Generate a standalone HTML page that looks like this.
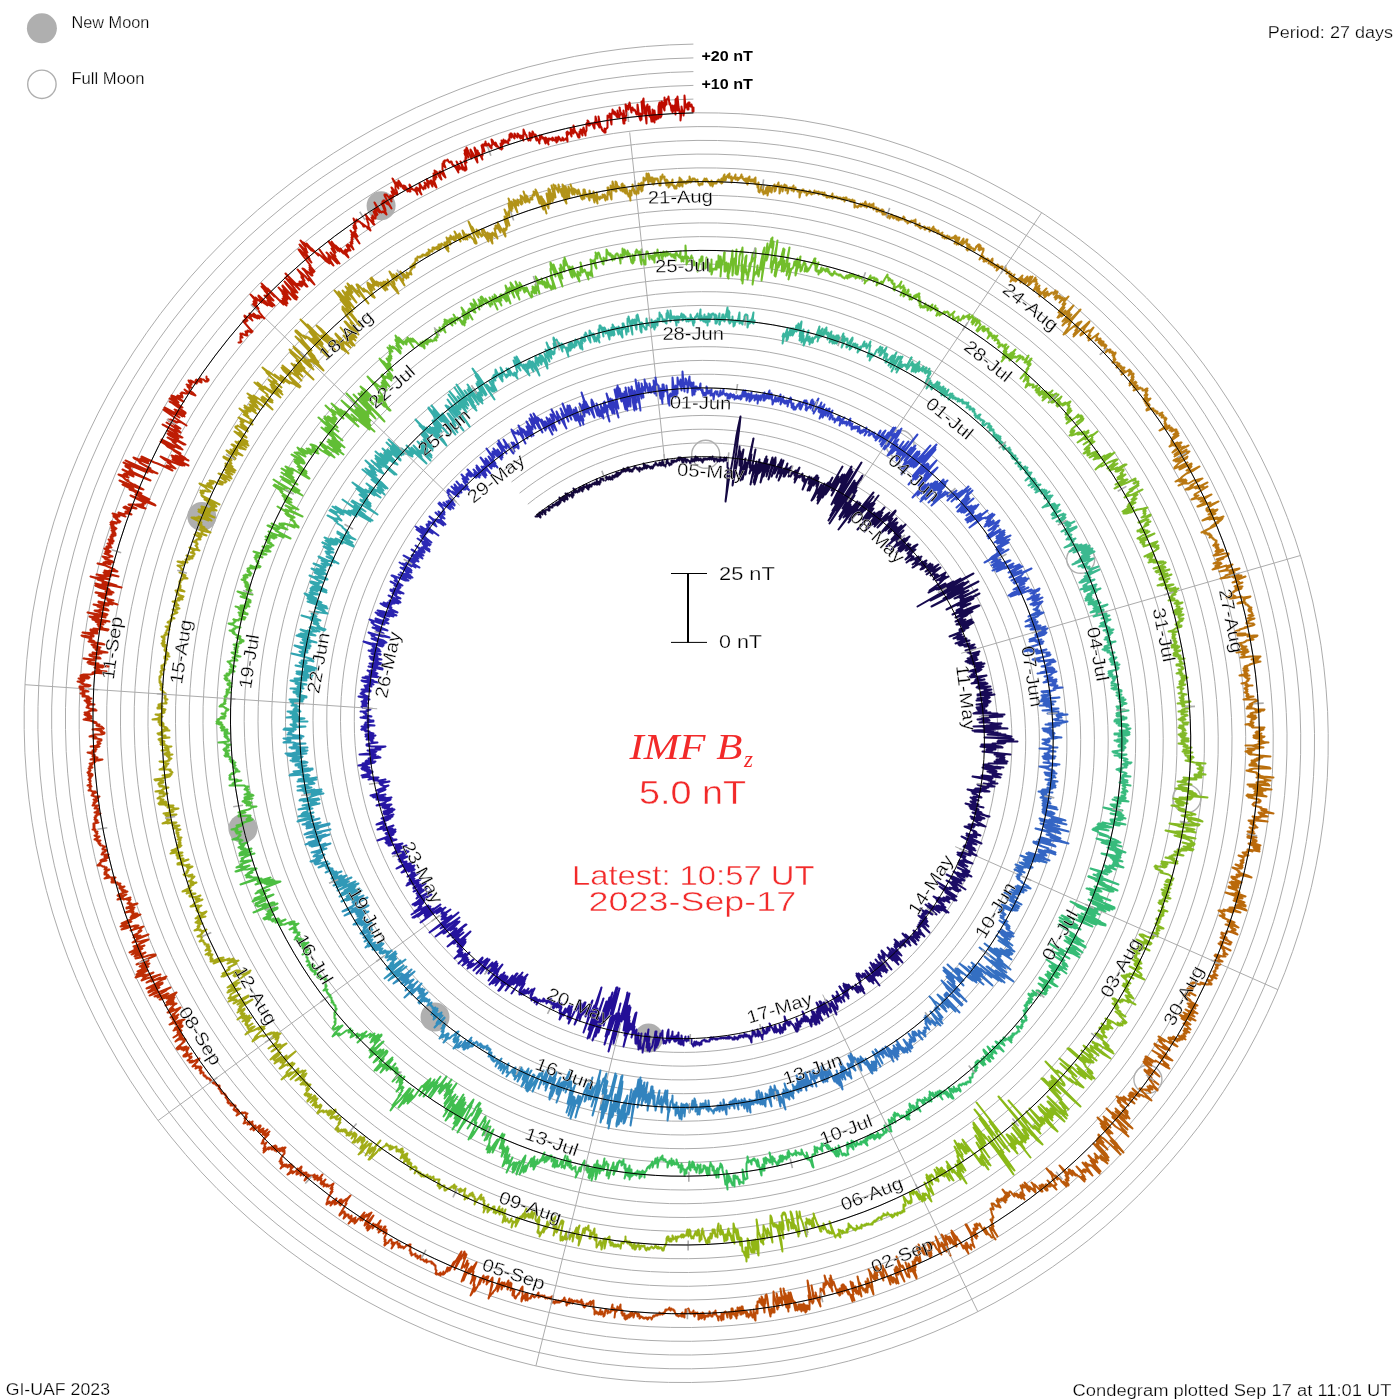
<!DOCTYPE html><html><head><meta charset="utf-8"><title>IMF Bz Condegram</title>
<style>html,body{margin:0;padding:0;background:#fff;width:1400px;height:1400px;overflow:hidden}svg{display:block}text{font-family:"Liberation Sans",Arial,sans-serif}</style></head><body>
<svg width="1400" height="1400" viewBox="0 0 1400 1400">
<rect width="1400" height="1400" fill="#fff"/>
<g fill="none" stroke="#acacac" stroke-width="1">
<path d="M527.8 504.2l7.7 -6l8 -5.6l8.2 -5.5l8.4 -5.1l8.6 -4.8l8.7 -4.6l9 -4.2l9 -3.9l9.3 -3.6l9.3 -3.3l9.5 -3l9.6 -2.7l9.6 -2.3l9.8 -1.9l9.8 -1.7l10 -1.3l9.9 -0.9l10 -0.6l10.1 -0.3l10 0.1l10 0.5l10.1 0.8l10 1.2l10 1.5l9.9 1.8l9.9 2.2l9.8 2.6l9.8 2.9l9.6 3.2l9.5 3.6l9.4 3.9l9.3 4.3l9.1 4.5l9 4.9l8.9 5.3l8.6 5.5l8.4 5.8l8.3 6.1l8.1 6.5l7.8 6.7l7.6 7l7.3 7.2l7.2 7.6l6.8 7.7l6.6 8.1l6.3 8.2l6 8.5l5.8 8.7l5.4 8.9l5.1 9.1l4.8 9.3l4.5 9.4l4.2 9.7l3.8 9.7l3.5 10l3.2 10l2.8 10.2l2.4 10.2l2.1 10.4l1.7 10.4l1.4 10.5l1 10.6l0.6 10.6l0.2 10.6l-0.1 10.7l-0.5 10.6l-0.8 10.6l-1.2 10.7l-1.6 10.5l-2 10.6l-2.4 10.4l-2.7 10.4l-3.1 10.3l-3.4 10.2l-3.8 10.1l-4.1 10l-4.5 9.8l-4.9 9.7l-5.2 9.5l-5.5 9.3l-5.9 9.1l-6.1 9l-6.5 8.7l-6.8 8.5l-7.1 8.3l-7.4 8.1l-7.7 7.7l-8 7.6l-8.2 7.2l-8.5 7l-8.7 6.6l-9 6.4l-9.2 6.1l-9.4 5.7l-9.6 5.4l-9.9 5.1l-10 4.7l-10.1 4.4l-10.4 4.1l-10.5 3.7l-10.6 3.3l-10.7 2.9l-10.9 2.6l-10.9 2.2l-11 1.8l-11.1 1.5l-11.2 1l-11.2 0.7l-11.2 0.2l-11.3 -0.1l-11.2 -0.5l-11.2 -0.9l-11.2 -1.3l-11.2 -1.7l-11.1 -2.1l-11.1 -2.5l-10.9 -2.9l-10.9 -3.2l-10.8 -3.6l-10.6 -4l-10.5 -4.4l-10.4 -4.8l-10.2 -5.1l-10 -5.5l-9.9 -5.8l-9.6 -6.2l-9.5 -6.5l-9.2 -6.9l-9 -7.1l-8.7 -7.5l-8.5 -7.9l-8.2 -8.1l-7.9 -8.4l-7.7 -8.6l-7.3 -9l-7 -9.2l-6.7 -9.5l-6.4 -9.7l-6.1 -9.9l-5.7 -10.1l-5.3 -10.4l-5 -10.5l-4.7 -10.8l-4.2 -10.9l-3.9 -11l-3.5 -11.2l-3.1 -11.3l-2.7 -11.5l-2.3 -11.5l-2 -11.6l-1.5 -11.7l-1.1 -11.7l-0.7 -11.8l-0.2 -11.9l0.1 -11.8l0.6 -11.9l0.9 -11.8l1.4 -11.8l1.8 -11.7l2.2 -11.8l2.6 -11.6l3 -11.5l3.4 -11.5l3.9 -11.3l4.2 -11.2l4.6 -11.1l5 -10.9l5.4 -10.7l5.8 -10.6l6.1 -10.3l6.5 -10.2l6.9 -9.9l7.2 -9.7l7.5 -9.5l7.9 -9.2l8.2 -8.9l8.6 -8.6l8.8 -8.3l9.1 -8.1l9.4 -7.7l9.7 -7.4l10 -7l10.2 -6.8l10.4 -6.3l10.7 -6l10.9 -5.7l11.1 -5.2l11.3 -4.9l11.4 -4.5l11.6 -4l11.8 -3.7l11.9 -3.3l12 -2.8l12.1 -2.5l12.2 -2l12.3 -1.5l12.4 -1.2l12.3 -0.7l12.5 -0.3l12.4 0.1l12.5 0.6l12.4 1l12.4 1.5l12.3 1.8l12.3 2.3l12.2 2.8l12.2 3.2l12 3.6l11.9 4l11.8 4.4l11.6 4.8l11.4 5.3l11.3 5.7l11.1 6l10.9 6.5l10.6 6.8l10.4 7.2l10.2 7.6l9.9 7.9l9.7 8.3l9.3 8.6l9.1 8.9l8.7 9.3l8.5 9.6l8.1 9.9l7.7 10.1l7.4 10.5l7.1 10.7l6.6 10.9l6.3 11.2l5.9 11.4l5.6 11.7l5.1 11.8l4.7 12l4.2 12.2l3.9 12.3l3.4 12.5l3 12.6l2.6 12.7l2.1 12.8l1.6 12.9l1.2 12.9l0.8 13l0.3 13l-0.1 13.1l-0.6 13l-1.1 13l-1.5 13l-2 13l-2.4 12.8l-2.9 12.8l-3.3 12.8l-3.8 12.5l-4.2 12.5l-4.6 12.3l-5.1 12.2l-5.5 12l-5.9 11.8l-6.3 11.6l-6.8 11.4l-7.1 11.2l-7.6 10.9l-7.9 10.7l-8.3 10.3l-8.7 10.1l-9 9.8l-9.4 9.5l-9.7 9.2l-10 8.8l-10.3 8.5l-10.7 8.1l-10.9 7.8l-11.2 7.4l-11.5 6.9l-11.7 6.6l-11.9 6.2l-12.2 5.8l-12.4 5.3l-12.5 4.9l-12.8 4.5l-12.9 4.1l-13 3.5l-13.2 3.2l-13.3 2.7l-13.4 2.2l-13.5 1.7l-13.5 1.3l-13.6 0.8l-13.6 0.3l-13.7 -0.1l-13.6 -0.7l-13.6 -1.1l-13.6 -1.6l-13.5 -2l-13.5 -2.5l-13.4 -3l-13.3 -3.5l-13.2 -3.9l-13 -4.4l-12.9 -4.9l-12.7 -5.3l-12.6 -5.7l-12.3 -6.2l-12.1 -6.6l-11.9 -7.1l-11.7 -7.5l-11.4 -7.8l-11.2 -8.3l-10.8 -8.7l-10.6 -9l-10.2 -9.5l-9.9 -9.8l-9.6 -10.1l-9.2 -10.5l-8.9 -10.8l-8.5 -11.1l-8.1 -11.4l-7.7 -11.7l-7.3 -12l-6.9 -12.2l-6.5 -12.5l-6 -12.7l-5.6 -12.9l-5.1 -13.1l-4.7 -13.3l-4.2 -13.5l-3.8 -13.6l-3.2 -13.8l-2.8 -13.9l-2.4 -13.9l-1.8 -14.1l-1.3 -14.2l-0.9 -14.1l-0.3 -14.3l0.2 -14.2l0.6 -14.2l1.1 -14.3l1.7 -14.1l2.1 -14.2l2.7 -14l3.1 -14l3.6 -13.9l4.1 -13.7l4.6 -13.6l5 -13.5l5.6 -13.3l6 -13l6.4 -12.9l6.9 -12.7l7.4 -12.4l7.8 -12.2l8.2 -11.9l8.6 -11.6l9 -11.4l9.5 -11l9.8 -10.7l10.2 -10.3l10.6 -10l10.9 -9.6l11.3 -9.3l11.5 -8.8l11.9 -8.5l12.2 -8l12.5 -7.7l12.8 -7.1l13 -6.8l13.2 -6.3l13.5 -5.8l13.7 -5.4l13.8 -4.9l14.1 -4.4l14.2 -3.9l14.3 -3.4l14.5 -2.9l14.6 -2.4l14.6 -1.9l14.7 -1.4l14.8 -0.9l14.8 -0.4l14.9 0.2l14.8 0.6l14.8 1.2l14.8 1.7l14.7 2.2l14.7 2.8l14.5 3.2l14.5 3.8l14.3 4.2l14.2 4.8l14 5.3l13.9 5.7l13.6 6.3l13.4 6.7l13.2 7.2l13 7.6l12.6 8.1l12.4 8.6l12.1 8.9l11.8 9.5l11.5 9.8l11.2 10.2l10.7 10.6l10.4 11l10.1 11.4l9.6 11.7l9.2 12.1l8.8 12.3l8.4 12.7l8 13l7.5 13.3l7 13.5l6.5 13.8l6.1 14l5.6 14.3l5.1 14.4l4.6 14.6l4.1 14.8l3.5 14.9l3.1 15l2.5 15.2l2 15.3l1.5 15.3l0.9 15.4l0.4 15.4l-0.2 15.4l-0.7 15.5l-1.2 15.4l-1.7 15.3l-2.3 15.4l-2.9 15.2l-3.4 15.1l-3.9 15.1l-4.4 14.9l-4.9 14.7l-5.5 14.6l-6 14.4l-6.4 14.2l-7 13.9l-7.5 13.8l-7.9 13.4l-8.4 13.2l-8.9 12.9l-9.4 12.6l-9.7 12.3l-10.2 11.9l-10.7 11.6l-11 11.2l-11.4 10.9l-11.8 10.4l-12.2 10l-12.5 9.6l-12.9 9.2l-13.2 8.7l-13.5 8.3l-13.8 7.8l-14 7.3l-14.3 6.8l-14.6 6.3l-14.8 5.8l-15 5.3l-15.2 4.8l-15.3 4.3l-15.5 3.7l-15.7 3.1l-15.7 2.7l-15.9 2.1l-15.9 1.5l-16 1l-16 0.4l-16 -0.2l-16 -0.7l-16 -1.2l-16 -1.9l-15.9 -2.3l-15.9 -3l-15.7 -3.5l-15.6 -4l-15.5 -4.6l-15.3 -5.1l-15.1 -5.7l-15 -6.2l-14.7 -6.7l-14.5 -7.2l-14.3 -7.8l-14 -8.2l-13.7 -8.8l-13.4 -9.2l-13.1 -9.6l-12.7 -10.2l-12.4 -10.6l-12 -11l-11.7 -11.4l-11.2 -11.9l-10.9 -12.2l-10.4 -12.7l-10 -13l-9.5 -13.3l-9 -13.7l-8.6 -14l-8.1 -14.3l-7.6 -14.6l-7.1 -14.8l-6.6 -15.1l-6 -15.4l-5.5 -15.5l-5 -15.8l-4.4 -15.9l-3.9 -16.1l-3.3 -16.2l-2.7 -16.4l-2.2 -16.4l-1.6 -16.5l-1 -16.6l-0.5 -16.6l0.2 -16.6l0.7 -16.7l1.3 -16.6l1.9 -16.5l2.4 -16.5l3.1 -16.5l3.6 -16.3l4.2 -16.2l4.7 -16l5.3 -15.9l5.9 -15.7l6.4 -15.5l6.9 -15.3l7.5 -15.1l8 -14.8l8.6 -14.5l9 -14.2l9.6 -13.9l10 -13.6l10.5 -13.2l11 -12.8l11.4 -12.5l11.8 -12.1l12.3 -11.7l12.7 -11.2l13.1 -10.8l13.5 -10.4l13.8 -9.9l14.2 -9.4l14.5 -8.9l14.8 -8.4l15.1 -7.8l15.4 -7.4l15.6 -6.8l15.9 -6.3l16.1 -5.7l16.4 -5.2l16.5 -4.6l16.6 -4l16.8 -3.4l16.9 -2.9l17.1 -2.3l17.1 -1.6l17.2 -1.1l17.2 -0.5l17.2 0.2l17.2 0.7l17.3 1.3l17.1 2l17.1 2.5l17 3.1l16.9 3.8l16.8 4.3l16.6 4.9l16.5 5.5l16.3 6l16.1 6.7l15.8 7.2l15.6 7.7l15.3 8.3l15 8.8l14.8 9.4l14.4 9.8l14 10.4l13.7 10.9l13.3 11.3l13 11.8l12.5 12.3l12.1 12.7l11.6 13.1l11.2 13.6l10.8 13.9l10.2 14.3l9.7 14.7l9.3 15l8.7 15.3l8.2 15.6l7.6 16l7.1 16.2l6.5 16.4l5.9 16.7l5.4 16.9l4.7 17l4.2 17.3l3.6 17.4l2.9 17.5l2.4 17.6l1.7 17.7l1.1 17.8l0.5 17.8l-0.1 17.8l-0.7 17.9l-1.4 17.8l-2 17.7l-2.6 17.7l-3.2 17.6l-3.8 17.5l-4.5 17.4l-5.1 17.2l-5.6 17l-6.3 16.9l-6.8 16.6l-7.4 16.4l-8 16.1l-8.6 15.9l-9.1 15.5l-9.7 15.3l-10.2 14.9l-10.7 14.5l-11.2 14.2l-11.7 13.8l-12.3 13.4l-12.6 12.9l-13.2 12.6l-13.5 12l-14 11.6l-14.4 11.1l-14.8 10.6l-15.1 10.1l-15.6 9.6l-15.8 9l-16.2 8.4l-16.4 7.9l-16.8 7.4l-17 6.7l-17.2 6.2l-17.4 5.5l-17.7 5l-17.8 4.3l-18 3.7l-18.1 3.1l-18.2 2.4l-18.3 1.8l-18.4 1.2l-18.4 0.5l-18.4 -0.1l-18.4 -0.7l-18.4 -1.4l-18.4 -2.1l-18.3 -2.6l-18.2 -3.4l-18.1 -3.9l-17.9 -4.6l-17.8 -5.2l-17.6 -5.8l-17.4 -6.5l-17.2 -7.1l-17 -7.6l-16.6 -8.3l-16.4 -8.8l-16.1 -9.4l-15.8 -10l-15.4 -10.5l-15 -11.1l-14.7 -11.5l-14.2 -12.1l-13.9 -12.6l-13.4 -13.1l-12.9 -13.6l-12.5 -14l-11.9 -14.4l-11.5 -14.9l-11 -15.2l-10.4 -15.7l-9.9 -16l-9.3 -16.3l-8.8 -16.7l-8.2 -17l-7.6 -17.3l-6.9 -17.5l-6.4 -17.8l-5.8 -18.1l-5.1 -18.2l-4.5 -18.4l-3.8 -18.5l-3.2 -18.7l-2.5 -18.8l-1.9 -18.9l-1.3 -19l-0.5 -19l0.1 -19l0.7 -19.1l1.5 -19l2 -18.9l2.8 -18.9l3.4 -18.8l4.1 -18.7l4.7 -18.5l5.3 -18.4l6.1 -18.1l6.6 -18l7.3 -17.8l7.9 -17.5l8.5 -17.2l9.1 -16.9l9.7 -16.6l10.2 -16.3l10.9 -15.9l11.4 -15.5l11.9 -15.2l12.5 -14.7l13 -14.3l13.5 -13.8l13.9 -13.4l14.5 -12.9l14.9 -12.4l15.3 -11.8l15.7 -11.3l16.2 -10.8l16.5 -10.2l16.8 -9.7l17.2 -9l17.6 -8.5l17.8 -7.8l18.1 -7.2l18.3 -6.6l18.6 -6l18.8 -5.3l19 -4.6l19.1 -4l19.3 -3.3l19.4 -2.7l19.5 -1.9l19.6 -1.3l19.6 -0.6l19.6 0.1l19.6 0.7l19.6 1.5l19.6 2.1l19.5 2.8l19.3 3.5l19.3 4.2l19.1 4.9l19 5.5l18.7 6.1l18.6 6.9l18.3 7.5l18 8.1l17.8 8.7l17.4 9.4l17.2 10l16.8 10.6l16.4 11.1l16 11.8l15.6 12.3l15.2 12.8l14.8 13.4l14.3 13.9l13.8 14.4l13.3 14.8l12.7 15.4l12.3 15.8l11.7 16.2l11.1 16.6l10.5 17l10 17.4l9.3 17.7l8.8 18.1l8.1 18.3l7.4 18.7l6.8 18.9l6.2 19.1l5.5 19.4l4.8 19.6l4.1 19.7l3.4 19.8l2.8 20l2 20.1l1.4 20.2l0.6 20.2l-0.1 20.2l-0.7 20.2l-1.5 20.2l-2.2 20.2l-2.9 20.1l-3.6 19.9l-4.2 19.9l-5 19.7l-5.7 19.5l-6.3 19.4l-7 19.1l-7.7 18.8l-8.4 18.6l-9 18.3l-9.6 18l-10.3 17.7l-10.9 17.3l-11.4 16.9l-12.1 16.6l-12.7 16.1l-13.2 15.6l-13.8 15.2l-14.3 14.8l-14.8 14.2l-15.3 13.7l-15.8 13.2l-16.2 12.6l-16.7 12.1l-17.1 11.4l-17.5 10.9l-17.9 10.3l-18.2 9.6l-18.6 9l-18.9 8.4l-19.2 7.7l-19.5 7l-19.7 6.4l-19.9 5.6l-20.2 5l-20.3 4.3l-20.4 3.5l-20.6 2.9l-20.7 2.1l-20.7 1.4l-20.8 0.7l-20.9 -0.1l-20.8 -0.7l-20.8 -1.5l-20.7 -2.3l-20.7 -2.9l-20.6 -3.7l-20.4 -4.4l-20.3 -5.1l-20.1 -5.8l-19.9 -6.5l-19.7 -7.2l-19.4 -7.9l-19.2 -8.6l-18.9 -9.2l-18.5 -9.9l-18.2 -10.5l-17.8 -11.2l-17.4 -11.8l-17.1 -12.4l-16.6 -13.1l-16.1 -13.5l-15.7 -14.2l-15.1 -14.7l-14.7 -15.2l-14.1 -15.8l-13.6 -16.2l-13 -16.7l-12.4 -17.2l-11.8 -17.5l-11.3 -18.1l-10.5 -18.4l-10 -18.7l-9.3 -19.1l-8.6 -19.5l-7.9 -19.7l-7.3 -20l-6.6 -20.3l-5.8 -20.5l-5.1 -20.7l-4.4 -20.9l-3.7 -21.1l-3 -21.1l-2.2 -21.3l-1.5 -21.3l-0.7 -21.4l0 -21.5l0.8 -21.4l1.5 -21.4l2.3 -21.3l3 -21.3l3.8 -21.2l4.5 -21l5.2 -20.9l5.9 -20.7l6.7 -20.5l7.4 -20.2l8.1 -20l8.8 -19.7l9.5 -19.4l10.2 -19.1l10.8 -18.7l11.5 -18.4l12.1 -17.9l12.7 -17.5l13.4 -17.1l14 -16.6l14.5 -16.1l15.1 -15.6l15.6 -15.1l16.2 -14.6l16.7 -14l17.1 -13.3l17.7 -12.8l18.1 -12.2l18.5 -11.6l18.9 -10.9l19.3 -10.2l19.6 -9.6l20 -8.9l20.3 -8.2l20.5 -7.5l20.9 -6.7l21.1 -6l21.2 -5.3l21.5 -4.6l21.6 -3.8l21.8 -3.1l21.9 -2.3l21.9 -1.5l22 -0.8"/>
<path d="M519.6 493.1l8.2 -6.2l8.4 -6l8.6 -5.6l8.8 -5.4l9 -5.1l9.2 -4.7l9.4 -4.4l9.5 -4.1l9.7 -3.8l9.8 -3.5l9.9 -3.1l10 -2.7l10.2 -2.4l10.2 -2.1l10.4 -1.7l10.3 -1.3l10.5 -1l10.5 -0.6l10.5 -0.2l10.5 0.1l10.5 0.5l10.5 0.9l10.5 1.2l10.5 1.6l10.4 2l10.3 2.3l10.3 2.7l10.2 3l10.1 3.4l10 3.8l9.8 4.1l9.7 4.5l9.6 4.8l9.4 5.1l9.2 5.5l9 5.8l8.9 6.1l8.6 6.5l8.4 6.7l8.2 7l7.9 7.4l7.7 7.6l7.5 7.9l7.1 8.1l6.9 8.4l6.6 8.7l6.3 8.8l6 9.1l5.6 9.4l5.4 9.5l5 9.7l4.7 9.9l4.3 10.1l4 10.2l3.6 10.4l3.3 10.5l2.9 10.6l2.5 10.8l2.2 10.8l1.8 10.9l1.4 11l1 11l0.7 11.1l0.2 11.1l-0.1 11.1l-0.6 11.2l-0.9 11.1l-1.3 11.1l-1.7 11l-2.1 11l-2.4 10.9l-2.9 10.9l-3.2 10.7l-3.6 10.7l-4 10.5l-4.3 10.4l-4.7 10.3l-5.1 10.1l-5.5 9.9l-5.7 9.7l-6.2 9.6l-6.4 9.3l-6.8 9.1l-7.1 8.9l-7.5 8.6l-7.7 8.4l-8 8.1l-8.4 7.8l-8.6 7.6l-8.8 7.2l-9.2 7l-9.3 6.6l-9.6 6.3l-9.9 6l-10 5.6l-10.3 5.3l-10.4 5l-10.6 4.5l-10.8 4.2l-11 3.9l-11.1 3.4l-11.2 3.1l-11.3 2.7l-11.4 2.2l-11.5 1.9l-11.6 1.5l-11.6 1.1l-11.7 0.6l-11.7 0.3l-11.7 -0.2l-11.7 -0.5l-11.8 -1l-11.6 -1.4l-11.7 -1.7l-11.6 -2.2l-11.5 -2.6l-11.4 -3l-11.3 -3.4l-11.2 -3.8l-11.1 -4.2l-11 -4.6l-10.8 -5l-10.6 -5.3l-10.5 -5.8l-10.2 -6l-10 -6.5l-9.9 -6.8l-9.6 -7.2l-9.3 -7.5l-9.1 -7.8l-8.8 -8.1l-8.5 -8.5l-8.3 -8.7l-7.9 -9.1l-7.7 -9.3l-7.3 -9.6l-7 -9.9l-6.6 -10.1l-6.3 -10.3l-5.9 -10.6l-5.6 -10.8l-5.2 -11l-4.8 -11.2l-4.4 -11.3l-4 -11.5l-3.6 -11.7l-3.2 -11.7l-2.9 -11.9l-2.3 -12.1l-2 -12l-1.6 -12.2l-1.1 -12.2l-0.7 -12.3l-0.3 -12.3l0.2 -12.4l0.6 -12.3l1 -12.3l1.4 -12.3l1.9 -12.2l2.3 -12.2l2.7 -12.1l3.2 -12l3.6 -11.9l4 -11.8l4.4 -11.6l4.8 -11.5l5.2 -11.3l5.6 -11.2l6 -11l6.4 -10.7l6.8 -10.6l7.1 -10.3l7.6 -10.1l7.8 -9.8l8.2 -9.5l8.6 -9.3l8.9 -8.9l9.2 -8.7l9.5 -8.3l9.8 -8l10 -7.7l10.4 -7.3l10.6 -7l10.9 -6.6l11.1 -6.2l11.3 -5.9l11.5 -5.4l11.7 -5.1l11.9 -4.6l12.1 -4.2l12.2 -3.8l12.4 -3.4l12.5 -2.9l12.6 -2.6l12.6 -2l12.8 -1.7l12.8 -1.1l12.9 -0.8l12.9 -0.3l12.9 0.2l13 0.6l12.9 1.1l12.8 1.5l12.9 1.9l12.7 2.5l12.7 2.8l12.6 3.3l12.5 3.8l12.3 4.2l12.2 4.6l12.1 5l11.9 5.5l11.7 5.9l11.4 6.3l11.3 6.7l11.1 7.1l10.8 7.5l10.5 7.8l10.3 8.3l10 8.6l9.7 8.9l9.4 9.3l9.1 9.6l8.7 10l8.4 10.2l8 10.6l7.7 10.8l7.3 11.2l6.9 11.3l6.5 11.6l6.2 11.9l5.7 12.1l5.2 12.2l4.9 12.5l4.4 12.6l4 12.8l3.5 13l3.1 13l2.7 13.2l2.1 13.3l1.7 13.3l1.3 13.5l0.8 13.4l0.3 13.5l-0.2 13.6l-0.6 13.5l-1.1 13.5l-1.6 13.4l-2.1 13.5l-2.5 13.3l-3 13.3l-3.4 13.1l-4 13.1l-4.3 12.9l-4.9 12.8l-5.2 12.6l-5.8 12.4l-6.1 12.3l-6.6 12l-7 11.8l-7.4 11.5l-7.8 11.3l-8.3 11.1l-8.6 10.7l-9 10.5l-9.3 10.1l-9.7 9.8l-10.1 9.5l-10.4 9.2l-10.7 8.7l-11 8.4l-11.4 8.1l-11.6 7.6l-11.8 7.2l-12.2 6.8l-12.4 6.4l-12.6 6l-12.8 5.5l-13 5.1l-13.2 4.6l-13.4 4.2l-13.5 3.7l-13.6 3.2l-13.8 2.8l-13.9 2.2l-13.9 1.8l-14 1.3l-14.1 0.8l-14.1 0.4l-14.1 -0.2l-14.1 -0.7l-14.1 -1.1l-14.1 -1.7l-14 -2.1l-14 -2.6l-13.8 -3.2l-13.8 -3.6l-13.6 -4l-13.5 -4.6l-13.3 -5l-13.2 -5.5l-12.9 -6l-12.8 -6.4l-12.6 -6.9l-12.3 -7.3l-12 -7.7l-11.8 -8.2l-11.6 -8.6l-11.2 -8.9l-10.9 -9.4l-10.6 -9.8l-10.2 -10.1l-9.9 -10.5l-9.6 -10.8l-9.1 -11.2l-8.8 -11.5l-8.4 -11.8l-7.9 -12.1l-7.6 -12.4l-7.1 -12.7l-6.7 -12.9l-6.2 -13.1l-5.7 -13.4l-5.3 -13.6l-4.9 -13.7l-4.3 -14l-3.9 -14.1l-3.4 -14.2l-2.8 -14.4l-2.4 -14.4l-1.9 -14.6l-1.4 -14.6l-0.8 -14.6l-0.4 -14.7l0.2 -14.8l0.7 -14.7l1.2 -14.7l1.7 -14.6l2.2 -14.6l2.8 -14.6l3.2 -14.4l3.8 -14.3l4.2 -14.2l4.7 -14.1l5.3 -13.9l5.7 -13.7l6.2 -13.5l6.7 -13.3l7.1 -13.1l7.6 -12.8l8.1 -12.6l8.5 -12.3l8.9 -12l9.4 -11.7l9.7 -11.4l10.2 -11l10.5 -10.7l11 -10.3l11.3 -9.9l11.6 -9.6l12 -9.1l12.3 -8.7l12.6 -8.3l12.9 -7.9l13.1 -7.4l13.5 -7l13.7 -6.5l13.9 -6l14.1 -5.5l14.3 -5l14.5 -4.6l14.7 -4l14.8 -3.5l14.9 -3l15.1 -2.5l15.1 -2l15.2 -1.4l15.3 -0.9l15.3 -0.3l15.3 0.1l15.3 0.7l15.3 1.3l15.3 1.7l15.2 2.3l15.1 2.9l15 3.3l14.9 3.9l14.8 4.4l14.6 5l14.5 5.4l14.3 6l14 6.4l13.9 6.9l13.6 7.5l13.4 7.9l13 8.3l12.8 8.9l12.5 9.3l12.2 9.7l11.8 10.1l11.5 10.6l11.1 10.9l10.7 11.4l10.4 11.7l9.9 12.1l9.5 12.5l9.1 12.7l8.6 13.1l8.2 13.4l7.7 13.7l7.3 14l6.7 14.2l6.3 14.5l5.7 14.7l5.3 14.9l4.7 15l4.2 15.3l3.6 15.4l3.2 15.5l2.6 15.6l2 15.8l1.5 15.8l1 15.8l0.3 15.9l-0.1 15.9l-0.7 15.9l-1.3 15.9l-1.9 15.9l-2.3 15.8l-3 15.7l-3.5 15.6l-4 15.5l-4.6 15.3l-5.1 15.2l-5.6 15.1l-6.2 14.8l-6.7 14.6l-7.2 14.4l-7.7 14.1l-8.2 13.9l-8.7 13.6l-9.1 13.3l-9.7 13l-10 12.6l-10.6 12.3l-10.9 11.9l-11.4 11.6l-11.8 11.1l-12.2 10.8l-12.5 10.3l-12.9 9.9l-13.3 9.4l-13.6 9l-13.9 8.5l-14.2 8l-14.5 7.5l-14.7 7l-15.1 6.5l-15.2 6l-15.4 5.5l-15.7 4.9l-15.8 4.4l-16 3.8l-16.1 3.2l-16.2 2.7l-16.3 2.2l-16.4 1.5l-16.5 1l-16.5 0.4l-16.5 -0.1l-16.5 -0.8l-16.5 -1.3l-16.4 -1.9l-16.4 -2.4l-16.3 -3.1l-16.2 -3.6l-16.1 -4.1l-15.9 -4.8l-15.8 -5.3l-15.6 -5.8l-15.4 -6.4l-15.1 -6.9l-15 -7.5l-14.7 -8l-14.3 -8.5l-14.1 -9l-13.8 -9.5l-13.5 -9.9l-13.1 -10.5l-12.8 -10.9l-12.3 -11.3l-12 -11.8l-11.6 -12.2l-11.1 -12.6l-10.8 -13.1l-10.2 -13.3l-9.8 -13.8l-9.3 -14.1l-8.8 -14.4l-8.4 -14.7l-7.8 -15l-7.3 -15.3l-6.7 -15.6l-6.2 -15.8l-5.7 -16l-5.1 -16.2l-4.5 -16.4l-4 -16.5l-3.4 -16.7l-2.8 -16.8l-2.2 -16.9l-1.6 -17l-1.1 -17.1l-0.4 -17.1l0.1 -17.1l0.8 -17.1l1.3 -17.1l2 -17l2.5 -17l3.1 -16.9l3.8 -16.8l4.3 -16.7l4.9 -16.5l5.4 -16.3l6.1 -16.2l6.6 -15.9l7.2 -15.7l7.7 -15.5l8.2 -15.2l8.8 -14.9l9.3 -14.6l9.8 -14.3l10.4 -14l10.8 -13.6l11.3 -13.2l11.7 -12.8l12.2 -12.4l12.6 -12l13.1 -11.6l13.5 -11.1l13.8 -10.6l14.2 -10.2l14.6 -9.6l14.9 -9.2l15.3 -8.6l15.5 -8.1l15.8 -7.5l16.1 -7l16.4 -6.5l16.5 -5.9l16.8 -5.3l17 -4.7l17.1 -4.1l17.3 -3.5l17.4 -2.9l17.5 -2.4l17.6 -1.7l17.7 -1l17.6 -0.5l17.8 0.1l17.7 0.8l17.7 1.4l17.6 2l17.6 2.6l17.5 3.2l17.3 3.9l17.3 4.4l17.1 5.1l16.9 5.6l16.7 6.2l16.5 6.9l16.3 7.4l16 7.9l15.7 8.6l15.5 9l15.1 9.7l14.8 10.1l14.4 10.7l14.1 11.1l13.7 11.7l13.2 12.1l12.9 12.7l12.4 13l12 13.5l11.5 13.9l11 14.3l10.5 14.7l10 15.1l9.5 15.4l8.9 15.8l8.4 16.1l7.8 16.3l7.3 16.7l6.6 16.9l6.1 17.1l5.5 17.3l4.9 17.6l4.3 17.7l3.6 17.8l3.1 18l2.4 18.1l1.8 18.2l1.1 18.3l0.5 18.3l-0.1 18.3l-0.8 18.3l-1.4 18.3l-2.1 18.2l-2.7 18.2l-3.3 18l-3.9 18l-4.6 17.8l-5.2 17.7l-5.8 17.5l-6.5 17.3l-7 17l-7.6 16.9l-8.3 16.5l-8.8 16.3l-9.3 15.9l-10 15.7l-10.4 15.3l-11 14.9l-11.6 14.6l-12 14.1l-12.5 13.7l-13.1 13.3l-13.4 12.9l-14 12.3l-14.3 11.9l-14.8 11.4l-15.2 10.9l-15.6 10.3l-15.9 9.8l-16.3 9.3l-16.6 8.7l-16.8 8.1l-17.2 7.5l-17.5 6.9l-17.7 6.3l-17.9 5.7l-18.1 5l-18.3 4.5l-18.4 3.8l-18.6 3.1l-18.7 2.5l-18.8 1.9l-18.8 1.2l-18.9 0.5l-18.9 -0.1l-18.9 -0.8l-18.9 -1.4l-18.8 -2.2l-18.8 -2.7l-18.7 -3.4l-18.5 -4.1l-18.4 -4.7l-18.3 -5.4l-18 -6l-17.9 -6.6l-17.6 -7.2l-17.4 -7.9l-17.1 -8.5l-16.8 -9l-16.5 -9.7l-16.1 -10.2l-15.8 -10.8l-15.5 -11.4l-15 -11.9l-14.6 -12.4l-14.2 -12.9l-13.7 -13.4l-13.3 -13.9l-12.8 -14.4l-12.3 -14.8l-11.7 -15.3l-11.3 -15.6l-10.6 -16.1l-10.2 -16.4l-9.5 -16.8l-9 -17.1l-8.4 -17.4l-7.8 -17.8l-7.1 -17.9l-6.5 -18.3l-5.9 -18.5l-5.3 -18.6l-4.5 -18.9l-4 -19l-3.2 -19.2l-2.6 -19.3l-2 -19.4l-1.2 -19.4l-0.6 -19.5l0.1 -19.5l0.8 -19.5l1.5 -19.5l2.1 -19.4l2.9 -19.4l3.5 -19.2l4.1 -19.2l4.9 -19l5.5 -18.8l6.2 -18.6l6.8 -18.5l7.4 -18.2l8.1 -17.9l8.8 -17.6l9.3 -17.4l9.9 -17l10.6 -16.7l11.1 -16.3l11.7 -15.9l12.2 -15.5l12.8 -15.1l13.3 -14.6l13.9 -14.2l14.3 -13.7l14.8 -13.2l15.3 -12.7l15.7 -12.1l16.1 -11.6l16.5 -11l17 -10.5l17.3 -9.9l17.6 -9.2l18 -8.7l18.2 -8l18.6 -7.4l18.8 -6.7l19 -6.1l19.3 -5.4l19.4 -4.8l19.6 -4.1l19.8 -3.4l19.9 -2.7l19.9 -2l20.1 -1.3l20 -0.6l20.2 0.1l20.1 0.8l20 1.5l20.1 2.2l19.9 2.9l19.9 3.6l19.7 4.3l19.6 5l19.4 5.6l19.2 6.3l19 7.1l18.7 7.6l18.5 8.3l18.2 9l17.9 9.6l17.5 10.3l17.2 10.8l16.8 11.4l16.5 12.1l15.9 12.6l15.6 13.1l15.1 13.7l14.6 14.3l14.1 14.7l13.6 15.3l13.1 15.7l12.5 16.1l12 16.6l11.4 17.1l10.8 17.4l10.2 17.8l9.5 18.2l9 18.4l8.2 18.8l7.7 19.1l6.9 19.4l6.3 19.6l5.6 19.8l4.9 20.1l4.3 20.1l3.5 20.4l2.8 20.5l2 20.5l1.4 20.7l0.7 20.6l-0.1 20.7l-0.8 20.8l-1.5 20.6l-2.3 20.7l-2.9 20.5l-3.7 20.5l-4.4 20.3l-5.1 20.1l-5.8 20l-6.5 19.8l-7.2 19.6l-7.9 19.3l-8.5 19l-9.3 18.8l-9.8 18.4l-10.5 18l-11.2 17.8l-11.7 17.3l-12.4 16.9l-13 16.5l-13.5 16l-14.1 15.5l-14.6 15.1l-15.2 14.5l-15.7 14.1l-16.1 13.4l-16.7 13l-17 12.3l-17.5 11.7l-18 11.2l-18.3 10.5l-18.7 9.8l-19 9.2l-19.3 8.6l-19.7 7.8l-19.9 7.2l-20.2 6.5l-20.3 5.8l-20.6 5.1l-20.8 4.3l-21 3.7l-21 2.9l-21.2 2.1l-21.2 1.5l-21.3 0.7l-21.3 -0.1l-21.3 -0.8l-21.3 -1.5l-21.2 -2.3l-21.1 -3.1l-21.1 -3.7l-20.9 -4.5l-20.7 -5.2l-20.6 -6l-20.4 -6.7l-20.1 -7.3l-19.9 -8.1l-19.6 -8.8l-19.3 -9.5l-18.9 -10.1l-18.6 -10.8l-18.2 -11.4l-17.9 -12.1l-17.4 -12.7l-16.9 -13.3l-16.5 -13.9l-16 -14.5l-15.5 -15.1l-15 -15.5l-14.5 -16.1l-13.8 -16.6l-13.3 -17.1l-12.7 -17.6l-12.1 -18l-11.5 -18.4l-10.8 -18.8l-10.2 -19.2l-9.5 -19.6l-8.8 -19.9l-8.1 -20.1l-7.4 -20.5l-6.7 -20.7l-6 -21l-5.2 -21.2l-4.5 -21.3l-3.8 -21.6l-3 -21.6l-2.2 -21.8l-1.5 -21.8l-0.7 -21.9l0 -21.9l0.8 -21.9l1.6 -21.9l2.3 -21.8l3.1 -21.7l3.8 -21.7l4.6 -21.5l5.4 -21.3l6.1 -21.1l6.8 -21l7.6 -20.7l8.3 -20.4l9 -20.2l9.7 -19.8l10.4 -19.5l11 -19.1l11.8 -18.8l12.4 -18.3l13 -17.9l13.7 -17.5l14.2 -16.9l14.9 -16.5l15.4 -16l16 -15.4l16.6 -14.8l17 -14.3l17.6 -13.7l18 -13.1l18.5 -12.4l18.9 -11.8l19.3 -11.1l19.7 -10.5l20.1 -9.8l20.4 -9l20.8 -8.4l21 -7.6l21.3 -6.9l21.5 -6.2l21.8 -5.4l21.9 -4.7l22.1 -3.8l22.3 -3.2l22.3 -2.3l22.4 -1.5l22.5 -0.8"/>
<path d="M511.5 482l8.6 -6.5l8.8 -6.2l9 -5.9l9.2 -5.6l9.4 -5.3l9.7 -5l9.8 -4.6l9.9 -4.3l10.1 -3.9l10.3 -3.6l10.4 -3.2l10.5 -2.9l10.6 -2.5l10.8 -2.1l10.8 -1.7l10.8 -1.4l10.9 -1l11 -0.6l11 -0.3l11 0.2l11 0.5l11 0.9l11 1.3l10.9 1.7l10.9 2.1l10.8 2.4l10.7 2.9l10.7 3.2l10.5 3.6l10.4 3.9l10.3 4.3l10.1 4.7l10 5l9.8 5.4l9.6 5.8l9.5 6l9.2 6.4l9 6.8l8.8 7l8.5 7.4l8.3 7.7l8 7.9l7.8 8.3l7.4 8.5l7.2 8.8l6.8 9l6.6 9.3l6.2 9.5l5.9 9.7l5.6 10l5.2 10.2l4.9 10.3l4.5 10.5l4.2 10.7l3.7 10.8l3.4 11l3 11.1l2.7 11.2l2.2 11.3l1.9 11.4l1.4 11.5l1.1 11.5l0.6 11.5l0.3 11.6l-0.2 11.6l-0.6 11.6l-0.9 11.6l-1.4 11.6l-1.8 11.5l-2.2 11.5l-2.6 11.4l-3 11.3l-3.3 11.2l-3.8 11.1l-4.2 10.9l-4.5 10.9l-5 10.7l-5.3 10.5l-5.6 10.3l-6.1 10.1l-6.4 10l-6.7 9.7l-7.1 9.5l-7.5 9.2l-7.7 9l-8.1 8.7l-8.4 8.5l-8.7 8.1l-8.9 7.9l-9.3 7.5l-9.5 7.2l-9.8 6.9l-10 6.6l-10.2 6.2l-10.5 5.9l-10.7 5.5l-10.9 5.1l-11.1 4.7l-11.2 4.4l-11.4 4l-11.5 3.5l-11.7 3.2l-11.8 2.8l-11.9 2.3l-12 2l-12 1.5l-12.1 1.1l-12.2 0.7l-12.2 0.2l-12.2 -0.1l-12.2 -0.6l-12.2 -1l-12.1 -1.5l-12.1 -1.9l-12.1 -2.3l-12 -2.7l-11.9 -3.1l-11.7 -3.6l-11.7 -3.9l-11.5 -4.4l-11.4 -4.8l-11.2 -5.2l-11.1 -5.6l-10.9 -5.9l-10.6 -6.4l-10.4 -6.7l-10.2 -7.1l-10 -7.5l-9.7 -7.8l-9.5 -8.1l-9.1 -8.5l-8.9 -8.8l-8.6 -9.1l-8.2 -9.4l-7.9 -9.7l-7.6 -10l-7.3 -10.3l-6.8 -10.5l-6.6 -10.8l-6.1 -11l-5.8 -11.2l-5.4 -11.4l-4.9 -11.6l-4.6 -11.8l-4.2 -12l-3.7 -12.1l-3.4 -12.3l-2.9 -12.3l-2.5 -12.5l-2 -12.6l-1.6 -12.6l-1.2 -12.7l-0.7 -12.8l-0.2 -12.8l0.1 -12.8l0.7 -12.8l1 -12.8l1.5 -12.7l2 -12.7l2.4 -12.7l2.9 -12.5l3.3 -12.5l3.7 -12.4l4.2 -12.2l4.5 -12.1l5.1 -11.9l5.4 -11.8l5.8 -11.6l6.3 -11.4l6.6 -11.1l7.1 -11l7.4 -10.7l7.8 -10.4l8.2 -10.2l8.5 -9.9l8.9 -9.6l9.3 -9.3l9.5 -9l9.9 -8.6l10.2 -8.3l10.4 -8l10.8 -7.5l11 -7.3l11.3 -6.8l11.5 -6.4l11.8 -6.1l11.9 -5.6l12.2 -5.2l12.3 -4.8l12.6 -4.4l12.7 -3.9l12.8 -3.5l12.9 -3.1l13.1 -2.6l13.2 -2.1l13.2 -1.7l13.3 -1.2l13.4 -0.7l13.3 -0.3l13.4 0.1l13.4 0.7l13.4 1.1l13.4 1.6l13.3 2.1l13.2 2.5l13.1 3l13.1 3.4l12.9 3.9l12.8 4.3l12.7 4.8l12.5 5.3l12.3 5.7l12.1 6.1l11.9 6.5l11.7 7l11.4 7.3l11.2 7.8l11 8.2l10.6 8.5l10.4 9l10 9.2l9.7 9.7l9.4 10l9.1 10.3l8.6 10.6l8.4 11l7.9 11.2l7.5 11.5l7.2 11.8l6.7 12.1l6.4 12.3l5.9 12.5l5.4 12.7l5 12.9l4.6 13.1l4.1 13.2l3.7 13.4l3.2 13.6l2.7 13.6l2.2 13.8l1.8 13.8l1.2 13.9l0.8 14l0.3 14l-0.2 14l-0.6 14l-1.2 13.9l-1.6 14l-2.2 13.9l-2.6 13.8l-3.1 13.7l-3.6 13.6l-4.1 13.5l-4.5 13.4l-5 13.2l-5.5 13.1l-5.9 12.8l-6.4 12.7l-6.8 12.4l-7.3 12.2l-7.7 12l-8.1 11.7l-8.5 11.4l-8.9 11.1l-9.3 10.8l-9.7 10.5l-10.1 10.1l-10.4 9.8l-10.8 9.5l-11.1 9.1l-11.4 8.6l-11.7 8.3l-12 7.9l-12.3 7.5l-12.6 7l-12.8 6.6l-13.1 6.2l-13.2 5.7l-13.5 5.2l-13.6 4.8l-13.9 4.3l-14 3.8l-14.1 3.3l-14.2 2.9l-14.4 2.3l-14.4 1.8l-14.5 1.4l-14.5 0.8l-14.6 0.3l-14.6 -0.2l-14.6 -0.7l-14.6 -1.2l-14.5 -1.7l-14.5 -2.2l-14.4 -2.7l-14.3 -3.3l-14.2 -3.7l-14.1 -4.2l-14 -4.8l-13.7 -5.2l-13.6 -5.7l-13.4 -6.2l-13.2 -6.6l-13 -7.1l-12.7 -7.6l-12.5 -8l-12.2 -8.4l-11.9 -8.9l-11.5 -9.3l-11.3 -9.7l-10.9 -10.1l-10.6 -10.5l-10.2 -10.8l-9.9 -11.2l-9.4 -11.6l-9.1 -11.9l-8.6 -12.2l-8.2 -12.5l-7.8 -12.8l-7.4 -13.1l-6.8 -13.3l-6.5 -13.6l-5.9 -13.8l-5.5 -14l-4.9 -14.3l-4.5 -14.4l-4 -14.5l-3.5 -14.7l-2.9 -14.8l-2.5 -15l-1.9 -15l-1.4 -15.1l-0.9 -15.1l-0.3 -15.2l0.2 -15.2l0.7 -15.2l1.2 -15.2l1.8 -15.1l2.3 -15.1l2.9 -15l3.3 -14.9l3.9 -14.8l4.4 -14.6l4.9 -14.5l5.4 -14.4l5.9 -14.1l6.5 -14l6.9 -13.7l7.4 -13.5l7.8 -13.3l8.3 -12.9l8.8 -12.7l9.2 -12.4l9.7 -12l10.1 -11.8l10.5 -11.3l10.9 -11.1l11.3 -10.6l11.6 -10.2l12 -9.9l12.4 -9.4l12.7 -9l13 -8.5l13.3 -8.1l13.6 -7.7l13.9 -7.1l14.1 -6.7l14.4 -6.2l14.5 -5.7l14.8 -5.2l15 -4.7l15.1 -4.1l15.3 -3.6l15.4 -3.1l15.5 -2.6l15.6 -2l15.7 -1.4l15.8 -0.9l15.8 -0.4l15.8 0.2l15.7 0.7l15.8 1.3l15.7 1.8l15.7 2.4l15.6 3l15.5 3.5l15.4 4l15.2 4.5l15.1 5.1l14.9 5.7l14.7 6.1l14.5 6.7l14.3 7.1l14 7.7l13.8 8.1l13.4 8.7l13.2 9.1l12.9 9.6l12.5 10l12.2 10.5l11.8 10.8l11.5 11.4l11 11.7l10.7 12.1l10.2 12.4l9.8 12.9l9.3 13.1l8.9 13.6l8.4 13.8l8 14.1l7.4 14.4l7 14.6l6.4 15l5.9 15.1l5.4 15.3l4.9 15.6l4.3 15.7l3.8 15.8l3.2 16l2.6 16.1l2.1 16.2l1.5 16.3l1 16.4l0.4 16.4l-0.2 16.3l-0.7 16.4l-1.4 16.4l-1.9 16.3l-2.4 16.3l-3.1 16.2l-3.6 16l-4.1 16l-4.8 15.8l-5.2 15.7l-5.9 15.4l-6.3 15.3l-6.9 15.1l-7.4 14.8l-8 14.5l-8.4 14.3l-9 14l-9.4 13.7l-10 13.3l-10.3 13l-10.9 12.7l-11.3 12.3l-11.7 11.8l-12.1 11.5l-12.6 11.1l-12.9 10.6l-13.3 10.1l-13.7 9.7l-14 9.3l-14.3 8.7l-14.6 8.3l-15 7.7l-15.1 7.2l-15.5 6.7l-15.7 6.1l-15.9 5.6l-16.1 5.1l-16.3 4.5l-16.4 3.9l-16.6 3.3l-16.7 2.8l-16.8 2.2l-16.9 1.6l-16.9 1l-17 0.4l-17 -0.2l-17 -0.8l-16.9 -1.3l-17 -2l-16.8 -2.5l-16.8 -3.2l-16.7 -3.7l-16.5 -4.3l-16.4 -4.9l-16.2 -5.4l-16 -6l-15.9 -6.6l-15.6 -7.2l-15.3 -7.6l-15.1 -8.3l-14.8 -8.7l-14.5 -9.3l-14.2 -9.7l-13.8 -10.3l-13.5 -10.8l-13.1 -11.2l-12.7 -11.7l-12.4 -12.1l-11.9 -12.6l-11.4 -13l-11 -13.3l-10.6 -13.8l-10 -14.1l-9.6 -14.5l-9.1 -14.9l-8.5 -15.1l-8 -15.5l-7.5 -15.7l-6.9 -16l-6.4 -16.2l-5.8 -16.5l-5.3 -16.7l-4.6 -16.8l-4.1 -17l-3.5 -17.2l-2.8 -17.3l-2.3 -17.4l-1.7 -17.5l-1 -17.5l-0.5 -17.6l0.2 -17.6l0.8 -17.6l1.4 -17.5l2 -17.5l2.6 -17.5l3.2 -17.4l3.9 -17.2l4.4 -17.1l5 -17l5.7 -16.8l6.2 -16.6l6.8 -16.4l7.4 -16.1l7.9 -15.9l8.5 -15.6l9 -15.4l9.6 -15l10.1 -14.7l10.6 -14.3l11.2 -14l11.6 -13.5l12 -13.2l12.6 -12.8l13 -12.3l13.4 -11.8l13.8 -11.4l14.3 -10.9l14.6 -10.5l15 -9.9l15.3 -9.4l15.7 -8.8l15.9 -8.3l16.3 -7.8l16.5 -7.2l16.8 -6.6l17.1 -6l17.2 -5.4l17.4 -4.9l17.6 -4.2l17.8 -3.6l17.9 -3l17.9 -2.4l18.1 -1.7l18.1 -1.1l18.2 -0.5l18.2 0.2l18.2 0.8l18.2 1.4l18.1 2.1l18 2.7l18 3.3l17.8 3.9l17.7 4.6l17.6 5.2l17.3 5.8l17.2 6.4l16.9 7.1l16.7 7.6l16.5 8.2l16.1 8.7l15.9 9.4l15.5 9.8l15.2 10.5l14.8 10.9l14.5 11.5l14 12l13.6 12.5l13.2 12.9l12.7 13.4l12.3 13.9l11.8 14.3l11.3 14.7l10.8 15.1l10.2 15.5l9.8 15.8l9.1 16.2l8.6 16.5l8 16.8l7.5 17l6.8 17.4l6.3 17.6l5.6 17.8l5 18l4.4 18.2l3.7 18.3l3.1 18.5l2.5 18.5l1.8 18.7l1.2 18.7l0.5 18.8l-0.2 18.8l-0.8 18.8l-1.4 18.7l-2.2 18.8l-2.7 18.6l-3.4 18.5l-4.1 18.5l-4.7 18.3l-5.4 18.1l-6 17.9l-6.6 17.8l-7.2 17.5l-7.8 17.2l-8.5 17l-9 16.7l-9.6 16.4l-10.2 16l-10.8 15.7l-11.3 15.3l-11.8 14.9l-12.4 14.5l-12.8 14.1l-13.4 13.6l-13.8 13.2l-14.3 12.7l-14.8 12.2l-15.1 11.6l-15.6 11.2l-16 10.6l-16.3 10l-16.7 9.5l-17 8.9l-17.4 8.3l-17.6 7.7l-17.9 7.1l-18.1 6.4l-18.4 5.8l-18.6 5.2l-18.7 4.6l-19 3.8l-19 3.3l-19.2 2.5l-19.2 1.9l-19.4 1.2l-19.3 0.6l-19.4 -0.2l-19.4 -0.8l-19.4 -1.5l-19.3 -2.1l-19.2 -2.9l-19.2 -3.5l-19 -4.2l-18.8 -4.8l-18.7 -5.5l-18.6 -6.2l-18.3 -6.8l-18 -7.4l-17.8 -8.1l-17.6 -8.7l-17.2 -9.3l-16.9 -9.9l-16.5 -10.5l-16.2 -11.1l-15.8 -11.6l-15.4 -12.2l-15 -12.7l-14.5 -13.3l-14.1 -13.8l-13.6 -14.2l-13.1 -14.8l-12.6 -15.1l-12 -15.7l-11.5 -16l-11 -16.5l-10.4 -16.8l-9.7 -17.2l-9.2 -17.6l-8.6 -17.8l-8 -18.2l-7.3 -18.4l-6.6 -18.7l-6.1 -19l-5.3 -19.1l-4.7 -19.4l-4 -19.5l-3.4 -19.6l-2.6 -19.8l-2 -19.8l-1.3 -19.9l-0.5 -20l0.1 -20l0.8 -20l1.5 -19.9l2.2 -19.9l2.9 -19.9l3.6 -19.7l4.3 -19.6l5 -19.5l5.6 -19.3l6.4 -19l7 -18.9l7.6 -18.6l8.3 -18.4l9 -18.1l9.5 -17.7l10.2 -17.5l10.8 -17l11.4 -16.7l12 -16.3l12.6 -15.9l13.1 -15.5l13.6 -14.9l14.2 -14.6l14.7 -14l15.1 -13.5l15.7 -13l16.1 -12.4l16.5 -11.9l16.9 -11.3l17.4 -10.7l17.7 -10.1l18 -9.4l18.4 -8.9l18.8 -8.2l18.9 -7.6l19.3 -6.9l19.5 -6.2l19.7 -5.5l19.9 -4.9l20.1 -4.1l20.2 -3.5l20.4 -2.7l20.4 -2.1l20.6 -1.3l20.5 -0.6l20.6 0.1l20.6 0.8l20.6 1.5l20.5 2.3l20.4 3l20.3 3.7l20.2 4.3l20.1 5.1l19.8 5.8l19.7 6.5l19.4 7.2l19.2 7.9l18.9 8.5l18.6 9.2l18.3 9.8l18 10.5l17.6 11.1l17.2 11.8l16.8 12.3l16.3 12.9l16 13.5l15.4 14l15 14.6l14.4 15.1l13.9 15.6l13.4 16.1l12.8 16.5l12.3 17l11.6 17.4l11 17.9l10.5 18.2l9.7 18.6l9.2 18.9l8.4 19.3l7.8 19.5l7.1 19.8l6.5 20.1l5.7 20.3l5 20.5l4.3 20.6l3.6 20.8l2.9 21l2.1 21l1.4 21.1l0.6 21.2l-0.1 21.2l-0.8 21.2l-1.6 21.1l-2.3 21.1l-3 21.1l-3.8 20.9l-4.5 20.8l-5.2 20.6l-5.9 20.4l-6.7 20.3l-7.4 20l-8 19.7l-8.8 19.5l-9.4 19.2l-10.1 18.8l-10.8 18.5l-11.4 18.1l-12 17.7l-12.7 17.3l-13.3 16.8l-13.8 16.4l-14.4 15.9l-15 15.4l-15.5 14.9l-16.1 14.3l-16.5 13.8l-17 13.2l-17.5 12.6l-17.9 12l-18.3 11.4l-18.8 10.7l-19.1 10.1l-19.4 9.4l-19.8 8.7l-20.1 8.1l-20.4 7.3l-20.6 6.7l-20.9 5.9l-21 5.1l-21.3 4.5l-21.4 3.7l-21.5 3l-21.6 2.2l-21.8 1.4l-21.7 0.7l-21.8 -0.1l-21.8 -0.8l-21.7 -1.6l-21.8 -2.3l-21.6 -3.1l-21.5 -3.9l-21.4 -4.6l-21.2 -5.3l-21 -6.1l-20.8 -6.9l-20.6 -7.5l-20.3 -8.3l-20 -9l-19.7 -9.6l-19.4 -10.4l-19 -11l-18.7 -11.8l-18.2 -12.3l-17.8 -13l-17.3 -13.6l-16.9 -14.2l-16.3 -14.8l-15.9 -15.4l-15.3 -16l-14.7 -16.4l-14.2 -17l-13.6 -17.5l-13 -17.9l-12.3 -18.4l-11.7 -18.8l-11.1 -19.3l-10.3 -19.6l-9.7 -20l-9 -20.3l-8.3 -20.7l-7.6 -20.9l-6.8 -21.2l-6.1 -21.4l-5.4 -21.7l-4.6 -21.8l-3.8 -22l-3.1 -22.1l-2.2 -22.2l-1.6 -22.3l-0.7 -22.4l0 -22.4l0.9 -22.4l1.6 -22.3l2.4 -22.3l3.1 -22.2l4 -22.1l4.7 -22l5.5 -21.8l6.2 -21.6l7 -21.4l7.7 -21.2l8.5 -20.8l9.2 -20.6l9.9 -20.3l10.6 -19.9l11.4 -19.5l12 -19.2l12.6 -18.7l13.4 -18.3l13.9 -17.8l14.6 -17.3l15.2 -16.9l15.8 -16.3l16.3 -15.7l16.9 -15.2l17.5 -14.5l17.9 -14l18.4 -13.4l18.9 -12.7l19.3 -12l19.8 -11.4l20.1 -10.7l20.5 -9.9l20.9 -9.3l21.2 -8.5l21.4 -7.8l21.8 -7.1l22 -6.3l22.2 -5.5l22.4 -4.7l22.6 -4l22.7 -3.1l22.8 -2.4l22.9 -1.6l23 -0.8"/>
<path d="M503.4 470.9l8.9 -6.8l9.2 -6.5l9.5 -6.1l9.6 -5.9l9.9 -5.5l10 -5.1l10.3 -4.8l10.4 -4.5l10.5 -4.1l10.8 -3.7l10.8 -3.3l11 -3l11.1 -2.6l11.2 -2.2l11.3 -1.8l11.3 -1.4l11.4 -1.1l11.5 -0.6l11.4 -0.2l11.5 0.2l11.5 0.5l11.5 1l11.4 1.4l11.4 1.8l11.3 2.1l11.3 2.6l11.2 3l11.1 3.3l11 3.8l10.8 4.1l10.8 4.5l10.5 4.9l10.4 5.3l10.2 5.6l10.1 6l9.8 6.4l9.6 6.7l9.4 7l9.1 7.4l8.9 7.7l8.6 8l8.4 8.3l8 8.6l7.8 8.9l7.5 9.1l7.1 9.5l6.8 9.6l6.5 10l6.2 10.1l5.7 10.4l5.5 10.6l5 10.8l4.7 10.9l4.3 11.2l3.9 11.3l3.6 11.4l3.1 11.6l2.7 11.6l2.3 11.8l1.9 11.9l1.5 11.9l1.1 12l0.7 12l0.2 12.1l-0.2 12.1l-0.6 12.1l-1 12l-1.4 12.1l-1.9 12l-2.3 11.9l-2.7 11.9l-3.1 11.7l-3.6 11.7l-3.9 11.5l-4.4 11.5l-4.7 11.2l-5.2 11.1l-5.5 11l-5.9 10.7l-6.3 10.6l-6.7 10.3l-7 10.1l-7.4 9.9l-7.8 9.6l-8.1 9.3l-8.4 9.1l-8.7 8.7l-9 8.5l-9.4 8.2l-9.6 7.8l-9.9 7.5l-10.2 7.2l-10.4 6.8l-10.7 6.4l-10.9 6.1l-11.1 5.7l-11.3 5.3l-11.6 4.9l-11.7 4.6l-11.8 4.1l-12 3.7l-12.2 3.3l-12.2 2.8l-12.4 2.5l-12.4 2l-12.6 1.5l-12.6 1.2l-12.6 0.7l-12.7 0.2l-12.6 -0.2l-12.7 -0.6l-12.7 -1.1l-12.6 -1.5l-12.6 -2l-12.5 -2.4l-12.5 -2.8l-12.3 -3.3l-12.2 -3.7l-12.2 -4.1l-11.9 -4.6l-11.9 -5l-11.6 -5.4l-11.5 -5.8l-11.3 -6.2l-11 -6.6l-10.8 -7l-10.6 -7.4l-10.4 -7.7l-10 -8.2l-9.8 -8.4l-9.5 -8.8l-9.2 -9.2l-8.9 -9.5l-8.6 -9.8l-8.2 -10.1l-7.9 -10.3l-7.5 -10.7l-7.1 -10.9l-6.8 -11.2l-6.3 -11.4l-6 -11.7l-5.6 -11.9l-5.1 -12l-4.8 -12.3l-4.3 -12.4l-3.9 -12.6l-3.4 -12.7l-3 -12.8l-2.6 -13l-2.1 -13l-1.6 -13.2l-1.2 -13.2l-0.7 -13.2l-0.3 -13.3l0.2 -13.2l0.7 -13.3l1.1 -13.3l1.6 -13.2l2 -13.2l2.5 -13.1l3 -13l3.4 -12.9l3.9 -12.8l4.3 -12.7l4.8 -12.6l5.2 -12.3l5.7 -12.2l6.1 -12l6.5 -11.8l6.9 -11.6l7.3 -11.4l7.7 -11l8.1 -10.9l8.5 -10.5l8.9 -10.2l9.2 -10l9.6 -9.6l9.9 -9.3l10.2 -9l10.6 -8.6l10.8 -8.2l11.2 -7.8l11.4 -7.5l11.7 -7.1l11.9 -6.6l12.2 -6.3l12.4 -5.8l12.7 -5.4l12.8 -5l12.9 -4.5l13.2 -4.1l13.3 -3.6l13.4 -3.1l13.6 -2.7l13.6 -2.2l13.7 -1.7l13.8 -1.2l13.8 -0.8l13.9 -0.3l13.9 0.2l13.8 0.7l13.9 1.2l13.8 1.6l13.8 2.2l13.7 2.6l13.6 3.1l13.5 3.6l13.4 4l13.2 4.5l13.1 5l13 5.5l12.7 5.9l12.6 6.3l12.3 6.8l12.1 7.2l11.8 7.6l11.6 8.1l11.3 8.4l11 8.9l10.7 9.3l10.4 9.6l10.1 10l9.7 10.3l9.3 10.7l9 11l8.6 11.4l8.2 11.6l7.8 11.9l7.4 12.2l6.9 12.5l6.6 12.7l6.1 13l5.6 13.1l5.2 13.4l4.7 13.5l4.2 13.8l3.8 13.8l3.3 14l2.8 14.2l2.3 14.2l1.8 14.3l1.3 14.4l0.8 14.4l0.3 14.5l-0.2 14.5l-0.7 14.4l-1.2 14.5l-1.8 14.4l-2.2 14.4l-2.7 14.2l-3.3 14.2l-3.7 14.1l-4.2 14l-4.7 13.8l-5.2 13.7l-5.7 13.5l-6.1 13.2l-6.6 13.1l-7.1 12.9l-7.5 12.6l-7.9 12.3l-8.4 12.1l-8.9 11.8l-9.2 11.5l-9.6 11.1l-10 10.9l-10.5 10.4l-10.7 10.2l-11.2 9.7l-11.4 9.4l-11.9 8.9l-12.1 8.6l-12.4 8.1l-12.7 7.7l-13 7.3l-13.2 6.8l-13.5 6.4l-13.7 5.8l-14 5.4l-14.1 5l-14.3 4.4l-14.4 3.9l-14.6 3.4l-14.7 3l-14.8 2.4l-14.9 1.8l-15 1.4l-15 0.9l-15.1 0.3l-15.1 -0.2l-15.1 -0.8l-15 -1.2l-15 -1.8l-15 -2.3l-14.9 -2.8l-14.7 -3.4l-14.7 -3.9l-14.5 -4.4l-14.4 -4.8l-14.3 -5.4l-14 -5.9l-13.8 -6.4l-13.6 -6.9l-13.4 -7.3l-13.2 -7.9l-12.8 -8.2l-12.6 -8.8l-12.3 -9.1l-11.9 -9.6l-11.6 -10l-11.3 -10.5l-10.9 -10.8l-10.6 -11.2l-10.1 -11.6l-9.7 -11.9l-9.4 -12.3l-8.9 -12.6l-8.5 -12.9l-8 -13.3l-7.5 -13.5l-7.1 -13.7l-6.6 -14.1l-6.2 -14.2l-5.6 -14.5l-5.1 -14.7l-4.6 -14.8l-4.1 -15.1l-3.6 -15.1l-3 -15.3l-2.5 -15.4l-2 -15.5l-1.4 -15.6l-0.9 -15.6l-0.4 -15.7l0.2 -15.7l0.8 -15.6l1.3 -15.7l1.8 -15.6l2.4 -15.5l3 -15.5l3.4 -15.4l4.1 -15.2l4.5 -15.1l5.1 -15l5.6 -14.8l6.1 -14.6l6.6 -14.4l7.1 -14.1l7.7 -13.9l8.1 -13.7l8.6 -13.3l9 -13.1l9.6 -12.8l9.9 -12.4l10.4 -12.1l10.9 -11.7l11.2 -11.3l11.6 -11l12.1 -10.5l12.4 -10.2l12.7 -9.7l13.1 -9.2l13.4 -8.8l13.8 -8.4l14 -7.9l14.3 -7.3l14.5 -6.9l14.8 -6.4l15.1 -5.8l15.2 -5.4l15.4 -4.8l15.6 -4.2l15.8 -3.7l15.9 -3.2l16 -2.6l16.1 -2.1l16.1 -1.5l16.3 -0.9l16.2 -0.4l16.3 0.2l16.3 0.8l16.2 1.3l16.2 2l16.1 2.4l16.1 3.1l16 3.6l15.8 4.1l15.7 4.7l15.5 5.3l15.4 5.8l15.1 6.3l15 6.9l14.6 7.4l14.5 7.9l14.2 8.4l13.8 8.9l13.6 9.4l13.2 9.9l12.9 10.3l12.6 10.8l12.1 11.2l11.8 11.7l11.4 12l11 12.5l10.5 12.9l10.1 13.2l9.6 13.6l9.1 13.9l8.7 14.2l8.1 14.5l7.7 14.9l7.1 15.1l6.7 15.3l6 15.6l5.6 15.8l5 16l4.4 16.2l3.9 16.3l3.3 16.5l2.7 16.6l2.1 16.6l1.6 16.8l1 16.8l0.4 16.9l-0.2 16.9l-0.8 16.8l-1.4 16.9l-2 16.8l-2.5 16.7l-3.2 16.7l-3.7 16.5l-4.3 16.4l-4.8 16.3l-5.5 16.1l-6 15.9l-6.5 15.7l-7.1 15.5l-7.7 15.2l-8.2 15l-8.7 14.7l-9.2 14.4l-9.7 14l-10.2 13.8l-10.7 13.3l-11.2 13.1l-11.6 12.6l-12.1 12.2l-12.5 11.8l-12.9 11.3l-13.3 10.9l-13.7 10.5l-14.1 10l-14.4 9.5l-14.7 8.9l-15.1 8.5l-15.3 7.9l-15.7 7.5l-15.8 6.8l-16.2 6.3l-16.3 5.8l-16.6 5.2l-16.8 4.6l-16.9 4l-17 3.4l-17.2 2.8l-17.3 2.3l-17.3 1.6l-17.4 1l-17.5 0.4l-17.5 -0.1l-17.4 -0.8l-17.5 -1.5l-17.4 -2l-17.3 -2.6l-17.3 -3.2l-17.1 -3.9l-17 -4.4l-16.8 -5l-16.7 -5.7l-16.5 -6.2l-16.3 -6.7l-16 -7.4l-15.8 -7.9l-15.5 -8.4l-15.2 -9l-14.9 -9.6l-14.5 -10l-14.3 -10.6l-13.8 -11.1l-13.5 -11.5l-13 -12l-12.7 -12.5l-12.2 -12.9l-11.8 -13.4l-11.3 -13.7l-10.8 -14.2l-10.3 -14.5l-9.9 -14.9l-9.3 -15.3l-8.7 -15.5l-8.3 -15.9l-7.7 -16.2l-7.1 -16.4l-6.5 -16.7l-6 -16.9l-5.3 -17.2l-4.8 -17.3l-4.2 -17.5l-3.5 -17.6l-3 -17.8l-2.3 -17.8l-1.7 -18l-1.1 -18l-0.4 -18.1l0.1 -18l0.9 -18.1l1.4 -18.1l2.1 -17.9l2.7 -18l3.3 -17.8l4 -17.7l4.5 -17.6l5.2 -17.4l5.8 -17.3l6.4 -17l7 -16.8l7.6 -16.6l8.1 -16.3l8.8 -16.1l9.3 -15.7l9.8 -15.4l10.4 -15.1l10.9 -14.7l11.4 -14.3l12 -14l12.4 -13.5l12.9 -13.1l13.3 -12.6l13.8 -12.2l14.2 -11.7l14.6 -11.2l15 -10.7l15.4 -10.1l15.8 -9.7l16.1 -9.1l16.4 -8.5l16.7 -7.9l17 -7.4l17.2 -6.8l17.5 -6.1l17.7 -5.6l17.9 -5l18 -4.3l18.3 -3.7l18.3 -3l18.5 -2.5l18.5 -1.7l18.6 -1.2l18.7 -0.4l18.7 0.1l18.6 0.9l18.7 1.4l18.6 2.2l18.5 2.7l18.4 3.5l18.3 4l18.2 4.7l18 5.4l17.8 6l17.6 6.5l17.4 7.3l17.1 7.8l16.9 8.4l16.6 9l16.2 9.6l15.9 10.1l15.6 10.7l15.2 11.3l14.8 11.8l14.4 12.3l14 12.8l13.5 13.3l13.1 13.7l12.6 14.3l12.1 14.6l11.5 15.1l11.1 15.5l10.5 15.9l9.9 16.2l9.4 16.6l8.9 17l8.2 17.2l7.6 17.5l7 17.8l6.4 18.1l5.8 18.2l5.1 18.5l4.5 18.6l3.8 18.9l3.2 18.9l2.5 19l1.8 19.2l1.2 19.2l0.5 19.2l-0.1 19.3l-0.9 19.3l-1.5 19.2l-2.2 19.2l-2.8 19.1l-3.5 19l-4.2 18.9l-4.8 18.8l-5.5 18.6l-6.2 18.4l-6.8 18.1l-7.4 18l-8 17.7l-8.7 17.4l-9.3 17.1l-9.8 16.8l-10.5 16.4l-11 16.1l-11.6 15.7l-12.2 15.3l-12.6 14.8l-13.2 14.5l-13.7 13.9l-14.2 13.5l-14.7 13l-15.1 12.5l-15.6 11.9l-15.9 11.5l-16.4 10.8l-16.8 10.3l-17.1 9.7l-17.4 9.1l-17.8 8.5l-18.1 7.9l-18.3 7.2l-18.6 6.6l-18.8 6l-19.1 5.3l-19.2 4.6l-19.4 4l-19.5 3.3l-19.7 2.6l-19.7 1.9l-19.8 1.3l-19.9 0.5l-19.8 -0.1l-19.9 -0.9l-19.8 -1.5l-19.8 -2.2l-19.7 -3l-19.6 -3.6l-19.5 -4.3l-19.4 -4.9l-19.1 -5.7l-19 -6.3l-18.7 -7l-18.5 -7.6l-18.3 -8.3l-17.9 -8.9l-17.7 -9.5l-17.3 -10.2l-16.9 -10.8l-16.6 -11.3l-16.2 -11.9l-15.8 -12.5l-15.3 -13.1l-14.9 -13.6l-14.4 -14.1l-13.9 -14.6l-13.4 -15.1l-12.9 -15.6l-12.3 -16l-11.8 -16.4l-11.2 -16.9l-10.6 -17.2l-10 -17.7l-9.4 -17.9l-8.8 -18.3l-8.1 -18.6l-7.5 -18.9l-6.9 -19.2l-6.1 -19.4l-5.5 -19.6l-4.8 -19.8l-4.1 -20l-3.4 -20.1l-2.7 -20.2l-2 -20.4l-1.3 -20.4l-0.6 -20.4l0.1 -20.5l0.9 -20.4l1.5 -20.5l2.3 -20.4l3 -20.3l3.7 -20.2l4.4 -20l5.1 -20l5.8 -19.7l6.5 -19.6l7.1 -19.3l7.9 -19l8.5 -18.8l9.2 -18.5l9.8 -18.2l10.4 -17.8l11.1 -17.5l11.7 -17.1l12.2 -16.7l12.9 -16.2l13.4 -15.8l14 -15.4l14.5 -14.8l15 -14.4l15.6 -13.8l16 -13.3l16.4 -12.7l17 -12.1l17.3 -11.6l17.8 -10.9l18.1 -10.4l18.5 -9.6l18.8 -9.1l19.2 -8.4l19.4 -7.7l19.7 -7.1l20 -6.3l20.2 -5.7l20.4 -5l20.5 -4.2l20.7 -3.5l20.8 -2.8l21 -2.1l21 -1.4l21 -0.6l21.1 0.1l21 0.9l21.1 1.6l21 2.3l20.9 3l20.8 3.8l20.6 4.5l20.5 5.2l20.4 6l20.1 6.6l19.9 7.4l19.6 8l19.3 8.8l19.1 9.4l18.7 10.1l18.4 10.7l17.9 11.4l17.6 12l17.2 12.6l16.7 13.2l16.3 13.8l15.8 14.3l15.3 15l14.8 15.4l14.2 16l13.7 16.4l13.1 17l12.5 17.4l11.9 17.8l11.3 18.3l10.6 18.6l10 19l9.4 19.4l8.6 19.7l8 20l7.3 20.2l6.5 20.6l5.9 20.7l5.1 21l4.4 21.1l3.6 21.3l2.9 21.4l2.2 21.5l1.4 21.6l0.7 21.7l-0.1 21.6l-0.9 21.7l-1.6 21.6l-2.3 21.6l-3.2 21.5l-3.8 21.4l-4.6 21.2l-5.4 21.1l-6.1 20.9l-6.8 20.7l-7.5 20.5l-8.3 20.2l-9 19.9l-9.6 19.6l-10.3 19.2l-11.1 18.9l-11.6 18.5l-12.3 18.1l-13 17.7l-13.6 17.2l-14.1 16.8l-14.8 16.2l-15.3 15.8l-15.9 15.2l-16.4 14.6l-16.9 14.1l-17.4 13.5l-17.8 12.9l-18.3 12.2l-18.8 11.6l-19.1 11l-19.6 10.3l-19.9 9.6l-20.2 8.9l-20.5 8.2l-20.9 7.5l-21.1 6.8l-21.3 6l-21.5 5.3l-21.7 4.6l-21.9 3.7l-22 3l-22.1 2.3l-22.2 1.5l-22.3 0.7l-22.2 -0.1l-22.3 -0.9l-22.2 -1.6l-22.2 -2.4l-22.1 -3.2l-22 -3.9l-21.8 -4.7l-21.7 -5.5l-21.5 -6.2l-21.3 -7l-21 -7.8l-20.7 -8.4l-20.5 -9.2l-20.1 -9.9l-19.8 -10.6l-19.5 -11.3l-19 -12l-18.6 -12.6l-18.2 -13.3l-17.7 -13.9l-17.2 -14.5l-16.7 -15.2l-16.2 -15.7l-15.6 -16.3l-15.1 -16.8l-14.5 -17.3l-13.8 -17.9l-13.3 -18.3l-12.6 -18.8l-11.9 -19.3l-11.3 -19.6l-10.6 -20.1l-9.9 -20.4l-9.2 -20.8l-8.5 -21.1l-7.7 -21.4l-7 -21.6l-6.2 -21.9l-5.4 -22.1l-4.7 -22.3l-3.9 -22.5l-3.1 -22.6l-2.4 -22.7l-1.5 -22.8l-0.8 -22.8l0.1 -22.9l0.8 -22.8l1.7 -22.9l2.4 -22.7l3.3 -22.7l4 -22.6l4.8 -22.4l5.6 -22.3l6.4 -22.1l7.2 -21.8l7.9 -21.6l8.6 -21.3l9.4 -21.1l10.2 -20.6l10.8 -20.4l11.6 -19.9l12.3 -19.6l12.9 -19.1l13.6 -18.7l14.3 -18.2l14.9 -17.7l15.5 -17.1l16.1 -16.7l16.7 -16l17.3 -15.5l17.8 -14.9l18.3 -14.3l18.8 -13.6l19.3 -12.9l19.7 -12.3l20.2 -11.6l20.6 -10.9l20.9 -10.2l21.3 -9.5l21.7 -8.7l21.9 -7.9l22.2 -7.2l22.5 -6.4l22.7 -5.6l22.8 -4.9l23.1 -4l23.2 -3.2l23.3 -2.4l23.4 -1.6l23.4 -0.8"/>
<path d="M495.3 459.8l9.3 -7.1l9.6 -6.7l9.8 -6.4l10.1 -6.1l10.3 -5.7l10.5 -5.4l10.7 -5l10.8 -4.6l11 -4.2l11.2 -3.9l11.3 -3.5l11.5 -3.1l11.6 -2.6l11.6 -2.3l11.8 -1.9l11.8 -1.5l11.9 -1l11.9 -0.7l11.9 -0.2l12 0.2l12 0.6l11.9 1.1l11.9 1.4l11.9 1.9l11.8 2.3l11.8 2.7l11.6 3.1l11.6 3.5l11.4 3.9l11.3 4.3l11.1 4.7l11 5.2l10.8 5.5l10.7 5.8l10.4 6.3l10.2 6.6l10 7l9.8 7.3l9.5 7.7l9.2 8l9 8.3l8.7 8.7l8.3 9l8.1 9.2l7.8 9.6l7.4 9.8l7.1 10.1l6.7 10.3l6.4 10.6l6 10.8l5.6 11l5.3 11.3l4.8 11.4l4.5 11.6l4 11.7l3.7 11.9l3.2 12l2.9 12.2l2.3 12.2l2 12.4l1.6 12.4l1.1 12.5l0.6 12.5l0.3 12.5l-0.2 12.6l-0.7 12.5l-1.1 12.6l-1.5 12.5l-1.9 12.5l-2.4 12.4l-2.9 12.3l-3.2 12.2l-3.7 12.1l-4.1 12l-4.6 11.9l-4.9 11.7l-5.4 11.5l-5.8 11.4l-6.1 11.1l-6.6 11l-6.9 10.7l-7.3 10.5l-7.7 10.2l-8.1 10l-8.4 9.7l-8.7 9.4l-9.1 9.1l-9.4 8.8l-9.7 8.5l-10 8.1l-10.3 7.8l-10.6 7.4l-10.9 7l-11.1 6.7l-11.3 6.3l-11.5 5.9l-11.8 5.5l-12 5.1l-12.1 4.7l-12.3 4.3l-12.5 3.8l-12.6 3.4l-12.7 3l-12.9 2.5l-12.9 2l-13 1.6l-13.1 1.2l-13.1 0.7l-13.1 0.3l-13.2 -0.3l-13.2 -0.6l-13.1 -1.2l-13.1 -1.5l-13.1 -2.1l-12.9 -2.5l-13 -3l-12.8 -3.4l-12.7 -3.8l-12.5 -4.3l-12.4 -4.8l-12.3 -5.2l-12.1 -5.6l-11.9 -6l-11.7 -6.5l-11.4 -6.8l-11.2 -7.3l-11 -7.7l-10.7 -8l-10.5 -8.5l-10.1 -8.8l-9.9 -9.1l-9.5 -9.5l-9.2 -9.8l-8.9 -10.2l-8.5 -10.5l-8.1 -10.8l-7.8 -11l-7.4 -11.4l-7 -11.6l-6.6 -11.8l-6.1 -12.1l-5.8 -12.3l-5.3 -12.5l-4.9 -12.7l-4.5 -12.9l-4 -13l-3.5 -13.2l-3.1 -13.3l-2.7 -13.5l-2.1 -13.5l-1.7 -13.6l-1.2 -13.7l-0.8 -13.7l-0.3 -13.7l0.3 -13.8l0.7 -13.7l1.1 -13.8l1.7 -13.7l2.1 -13.6l2.7 -13.6l3 -13.5l3.6 -13.4l4 -13.2l4.5 -13.2l5 -12.9l5.4 -12.9l5.9 -12.6l6.3 -12.4l6.7 -12.2l7.2 -12l7.6 -11.7l8 -11.5l8.4 -11.2l8.8 -10.9l9.2 -10.6l9.5 -10.3l9.9 -10l10.3 -9.6l10.6 -9.2l11 -8.9l11.2 -8.5l11.6 -8.1l11.8 -7.8l12.1 -7.3l12.4 -6.9l12.6 -6.4l12.9 -6l13 -5.6l13.3 -5.1l13.4 -4.7l13.6 -4.2l13.8 -3.7l13.9 -3.2l14 -2.8l14.1 -2.2l14.2 -1.8l14.3 -1.3l14.3 -0.8l14.3 -0.2l14.4 0.2l14.3 0.7l14.4 1.2l14.3 1.8l14.2 2.2l14.2 2.7l14.1 3.2l13.9 3.7l13.9 4.2l13.7 4.7l13.5 5.2l13.4 5.6l13.1 6.1l13 6.6l12.7 7l12.5 7.5l12.3 7.9l11.9 8.4l11.7 8.7l11.4 9.2l11.1 9.6l10.7 9.9l10.4 10.4l10 10.7l9.7 11l9.2 11.4l8.9 11.7l8.5 12.1l8 12.3l7.6 12.6l7.2 12.9l6.8 13.2l6.3 13.4l5.8 13.6l5.3 13.8l4.9 14l4.3 14.2l3.9 14.3l3.4 14.5l2.9 14.6l2.3 14.7l1.9 14.8l1.3 14.8l0.8 14.9l0.3 15l-0.2 14.9l-0.7 15l-1.3 14.9l-1.8 14.9l-2.3 14.9l-2.8 14.7l-3.4 14.7l-3.8 14.5l-4.4 14.4l-4.9 14.3l-5.3 14.1l-5.9 13.9l-6.4 13.8l-6.8 13.5l-7.3 13.2l-7.8 13l-8.2 12.8l-8.7 12.4l-9.1 12.2l-9.5 11.9l-10 11.5l-10.4 11.1l-10.7 10.9l-11.2 10.4l-11.5 10.1l-11.8 9.6l-12.2 9.3l-12.5 8.8l-12.9 8.4l-13.1 7.9l-13.4 7.5l-13.7 7l-13.9 6.5l-14.2 6.1l-14.3 5.6l-14.6 5l-14.8 4.6l-14.9 4l-15 3.6l-15.2 3l-15.3 2.4l-15.4 2l-15.5 1.4l-15.5 0.8l-15.5 0.3l-15.6 -0.2l-15.5 -0.8l-15.5 -1.3l-15.5 -1.8l-15.5 -2.4l-15.3 -3l-15.2 -3.4l-15.2 -4l-15 -4.6l-14.8 -5l-14.7 -5.6l-14.5 -6.1l-14.2 -6.6l-14.1 -7.1l-13.8 -7.6l-13.5 -8l-13.2 -8.6l-13 -9l-12.6 -9.5l-12.4 -9.9l-11.9 -10.3l-11.7 -10.8l-11.2 -11.1l-10.9 -11.6l-10.4 -12l-10.1 -12.3l-9.6 -12.6l-9.2 -13.1l-8.7 -13.3l-8.2 -13.6l-7.8 -14l-7.3 -14.2l-6.8 -14.4l-6.3 -14.7l-5.8 -15l-5.3 -15.1l-4.7 -15.3l-4.2 -15.5l-3.7 -15.6l-3.1 -15.8l-2.6 -15.9l-2 -16l-1.5 -16l-0.9 -16.1l-0.3 -16.2l0.2 -16.1l0.8 -16.2l1.3 -16.1l1.9 -16.1l2.5 -16l3.1 -15.9l3.6 -15.9l4.1 -15.7l4.7 -15.5l5.2 -15.5l5.8 -15.2l6.3 -15l6.9 -14.8l7.3 -14.6l7.9 -14.3l8.4 -14.1l8.8 -13.8l9.4 -13.4l9.8 -13.1l10.3 -12.8l10.7 -12.5l11.2 -12l11.5 -11.7l12 -11.3l12.4 -10.9l12.8 -10.4l13.1 -10l13.5 -9.5l13.9 -9.1l14.1 -8.5l14.4 -8.1l14.8 -7.6l15 -7.1l15.2 -6.5l15.5 -6l15.7 -5.5l15.9 -4.9l16.1 -4.4l16.2 -3.8l16.3 -3.3l16.5 -2.7l16.6 -2.1l16.6 -1.5l16.7 -1l16.8 -0.3l16.7 0.2l16.8 0.8l16.7 1.4l16.7 2l16.6 2.5l16.5 3.2l16.4 3.7l16.3 4.3l16.2 4.8l16 5.4l15.8 6l15.5 6.6l15.4 7l15.1 7.7l14.9 8.1l14.6 8.7l14.2 9.1l14 9.7l13.6 10.2l13.3 10.6l12.9 11.1l12.5 11.6l12.1 12l11.7 12.4l11.3 12.8l10.8 13.3l10.3 13.6l9.9 14l9.4 14.3l8.9 14.6l8.4 15l7.9 15.3l7.3 15.5l6.8 15.8l6.2 16l5.7 16.3l5.2 16.4l4.5 16.7l4 16.8l3.3 16.9l2.8 17.1l2.2 17.1l1.6 17.3l1 17.3l0.4 17.3l-0.2 17.4l-0.8 17.3l-1.4 17.3l-2.1 17.3l-2.6 17.2l-3.2 17.1l-3.9 17.1l-4.4 16.8l-5 16.8l-5.6 16.5l-6.2 16.4l-6.8 16.1l-7.3 15.9l-7.9 15.7l-8.4 15.4l-8.9 15.1l-9.5 14.8l-10 14.4l-10.5 14.1l-11.1 13.8l-11.4 13.3l-12 13l-12.4 12.5l-12.9 12.1l-13.2 11.7l-13.7 11.2l-14.1 10.8l-14.4 10.2l-14.9 9.7l-15.1 9.3l-15.5 8.7l-15.8 8.1l-16.1 7.6l-16.3 7.1l-16.6 6.4l-16.8 5.9l-17 5.3l-17.2 4.8l-17.4 4.1l-17.5 3.5l-17.7 2.9l-17.7 2.3l-17.9 1.6l-17.9 1.1l-17.9 0.4l-18 -0.2l-17.9 -0.8l-17.9 -1.5l-17.9 -2.1l-17.8 -2.7l-17.7 -3.3l-17.6 -4l-17.5 -4.5l-17.3 -5.2l-17.1 -5.8l-16.9 -6.4l-16.7 -6.9l-16.5 -7.6l-16.2 -8.1l-15.9 -8.7l-15.6 -9.3l-15.3 -9.8l-15 -10.3l-14.6 -10.9l-14.2 -11.3l-13.8 -11.9l-13.4 -12.4l-13 -12.8l-12.6 -13.3l-12 -13.7l-11.6 -14.1l-11.2 -14.6l-10.6 -14.9l-10 -15.3l-9.6 -15.7l-9 -15.9l-8.4 -16.4l-7.9 -16.6l-7.3 -16.9l-6.7 -17.1l-6.1 -17.4l-5.5 -17.6l-4.9 -17.7l-4.3 -18l-3.6 -18.1l-3 -18.3l-2.4 -18.3l-1.8 -18.4l-1.1 -18.5l-0.4 -18.6l0.2 -18.5l0.8 -18.6l1.5 -18.5l2.2 -18.5l2.8 -18.3l3.4 -18.3l4.1 -18.2l4.7 -18.1l5.3 -17.9l5.9 -17.7l6.6 -17.4l7.2 -17.3l7.8 -17l8.4 -16.8l9 -16.4l9.5 -16.2l10.1 -15.8l10.7 -15.4l11.2 -15.1l11.7 -14.7l12.2 -14.3l12.8 -13.9l13.2 -13.4l13.7 -13l14.2 -12.4l14.6 -12l15 -11.5l15.4 -11l15.8 -10.4l16.1 -9.9l16.6 -9.3l16.8 -8.7l17.1 -8.2l17.5 -7.5l17.7 -7l17.9 -6.3l18.1 -5.7l18.4 -5.1l18.5 -4.4l18.7 -3.8l18.9 -3.1l18.9 -2.5l19 -1.8l19.1 -1.1l19.2 -0.5l19.1 0.2l19.2 0.9l19.1 1.5l19 2.2l19 2.8l18.9 3.5l18.8 4.2l18.6 4.9l18.5 5.4l18.3 6.2l18 6.8l17.8 7.4l17.6 8l17.3 8.6l17 9.3l16.6 9.8l16.4 10.4l15.9 11l15.6 11.5l15.2 12.1l14.7 12.6l14.4 13.2l13.8 13.6l13.4 14.1l12.9 14.6l12.4 15.1l11.9 15.5l11.3 15.8l10.7 16.3l10.2 16.7l9.7 17l9 17.4l8.4 17.7l7.8 17.9l7.2 18.3l6.5 18.5l5.9 18.7l5.3 18.9l4.6 19.1l3.9 19.3l3.2 19.4l2.6 19.6l1.9 19.6l1.2 19.7l0.5 19.7l-0.2 19.7l-0.9 19.8l-1.5 19.7l-2.3 19.7l-2.9 19.6l-3.6 19.4l-4.3 19.4l-5 19.2l-5.6 19.1l-6.3 18.8l-7 18.6l-7.6 18.4l-8.2 18.1l-8.9 17.9l-9.5 17.5l-10.1 17.2l-10.8 16.8l-11.3 16.5l-11.9 16.1l-12.4 15.6l-13 15.2l-13.5 14.8l-14.1 14.3l-14.5 13.8l-15.1 13.3l-15.5 12.8l-15.9 12.3l-16.4 11.6l-16.7 11.2l-17.2 10.5l-17.5 9.9l-17.9 9.3l-18.2 8.7l-18.5 8.1l-18.8 7.4l-19.1 6.8l-19.3 6.1l-19.5 5.4l-19.7 4.7l-19.8 4.1l-20 3.3l-20.2 2.7l-20.2 2l-20.3 1.2l-20.3 0.6l-20.3 -0.2l-20.4 -0.9l-20.3 -1.5l-20.3 -2.3l-20.1 -3l-20.1 -3.7l-20 -4.4l-19.8 -5.1l-19.6 -5.8l-19.4 -6.5l-19.2 -7.1l-18.9 -7.9l-18.7 -8.5l-18.4 -9.1l-18 -9.8l-17.8 -10.4l-17.3 -11l-17 -11.6l-16.6 -12.3l-16.1 -12.8l-15.7 -13.3l-15.2 -14l-14.8 -14.4l-14.2 -15l-13.7 -15.4l-13.2 -16l-12.6 -16.4l-12.1 -16.8l-11.4 -17.3l-10.9 -17.7l-10.2 -18l-9.7 -18.4l-8.9 -18.7l-8.3 -19.1l-7.7 -19.3l-7 -19.7l-6.3 -19.8l-5.6 -20.1l-4.9 -20.3l-4.2 -20.4l-3.5 -20.6l-2.7 -20.7l-2.1 -20.8l-1.3 -20.9l-0.6 -20.9l0.2 -21l0.9 -20.9l1.6 -20.9l2.3 -20.9l3.1 -20.8l3.8 -20.6l4.5 -20.6l5.2 -20.4l5.9 -20.2l6.7 -20l7.3 -19.7l8.1 -19.5l8.7 -19.2l9.3 -19l10.1 -18.6l10.7 -18.2l11.3 -17.9l12 -17.5l12.5 -17l13.2 -16.6l13.7 -16.2l14.4 -15.7l14.8 -15.2l15.4 -14.6l15.9 -14.2l16.4 -13.6l16.8 -13l17.4 -12.4l17.7 -11.8l18.2 -11.2l18.5 -10.5l18.9 -10l19.3 -9.2l19.6 -8.6l19.9 -7.9l20.2 -7.2l20.4 -6.5l20.6 -5.8l20.9 -5l21 -4.4l21.2 -3.6l21.3 -2.8l21.4 -2.2l21.5 -1.3l21.5 -0.7l21.5 0.2l21.6 0.8l21.5 1.7l21.5 2.4l21.3 3.1l21.3 3.9l21.1 4.6l21 5.3l20.8 6.1l20.6 6.8l20.3 7.6l20.1 8.2l19.7 8.9l19.5 9.7l19.1 10.3l18.8 11l18.4 11.6l18 12.3l17.5 12.9l17.2 13.5l16.6 14.1l16.1 14.7l15.7 15.3l15.1 15.8l14.5 16.3l14 16.8l13.4 17.3l12.8 17.8l12.1 18.3l11.5 18.6l10.9 19.1l10.2 19.4l9.6 19.8l8.8 20.2l8.1 20.4l7.5 20.7l6.7 21l5.9 21.2l5.3 21.5l4.4 21.6l3.8 21.7l2.9 21.9l2.2 22l1.5 22.1l0.6 22.1l-0.1 22.2l-0.8 22.1l-1.7 22.1l-2.4 22.1l-3.2 22l-4 21.8l-4.7 21.7l-5.5 21.6l-6.2 21.4l-7 21.1l-7.7 20.9l-8.4 20.6l-9.2 20.4l-9.9 20l-10.6 19.7l-11.2 19.3l-12 18.9l-12.5 18.5l-13.3 18l-13.9 17.6l-14.4 17.1l-15.1 16.6l-15.7 16.1l-16.2 15.5l-16.7 15l-17.3 14.4l-17.8 13.7l-18.3 13.2l-18.7 12.5l-19.2 11.9l-19.5 11.2l-20 10.5l-20.3 9.8l-20.7 9.1l-21 8.4l-21.3 7.6l-21.5 6.9l-21.8 6.2l-22 5.4l-22.2 4.6l-22.3 3.9l-22.5 3l-22.6 2.3l-22.7 1.5l-22.7 0.7l-22.8 -0.1l-22.7 -0.8l-22.7 -1.7l-22.7 -2.5l-22.5 -3.2l-22.5 -4.1l-22.3 -4.8l-22.1 -5.6l-22 -6.4l-21.7 -7.1l-21.5 -7.9l-21.2 -8.7l-20.9 -9.4l-20.5 -10.1l-20.2 -10.8l-19.9 -11.5l-19.4 -12.3l-19 -12.9l-18.6 -13.6l-18 -14.2l-17.6 -14.8l-17.1 -15.5l-16.5 -16l-16 -16.7l-15.3 -17.2l-14.8 -17.7l-14.2 -18.2l-13.5 -18.8l-12.9 -19.2l-12.2 -19.6l-11.5 -20.1l-10.8 -20.5l-10.1 -20.9l-9.4 -21.2l-8.6 -21.5l-7.9 -21.8l-7.1 -22.1l-6.3 -22.4l-5.6 -22.6l-4.8 -22.7l-3.9 -23l-3.2 -23.1l-2.4 -23.1l-1.6 -23.3l-0.7 -23.3l0 -23.4l0.9 -23.3l1.7 -23.3l2.5 -23.3l3.3 -23.1l4.2 -23.1l4.9 -22.9l5.7 -22.7l6.5 -22.5l7.3 -22.3l8.1 -22.1l8.9 -21.8l9.6 -21.4l10.3 -21.1l11.1 -20.8l11.8 -20.3l12.6 -20l13.2 -19.5l13.9 -19.1l14.6 -18.5l15.2 -18.1l15.8 -17.5l16.5 -17l17 -16.4l17.7 -15.8l18.1 -15.1l18.7 -14.6l19.2 -13.9l19.7 -13.2l20.2 -12.6l20.6 -11.8l21 -11.1l21.3 -10.4l21.8 -9.6l22.1 -8.9l22.4 -8.1l22.6 -7.3l23 -6.6l23.1 -5.7l23.4 -4.9l23.5 -4.1l23.6 -3.3l23.8 -2.5l23.9 -1.6l23.9 -0.8"/>
</g>
<g stroke="#acacac" stroke-width="1">
<line x1="665.5" y1="468.5" x2="629.7" y2="132.4"/>
<line x1="844.7" y1="505.6" x2="1041.7" y2="212.6"/>
<line x1="961.2" y1="653.3" x2="1300.4" y2="555.5"/>
<line x1="955.2" y1="846.6" x2="1277.9" y2="989.7"/>
<line x1="822.7" y1="994.6" x2="977.8" y2="1311.6"/>
<line x1="620.8" y1="1023.3" x2="535.9" y2="1365.9"/>
<line x1="443.4" y1="912.7" x2="158.1" y2="1120.5"/>
<line x1="377.2" y1="708.8" x2="25" y2="684.7"/>
<line x1="459.6" y1="505.3" x2="265.7" y2="318.6"/>
</g>
<circle cx="648.6" cy="1037.9" r="14.5" fill="#afafaf"/>
<circle cx="435" cy="1017.1" r="14.5" fill="#afafaf"/>
<circle cx="242.9" cy="828.6" r="14.5" fill="#afafaf"/>
<circle cx="201.8" cy="516.4" r="14.5" fill="#afafaf"/>
<circle cx="381.1" cy="205.7" r="14.5" fill="#afafaf"/>
<circle cx="705.7" cy="454.3" r="14" fill="none" stroke="#afafaf" stroke-width="1.4"/>
<circle cx="900" cy="444.3" r="14" fill="none" stroke="#afafaf" stroke-width="1.4"/>
<circle cx="1080.7" cy="559.3" r="14" fill="none" stroke="#afafaf" stroke-width="1.4"/>
<circle cx="1186.8" cy="798.6" r="14" fill="none" stroke="#afafaf" stroke-width="1.4"/>
<circle cx="1147.9" cy="1079.3" r="14" fill="none" stroke="#afafaf" stroke-width="1.4"/>
<g fill="none" stroke-width="2" stroke-linejoin="round" stroke-linecap="round" transform="translate(0.5 0.5)"><path d="M535 516l1 0l1 0l0-1l0-1l3 3l-2-3l2 2l-1-2l0-1l0-1l3 2l-1-1l0-1l1 0l0-1l0-1l3 4l-2-4l2 2l-1-2l1 1l0-1l1-1l1 0l1 1l0-1l1 1l0-1l-1-2l0-1l1 1l1 0l0-1l1 1l1 0l0-1l0-1l0-1l1 1l0-1l1 1l1-1l0-1l1 1l1 1l0-1l-1-2l1 0l1 2l1-1l0-1l-1-1l1 0l1 1l-1-3l1 1l-1-3l2 3l0-2l1 1l1 1l1 1l-2-4l2 2l-1-3l2 3l-1-3l1 0l1 1l1 2l0-1l-2-5l1 1l2 1l-1-2l2 3l0-1l0-1l2 1l1 2l0-2l-1-3l2 3l0-1l0-2l0-1l1 0l1 1l-2-4l2 3l0-1l0-1l2 3l0-1l1 0l0-2l1 2l0-2l0-1l0-1l3 4l-1-3l0-1l1 0l1 2l0-2l0-2l1 2l0-1l1 0l1 1l2 2l-2-5l2 3l1 0l-1-2l1 1" stroke="#14083b"/><path d="M589 486l0-2l1 1l1 1l0-2l1 0l0-1l1 0l1 1l0-1l0-1l2 2l-1-2l2 2l-1-5l1 4l0-2l1 1l1 2l0-3l1 1l0-1l0-1l0-2l1 1l1-1l1 2l0-1l1-1l1 2l0-1l1 0l-1-2l1 1l0-2l2 3l0-2l2 2l-1-3l1 2l1-1l0 1l1 1l0-2l0-2l1 1l1 1l0-2l0 1l1 0l0-2l1 2l0-2l1 2l-1-4l1 0l1 3l0-2l0-1l1 2l1-1l0-1l1 0l0-1l0-1l1 1l1 0l0-3l1 1l1 2l1-1l0-1l1 1l0-2l0 1l0-2l1 0l1 4l1-1l0-1l1 2l1-1l0 1l0-2l1 0l0-1l1 0l0-2l1 1l1 0l1 2l1-1l1 3l0-2l0-2l1 1l1 1l0-1l1 1l0-1l1-1l1 1l-1-5l1 1l1 1l1 3l0-3l1 2l0-1l0-1l1 1" stroke="#14083d"/><path d="M648 466l1 0l1 2l0-1l1-1l1 2l1-2l0-1l1-1l0 1l1-2l0-1l1 2l1 0l0 1l1 0l0-1l1 0l0-2l1 1l0 2l1 0l0-1l0-2l1 2l0-4l1 5l1 0l0-3l1 4l0-2l1-1l0-1l0-1l1-2l0 3l1 1l0-1l1 3l0-2l1 1l1 0l0-4l0 1l1 1l0-2l1 2l0-2l1 0l0 1l1 0l1 0l0-1l1-1l0 1l1-1l0-2l1 0l0 3l1-2l0-1l1 1l1 4l0-4l1 4l0-1l1-3l0 2l1-2l0 2l1 2l0-2l1-1l0 1l1 0l1 1l1 2l0-1l1-3l0-1l1 3l0-2l1 0l0 1l1-2l0 3l1-5l0 3l1 1l0-3l1 1l0-1l1 2l0 1l1-1l1-1l0 2l1 0l0-1l1 3l1-4l0 2l1-2l0 1l1-1l0 1l1 0l1-1l0 1l1-1l1-1l0 2l1-2l0 1" stroke="#14083f"/><path d="M710 458l1 1l1-3l0 2l1 0l0 1l1 2l0-3l1 1l1-1l1 3l0-2l1 0l0 1l1-1l0 2l1-4l0 3l1-1l0 1l1-1l1 0l0 2l1-4l0 1l1 2l1-3l0 1l1 1l0 3l0 4l0 1l1 1l-1 5l0 7l-1 12l-1 9l3-20l3-15l2-11l3-20l2-10l2-9l-1 10l-3 24l-2 15l-2 20l4-20l3-17l0-2l0 4l0 5l1-4l0 2l-1 9l0 3l4-16l-3 20l-1 5l3-15l-2 17l0 4l2-10l1-3l2-9l-2 12l-1 9l4-17l0 1l-1 11l1-5l7-31l-3 16l-1 9l2-9l-2 13l1-2l0 4l-1 4l4-13l2-11l-4 21l1-1l2-4l-4 19l2-10l0 2l4-15l-2 11l3-8l-4 18l6-23l-2 11l-3 14l5-17l1-5l0 3l-2 8l2-2l2-8l-1 7l4-12l-1 5l2-7l-4 16l-2 10l7-23l-2 8l-2 9l4-11l1-1l0 1l-1 5l-1 6l3-10l3-9l-1 7l2-5l-3 12l0-1l-2 9l7-22l0 5l-1 5" stroke="#140842"/><path d="M774 467l-3 9l3-7l2-2l-2 6l2-4l2-5l-1 4l4-9l-5 18l0-1l4-9l1-3l2-4l-4 13l1-1l2-3l-4 11l4-8l1-2l1-2l-1 5l4-10l-4 13l1-3l3-5l-3 8l3-5l1-3l0 4l1-4l2-2l-3 10l1-1l1-2l0-1l1 2l-1 2l2-4l0 1l1 0l2-3l-1 3l2-3l-2 5l2-3l3-5l-5 12l3-5l-3 8l3-6l0 1l1-1l1-1l0 1l0 1l1-1l2-3l-1 3l1-1l0 1l0 3l2-3l-2 4l1-1l1-1l-1 3l2-2l-1 4l1-2l-3 8l5-11l2-2l-1 3l1-1l0 2l-1 3l3-6l0 1l-2 7l-2 5l3-6l4-7l-5 13l7-15l-1 3l2-3l-4 10l3-5l1-2l1-1l-2 6l0 2l0 1l2-4l0 1l-3 9l-4 8l2-2l8-14l0 1l-4 8l4-6l-2 4l5-8l-7 14l4-6l2-3l-6 12l9-16l2-2l-11 21l15-26l-10 20l6-11l2-3l-5 11l5-7l12-21l-12 21l1 0l7-11l-3 7l-4 7l4-6l-3 6l10-16l-11 21l10-18" stroke="#150945"/><path d="M841 477l3-3l-4 8l4-6l-2 5l9-15l-11 20l11-17l-13 21l-7 14l3-5l18-28l-12 21l-2 4l-4 7l2-2l25-39l-10 17l-19 31l10-15l-12 20l7-10l-9 15l26-40l-9 14l-9 16l2-3l17-25l-26 41l8-12l25-36l-2 4l-1 1l-17 28l14-21l-3 6l-2 4l5-7l-17 26l14-20l1-1l-15 24l1-2l10-13l-1 3l-1 2l-5 8l8-11l-6 10l7-9l-1 1l6-7l-9 14l-10 14l11-14l10-13l-7 10l7-8l1-1l-11 16l8-10l-3 4l-6 9l6-7l1-1l18-22l-9 12l2-1l-8 11l11-13l4-5l-13 18l9-11l-5 7l7-7l2-1l5-7l-10 14l0 1l6-7l-12 16l10-11l-7 9l8-9l-5 7l-9 12l-2 2l15-16l-1 1l-4 6l7-8l-2 4l2-2l-1 2l3-3l3-2l-11 13l5-5l-7 8l18-20l-20 24l8-8l10-11l-10 12l9-9l-6 7l-1 2l6-6l-6 8l7-7l5-5l3-2l-6 7l1 0l-7 8l11-11l-3 4l3-3l7-7l0 1l-3 4l-4 5l1 0l0 1l3-3l-2 3l-10 12l8-7l8-8" stroke="#150948"/><path d="M896 518l-8 9l-3 3l7-6l2-1l-1 1l3-2l-8 9l9-9l-2 3l-7 8l8-7l-2 3l1-1l-2 2l5-3l-4 4l7-6l-7 8l3-3l-2 3l10-9l-14 15l5-5l0 1l-1 2l8-7l-17 16l7-6l2-1l5-4l-1 2l-1 2l-2 2l1-1l4-3l-4 5l-3 4l-3 3l13-11l-7 7l2-1l5-5l5-3l-7 7l4-3l1-1l-9 9l6-4l-2 2l-6 6l6-4l6-5l-4 4l-4 4l5-4l5-3l-2 2l-3 4l2-2l-1 2l4-3l-1 2l4-3l2-1l2-1l-10 9l6-5l-2 3l4-2l-7 6l1-1l2-1l-6 6l3-2l3-2l0 1l1 0l1 0l-7 6l7-5l0 1l-3 2l2-1l1 0l5-3l-4 3l2 0l5-3l-6 5l5-3l-8 6l8-5l-4 4l1-1l-3 4l-2 1l9-5l1-1l-3 3l5-3l2-1l-4 4l1-1l-2 2l4-2l1 0l-3 3l-2 2l-1 1l3-1l7-5l-3 3l0 1l5-3l0 1l-2 2l1-1l-6 5l6-3l7-4l-7 6l-5 4l6-4l3-1l-3 2l8-4l-1 1l-9 7l4-2l0 1" stroke="#160a4c"/><path d="M934 574l0 1l2-1l1 0l-3 3l4-2l-2 1l-3 3l12-7l-1 2l-2 1l-1 2l-5 3l6-3l3-1l-5 4l-1 0l9-4l-5 3l-4 4l-1 1l-2 1l-7 5l6-3l1 0l-8 5l17-9l-9 6l6-3l-4 3l15-8l-2 2l9-5l-18 11l8-4l23-12l-15 9l-3 2l-38 22l30-17l5-1l11-6l-33 18l26-13l12-6l-5 4l-16 9l8-4l7-3l-19 11l16-9l-13 8l32-16l-47 25l16-8l2 0l7-4l8-3l-1 1l5-2l-12 7l-2 1l8-3l-3 2l10-4l8-4l-17 9l3 0l-3 2l1 0l2-1l8-3l-25 13l33-16l-22 12l7-3l9-4l-10 5l1 0l-4 3l2-1l4-1l4-1l-14 7l4-2l-2 2l3-1l1 0l-10 5l9-3l13-5l4-1l-19 8l20-8l-12 6l-12 6l9-3l8-3l-4 2l-2 2l-5 2l-3 2l4-1l-7 3l7-2l-4 2l2 0l5-2l-3 2l-6 3l3 0l12-5l-11 5l9-3l-8 4l11-4l-9 4l-1 1l11-4l-5 3l-9 4l2-1l-2 2l9-3l-8 3l4 0l-5 2l-10 4l9-3l-1 1l3 0l-3 1l4-1" stroke="#160a4f"/><path d="M961 634l-8 4l7-2l-2 1l-1 1l6-2l-6 3l5-1l-3 1l6-1l1 0l-3 2l-8 3l8-3l3 0l3 0l-7 2l-4 2l4-1l-3 2l1 0l4-1l5-1l-5 2l0 1l2 0l8-2l-3 2l1 0l-3 1l3 0l3 0l-10 3l7-1l-3 1l-2 1l0 1l3-1l-1 1l0 1l2 0l8-2l-6 2l5-1l-2 1l2 0l-8 3l8-2l-6 3l-5 1l2 0l7-1l-5 2l-6 2l2 0l10-2l-9 3l-1 0l7-1l0 1l-5 1l4 0l8-1l-9 2l6-1l-2 1l8-1l-10 3l4-1l2 0l1 1l-5 1l7-1l-3 1l-12 4l8-1l3-1l2 0l-3 2l-5 1l2 0l-1 1l1 0l-4 1l1 1l-3 1l6-1l0 1l-5 1l16-2l-7 2l3-1l-2 1l-5 2l2 0l1 0l-3 1l9-1l-10 2l4 0l-7 2l10-1l2 0l2 0l-4 1l-3 1l9-1l-3 1l-7 2l2 0l-3 1l10-1l4 0l-12 2l8 0l-2 0l1 1l-1 0l7 0l-4 1l-7 2l8-1l-5 1l8 0l-14 2l9-1l-6 2l-3 0l17-1l-6 1l-3 1l-1 1l-7 1l12-1" stroke="#170a55"/><path d="M989 697l-6 1l-7 2l11-1l-9 1l5 0l4 0l3 1l-7 1l2 0l4 0l-12 2l-1 0l11 0l-7 1l7 0l-4 1l3 0l-10 1l1 1l7 0l-5 1l-2 0l3 1l6 0l-8 1l8 0l-10 1l-3 1l17-1l-13 1l14 0l6 0l0 1l7 0l-23 2l10 0l11 0l-16 1l-4 0l3 1l-8 1l10 0l1 0l1 1l-2 0l-5 1l5 0l-8 1l8 0l8 1l6 0l-11 1l10 0l-14 1l8 0l-21 1l27 0l-17 1l11 0l13 1l-6 0l-17 1l11 0l-23 1l21 0l-14 1l-5 0l23 1l-9 0l12 1l-3 1l8 0l-18 0l18 1l6 1l-2 1l-25 0l25 1l4 1l-10 0l3 1l-8 0l19 1l-8 0l-12 0l8 1l-2 1l-11 0l3 1l-4 0l-10 0l11 1l8 1l2 1l-22-1l15 2l-4 0l4 1l-9 0l6 0l0 1l-5 0l1 1l3 0l-9 0l28 3l-11-1l-3 1l-2 0l10 1l-4 1l-4 0l8 1l-5 0l4 1l1 1l-4 0l-4 0l11 2l-11-1l4 1l-6 0l12 2l-1 0l-10 0l-6 0l4 0l-5 0l0 1l-5 0l10 2l10 1l-20-2l8 2" stroke="#190b5a"/><path d="M991 767l9 1l-18-1l9 1l-8 0l12 2l1 1l-1 0l-8-1l0 1l5 1l-3 0l12 2l-7 0l-2 0l1 1l1 0l6 2l-17-2l-2 0l6 2l-5-1l10 2l-10-1l-10-1l19 4l-3 0l6 1l-4 0l2 1l5 1l-4 0l-5 0l3 1l-8-1l2 1l9 2l-3 0l-14-2l2 1l9 2l-6 0l4 1l-3 0l-1 0l-7 0l14 3l-5 0l-3-1l-7-1l7 2l-14-2l12 3l-5-1l-3 0l4 1l0 1l-3 0l4 1l1 1l4 2l-1 0l-7-1l1 0l0 1l1 1l-5-1l6 2l2 1l-5-1l-1 0l2 1l1 1l0 1l-5-1l4 2l4 1l-6-1l4 2l-2 0l9 2l-18-4l9 3l1 1l-6-1l7 2l2 1l-8-2l6 3l-6-2l11 4l-6-1l3 1l9 4l2 0l-17-4l4 2l3 1l-3 0l8 3l-1 0l-7-2l5 3l-11-3l3 1l7 3l-9-2l6 2l-3-1l0 1l3 2l3 1l5 3l-8-2l1 1l-6-2l0 1l2 1l-5-1l5 2l-6-2l5 3l-3-1l1 1l-4-1l-3 0l7 3l-1 0l5 2l1 1l-3-1l2 2l5 2l-7-2l3 2" stroke="#1a0b5f"/><path d="M976 835l-2-1l0 1l-5-1l-3-1l10 4l-7-2l-3 0l6 2l-3 0l12 6l-14-5l1 1l-7-3l5 3l2 1l8 4l-4-1l-5-1l3 2l-3-1l4 2l-4-1l7 4l-8-3l-2 0l3 2l8 3l-12-4l6 3l2 1l-1 0l2 2l-4-1l8 4l-13-5l3 1l-3 0l7 3l-6-2l6 3l-7-2l-2-1l1 1l-5-1l5 3l3 1l-1 1l-7-3l5 3l3 2l-2 0l9 4l-4-1l-4-1l3 1l-6-2l2 2l-4-2l4 3l1 1l3 2l-9-4l5 3l0 1l-5-2l7 4l2 2l-2-1l4 2l-1 1l-11-5l8 4l2 2l-5-2l9 5l-8-4l1 2l-2-1l5 3l-8-3l-2-1l7 5l-11-6l5 4l-1 0l1 1l5 3l1 1l-1 0l-3-1l1 1l-9-4l8 5l-14-7l7 4l8 5l-10-5l6 4l-4-2l3 3l9 6l-13-8l4 4l-10-5l11 7l-2-1l-4-2l7 5l2 1l-8-3l6 4l-3-1l-3-2l-3-1l1 1l0 1l-2-1l-12-7l10 7l1 2l9 6l-17-10l5 4l10 7l-9-5l6 4l5 4l-3-1l1 1l-7-4l-1 0l0 1l3 2l-3-1l2 1" stroke="#1b0c65"/><path d="M948 899l-5-2l6 5l-7-4l3 2l-7-3l6 4l-4-2l1 1l-8-4l4 3l6 5l-7-5l1 2l3 2l5 4l-4-2l1 2l6 5l-10-7l8 7l-10-7l5 5l-3-1l-4-3l1 1l-3-1l-4-3l11 9l-10-7l4 4l-8-5l5 4l-3-2l9 8l-6-4l0 1l2 3l-2-1l-4-3l-1 0l2 2l-1 1l-6-5l4 4l1 2l-1-1l-2 0l0 1l1 1l3 3l-2-1l-3-2l3 3l3 3l-9-6l8 7l-1 0l-3-2l6 6l-8-6l5 4l-3-1l-1 0l-2-1l6 5l-1 0l5 5l-9-8l-2 0l2 2l-1 0l0 1l-2-1l3 4l-2-1l2 2l-1-1l5 6l-6-5l1 2l1 1l-3-1l1 0l-5-3l1 1l5 6l-2-2l-4-2l4 4l-3-3l-1 0l5 6l-5-4l-1 0l1 1l-1 0l-2-1l5 5l-2 0l3 3l-11-10l0 1l2 3l-5-5l6 7l1 2l-1 0l2 3l-6-6l2 3l-2-2l-1 0l-1 0l2 4l1 2l-5-5l2 3l0 1l-2-2l1 2l-7-6l3 4l-2-1l5 5l-5-4l2 3l-3-2l2 3" stroke="#1c0c6b"/><path d="M896 947l-2-1l3 4l4 5l-6-5l4 4l-6-5l-2-1l5 6l6 8l-9-10l5 7l-11-12l4 5l2 3l4 5l-8-8l0 1l9 11l-2-2l-8-8l4 6l-1-2l-1 0l-5-4l-4-4l3 4l-3-3l3 5l-2-2l2 3l-2-1l2 3l-3-3l10 13l-13-15l3 5l-3-3l5 6l-4-4l5 7l1 3l2 2l-8-8l1 1l6 9l-11-13l6 8l-2-2l4 6l-7-7l5 6l-1 0l-2-1l-5-6l7 10l-4-5l-1 0l6 8l-11-14l3 6l5 7l-1 0l-1-1l-1 0l-6-7l6 8l-1-1l-4-4l3 5l1 3l5 7l-8-10l1 3l1 2l-4-6l-3-3l-1-1l8 13l-4-5l2 3l-5-5l-2-3l5 8l-7-8l3 4l-1-1l-2 0l-1-1l1 2l-4-4l3 4l-3-4l1 3l-3-3l1 2l3 5l-4-5l4 7l-1 0l1 2l3 5l-3-3l4 7l-3-4l-3-3l1 2l1 3l-5-7l3 5l-2-3l0 2l-1-1l3 5l-1 0l-3-4l-2-2l0 1l0 1l-1-1l1 2l-4-5l0 2l1 1l-2-2l-2-1l3 4l0 1l-1 1l-4-7l4 8l-4-6l4 8l1 3l-4-6l4 8l-5-8l2 5l-6-9" stroke="#1e0d74"/><path d="M839 986l5 8l-1 0l0 1l0 2l-1-1l2 5l-2-3l-2-1l0 1l-4-7l3 6l2 5l-5-7l2 4l-1-1l1 3l-3-4l2 4l-1 0l-2-4l-2-2l4 9l1 2l0 2l0 1l-2-2l-4-6l2 4l3 9l-3-6l-3-5l-1 0l1 3l-2-3l-2-3l5 11l-4-7l1 2l2 6l-3-5l-3-5l-1 0l4 8l-3-4l2 5l2 5l-8-15l1 2l-2-2l5 11l-4-6l4 8l-3-4l-2-4l-3-4l3 7l1 4l-3-5l0 2l5 10l-2-2l-4-7l1 3l1 4l-1-2l2 7l-3-7l-3-5l4 11l-2-5l-4-7l3 9l2 5l-2-2l1 2l-4-8l1 5l-1 1l-1-3l1 3l0 2l0 2l-4-9l0 1l-1-2l1 5l-5-10l3 9l0 1l-2-5l0 3l0 2l0-1l-1 1l-1-3l0 3l0 1l-1-2l1 3l-2-2l0 1l0 1l1 3l-1 0l-3-8l2 8l0 3l-3-6l2 7l-1-2l1 3l-1-1l0 1l-3-6l-2-2l-1-1l0-1l-1 0l0 4l-2-4l-1-1l2 5l-3-6l-1-3l1 6l0 2l-1-1l1 6l-1-2l-1-3l0 3l0 3l-1-1l-1-2l1 5" stroke="#1f0d7d"/><path d="M782 1032l-1-3l-2-5l1 6l0 1l-1-1l1 3l-2-4l-1 0l0 2l-2-5l0-1l-1 1l2 6l-2-4l-1 0l1 4l-1-2l-1-2l-2-3l-1-2l1 3l-1 1l0 2l0 1l-1 0l-1-3l0 2l0 3l-1-4l0 5l-1-1l0 1l-1-1l0-1l-1-2l-1-2l1 7l-1 0l0 3l-1-3l1 5l-3-8l1 4l-1-2l-2-4l1 7l-1-5l0 2l0 2l-1-1l0 1l-1 1l-1-5l0 2l-1 1l-1-4l0 6l0-1l-1 1l0 1l0 3l0 2l-2-7l0 3l-1-3l-1 0l0 1l-1-2l0 1l0 1l-1 0l-1-3l0 2l-1 0l0 2l-1-1l0-1l-1 0l-1 0l0 1l0 1l-1-2l-1 1l0 2l0-1l-1 2l0-1l-1-1l0 1l-1 0l-1-2l0 3l0-1l-1 1l0-1l-1 1l0-1l-1-1l-1 0l-1 1l0-2l-1 2l0-2l-1 1l0 1l-1 0l0-1l-1 0l0 1l-1-1l-1 0l0 1l-1-1l-1 0l0 1l-1-1l0 1l-1 0l-1 0l-1 0l0 1l-1 0l0-1l-1 0l0 1l-1-1l-1 0l0-1l-1 1l0 1l-1-2l0 1l-1-1l0 2" stroke="#210e86"/><path d="M710 1039l-1 0l0 2l-1 0l-1 0l-1-1l0 1l-1-1l0 1l-1-2l-1 1l-1 0l-1 1l0 3l-1-2l-1 3l0-2l-1-1l0 1l-1 0l0 1l-1-3l0 1l-1 0l0 3l-1-3l0-1l-1 3l0 2l-1-2l-1-1l0-4l-1 1l0-1l-1 1l0-1l-1-3l0 4l-1 0l0-1l-1 0l0 2l-1-3l0-2l-1 4l-1 0l0 5l-1-5l0 2l-1-7l0 9l-1-6l0 6l-1-2l0-4l-1-1l0 6l0-11l-1 7l-1-4l0 5l-1 1l0-4l-1-1l0 5l-1-4l0 2l-1-2l0-6l-1 8l0-2l0-2l-2 7l0-1l0-4l-1 3l0-3l0-8l-1 3l-1 8l0 1l-1 2l-1-1l0-2l-1 3l0-1l0-1l-1-4l0-3l0-1l0-3l-1 5l-1-2l-1 6l0-1l-1 4l-1 3l0-9l-1 11l0-10l-2 13l1-10l1-9l-1 0l-1 7l-1 1l-1 6l-1 2l-1 1l-1 3l0-7l0-1l-2 7l2-14l-1 5l-1 4l-1 2l2-18l-2 12l0-3l-1 1l0-6l-3 19l1-9l-1 4l-1 1l-1 0l0-7l-1 4l2-12l-3 16l0-8l0-1l-1 3l1-10" stroke="#220f8f"/><path d="M638 1033l-2 10l1-5l-2 5l0-5l1-8l-1 7l1-8l-2 4l0-1l0-1l-1 1l1-6l-3 11l5-25l-1 1l-3 10l-1 6l-1 0l0-2l0-4l-1 6l-1 2l-2 4l-3 11l6-26l-1 2l1-6l-5 19l6-28l-1 0l0-2l-6 25l2-13l1-7l0 2l1-7l-4 14l6-26l-4 13l-4 15l1-5l5-24l-1 5l-13 46l1-6l5-22l-1 3l-2 6l3-11l-11 38l12-48l-3 12l-1 0l-2 4l2-6l-6 17l4-15l-6 19l3-13l-2 7l-5 16l10-37l5-19l-14 48l9-33l-4 11l7-27l-6 21l1-6l-2 5l6-20l-9 28l1-5l-5 15l9-33l-8 24l-2 5l7-24l-11 35l5-17l-8 21l4-12l7-23l-9 26l-5 13l5-16l-1 0l2-6l0-2l-4 10l9-28l-14 39l1-5l-3 6l10-30l-8 22l4-14l-5 13l3-9l6-18l4-15l-7 20l-4 9l4-11l-4 8l-7 19l4-12l1-4l1-6l-1 3l4-13l-6 14l-1 2l0-1l2-7l-1 2l0-3l-2 5l1-4l-3 6l-1 0l-2 6l0-1l6-17l-1 0l-4 10l-6 12l4-11l0-1l3-7l0-2l-3 5l0-2l2-6l-4 10l2-6l0-1l-7 14l-3 6l2-7l-1 3l-1-1l2-5" stroke="#230f97"/><path d="M570 1013l1-4l-4 9l0-1l5-12l-4 6l-1 1l2-5l0-2l-2 4l-1 0l0 1l-3 5l2-7l-2 4l-4 7l2-7l-1 0l-1 1l2-6l-2 3l2-3l-2 3l2-5l0-2l-2 2l-1 2l0-1l0-2l-2 3l3-7l-3 5l-1 0l1-2l-3 5l0-2l1-3l-2 4l1-3l1-3l-2 3l-1 0l0-1l0-1l-1 0l1-3l-2 3l0-1l1-3l-4 5l2-4l-1 1l-2 1l0-1l-1 0l-1 1l1-2l-1-1l-1 3l-1-1l-1 1l0-1l-1 0l0-1l-3 5l1-3l0-2l-1 1l-2 2l2-4l-2 1l0 1l1-3l-2 2l1-2l-2 1l-1 2l0-3l-1 0l2-4l-1 1l3-6l-4 7l2-5l0-1l-1 0l-3 4l1-1l0-1l-2 1l-2 1l3-5l-5 6l2-3l0-1l-1 1l-3 3l3-5l-4 4l-1 1l0-1l0-1l5-9l-5 7l5-9l0-1l1-2l-6 7l8-11l-6 6l-1 2l1-3l-10 14l11-16l0-1l-3 3l-3 4l4-8l2-3l-9 12l6-9l-8 9l4-6l-4 5l-6 7l12-17l-1 0l-9 13l6-10l-6 7l1-2l4-6l-7 9l2-4l-8 10l-1 0" stroke="#24119a"/><path d="M498 990l9-13l0-1l-6 7l0-1l1-1l3-6l-2 2l-3 3l4-5l-5 5l-4 5l9-13l-6 7l-3 3l6-8l-7 8l-2 1l3-4l2-3l-8 8l8-10l-1 0l2-4l-1 1l5-7l-14 16l8-11l0-1l-2 2l3-5l-4 5l-2 1l4-6l2-2l-9 10l4-7l-1 2l5-7l-8 8l-2 2l5-7l1-2l-6 6l1-1l-2 1l-1 0l-4 5l3-5l4-6l-3 3l5-6l-13 14l6-7l2-3l0-1l3-4l-4 3l-5 5l-2 1l-3 3l8-9l-2 1l3-4l0-1l-5 5l-4 3l-3 2l-1 0l4-4l-6 5l3-4l1-1l-3 2l-1 0l6-6l-4 3l-1 0l0-1l-3 2l-3 2l6-6l-2 1l-2 1l-1 0l4-4l-2 0l-3 2l-4 4l11-11l-7 6l0-1l0-1l3-3l-5 3l2-2l-4 2l4-4l-8 6l3-3l4-5l1-1l-4 3l1-2l-2 1l5-5l3-4l-6 5l4-4l2-2l-1 0l-7 5l8-7l-3 2l-4 3l-1 0l13-13l-11 9l-1 1l1-2l-5 4l-1 0l3-3l2-2l-11 8l10-9l6-5l-7 5l-2 0l4-3l-2 1l6-6l-10 8l10-10l4-3l-1 0l-14 11l5-5l-5 4l-4 2l5-4l4-4" stroke="#24129d"/><path d="M456 928l-1 0l-2 0l1 0l-3 1l-1 1l9-9l-14 11l-2 1l14-12l-12 10l-2 0l-2 1l-6 4l24-19l-9 6l-6 4l5-4l-7 4l2-2l-4 3l5-5l13-11l-13 10l2-2l-3 2l-15 10l22-17l-5 3l-2 1l2-2l-3 1l-2 1l1-1l2-2l2-2l-1 0l-4 2l9-7l-8 5l1-1l1-1l-3 1l1-1l0-1l-1 0l2-2l-7 4l9-6l-7 4l3-3l-7 4l-14 10l20-15l-15 10l0-1l3-3l12-9l-16 11l4-3l5-4l-9 5l6-5l-13 8l2-1l11-9l-16 11l-2 0l8-5l3-3l5-4l-8 4l-9 5l8-5l-5 2l7-5l-1 0l-2 1l2-2l3-3l-4 2l1-1l4-3l-9 5l-1 0l17-11l-11 6l-8 4l5-3l4-4l-1 1l11-8l-9 5l-5 2l-1 1l4-3l-1 0l-2 0l5-4l4-3l-10 5l3-2l-2 1l4-3l-3 1l3-2l-5 2l-3 1l5-3l7-5l-7 4l7-5l-12 6l7-4l-7 3l1-1l3-2l1-2l-2 1l1-1l-5 2l2-2l6-3l-4 1l-10 5l3-2l5-3l-7 3l3-2l4-3l-5 2l0-1l1-1l5-3l4-3l-9 4l2-1l-3 0l-2 1l7-4l-3 1l0-1l0-1l3-2" stroke="#2514a0"/><path d="M414 869l-1 0l-3 1l-2 1l5-4l-4 2l-5 2l-3 1l13-7l-11 5l6-4l2-1l-4 1l3-2l-6 3l1-1l7-4l-9 3l-7 3l5-3l5-3l0-1l-5 1l2-1l-1 0l0-1l-3 1l2-2l6-3l-7 2l-2 1l5-3l-2 0l4-2l-6 2l-1 0l5-3l5-2l-3 1l-9 3l10-5l-3 1l-5 1l2-1l-6 2l5-3l-7 3l4-3l6-3l4-2l-9 3l3-2l-5 2l2-1l3-2l-5 1l7-3l-5 1l-2 0l-1 0l-1 0l-4 1l-1 0l0-1l1-1l2-1l-5 1l1-1l9-3l-2 0l-9 3l7-4l-6 2l0-1l-1 0l6-2l-3 0l1-1l-12 4l16-6l-5 1l2-1l4-2l1-1l-9 3l6-3l-7 2l10-4l-5 1l2-1l-5 1l5-2l-9 2l3-1l-3 0l10-4l-6 2l-4 1l-6 1l3-1l0-1l5-2l-2 0l2-1l0-1l-1 0l-1 0l-1 0l-6 1l7-3l5-2l-2 0l4-1l-7 1l9-3l-6 2l0-1l-5 1l12-4l-4 1l-2-1l-1 0l-2 0l4-1l4-2l-7 2l-2 0l11-4l-11 2l5-1l3-2l1 0l-5 1l2-1l-2 0l-3 0l5-2l-7 1l9-3l-2 0l-8 1l4-1l-1 0l-8 1l6-2l3-1" stroke="#2615a3"/><path d="M385 802l0-1l3-1l2-1l-8 1l7-2l-2 0l-8 2l12-3l-15 2l9-2l-9 1l7-2l-5 1l4-2l-9 2l12-3l-13 2l3-1l-5 0l8-2l0-1l5-2l2-1l-1 0l-5 1l-3 0l5-2l4-1l-2 0l5-2l-5 1l0-1l-1 0l-2-1l2-1l-1 0l-2 0l10-2l-11 1l4-1l-4 0l2-1l5-1l-6 1l-6 0l4-1l-4 0l1-1l-6 1l10-2l-6 0l-3 0l1-1l-8 1l7-2l-6 1l0-1l-2 0l9-2l-3 0l5-1l-4 0l4-1l-6 0l4-1l-6 0l5-1l-6 0l-1 0l-1-1l8-1l-3 0l-4 0l5-1l-3-1l-6 0l5-1l3 0l8-2l-12 1l12-2l1 0l-10 0l1-1l6-1l0-1l8-1l-12 1l10-2l-2 0l-5 0l2-1l2-1l-6 0l-2 0l-8 0l9-1l7-1l-5 0l6-1l-4 0l-5-1l13-1l-10 0l10-1l-5 0l5-1l5-1l-10 0l-4 0l-5-1l3 0l0-1l-3 0l4-1l-1 0l8-1l-5 0l-1-1l1 0l-2-1l2 0l-1-1l-5 0l1-1l6 0l-2-1l2 0l-8-1l6 0l4-1l-3 0l-6-1l-1 0l6-1l2 0l-4-1l0-1l-4 0l2-1l-3 0l1-1l-4 0" stroke="#2617a6"/><path d="M361 729l3-1l-2 0l6-1l-7-1l4 0l5-1l4 0l-10-1l4 0l-3-1l0-1l8-1l-5 0l5-1l-6 0l2-1l-1 0l-1-1l-7-1l4 0l-1-1l8 0l-4-1l-1 0l-1-1l1-1l-1 0l-2-1l1-1l-4 0l5 0l3-1l-2 0l4-1l-1 0l-2-1l-5-1l5 0l-6-1l4 0l1-1l-2 0l0-1l-2 0l0-1l3 0l2 0l-2-1l-4-1l5 0l0-1l-3 0l1-1l2 0l3 0l-3-1l1 0l-9-2l5 0l5 0l-4-1l1 0l-2-1l-3-1l2 0l-1-1l3 0l-1 0l-1-1l2 0l6 0l0-1l-9-1l5 0l0-1l2 0l-2-1l-1 0l0-1l-1-1l7 1l-2-1l-2-1l2 0l4 0l-5-2l-5-1l-2-1l17 2l-4-1l-2 0l-5-2l6 1l-3-1l-8-2l7 0l-3-1l-1 0l4 0l1 0l10 1l-8-2l-3-1l7 1l-1-1l-6-2l8 1l-10-3l3 1l0-1l3 0l2 0l-1-1l-1-1l4 0l5 1l-14-3l14 2l-11-3l4 0l2 0l-8-2l3 0l10 1l-8-2l7 1l-3-1l-1-1l-6-2l4 1l2 0l-7-2l10 1l1 0l-12-3l8 1l-1-1l1 0l-2-1l-2-1l-2-1l9 1" stroke="#281dab"/><path d="M380 654l-2-1l-7-2l-3-1l5 1l3 0l-5-2l9 2l-5-2l-2-1l1 0l5 1l-3-2l-4-1l2 0l0-1l-6-2l-5-2l19 5l-10-3l7 1l4 1l-5-2l0-1l6 1l-6-2l-7-3l10 3l5 1l-3-2l-7-2l-3-2l-2-1l2 0l1 0l-4-2l-2-1l14 4l2 0l5 1l-9-3l1 0l-2-1l-2-2l6 2l-7-3l4 1l0-1l-8-3l6 1l-3-1l12 3l-7-3l-7-3l0-1l-2-1l1 0l1 0l-1-1l-3-2l14 5l1 0l-4-2l-5-3l13 4l-13-5l9 3l-2-1l1 0l3 0l1 0l0-1l-2-1l3 1l-11-5l3 1l-5-3l9 3l1 0l4 1l-10-4l14 4l-16-6l6 1l-1 0l11 3l3 1l-8-4l1 0l-1-1l5 2l-4-2l1 0l7 2l-6-3l-3-2l-5-2l-3-2l11 4l-6-4l-2-1l7 3l-2-2l3 1l-4-2l2 0l3 1l2 0l-2-1l-3-2l9 3l-3-2l-3-2l8 3l-1-1l-6-3l-5-3l9 4l-1-1l0-1l1 0l3 1l-4-2l-4-3l3 1l1 0l-1-1l1 0l-6-3l6 2l-6-3l10 4l-4-3l7 3l-10-5l4 1l1 0l-1-1l2 0l-5-3l3 1l3 1l-10-6l6 3l2 0l2 1l2 0l-8-5l2 1l2 1l-2-2l-1-2" stroke="#2a23b0"/><path d="M395 578l1 1l-3-3l-2-1l1 0l8 3l-2-1l7 3l2 0l-5-3l6 3l-10-6l8 3l-2-1l-1-1l7 3l-4-3l-6-3l12 5l-7-4l5 2l-4-2l2 0l-1-1l-7-5l4 2l4 2l3 1l-8-5l1 0l7 3l-2-2l-10-6l7 4l-4-3l2 1l1-1l3 1l3 2l-5-4l9 5l-5-4l-2-1l5 2l6 3l-11-7l2 1l1-1l3 2l-11-7l12 6l-4-3l3 1l4 2l-3-3l-4-3l7 3l-6-4l4 2l0-1l1 0l-2-1l7 4l-4-4l1 1l-8-6l11 6l1 0l-5-4l2 0l-2-1l5 2l-4-3l5 3l-9-7l9 6l-2-2l0-1l-1-1l3 1l5 3l-6-5l6 3l-3-2l-4-4l4 3l1-1l-10-7l7 4l5 3l-5-4l2 1l4 2l-9-7l4 2l-5-4l5 3l6 4l-5-4l-4-4l1 0l-7-5l4 2l5 3l0-1l-10-7l9 5l3 1l-4-3l-3-3l2 1l10 6l-3-3l-3-2l2 0l10 7l-8-6l-3-3l-1-2l2 1l1 0l-1-2l1 1l0-1l1 0l-2-2l4 2l4 3l-4-4l3 2l-2-2l1 0l-2-3l-3-3l4 3l2 1l3 2l-3-3l8 6l-3-4l-3-2l3 1l5 4l-4-4l-1-1l1-1l-1-1l-5-5l5 4" stroke="#2c29b5"/><path d="M440 516l2 1l2 1l-1-1l-4-4l-1-2l4 3l2 0l-1-1l0-1l-1-1l2 1l-1-2l0-1l-1-2l-3-3l-1-1l2 1l-1-2l1 1l5 3l-1-1l1 0l5 4l-7-7l6 5l0-1l2 1l-5-6l7 7l-3-4l1 1l-3-5l6 5l-3-3l3 2l-1-1l-1-2l-1-1l-2-3l3 2l-4-4l5 4l-6-7l1 1l-1-2l0-1l2 1l-1-2l6 5l-2-2l0-1l4 4l2 1l-3-3l0-2l-2-3l5 5l-7-7l8 7l-5-6l3 3l-1-2l-2-4l7 8l-2-4l-1-1l3 2l-2-3l2 1l-5-6l7 8l2 0l-4-4l0-1l4 4l0-1l4 3l-4-5l2 1l-4-5l2 2l-1-2l-2-3l3 2l2 2l-1-2l-5-6l3 3l1 0l1 0l2 2l-2-3l1 0l-1-2l1 0l0-1l3 3l1 0l-3-4l4 3l-5-6l4 4l4 4l-2-3l3 3l0-2l-2-3l5 5l-6-8l6 6l1 0l-2-3l1 0l-2-3l-1-2l9 10l-9-12l5 6l5 4l-2-4l-2-2l2 2l-3-5l4 4l1 0l-3-4l7 7l-5-7l1 1l-2-4l-4-6l6 7l3 2l2 2l-3-4l-3-4l3 3l-3-5l7 8l-1-2l1 0l2 2l-2-3l-4-7l9 11l-3-4l1 0l-2-3l-1-3" stroke="#2d2eba"/><path d="M492 457l-6-9l7 9l1 0l-2-4l0-2l1 1l3 3l1 1l-1-2l-3-6l8 11l-6-9l3 2l1 2l3 3l-5-8l3 4l2 2l0-2l-1-1l1-1l-5-8l1 0l8 10l-6-9l-2-4l4 6l1 0l2 1l1 1l0-1l-1-3l1 1l-3-6l9 13l1 1l-5-9l3 3l3 4l-2-4l1 1l1-1l-3-5l2 2l2 3l-2-3l0-2l4 5l1 1l0-2l-1-3l-2-5l-3-6l-1-3l2 3l-1-2l3 3l0-1l1 1l1-1l1 2l-1-4l5 7l3 6l-4-8l2 2l-4-9l2 4l-3-7l4 7l-1-4l6 10l-2-5l-2-4l3 4l2 2l-2-4l1 0l1 1l3 4l-5-10l2 3l-1-3l1 1l5 8l-7-14l4 6l0-1l1 1l1 2l0-1l0-3l-3-7l6 10l-4-9l1 1l2 3l-4-9l4 7l-1-3l6 10l-5-10l8 14l-9-19l5 8l-2-4l2 3l-1-3l3 3l5 10l0-2l-4-9l4 8l1 1l-1-4l0-1l-1-2l1 0l7 13l-4-8l0-2l1 1l-3-8l2 3l5 10l-3-7l1 1l-2-6l2 4l5 8l-4-10l1 1l-3-7l1 0l3 6l-1-3l0-1l0-3l-2-4l6 11l-1-3l3 6l0-2l-1-2l-2-8l3 6l0-1l2 3" stroke="#2f33bd"/><path d="M561 419l5 9l-1-2l-2-7l0-1l-2-5l2 2l-3-7l4 8l0-1l1-1l3 7l-3-9l-3-9l5 12l-1-3l0-3l3 6l2 4l-4-11l0-3l1 2l2 5l2 3l-3-10l6 15l-1-4l-1-4l3 8l-3-11l6 13l1 3l-5-16l1 3l-1-5l5 13l-1-4l1 0l3 8l-3-11l3 7l-4-13l1 3l0-4l-1-3l1 2l4 11l0-4l-2-8l2 5l2 3l-3-11l2 5l2 6l-6-20l8 22l-4-13l2 4l2 4l0-2l1 1l0 1l4 8l-2-7l0-2l0-1l-1-5l0-3l2 4l4 12l0-2l-1-4l2 5l1 2l-3-13l2 5l3 8l-1-6l1 2l1 3l1 3l-3-14l2 7l1 1l-1-5l2 5l-1-5l1 0l-1-5l6 19l-5-20l3 12l0-4l-1-4l1 2l1-1l0-2l2 5l-2-8l-2-8l4 11l2 9l-2-13l0-2l4 15l-2-11l1 5l-1-8l3 8l3 10l-3-12l0-2l0-4l2 8l-1-5l2 6l-4-19l3 7l0 1l1-1l-2-8l1-1l0-2l2 9l2 7l-2-13l3 12l-1-7l4 16l-3-16l1 3l4 14l-2-9l-1-8l0-2l4 15l-1-8l-2-11l2 9l3 9l0 1l0-4l-2-15l2 9l0-1l0-6l4 21l-1-8l0-3l-2-13l5 23l-2-10l0-6l2 9l-2-12l2 4" stroke="#3138c0"/><path d="M636 394l2 8l-3-23l5 31l-2-16l1 1l-1-8l0-5l3 16l0-3l-1-7l1 2l2 7l-2-14l1 4l1 3l0-2l1-2l1 5l-1-12l1 6l0-3l1 5l0-4l2 9l0-5l2 5l-1-8l0-1l2 9l0-3l1 0l0-2l0-1l2 7l0-2l-1-11l1 5l1 4l1 6l-1-18l2 14l0-5l0-2l1 5l0-4l2 13l0-10l2 15l-1-14l1 10l0-7l0-8l1 12l0-12l1 7l0-2l1 1l1 1l0-6l1 8l1 10l0-4l1 6l0-2l0-8l1-2l0 3l1 0l0-1l1 1l0-1l0-6l0-12l2 18l0-1l1 3l0-5l0-7l1 11l0-10l1 7l0-16l1 7l0-2l1 2l0-3l1 5l0-7l1 11l0-5l1 1l0-6l0-9l1 12l1 8l0-8l1-1l0-4l1 2l0 4l1 0l0 8l1-8l0-2l1-6l0 2l1 8l0-2l1 1l0-3l1 13l0-8l1-5l0 7l1 5l0-3l1 0l0-5l1 2l0-2l1 3l0-2l1 2l1-2l0 1l1-5l0 6l1 1l0-1l1 4l0-4l1 7l0-4l1 2l0-1l1-1l0 4l1-5l0-5l1 4l0 3l1-2l0 2l1-3l0 2l1-2l0 5l1-6l0 4l1 2l0-1l1 0l0-1l0 6l1-6l1-2" stroke="#323dc3"/><path d="M715 391l0 1l1-1l0 3l1-3l0 3l1 0l0 2l1-1l1-5l0 5l1-3l0 1l1 0l0 1l1-5l0 4l1 0l1 2l1-2l1 1l0 5l1-5l1 0l0 4l1-2l0-3l1 2l0-1l1 2l0 1l1-3l1 1l0 2l0 2l1-3l1 0l0 1l0 1l1-3l0 2l1 1l1-2l1-1l0 4l1-1l1-6l1-2l0 4l0 2l1-2l1-4l-1 6l1-1l1-2l0 4l0 1l0 2l2-5l0-2l1 1l0 2l0 5l2-9l-1 8l1-2l1-3l0 3l1-3l1 0l0 2l1-2l-1 5l2-6l0 4l0 1l1-1l1-3l-1 8l1-6l0 2l1 0l1-4l0 3l0 2l2-5l0-1l1 2l1-4l-1 7l0 1l1-4l0 4l2-6l0 3l0 1l1-3l2-5l0 3l-1 5l2-4l-1 4l2-5l-1 4l1-2l1 0l-1 4l1 0l0 4l0-2l0 3l2-5l1-3l0 3l0 2l1-3l0 3l1-3l1-1l0 4l1-2l1-5l0 4l1 0l-1 6l2-5l1-3l-1 5l1 0l0-1l0 2l1-2l0 3l1 0l1-3l0 3l0-1l2-2l-1 6l1-4l2-5l1 2l-1 3l1 0l0 1l0 2l1-1l-1 3l2-4l-1 4" stroke="#3240c5"/><path d="M792 407l1-1l0 3l1-3l0 2l0 1l1 0l2-5l0 2l2-4l0 1l1-1l-1 6l1-4l0 2l1-1l-1 4l4-9l0 1l1 0l0-1l0 4l1-4l-1 5l2-3l-1 3l-1 4l1 1l1-3l0 1l2-2l2-6l1-1l-2 9l3-7l0 2l0 1l1 0l-2 6l1-3l5-9l-5 13l2-3l-2 5l3-5l1-1l1-1l1 0l-1 3l3-7l-3 9l2-4l-1 5l3-6l-2 6l1 0l3-8l-5 14l3-5l2-3l-1 2l3-4l-4 9l2-4l1 0l0 2l2-5l2-2l0 1l-2 7l2-4l0 1l1-1l0 1l2-3l-3 8l0 1l1-2l2-2l0 1l0 1l0 2l1-1l1 0l0 2l1-1l-1 3l2-3l2-3l-1 3l0 1l2-4l-1 3l1 1l1-2l0 2l0 1l-1 4l3-6l2-2l-2 3l0 3l1-1l1-1l0 1l0 1l2-2l-1 2l1-1l1 1l-1 2l4-7l-2 5l2-2l0 1l-1 2l0 1l1 0l2-2l-1 2l0 1l0 2l1-2l-1 3l3-3l-1 2l1 0l1-2l1 0l-1 2l1-1l1-1l0 2l1-1l1-1l-2 5l2-3l0 1l0 2l1-1l-1 2l2-2l1 0l-2 3l3-4l-1 3l2-2l-1 1l3-4l-1 4l1 0l-2 4l3-4l1 0" stroke="#3243c7"/><path d="M868 431l1-1l0 2l0 1l-1 2l1 0l2-2l1-1l0 2l2-2l0 1l-1 3l1-2l0 3l1-1l0 1l2-2l3-5l-5 8l5-7l-5 9l4-4l0 1l3-4l1-1l2-2l-4 7l-2 4l4-6l0 2l-1 3l6-8l-8 12l8-10l5-7l-12 19l5-7l9-12l-5 8l-1 3l-6 10l6-9l5-6l-10 16l10-14l-7 11l11-16l-4 7l7-9l-6 10l5-7l-10 16l4-5l1 0l-2 2l5-5l-11 16l2-1l7-10l1 0l-1 2l-5 7l4-4l2-2l0 1l-1 2l7-9l-3 5l-3 6l-1 2l0 1l7-9l-7 10l6-8l6-7l-12 17l3-2l-3 4l21-26l-15 20l2-2l-1 2l-1 3l-5 7l14-17l-7 9l7-7l4-4l-7 9l5-6l-9 12l11-12l-10 13l-3 5l4-5l-5 7l6-6l10-11l-16 21l7-9l2-2l9-10l-18 23l18-21l-3 4l-7 9l8-8l-6 8l6-7l4-4l9-10l-8 10l-9 12l10-12l0 2l-8 9l10-11l6-6l5-5l-15 18l14-15l-10 13l10-11l-23 27l9-9l1-1l-2 3l5-5l-17 20l19-21l1 1l-12 14l-1 1l9-9l-2 3l7-7l-4 5l4-4l7-7l-4 5l-8 10l4-3l-6 7l2-2l-6 8l5-5l8-8l6-5l-17 19l1-1l0 2l-9 10l13-13l-2 2l-5 6l1 0l-2 3l11-12l-6 8" stroke="#3247c8"/><path d="M922 491l5-4l-6 6l10-10l-6 7l10-9l-9 10l6-6l5-4l-6 7l-10 10l0 1l16-16l-17 18l23-22l-18 19l16-15l-16 16l19-18l0 1l-5 5l8-7l-10 10l8-7l-1 3l-16 16l9-9l1 0l3-2l-2 3l-5 5l-1 2l6-5l-1 1l7-6l-14 14l9-8l2-1l3-2l2-2l-1 2l2-1l3-2l1 0l-5 5l5-4l-3 3l7-5l-3 3l-6 7l6-6l-2 3l5-4l0 1l6-4l-11 11l17-15l-6 6l0 1l-1 1l-5 5l8-7l6-4l-3 3l0 1l0 1l-2 3l7-6l-11 11l7-5l-12 11l10-9l-6 6l5-4l4-2l-5 5l-1 1l-1 1l-5 6l16-13l-15 13l5-4l-3 4l6-5l-4 5l6-5l-7 6l10-7l-8 7l1 0l5-4l4-2l-5 4l7-5l-6 6l9-7l-3 4l-9 7l7-4l-1 1l-1 2l2-2l-2 3l-6 4l7-4l-6 5l2-1l7-4l-8 7l5-4l8-5l-10 8l1-1l4-2l4-2l8-6l-11 9l2-1l3-1l-12 10l13-9l3-1l0 1l7-5l-3 3l1 0l-3 3l7-5l-5 5l-3 2l4-2l-5 5l5-3l-6 5l2-1l7-5l0 1l-4 4l-1 1l9-5l2-1l-2 2l1 0l-4 3l-2 2l-4 3l10-5l-3 2l0 1l-1 1l-3 3l-4 3l5-3l-5 4l13-7l-3 2l-9 7l3-2l8-5" stroke="#324dc7"/><path d="M999 531l0 1l5-2l-3 2l-3 3l-2 1l2 0l6-4l-8 6l8-4l-6 4l4-2l-8 6l9-5l-7 5l11-6l-3 2l6-3l-13 8l8-4l0 1l-5 3l9-4l-10 6l-3 2l4-1l8-4l-12 7l1 1l3-2l1 0l-4 3l0 1l6-3l-5 3l-6 4l-3 3l-5 3l24-13l-5 3l-11 7l2-1l-1 1l5-1l-7 4l6-3l-1 1l4-1l-6 4l-3 2l5-3l4-1l-7 4l5-2l3-1l-8 5l8-4l3-1l5-2l1 0l-18 10l3-1l7-3l2-1l-7 5l6-3l-7 4l17-8l-9 5l6-2l2-1l-1 1l-2 2l10-4l-2 1l1 1l2-1l-12 7l7-3l7-3l-7 4l-3 2l3-1l-4 2l0 1l10-4l-8 4l-4 3l10-4l3-1l9-4l-8 4l-1 1l0 1l-3 2l-8 4l9-4l-4 3l5-2l-8 5l2-1l3-1l7-3l-11 6l7-3l7-2l-9 5l7-3l-4 2l-3 2l3 0l2-1l-6 3l-5 3l3-1l0 1l8-3l-4 2l1 0l-10 5l-3 2l20-8l-9 4l-1 1l-8 4l14-5l-4 2l-2 1l13-5l-3 2l4-1l3 0l4-2l-1 2l-8 3l5-1l-2 1l0 1l1 1l-3 1l8-2l-8 3l-4 2l7-2l4-1l-2 1l-3 2l-1 1l2 0l8-3l-7 4l-1 1l-4 2l1 0l11-3l-9 4l8-3l-1 1l-2 2l0 1l-2 1l1 0" stroke="#3353c6"/><path d="M1037 607l0 1l-4 1l3 0l-1 1l4 0l-2 1l2 0l-5 2l-6 3l13-4l-9 3l11-3l-4 2l-2 2l-7 2l-5 3l6-2l3 0l1 0l-1 1l-4 2l4-1l-1 1l4-1l0 1l-12 4l6-1l-2 1l7-2l-5 2l2 0l5-1l-5 2l7-2l-10 4l2 0l2 0l11-3l-7 3l5-1l-6 2l10-2l-9 3l7-1l-7 3l-3 1l0 1l11-3l-1 1l-4 2l3-1l-12 4l-3 1l2 1l4-1l-6 2l5-1l2 0l5-1l-6 2l3 0l-1 1l6-1l-4 1l3 0l0 1l-4 1l-10 3l3 0l-6 2l3 0l5-1l-10 3l5-1l9-1l-7 2l1 0l4 0l1 0l10-2l-7 2l1 0l-4 2l6-1l7 0l-1 0l0 1l-2 1l2 0l2 0l-1 1l-17 4l7-1l-3 1l-2 1l5 0l1 0l-2 1l15-2l-10 2l6-1l5 0l-3 1l-2 1l6-1l-8 2l2 0l-3 1l4 0l-9 2l4 0l1 1l-1 0l5 0l2 0l-7 2l7-1l1 0l1 1l-14 3l12-2l-15 3l9-1l7-1l3 0l-3 1l-2 1l0 1l-3 1l-4 1l5 0l-2 1l5 0l-6 2l5-1l-5 2l10-1l-8 1l-5 2l12-2l1 1l-4 1l2 1l1 0l-6 1l2 1l1 0l1 0l4 0l-3 1l2 0l-2 1l8 0l-9 1l2 1l-3 1l-11 1l2 1" stroke="#3359c5"/><path d="M1043 692l7-1l-2 1l1 1l-2 1l-6 1l2 0l3 0l4 0l-7 1l-1 1l3 0l-3 1l17-1l-18 2l7 0l-4 1l-5 1l10-1l-5 1l11 0l-11 1l5 0l-6 1l8 0l2 1l-14 1l2 0l7 0l-2 1l4 0l1 1l-2 0l2 1l1 0l6 0l-5 1l-11 1l7 0l4 1l-1 0l6 0l-2 1l-9 1l15 0l-4 0l1 1l8 0l-10 1l-1 0l1 1l2 0l2 1l-3 0l0 1l-5 1l2 0l1 1l-1 0l7 0l0 1l5 0l-4 1l-15 1l12 0l1 0l-16 1l14 1l-5 0l-2 1l3 0l-6 1l1 1l-8 0l4 1l3 0l3 1l-9 0l2 1l4 0l-2 1l6 0l1 1l-5 0l1 1l1 0l2 1l-3 0l2 1l-1 0l10 1l-3 0l-4 1l-6 0l-1 1l-5 0l7 1l-2 0l-3 0l5 1l-1 0l0 1l-2 0l-4 1l4 1l-1 0l4 1l2 1l0 1l6 0l-8 0l1 1l-11 0l10 1l-1 0l0 1l7 1l-6 0l-1 1l-1 0l0 1l-3 0l5 1l-3 0l3 1l-5 0l11 1l-13 0l3 1l1 0l8 1l-11 0l3 1l2 0l0 1l0 1l-1 1l2 0l-6 0l16 2l-4 0l1 1l-3 0l-3 0l-2 1l-4 0l-3 0l-2 0l9 2l-2 0l5 1l-3 0l5 1l-3 0l4 1l-2 1l-1 0l5 1l-12-1l2 1l2 1" stroke="#335fc4"/><path d="M1048 774l6 1l-9-1l2 1l8 2l-5-1l2 1l0 1l-2 0l-1 0l0 1l-3 0l-1 0l12 2l-8 0l5 1l-6 0l2 0l4 1l-6 0l7 2l-8-1l7 2l-4-1l5 2l-1 0l-5 0l3 1l-5-1l0 1l3 1l-2 0l-6 0l6 1l-7 0l3 1l8 1l-12-1l-2 0l6 1l2 1l-5 0l1 1l1 0l3 1l5 2l-3 0l-6-1l8 2l-10-1l6 1l-3 0l4 2l-1 0l3 1l-7-1l6 2l2 1l-4-1l-3 0l0 1l-1 0l6 2l8 2l-10-1l-4-1l15 4l-10-2l-4 0l0 1l2 1l-3 0l6 2l2 0l4 2l-12-2l11 3l-9-2l-2 0l9 3l-7-1l18 5l3 1l-14-3l1 1l9 3l-7-1l-5-1l17 5l-14-3l-13-3l12 4l-1 0l4 2l-14-4l19 6l-9-2l0 1l-10-2l6 2l22 6l-17-4l-1 0l7 3l-14-4l3 2l12 3l2 2l-11-3l2 1l-1 0l-15-3l11 3l3 2l2 1l2 1l7 3l-14-4l13 4l-2 0l-7-1l18 6l-9-2l1 0l-8-1l-11-3l-1 0l10 4l-8-2l-4 0l12 4l-6-2l10 4l1 1l-14-4l-5-1l3 2l-6-2l0 1l4 2l5 2l6 2l-1 1l8 3l-8-2l-2 0l10 4l-11-4l4 2l-10-3l2 2l-1 0l6 2l-7-2l8 4l-6-2l3 2l-6-1l7 3l-9-3l-7-2l21 8l-8-2l-4-1l-11-4" stroke="#3465c4"/><path d="M1026 853l20 9l-4-1l-9-3l-6-2l12 5l-19-6l15 6l-15-6l12 5l1 1l-9-2l-1 0l1 1l6 2l-2 0l2 1l-5-1l3 2l1 1l-8-3l11 5l-13-5l9 5l2 1l-6-2l1 1l-1 0l-9-3l6 3l1 1l0 1l-6-2l4 2l0 1l4 2l-10-3l4 2l2 1l-1 0l2 2l-1 0l-1 0l-2 0l2 1l-2-1l2 2l-2 0l-1 0l3 2l-2 0l1 1l3 2l1 1l-1 0l7 4l0 1l2 1l-4-1l-4-1l0 1l-1 0l-4-2l9 5l-2 0l-3-1l-6-3l1 2l7 4l-6-3l-2 0l5 3l-3-1l-6-2l5 3l3 2l-4-1l2 1l-3-1l-5-2l3 2l2 2l-1 0l4 3l-6-3l-7-3l5 3l0 1l4 2l-4-1l12 7l-6-3l-2 0l-7-4l0 1l8 5l5 3l-4-1l2 1l-3-1l4 3l-8-4l2 2l2 2l3 2l-2 0l-1 0l-9-5l-4-1l11 6l-9-4l7 4l-7-3l1 1l-6-3l4 3l-1 0l2 2l-1 0l-3-1l2 1l-2-1l6 5l-1 0l-5-3l3 2l2 2l-1 0l-1 1l-2-1l3 2l-1 0l-2 0l7 4l-1 0l-1 0l0 1l-2-1l4 3l2 2l-10-6l4 3l6 5l-3-1l0 1l1 1l6 4l-1 0l-2 0l-3-1l6 4l-3-1l-9-6l3 3l5 4l1 1l-10-6l-2 0l7 5l4 3l-8-5l5 4" stroke="#346ac3"/><path d="M1006 938l1 1l-1 0l-2-1l3 3l5 4l-16-10l4 3l-1 0l8 6l4 4l-2-1l-11-7l16 11l-5-2l0 1l-3-1l6 4l-1 1l-6-4l2 2l1 1l-8-5l9 7l-1 0l-4-2l-8-5l15 11l-17-11l3 2l1 2l3 2l-3-1l-14-10l16 13l-4-2l-8-5l8 6l6 6l-3-2l-2-1l13 11l-12-9l2 3l-21-16l20 16l6 5l-7-4l-7-4l11 9l4 3l-5-3l-17-13l18 16l-6-5l17 14l-5-3l-8-5l-3-2l-2-1l9 8l-6-4l-11-8l7 6l-8-6l5 4l13 12l-9-7l6 6l-9-7l-14-11l20 17l-10-7l-2-1l5 5l-11-9l5 5l-14-11l10 9l-8-6l6 6l-7-5l10 8l-9-7l19 18l-18-15l6 6l-12-10l9 8l-6-4l3 3l6 6l-8-6l-7-6l-6-4l24 21l-11-9l1 2l3 3l-8-6l8 8l-4-3l0 1l-4-3l-11-9l5 5l-4-3l-3-2l4 5l-4-3l4 4l-4-4l3 4l-11-10l16 16l-5-4l1 2l-2-1l4 4l-5-4l7 8l-9-9l-11-9l9 9l1 2l-2-2l-1 0l-7-6l11 11l-5-4l5 6l-8-7l6 6l2 3l5 5l-5-4l3 3l-10-8l1 1l18 19l-12-11l5 6l-1-1l-8-7l3 3l-12-11l3 4l1 1l1 2l9 10l7 7l-1 1l-5-5l-4-4l-1 0l-2-1l-3-3l2 3l-3-2l1 2l-2-1l2 2l-2-1l3 4l12 13l-9-9l-3-2l-3-2" stroke="#346fc2"/><path d="M944 999l11 12l-7-7l-7-7l-4-3l11 13l-3-3l-3-3l0 1l0 1l0 1l3 4l-2-2l-2-1l5 6l-4-4l-2-2l-4-3l-2-1l-5-5l2 2l4 6l4 5l-3-2l0 1l-1-1l0 1l2 3l5 6l-8-8l6 7l-2-1l3 4l-2-1l1 2l-1-1l3 4l-10-10l2 2l-4-4l6 9l4 5l-3-2l-2-1l0 1l-5-5l4 4l1 3l-3-3l-3-2l-4-5l3 5l2 3l0 1l-6-7l2 4l-1-1l0 1l1 2l0 1l-1-1l4 6l-2-2l-1 0l0 1l-2-1l1 2l0 1l0 2l-2-2l0 1l0 1l1 1l1 3l-3-3l-2-1l-2-2l1 3l-1-2l1 3l0 1l3 4l-5-5l-3-3l0 1l2 3l-3-3l2 3l-3-4l0 1l0 2l2 3l1 3l-3-3l1 1l1 3l-6-8l5 8l-1-1l-1 0l-2-1l2 3l-2-1l1 2l-1-1l3 5l-3-3l0 1l2 3l-5-6l2 3l-5-6l7 12l-2-3l-1 0l0 1l0 1l-2-3l1 3l1 2l-5-5l3 4l-1 1l-1-2l-7-10l7 12l-4-5l-3-3l2 3l1 2l-2-2l-1 1l2 3l-1-1l-4-5l5 8l-5-5l5 8l-5-7l0 1l2 4l2 5l-5-9l3 7l-4-6l-4-4l2 3l1 2l2 5l-7-11l8 15l-4-7l0 2l-1 0l-5-8l3 7l-4-7l1 4l1 1l-3-3l2 3l-3-3l3 7l0-1l-3-3l-1-1l0 2l-4-5" stroke="#3374c1"/><path d="M875 1049l1 2l6 12l-5-9l0 1l0 1l-1 0l-3-4l-1-1l8 15l-5-9l1 4l-1 0l1 3l-2-3l2 5l-3-5l1 3l1 2l1 4l-5-9l2 6l1 3l-3-6l-1 1l3 5l-4-6l-4-6l4 8l3 7l-1-1l-6-10l0 2l-3-6l1 4l-3-6l1 4l-1 0l1 2l-3-4l0 1l-1-1l3 7l1 5l-7-13l2 6l-2-3l-4-7l4 7l-4-6l3 8l-1-1l-4-6l7 15l-2-2l-3-5l2 4l-2-2l1 2l-1-1l-1-1l-2-2l0 1l1 2l2 7l-1-2l2 7l-3-6l1 4l-3-5l-2-4l3 8l-8-16l3 8l2 7l-5-11l4 10l2 6l-5-9l2 5l0 2l-1-1l1 3l-2-5l0 2l0 1l-3-4l-1-3l5 13l1 6l-6-15l-1 0l4 11l-2-5l0 3l-3-7l2 6l-1-2l-1 1l-4-9l-2-4l2 7l-2-3l-1-2l0 2l1 4l-3-6l3 8l-6-13l2 7l-1-2l4 11l-6-15l1 7l1 4l2 4l-6-12l2 6l2 7l-2-3l-3-8l-1 0l1 4l-1-2l0 3l-1-2l0 2l0 2l-3-8l3 8l-3-5l-1-2l2 8l2 7l-2-5l-2-4l0 1l-3-7l1 4l1 4l-1 1l2 6l-1-1l-1-2l-2-3l2 5l-5-13l3 10l-4-9l4 12l-3-5l2 6l-3-7l0 1l2 10l-2-6l-2-5l1 7l-3-10l1 5l-2-4l1 3l1 7l-2-7l2 10l-5-15l3 13l1 2l-3-7" stroke="#3379c0"/><path d="M797 1083l0 3l1 3l0 3l-2-7l0 5l0-1l-2-3l0 2l0 1l-2-5l1 3l0 4l0 2l-1-1l1 6l-2-5l-1-3l1 6l-2-5l0 3l0 1l-2-6l2 10l-5-16l4 15l-3-7l1 3l0 3l-3-8l2 8l-1-3l-1 0l-1-1l0-1l2 13l1 4l-3-8l-2-5l1 5l0 1l-4-12l2 9l1 7l-3-13l0 2l-3-10l0 5l1 3l-1-1l0 1l-2-4l2 9l-3-8l-1-4l0 3l1 6l-1 0l-1-6l0 3l1 7l1 7l-3-9l-1-3l0 4l-2-5l1 6l-1-3l0 5l0 5l-1-2l-1-3l0-1l-2-8l1 12l0-1l-2-6l-2-7l2 10l0 4l-1-3l-1 0l0 1l-2-11l0 4l1 8l-2-4l1 3l-1 0l-1-2l-1 0l0 3l0 1l-1-4l-1 0l0 4l-1-4l-1-1l0 1l1 12l-2-9l-1-2l1 6l-1-2l0 6l-2-11l0 3l-1-5l0 3l0 6l0 1l-2-8l0 3l-1-4l0 6l0-1l-1-2l-1-1l-1-1l0 5l-1-3l1 7l-2-7l-1-4l0 3l-1-2l0 1l0 8l-1-4l0-4l-1 0l0 5l-1-1l0 1l-1-4l0 4l-1-3l0 6l0-2l-1 0l-1 0l-1-2l0 1l0 3l0 6l-1-4l-1-5l-1-6l0 10l0-2l-1-1l0 4l-1-5l0 3l-1-6l0 3l-1 6l0-1l-1-4l0-1l-1 0l0 4l-1 1l0-2l-1 0l0 1l-1 1l0-1" stroke="#327ebf"/><path d="M714 1109l-1 4l0-3l-1 1l0-1l-1 0l-1-2l-1 1l-1-9l0 8l0 3l-1-3l0-3l-1 2l0 2l-1-9l0 7l-1-4l0 2l-1 3l0-5l-1 4l0-4l-1 3l0 2l-1-5l0 1l-1 10l0-7l-1 1l0 1l-1 5l0-4l-1-5l0-1l-1 7l0-10l-1-3l0 4l-1 3l0 1l-1 3l0-9l-1 7l0-1l-1 1l0 1l-1 4l0-5l-1-2l0 2l-1 1l0-4l-1 3l0-4l-1 2l0-1l-1 12l0-10l-1-2l-1 8l0 1l0-4l-1 10l0-16l-1 8l-1 7l0-1l-1-4l0-7l0 2l-1 3l-1 2l0-11l-1 13l0-1l0-5l-1-4l0-1l-1 0l0 4l-1-7l0-6l0 2l-1 4l0-1l-1 2l-1 8l-1 3l-1 7l1-12l-1 1l0-10l-1 5l1-14l-1 10l-1 3l0-3l-1 1l1-11l-2 9l-1 6l-1 7l0-4l0-4l0-3l0-5l-2 8l0-3l-1 2l0-3l1-10l-2 8l0 1l-1 6l-1 5l0-5l-1 1l0-5l0-6l-1 9l0-2l0-12l-1 8l0-1l0-7l0-4l-2 11l-1 6l2-17l-2 12l-2 12l1-17l-1 5l0-4l-1 7l-1 1l0-7l2-13l-2 7l-1 9l-1 1l-1 2l1-11l-2 15l3-23l-3 14l1-11l-3 15l0-2l-2 9l4-27l-3 13l2-16l-3 19l0-5l1-6l-3 13l3-19l-8 46l5-37l-1 8l-1 0l-1 5l1-10l-5 23l1-4l0-5l-1 0l3-16l-5 27l-2 6l-1 1l2-10l-2 5" stroke="#3283be"/><path d="M623 1118l4-23l-2 5l-4 21l3-20l-2 10l0-6l-3 16l-1 3l2-13l-4 15l0-3l3-14l-2 4l2-12l2-10l1-10l-7 30l7-36l-3 12l2-11l-9 40l-1 1l4-23l-7 34l4-24l-1 5l-4 14l1-6l3-18l0-3l5-21l-3 8l1-6l1-4l-10 38l1-5l1-5l1-6l-6 23l5-23l-7 27l2-14l1-6l3-11l0-2l-6 20l7-28l-1-1l-4 14l1-4l-1 1l1-4l3-14l-3 8l0-3l-6 19l-5 18l6-24l1-7l-4 15l4-19l0 2l-8 24l6-21l3-15l-4 15l-1 0l-4 12l2-9l-3 11l0-4l0-2l2-7l-4 13l2-10l-1 3l1-8l2-7l-7 23l-1 1l3-14l-1 2l2-6l-1 2l-3 6l-3 9l-4 10l-2 7l5-20l-1 4l1-5l-3 7l1-6l0-2l-8 23l1-5l4-13l-1 2l-1 2l1-4l0-3l-6 18l5-19l-1 1l0-1l-4 10l-2 6l9-29l-4 10l-4 10l2-8l0-1l2-7l-1 2l0-1l1-7l-1 1l-2 5l2-5l-2 2l-3 8l5-15l-3 8l2-8l0-3l-6 16l1-4l5-15l-3 7l-1 0l-9 24l7-21l-5 13l-1 0l4-12l-2 4l-3 7l1-5l-1 3l3-11l1-3l-3 6l-1 1l-5 12l4-11l-6 14l0-3l1-4l2-5l3-9l-5 10l3-7l3-9l-1 1l-3 6l-2 3l0-1l1-4l-3 5l-3 8l5-15l-5 12l2-6l-2 2l1-3l-1 0l3-8l-5 12l1-6l4-8l-1-1l-2 4l-6 12l-1 3l2-6" stroke="#3286be"/><path d="M540 1082l2-6l-1 0l2-6l-3 5l0-2l-8 18l7-18l-4 8l2-5l-5 9l2-4l-5 8l2-4l-4 6l7-16l-7 14l-1 1l7-16l-5 9l-3 5l1-3l-1 1l2-6l-1 2l4-11l1-1l-9 15l3-7l-4 8l3-7l3-7l1-4l-2 3l-4 8l2-6l0-2l-1 1l0-1l-6 10l5-12l-2 4l0-2l-2 5l1-4l2-5l-6 11l-1 1l3-7l-3 4l-1-1l2-4l0-1l-1 1l-2 2l3-6l-2 2l-1 0l-2 3l-1 0l-3 4l2-3l0-1l-1-1l-1 1l1-3l0-2l1-4l-6 10l2-6l0-2l0-1l-2 3l-2 3l1-2l-1-1l2-4l-2 2l-2 3l2-4l0-2l-2 1l3-5l-3 4l0-1l-3 5l2-5l0-1l-1 0l0-1l-2 2l0-1l-1 1l0-1l-1 0l2-4l-1 1l-2 2l0-1l1-2l-1-1l-1 2l0-1l1-4l-3 4l2-3l0-1l-2 1l2-4l-1 1l0-1l0-1l-1 1l-1 0l1-2l-2 2l0-1l0-2l1-1l-3 2l-1 1l1-2l-1 0l-1 1l0-1l0-1l-2 2l1-3l-1 0l-1 1l1-2l-1 1l-2 1l0-1l0-2l-1 0l0-1l-4 5l-1 0l2-4l-1 1l-2 3l-1 0l-2 2l1-3l3-5l-7 9l2-3l-3 3l8-12l-4 5l-3 2l-2 3l3-5l-2 2l2-4l-4 5l-3 2l1-2l-2 2l1-2l3-4l-6 6" stroke="#3289be"/><path d="M455 1047l1-2l-1 1l-2 2l4-6l1-3l-1 1l-3 2l2-3l3-4l-4 4l-2 2l2-3l-2 1l2-3l2-4l1-1l-2 1l-3 3l-1 0l-3 3l-1 0l0-1l-5 5l1-1l2-4l2-3l-3 3l3-4l-1 0l-3 2l-2 2l1-2l0-1l-3 3l-1 1l3-5l1-2l0-2l-2 2l2-2l1-3l-3 2l3-3l-1 0l1-2l-2 2l2-4l-2 2l-2 1l3-3l-1-1l2-2l0-1l-10 10l5-6l-3 2l1-2l3-4l2-2l-3 3l0-1l1-2l1-3l-3 3l1-2l-6 6l1-3l3-3l-4 3l1-2l0-1l3-3l-2 1l2-3l-2 2l-4 4l2-3l1-2l-2 2l3-4l-2 1l-1 0l0-2l-1 0l0-1l-1 0l0-1l1-2l-4 3l1-1l0-1l0-1l0-1l1-1l0-1l-3 2l1-2l-3 2l2-3l-1 0l-6 5l5-6l-6 5l5-6l4-4l-4 3l-1 1l2-3l-5 4l-2 1l5-5l1-2l-1 1l2-3l-2 2l-3 2l2-3l1-2l-4 3l0-1l2-2l-2 1l-1 0l2-3l-8 8l10-11l-5 5l-4 2l-8 7l5-5l2-3l2-3l1-2l3-3l-8 7l3-4l-7 6l1-2l4-4l0-1l-1 0l4-4l-2 1l-2 1l-5 4l3-4l-1 1l-1 0l3-3l-6 4l0-1l-1 1l13-12l-8 6l-5 3l7-6l-3 2l-3 2l9-9l-13 11l-5 3l10-9l-2 1l1-1l-1-1" stroke="#328dbd"/><path d="M401 973l-2 2l-2 1l0-1l2-2l-8 5l15-12l-18 14l4-4l2-2l7-7l2-2l-10 7l-3 2l-6 4l8-7l-1 0l1-1l4-4l9-7l-15 10l4-3l5-5l1-1l-8 6l1-2l-6 5l-1-1l3-3l4-3l-3 1l6-5l-4 2l2-2l0-1l1-1l-5 3l2-2l4-4l-9 7l5-5l-1 0l4-4l-5 4l-4 2l-1 0l2-3l-1 1l5-5l-5 3l2-2l-2 0l-4 2l3-3l-1 0l-4 3l-1-1l2-2l-1 0l2-2l-3 2l1-2l1 0l-1 0l-5 2l2-1l6-6l-7 5l3-3l-6 4l-1 0l9-7l-4 2l-4 2l-1 1l1-2l1-1l-1 0l-5 2l7-4l-3 1l-7 4l3-3l2-2l1-1l-4 2l4-3l1-1l-4 1l2-1l-4 1l-2 1l9-6l-1 0l-1 0l-2 1l-4 2l3-3l1-1l-6 3l7-5l-1 0l-1 0l4-3l-2 1l-2 1l-6 3l5-4l4-3l-4 2l-7 4l4-4l-1 0l3-2l0-1l5-4l-8 5l1-1l4-3l-2 1l-1-1l-4 2l4-3l0-1l-6 3l8-5l-3 2l0-1l-5 2l-4 2l2-2l-4 2l8-5l-1 0l2-2l-7 3l8-5l-4 2l1-2l8-4l-11 5l6-4l2-2l-8 4l-1 0l1-1l-1 0l5-3l0-1l-6 3l13-7l-1 0l-16 7l-7 3l5-3l10-6l-9 5l6-4l-4 2l1-1l-3 0l-2 1l-6 2l15-8l-4 1l14-7l-12 5l7-4l-9 4l6-3l2-2l-9 5l6-4l5-3l-11 5" stroke="#3193ba"/><path d="M352 900l5-3l0-1l-2 1l-9 3l1-1l12-6l-7 3l-11 5l20-11l-6 3l1-1l-10 4l6-4l4-2l3-2l-11 5l2-2l-11 5l7-4l8-4l-13 5l8-4l6-3l-3 1l-8 3l14-7l-4 1l-6 2l2-1l3-2l-16 7l18-9l-12 5l2-1l-3 0l4-2l-10 4l10-5l2-1l-1 0l-4 1l-3 1l-7 2l18-8l-13 5l-3 0l8-3l-2 0l1-1l2-1l-12 4l14-6l-9 3l2-2l2-1l-7 3l3-2l-6 2l2-2l4-2l-2 0l-2 0l8-3l-9 3l1-1l3-2l-6 2l1-1l1-1l-2 0l3-1l-3 0l-5 2l5-3l2-1l-4 1l3-1l-2 0l0-1l-3 1l0-1l0-1l-1 0l2-1l-1 0l3-2l-11 4l6-3l-1 0l0-1l-2 0l6-2l-8 2l-4 1l0-1l-1 0l4-2l2-1l-4 1l-3 0l-3 0l12-4l-7 2l1-1l8-4l-4 1l-4 1l1-1l-4 1l1-1l2-1l4-2l1-1l-7 1l12-4l-15 4l7-2l3-2l2-1l-3 0l2-1l8-3l-8 2l-1 0l4-2l-3 1l-11 2l1 0l6-3l-5 1l-4 1l4-2l5-2l2-1l-15 4l9-3l-6 1l13-4l0-1l8-3l-14 4l3-1l7-3l-8 2l-7 1l4-1l-8 1l9-3l6-2l-7 1l16-4l-10 2l-11 2l-5 1l4-2l7-2l-3 1l6-3l-3 1l-2 0l2-1l14-4l-2 0l2-1l-23 5l6-2l5-2l-11 2l14-4l-11 2l-4 0l-3 0l8-2l-4 0l13-4l-9 2l1-1" stroke="#3199b7"/><path d="M311 819l-3 0l-1 0l-10 2l16-4l-15 3l15-4l-6 1l4-2l-7 1l-3 0l6-2l-9 2l15-4l-11 2l-1 0l1-1l1-1l4-1l0-1l0-1l5-1l-2 0l-4 0l-8 1l12-3l-4 0l13-3l-9 2l3-1l-11 1l10-2l4-1l-4 0l-2 0l4-2l5-1l-16 2l6-1l9-2l-9 1l-10 1l1-1l7-1l2-1l2-1l6-2l6-1l-9 1l-1 0l-8 0l16-3l-16 2l-1 0l5-1l12-3l-9 1l2-1l-11 2l1-1l-7 0l1 0l4-1l9-2l-6 0l3-1l-6 1l-1-1l-4 0l5-1l12-2l-2-1l-4 0l4-1l-6 0l-5 0l15-2l-19 2l9-2l10-2l-13 2l-5 0l10-2l-2 0l-2-1l-2 0l7-1l-2-1l-5 1l2-1l-15 1l1-1l4-1l7-1l-2 0l11-2l-17 1l19-2l0-1l-12 1l8-1l-1 0l-7 0l2-1l-4 0l4-1l4-1l-6 0l-5 0l3-1l-3 0l5-1l7-1l-3-1l-7 0l-5 0l5-1l1 0l-8 0l8-1l1-1l-7 0l9-1l1-1l-4 0l-4 0l-1 0l-6-1l9-1l10-1l-17 1l-4-1l6 0l4-1l8-1l4-1l-11 0l2 0l6-1l-5 0l1-1l-9 0l16-1l-18 0l9-1l-3 0l-2-1l3 0l-3-1l12-1l-10 0l1 0l-3-1l-10 0l3-1l1-1l3 0l-3-1l2 0l-6-1l18 0l-14-1l5 0l1-1l10 0l-3-1l-4 0l-7-1l-2 0l2-1l2 0l-3-1l1 0l2-1l2 0l-1-1l-9-1l12 0" stroke="#309fb4"/><path d="M295 729l-11-1l10 0l-1-1l12-1l-12 0l-1-1l-2-1l6 0l-3-1l1 0l-1-1l2 0l-2-1l14 0l-11 0l-2-1l2-1l-4 0l6 0l6-1l-11-1l-7 0l9-1l-1 0l4 0l-6-1l5-1l-1-1l-6 0l3-1l-6-1l6 0l7 0l-7-1l3 0l3 0l-6-1l5 0l-4-1l2-1l-1 0l0-1l3 0l-5-1l-2 0l3-1l2 0l-4-1l1 0l2-1l-3 0l-2-1l12 0l-5-1l-8-1l7 0l7 0l-4 0l3-1l1 0l-1-1l-5-1l9 1l-5-1l5 0l-9-2l-1 0l4 0l-1-1l-6-1l7 0l-7-1l3 0l5 0l-1-1l-4-1l-4-1l-2 0l13 0l-4-1l-1 0l-1-1l5 0l-1-1l-3-1l-3-1l7 1l4 0l-9-2l-2-1l-1 0l-4-1l3 0l10 0l3 0l-5-1l-7-1l6 0l0-1l6 1l0-1l5 0l-8-1l4 0l0-1l-8-1l-3-1l16 2l-10-2l-6-2l3 0l8 1l-1-1l-2-1l6 1l-6-2l10 1l-2 0l-1-1l3 0l-5-1l-14-3l21 3l-6-2l-6-1l1 0l-5-2l1 0l-2-1l7 1l0-1l-4-1l-1-1l4 0l5 0l3 1l-3-2l-1 0l4 0l-14-4l-8-2l10 2l3 0l-3-1l3 0l-2-1l-1-1l-2-1l4 1l4 0l-4-2l-1 0l5 0l-6-2l-7-3l15 3l-6-2l2 0l5 0l-6-2l2 0l4 1l-10-3l8 1l-1 0l-3-2l6 1l-7-2l-1-1l14 3l-10-3l3 0l-6-2l-7-2l4 0" stroke="#30a4b1"/><path d="M300 635l9 2l-11-3l8 1l-6-2l1 0l6 1l8 1l-5-2l-2 0l-4-2l-4-2l11 3l-4-2l4 1l1 0l4 0l0-1l3 1l-7-2l-3-2l4 1l-3-2l14 4l-4-2l5 1l-3-1l-5-2l2 0l-1-1l-2-1l-3-1l4 0l1 0l-5-2l0-1l-3-1l7 2l-6-3l-10-3l19 5l-5-2l-4-2l2 0l1-1l2 1l-4-2l-1-1l3 0l2 0l1 0l0-1l-3-1l6 1l7 1l-2-1l-1-1l-9-4l9 3l-4-2l2 0l-4-2l9 2l-8-3l-12-4l19 5l-17-6l7 2l4 1l-13-5l11 3l3 1l-14-6l3 1l-5-3l11 4l-12-5l9 3l-3-2l2 0l-1-1l-2-1l6 2l3 0l-5-2l-3-2l2 0l-2-2l7 3l-2-2l-4-2l15 5l-11-5l7 3l-10-4l4 0l10 4l-8-4l3 1l-11-5l8 2l-8-3l1 0l8 2l-1-1l1 0l3 0l-1-1l-5-2l-3-2l-4-2l8 3l-2-2l3 1l6 2l3 0l-1-1l-8-3l2 0l-6-3l3 0l6 2l-1 0l-11-6l9 3l6 3l-1-1l-9-5l7 3l0-1l-3-2l5 2l-1-1l-7-4l-4-2l12 4l-2-1l1 0l-1-1l3 0l-5-2l6 2l-3-2l7 2l-10-5l6 2l-3-2l3 1l-8-4l-1-1l9 4l4 1l3 1l-2-2l6 3l-8-5l-4-2l5 2l0-1l2 1l-2-2l-5-3l3 0l-4-2l2 0l3 1l2 0l1 0l-3-1l-1-1l-6-4l1 0l8 3l-4-2l5 2l-4-3l-7-4" stroke="#32a7af"/><path d="M322 542l7 3l1 0l0-1l-1-1l-4-3l8 4l-5-3l6 3l2 0l-12-7l9 4l4 2l-1-1l-6-4l8 3l3 2l1 0l-3-2l-4-3l7 3l11 5l-1-1l1 0l-11-7l-2-1l7 3l5 2l-7-4l1 0l-9-5l0-2l12 7l-4-3l4 2l6 2l-7-4l2 1l-2-2l-2-2l0-1l2 1l-3-2l1 0l-4-3l0-1l-5-3l-1-2l-2-1l3 1l-10-6l9 4l-2-1l2 0l1 0l4 2l-2-2l-1-1l-1-2l-8-5l3 1l4 2l-6-4l6 3l1-1l3 2l3 1l-11-8l9 5l3 1l-6-4l-3-2l15 9l-6-5l4 2l3 1l5 3l-8-6l6 3l2 1l-5-4l10 6l9 5l-8-6l-9-6l10 6l9 5l-19-13l-11-8l22 15l-8-6l-2-3l6 4l-5-4l10 6l-14-10l2 1l0-1l-1-1l9 5l-2-1l2 0l16 10l-4-3l-4-3l0-1l-9-7l0-1l10 7l-7-6l7 5l-7-6l7 4l-6-5l-5-4l1 0l7 5l-6-6l5 4l-3-3l-7-6l3 2l8 5l-4-4l-4-3l-7-6l3 2l12 8l1 0l-3-3l9 6l-1-1l-5-4l5 3l7 4l-11-9l6 4l-4-4l4 3l-9-8l14 10l-3-2l1 0l-1-2l5 3l2 2l-6-6l-1-1l2 1l4 2l-3-3l-3-3l-6-5l9 6l-3-2l8 5l-23-19l17 13l8 6l-6-6l-12-10l1 1l-5-5l8 5l3 2l-5-5l3 3l1-1l-3-3l-1-1l-2-2l5 3l-1-1l-8-8l12 10l6 3l-4-4l4 4l-3-3l1 0l-10-10l6 5l0-1l4 3l-4-4l2 1" stroke="#33aaac"/><path d="M379 464l-2-3l6 5l-8-8l19 16l0-1l2 1l-20-17l-1-2l6 4l5 4l1-1l-12-11l8 7l4 3l1-1l-8-7l9 7l1 0l4 3l-10-9l11 9l2 1l-13-12l10 8l-3-3l-9-9l9 7l-3-3l-1-2l4 3l-4-4l13 11l-10-9l10 8l-8-8l-2-3l8 7l-3-4l-9-9l10 9l5 4l-1-2l-8-8l5 4l6 5l-15-15l1 1l8 7l3 2l5 4l2 0l-6-5l7 6l4 2l-2-2l-5-5l5 3l2 2l-1-2l2 1l-3-3l-4-5l6 6l3 2l11 10l-15-16l10 10l0-1l-2-3l1 1l-7-9l7 7l1 1l0-2l-1-1l10 10l-9-11l0-1l1 1l9 8l-7-7l-7-9l14 14l-10-11l4 4l1 0l1 1l-2-3l-4-5l6 5l-2-3l7 7l-8-9l8 8l-9-10l5 4l-4-5l9 9l-12-13l6 5l-5-6l7 7l-5-6l-1-2l5 4l-7-9l-2-2l2 1l-6-7l6 6l7 7l-5-6l7 7l-4-6l6 7l4 3l1 1l-8-10l4 4l-4-6l6 7l11 12l-3-5l-11-13l3 2l2 2l-3-4l5 5l-4-6l-2-3l1 0l7 8l-9-11l6 6l2 2l0-1l-6-8l0-1l15 17l-15-18l-1-2l-5-7l0-1l7 8l3 3l3 3l-7-9l-1-3l10 12l-12-16l18 22l6 7l-7-10l-7-10l4 5l-3-6l15 19l-5-7l4 4l-2-3l-2-4l3 3l-2-3l-6-9l1 0l4 5l5 5l6 7l-5-7l0-1l-13-17l1 0l3 4l-1-3l8 10l-3-4l6 6l-8-12l1 2l9 11l-14-20l7 9l0-2l15 20" stroke="#35adaa"/><path d="M469 426l-3-5l-8-11l-3-5l1 0l-8-11l11 14l1 1l-2-4l3 2l-12-16l7 8l3 4l7 9l-3-6l-4-6l3 3l-5-7l10 12l-1-1l-4-8l1 1l-9-13l11 15l3 3l-5-9l3 4l-6-9l-4-7l13 17l3 5l4 4l-5-8l4 5l-11-17l5 6l4 6l-5-8l2 1l1 0l-4-6l5 7l6 8l-6-10l-4-7l6 8l-7-11l12 17l-2-4l2 2l3 4l-9-15l5 7l4 5l-3-6l1 1l-2-3l2 1l1 1l1 1l-3-6l1 2l-4-8l1 1l8 11l-3-5l-5-9l9 13l-6-11l-5-8l6 8l-9-15l7 9l-2-3l8 12l9 13l-5-8l-3-6l0-1l1 1l5 6l-2-4l3 4l1 0l0-1l-5-9l3 5l1-1l3 5l-5-10l2 3l0-2l0-2l-1-2l2 2l1 1l-1-2l-1-3l1 1l0-2l2 3l-1-3l1 1l1 0l-2-3l0-3l3 6l4 6l0-2l-3-6l1 1l2 2l0-1l-1-3l1 0l1 1l-2-3l-1-3l6 10l0-2l0-1l1 2l0-1l1 0l0-2l-2-5l2 5l2 2l-2-5l0-1l0-1l4 6l1 1l0-2l1 2l0-1l3 4l-3-6l2 3l0-1l0-2l1-1l-1-2l0-1l-3-8l3 6l-1-3l2 3l3 4l-6-13l2 2l2 3l-1-2l3 5l-4-9l7 12l-1-3l3 5l-2-6l2 6l4 5l-2-5l1 2l-3-8l1 1l2 3l0-2l-1-3l2 4l-1-4l0-2l2 5l3 5l-4-11l3 6l-2-5l2 3l3 5l-3-8l1 2l6 12l-4-11l0-1l0-1l0-2l1 2l2 3" stroke="#36b0a7"/><path d="M538 365l-3-7l0-2l3 6l-1-4l3 5l-2-6l3 7l0-2l-1-2l2 1l-3-7l3 6l-1-4l0-1l1 1l5 12l-1-6l1 2l-2-6l0-2l-1-3l1 2l1 0l3 6l-1-4l-3-8l4 7l0-1l-2-5l4 8l-1-4l-4-12l5 12l-2-7l3 6l1 1l-1-3l1 1l1 1l0-1l0-4l0-1l-1-4l2 5l0-2l-2-7l0-2l3 7l1 2l0-2l-1-5l3 7l-1-4l2 4l2 5l-1-5l1 2l0-3l-1-2l1 1l1 1l1 2l1 0l3 9l-2-8l0-1l2 4l0-3l0-2l0-2l2 6l0-2l-1-5l2 5l0-2l-1-4l2 5l-1-5l1 1l2 4l0-1l1-1l-1-4l2 4l0-3l-1-3l1 2l1-1l1 2l2 6l-1-6l1 3l2 4l-1-6l-1-3l2 3l-1-3l0-3l1 0l1 3l1 1l0-2l1 1l-1-3l0-1l0-2l1 1l0-2l0-1l3 6l1 2l0-1l1 3l-1-8l0 1l0-3l0-2l2 4l1 2l-1-3l3 7l0 1l-1-8l3 8l0-1l0-1l0-2l1 0l2 5l-2-7l1 1l0-2l1 3l-1-8l1 3l0-4l0-3l1 0l2 6l1 5l-1-7l0-2l1 1l2 5l-1-6l1 2l2 4l0-1l2 7l0-2l-1-8l1 3l1 3l1 0l-1-5l1-1l0-2l1 5l1 3l1-1l-2-10l1 2l1 1l1 2l0-1l1 0l0-1l2 7l0-4l0-4l1 2l0 2l1 3l2 4l-1-9l1 8l-1-9l1 2l1-1l-1-5l1 0l0 1l2 4" stroke="#37b2a4"/><path d="M625 328l1 6l0-6l1 3l0-1l1 1l-1-8l0-5l1 3l0-1l0-2l0-2l4 18l-1-9l0-5l1 4l0-2l0-3l1 2l1 2l0-4l1 6l1 4l0-7l0 1l0-8l1 5l0-6l2 8l1 8l1 2l0-8l0-2l1 1l1 3l1 1l1 2l1 0l0-3l0-2l0-6l1 7l1-2l0 1l1 1l0-1l1 1l1 2l0-5l0-3l1 7l0-3l1 2l1 4l-1-8l2 6l-1-6l1-1l1 3l1 2l0-3l0-4l1 1l0 1l1 0l0-7l0-1l1 4l0-2l1 1l1 3l0 3l1-2l0 2l1-2l0 1l1 2l1 1l0-3l0-7l1 5l0-2l0-6l1 4l1 3l0-2l1 6l0-1l0-10l1 8l1 0l0-2l1 1l0-1l1 0l0 4l1-1l1 6l0-9l0 4l1-4l0 3l1 3l0-6l1 2l0-1l1-1l0 1l1-4l0 2l1-1l0 6l1-1l0-5l1 2l1 0l0 1l1 4l0-3l1 1l0-1l1 0l0 3l1-2l0 1l1 0l0-6l1 4l0-1l1 1l0 3l1 4l0-2l1-1l0-4l1-2l0 1l1-1l0-1l1-2l0 2l1 2l0 1l1-1l1-8l0 11l0-5l1 0l0 4l1-2l0 3l1-2l0 3l1-7l0 5l1 3l1-6l0 2l0 1l1-3l0 9l1-12l1 2l0 6l1-6l0-1l1 3l0-3l1-1l0 1l1-1l0 1l1 1l0 4l1-5l0 9l1-5l0-3l0 8l1-3l0-1l1-1l1-5l0 7l0 4" stroke="#38b3a1"/><path d="M719 324l1-5l1-1l0-1l0 3l1-6l1 0l0 6l1-3l0 2l0 2l1-5l1-4l1-5l0 5l0 5l1-7l1 2l-1 9l1-5l0 7l1-1l0-1l1-1l1-2l0-2l0 5l1 1l0-2l0 6l1-4l0 3l1-5l1 1l0-1l1 1l1-4l1-5l0 10l0 1l1-1l0-1l1 0l0 1l1 2l0-2l1-2l1-2l0-2l1-2l1 2l0-2l1 1l0 2l0 2l0 8l1-5l0-1l1-1l0 3l1-1l0-1l2-4l-1 4l2-9l-1 10l1 1l1-3l0 1M783 333l-1 3l1-1l-1 8l2-9l0 2l3-8l-2 8l2-5l0 2l-1 6l0 1l1-1l3-11l1 0l-1 7l2-7l0 2l1-2l0 3l-1 4l2-4l1-2l1-4l-1 5l1 1l2-8l0 4l0 2l0 1l3-9l0 1l-1 8l-1 6l1-3l1-2l-2 9l1-3l3-8l0 3l-2 6l0 4l2-7l0 4l0 2l1-2l-1 6l1-2l4-13l-2 10l2-3l-1 2l2-3l-1 5l1-2l1-1l-1 6l1-4l2-3l-1 5l1-3l0 3" stroke="#39b59e"/><path d="M812 342l1-4l1 0l1-2l0 1l4-11l-1 6l-1 5l3-7l-3 11l3-10l2-3l-3 9l3-5l-1 4l1-2l2-5l-1 6l3-8l-1 6l1-4l0 1l0 2l0 2l1-1l1-1l0 1l-1 6l2-4l2-4l-1 4l1-1l-2 8l2-5l1 0l1-2l-2 6l3-5l-2 5l0 2l3-6l1-2l1 0l-3 8l1-2l3-6l-1 6l-1 2l3-6l0 2l0 2l1-1l3-7l-2 7l2-5l-1 4l2-3l-2 5l1 0l-2 6l4-9l1 0l-1 2l2-2l0 2l0 1l0 1l-1 4l0 1l1-1l1-2l2-4l2-3l0 2l-3 7l1 0l-1 3l2-2l2-4l0 2l2-2l-1 3l1-2l0 3l2-3l-2 4l1-1l1-1l0 2l1-1l0 1l-1 4l3-6l-1 4l3-5l2-4l-1 4l0-1l0 2l1-1l2-2l-1 3l1 0l1-1l-1 3l3-5l1-2l-1 4l1 0l-1 3l0 1l0 1l-2 6l2-4l0 3l0 1l2-3l-1 3l-1 4l3-6l0 2l2-2l2-4l1-1l1 0l2-3l-1 2l-1 4l1-2l3-3l-2 3l2-1l-3 6l1 0l2-3l1-1l3-4l-2 5l0 2l1-1l-2 5l3-5l-1 3l2-2l-2 6l0 2l2-3l-1 3l4-5l2-2l-2 4l3-4l-5 10l8-13l-5 10l4-6l-4 7l0 1l-1 3l5-7l0 1l3-5l-2 5l-5 10l6-11l3-4l0 2l0 1l2-3l-7 13l3-4l3-4l-3 7l-2 4l3-5l3-3l-1 2l0 1l3-3l0 1l1-1l0 1l0 1l2-2l-1 2l5-9" stroke="#3ab69a"/><path d="M911 357l-5 10l1 0l-1 2l2-2l4-6l-1 3l0 1l2-2l0 2l-2 6l4-7l0 2l2-3l-4 8l6-10l-1 4l-2 3l-1 4l3-4l1-2l0 2l0 1l-1 2l2-2l1-1l2-2l-2 4l1-1l0 2l2-3l0 1l2-2l-2 5l1-1l1-1l-1 3l4-5l-2 4l1 0l0 1l2-2l-3 5l3-3l-2 3l-2 4l-1 3l4-5l-2 4l1-1l-1 3l3-4l-2 3l-2 5l3-4l2-2l0 1l0 1l1 0l-2 3l1-1l2-1l1-1l-3 5l6-8l0 1l-3 5l2-1l3-4l0 1l-3 5l2-1l1-1l-2 3l3-3l-1 3l1-1l-1 2l4-4l-3 5l0 1l1-1l3-3l-3 6l4-6l-4 7l4-5l-1 3l0 1l4-5l-2 4l-2 3l1-1l2-1l0 1l2-1l1-1l-1 2l3-2l-2 2l-2 4l4-4l0 1l1-1l0 1l-1 2l1 0l1-1l0 1l1-1l0 2l1-1l1 0l0 1l1-1l-1 3l1-1l1-1l0 2l1-1l2-1l-1 2l2 0l-1 1l0 1l2-1l1 0l-1 1l1-1l1 0l0 1l0 1l2-2l-1 3l1 0l-2 2l1 0l1-1l2 0l-1 1l0 2l1-2l0 1l0 1l1-1l2 0l-1 2l2-1l-2 2l1 0l1 0l0 1l0 1l1 0l-1 2l1 0l1 0l0 1l-1 1l4-3l-1 2l2-2l-3 4l2-1l-1 1l1 0l1 1l1 0l-1 1l1-1l1 1l1 0l0 1l-1 1l2-1l-2 2l0 2l2-1l-1 1l1 0l2-2" stroke="#3bb797"/><path d="M986 423l1 0l1 0l1 0l-1 2l1 0l-2 2l3-2l0 1l1 0l-2 2l2 0l0 1l-2 1l2 0l2-1l0 1l0 1l0 1l1 0l-1 2l1-1l0 2l-1 1l2-1l1-1l-1 2l1 0l2-1l-3 3l2-1l2-1l-3 4l4-4l-1 2l-1 1l2-1l-1 3l0-1l0 1l2 0l-2 2l1-1l2 0l-1 1l1 0l1 0l1 0l-2 2l1-1l0 1l-1 2l3-2l-2 3l0 1l1-1l1 0l1 0l2 0l1-1l-1 2l1 0l-1 1l2-1l0 1l-1 1l0 1l1 0l1 0l-1 1l1 0l1 0l0 1l-1 1l1 0l-1 1l2-1l1 0l1 0l-3 3l3-2l-2 2l2-1l-1 2l1 0l2-1l-1 2l1 1l-2 2l2-1l0 1l2-1l1 0l-1 1l0 1l-1 1l0 1l1 0l2-1l-1 2l1-1l-1 2l1-1l-1 2l3-2l2-1l-2 2l1 0l0 1l3-2l-2 3l1 0l1 0l-2 2l1 1l2-1l1 0l-2 2l4-2l-3 3l2-1l-1 1l0 1l-4 4l4-3l1 0l0 1l0 1l2-1l-1 2l-1 1l4-3l0 1l-3 2l4-1l-7 5l4-2l3-1l-1 2l2-2l-2 2l-3 3l4-2l3-1l-3 2l5-2l-4 2l-2 3l4-2l0 1l-2 2l1-1l1 1l-3 2l4-2l3-1l-2 2l1 0l3-2l-3 4l3-2l2-1l-1 2l-1 0l0 1l0 1l5-3l-4 3l-1 2l3-1l-2 2l-1 1l6-3l-4 3l6-3l-5 3l4-2l-2 2l0 1" stroke="#3bb894"/><path d="M1049 499l-1 1l0 1l1 0l-2 2l-1 1l-4 3l4-2l-1 1l4-1l-1 0l6-2l-3 2l1 0l3-1l-3 2l-1 1l2 0l6-3l-2 2l1-1l-5 4l4-2l0 1l-3 2l0 1l-2 2l4-2l-5 3l4-2l5-2l-8 5l3-1l0 1l1 0l-2 2l-2 1l9-4l-3 2l5-3l-1 2l2-1l1 0l-2 2l-4 3l-3 2l9-4l-2 1l1 0l-1 1l-4 3l1 0l0 1l3-1l4-1l-2 1l-1 1l4-1l1 0l-4 3l5-2l4-2l-5 3l-2 2l1 0l2-1l-4 3l-5 3l7-3l-2 2l10-4l-11 6l4-2l7-3l-11 7l2-1l2 0l-1 1l0 1l0 1l3-2l-1 1l-1 1l-3 3l5-2l-3 2l1 0l1 0l2 0l3-1l-4 3l2 0l-3 2l1 0l-7 4l6-2l1 0l-1 0l4-1l1 0l2 0l-2 2l2-1l-5 3l9-4l-3 2l-9 5l5-2l12-5l-5 3l-8 5l7-3l-4 2l13-6l-8 5l7-3l1 0l-3 2l-5 3l11-4l-10 5l7-3l2 0l1 0l-1 1l-10 5l10-4l3-1l-4 2l-11 6l7-3l-11 6l14-6l-17 8l8-3l9-3l-6 3l6-2l4-1l-5 2l4-1l-7 4l-7 3l9-3l-6 3l5-1l-4 2l1 0l3-1l1 1l2-1l-1 1l-1 1l1 0l2 0l-1 1l9-3l-7 3l0 1l-3 2l-3 1l2 0l2 0l10-4l-12 6l-3 1l5-1l-2 1l-6 4l1 0l8-3l-11 5l2 0l8-3l0 1l-1 0l-1 1l7-2l-6 3l-5 3l3-1l-3 2l3-1l-3 1l2 1l-5 2l8-3l8-2l-13 5l4-1l8-2l-11 5" stroke="#3cb990"/><path d="M1084 591l2-1l7-2l2 0l-1 1l-3 2l9-3l-7 3l-1 1l-5 2l9-3l-7 3l-3 2l5-1l-3 1l-3 2l6-1l-2 1l-4 2l1 0l4-1l1 0l2 0l-3 2l-2 1l6-1l4-1l-7 3l-3 1l5-1l-1 1l8-2l-7 3l3 0l-2 1l4 0l-2 1l-3 1l14-4l-2 1l-9 4l4-1l-6 2l-4 2l9-2l4-1l0 1l-5 2l-2 1l5-1l2 0l-5 2l-5 2l12-3l1 0l-3 2l2-1l1 1l2 0l1 0l-8 3l4-1l0 1l2 0l-1 1l-1 1l1 0l4-1l-5 2l-5 2l2 0l4-1l-4 2l-1 1l-2 1l7-1l-4 1l4 0l1 0l0 1l2 0l-1 1l1 0l-6 2l4 0l4-1l2 0l-5 2l-2 1l4 0l2 0l-2 1l-3 1l3 0l-3 2l1 0l-3 1l4 0l-2 1l-3 1l2 0l2 0l-1 1l2 0l1 1l-3 1l8-1l-4 1l-3 2l3-1l-1 1l-3 1l-3 1l3 0l-3 1l6 0l-3 1l-5 1l4 0l1 0l-3 1l2 0l3 0l-2 1l0 1l3 0l4 0l-4 1l1 0l0 1l-1 0l1 1l1 0l1 1l-1 1l-2 1l6-1l-7 2l6-1l-4 2l2 0l-2 1l-1 0l2 1l2 0l3 0l-4 1l-2 1l3 0l-1 0l4 0l2 0l-3 1l-1 1l0 1l2 0l1 0l0 1l-2 0l1 1l-9 2l4 0l-2 1l-2 1l3 0l0 1l1 0l-3 1l2 0l-3 1l6 0l3 0l-5 2l3 0l-1 0l0 1l-1 0l1 1l-2 1l-1 1l1 0l-1 1l3 0l1 1" stroke="#3aba89"/><path d="M1115 684l3 0l-7 1l5 0l0 1l-1 0l-1 1l1 0l-4 1l6 0l-4 1l5 0l3 1l-3 1l3 0l-5 1l3 1l-1 0l0 1l3 0l-5 1l4 0l-2 1l1 1l4 0l-5 1l3 1l4 0l-2 1l-1 1l-3 0l3 1l-2 0l3 0l3 1l-4 1l-2 1l2 0l-2 1l-4 0l1 1l2 0l-1 1l-1 0l0 1l1 0l6 0l0 1l4 0l-7 1l-2 1l-1 0l-2 1l2 0l1 1l-2 0l2 1l-3 0l1 1l6 0l-2 1l5 0l-2 1l2 0l-11 1l9 0l-10 1l6 0l-6 1l6 0l-1 1l1 0l-4 1l3 0l8 1l-2 0l3 1l-10 0l5 1l3 0l-1 1l1 0l1 1l3 0l-3 1l-1 0l1 1l-8 0l1 1l8 0l1 1l-4 0l-8 1l-3 0l0 1l15 0l-3 1l-2 0l-6 1l3 0l1 1l2 0l-2 1l3 0l-8 1l7 0l3 1l-11 0l-2 0l13 1l-11 0l9 1l-5 1l5 0l-3 1l-3 0l-1 1l3 0l3 1l-6 0l7 1l-2 0l-1 1l2 0l-4 1l1 0l2 1l-2 0l-2 0l-7 1l5 0l-3 1l-1 0l5 1l3 1l5 0l-4 1l-8 0l2 0l5 1l0 1l-2 0l6 1l2 1l-3 0l-1 1l1 0l1 1l4 1l2 0l-4 0l3 1l-6 0l-2 1l2 0l3 1l-3 0l1 1l1 1l-3 0l-2 0l1 1l-1 0l-2 0l-3 1l4 1l1 0l-2 0l1 1l-1 0l5 1l2 1l-2 0l1 1l-1 0l-2 1l8 1l-8 0l1 0l-2 1l1 0l1 1l-2 0l1 1l5 1l-5 0l2 0l-3 1l6 1l-5 0l-3 0l5 1" stroke="#39bb83"/><path d="M1124 783l0 1l6 1l-7-1l1 1l-2 0l2 1l1 1l-1 0l0 1l-1 0l-1 0l1 1l3 1l1 1l-4 0l3 0l-4 0l0 1l-1 0l4 1l-1 1l1 0l-1 1l-3 0l0 1l4 1l0 1l-6-1l-5 0l8 2l-2 0l4 1l4 1l-12-1l-4-1l8 2l-4 0l4 1l0 1l-2 0l-2 1l-6 0l9 2l-7-1l-1 0l5 2l-2 0l1 1l-2 0l9 2l-4 0l-15-3l7 2l2 1l7 2l2 1l-2 0l2 1l-5-1l7 2l-13-2l8 2l1 1l6 2l-5-1l-2 0l4 2l-2 0l-5-1l5 2l-5-1l-3 0l-2 0l2 1l-2 0l7 2l8 2l-14-2l8 2l0 1l-1 0l-16-3l3 1l-4 0l3 1l-6-1l14 4l-15-3l12 3l-6-1l3 1l-9-1l-1 1l-1 0l13 3l-12-2l-3 0l3 1l1 1l-4-1l-1 0l5 2l1 1l8 3l2 1l-9-2l11 3l-2 0l6 2l4 2l1 1l1 0l-3 0l-9-2l-2 0l10 3l-20-5l25 8l-16-4l-1 0l-3 0l13 4l-3 0l4 1l1 1l4 2l5 2l-18-5l3 2l1 0l10 4l-5-1l-1 0l5 3l-4-1l3 1l-1 0l2 2l-7-2l-5-1l-7-1l17 5l-6-1l-2 0l12 4l-10-2l3 1l-2 0l4 2l-3-1l-1 1l3 1l2 1l-5-1l10 4l-9-2l-2-1l0 1l1 1l-1 0l-3-1l0 1l6 3l-11-4l6 3l-1 0l-4-1l3 2l3 2l-6-2l-1 1l5 2l-4-1l-3 0l-2 0l1 0l-11-3l17 6l-8-2l0 1l-2 0l3 1l-1 0l3 2l-1 0l-8-2l10 4l15 6l-15-5l-6-2l5 3l-3-1l-1 0l-9-3l-1 0" stroke="#37bb7c"/><path d="M1088 876l16 7l-9-3l16 7l6 3l-9-3l-10-4l8 4l4 2l3 2l-1 0l-2 0l-8-3l-3 0l-5-2l4 2l-3 0l4 2l2 1l-3 0l-9-3l3 1l-6-1l1 0l8 4l-3-1l6 3l-8-2l20 8l-15-5l-3-1l-2 0l8 3l4 3l-3-1l-7-2l1 1l21 9l-7-2l7 3l-9-3l7 4l-18-8l-6-2l12 6l9 5l-17-7l5 2l0 1l6 3l-5-1l7 3l-8-3l1 1l-3-1l-6-2l8 5l-7-3l-1 0l7 4l3 2l-29-13l5 3l2 2l16 7l2 2l-7-2l-3-1l9 4l-2 0l-1 0l9 5l-19-8l24 11l-19-8l19 9l-5-1l-4-2l1 1l-20-9l19 10l-4-1l-8-4l-6-2l2 1l-1 1l4 2l9 5l-17-7l7 3l-9-4l-6-2l3 2l-4-1l-5-2l1 0l3 3l9 5l3 2l-2 0l-8-4l-8-4l10 6l11 6l-11-5l6 4l-16-8l1 1l11 6l-3-1l-4-1l-2-1l5 3l-6-2l-3-1l1 1l15 9l0 1l2 1l-6-3l13 8l-10-5l-4-1l6 4l5 3l-3-1l8 5l-2-1l2 2l-20-11l13 8l-12-6l3 2l-1 0l1 1l2 2l-7-3l6 4l6 3l6 5l-9-5l2 2l-4-2l1 2l-3-2l5 3l5 4l-5-2l-8-4l10 6l-4-2l7 5l-7-4l-3-1l-4-1l-7-4l4 3l1 1l-14-8l7 5l6 4l2 2l-2 0l7 4l-11-6l0 1l-3-1l3 2l-7-4l5 3l6 5l-1 0l3 2l-4-1l-7-4l12 8l1 1l0 1l1 1l-5-3l0 1l2 2l0 1l2 2l-8-4l2 2l2 1l-1 0l-15-9l20 14l-4-3l-8-4l5 4l-6-4l-2-1l5 5l-7-5l0 1l10 8" stroke="#36bc76"/><path d="M1059 974l-1-1l-3-1l-4-2l5 4l1 1l-4-2l5 4l-1 0l-1 0l-9-6l3 3l-1 0l-2-1l3 3l3 3l-4-2l-4-3l3 3l0 1l4 3l-2-1l-1 0l8 6l-3-1l-8-5l2 2l-1-1l-8-4l7 6l-7-5l11 9l-1 0l-2-1l-4-2l4 3l0 1l-4-3l-5-2l6 5l3 2l-5-3l4 4l-3-2l2 2l1 2l-1 0l-1-1l1 1l0 1l-4-2l-3-2l-2 0l4 4l1 0l-1 1l-4-3l0 1l-3-2l-1-1l4 5l-2-1l-1-1l-2 0l2 2l-2-1l1 1l0 1l-4-3l0 1l2 2l0 1l2 2l-1 0l-2-1l-1 0l2 2l1 2l-3-2l1 2l-2-1l2 2l-3-1l1 1l-1 0l1 2l-1-1l-1 0l1 1l-1 0l-1 0l3 3l-2 0l1 1l0 1l-1 0l-1 0l-1 0l2 2l-1 0l0 1l0 1l1 1l0 1l1 1l-2-1l2 3l-1-1l1 2l-1 0l-1 0l0 1l-3-2l2 3l-1-1l-1 0l1 1l0 1l0 1l-1 0l0 1l1 1l-2 0l1 1l0 1l-3-2l-1 0l-1 0l2 3l0 1l1 1l-1 0l-1 0l0 1l-1 0l0 1l-1 0l-1 0l-1 0l1 1l-2-1l1 2l-1-1l0 1l-1 0l1 1l0 1l-1 0l-1-1l0 1l1 2l0 1l-3-3l3 5l-3-3l-1 0l-2-1l-2-1l0 1l2 2l-1 0l-1 0l-1 0l-2 0l3 3l1 2l-1-1l-2-1l-2-1l0 1l-2-1l-2-1l3 4l5 6l-6-5l-1 0l2 2l-3-2l2 2l-3-1l-2-1l2 3l0 1l2 3l-2-1l-2-2" stroke="#35bd6f"/><path d="M992 1050l1 2l-6-6l3 5l2 3l-1 0l-1 0l3 4l-2-2l1 2l-9-9l6 8l-6-7l3 5l3 4l1 2l-1 0l-2-2l-4-3l1 2l-1 0l1 2l-1-2l0 2l-2-2l1 2l3 4l-2-2l-2-1l2 4l-2-2l-3-3l-1 0l0 1l0 1l-1-1l1 2l0 1l-2-2l1 3l-1-1l0 1l2 2l-1 1l-2-2l2 4l-1-1l0 1l0 1l-1-1l0 1l-1 0l0 2l-1 0l0 1l0 1l0 1l0 1l-1 0l-1 0l0 1l0 1l-1-2l1 3l0 1l0 1l-1-1l-1 0l0 1l-1-1l0 1l-1 0l-1 0l1 2l-1-1l-1 1l-1-1l-1 0l0 1l-1 0l0 1l-1-1l-1 0l0 1l-1 0l0 1l2 4l0 1l-2-2l-2-1l1 2l-1 1l-3-5l1 3l1 2l-2-2l-1 0l-1-1l2 4l-2-2l-3-3l2 5l1 2l2 4l-3-4l2 4l-1-1l-5-6l2 4l-4-5l4 7l-4-5l0 1l-1 0l0-1l-2-1l-1 0l-1-1l2 4l-1 0l-3-3l2 3l3 5l-3-4l-3-2l-1-1l2 4l-2-2l0 1l-1 0l-2-3l2 5l-2-2l-3-4l1 4l-1-1l0 1l2 4l-1 0l1 2l-3-4l0 1l1 3l-1 0l0-1l0 1l-4-4l2 3l-2-1l-1 1l2 3l-3-4l0 2l1 3l-2-3l-2-2l0 1l-1 0l-1-1l0 2l0 1l-1 0l1 1l-1 0l4 8l-4-6l1 3l0 1l-1-2l0 2l-3-4l-1 0l2 5l-2-3l-1-1l-2-3l0 2l1 3l1 2l-1 0" stroke="#33bd69"/><path d="M910 1110l-1 0l1 2l-2-3l1 3l-1-1l0 2l1 2l-1-1l-2-3l1 4l2 4l-3-5l1 4l0 1l-2-2l-1-1l-1-1l0 1l-1 0l-1-1l0 1l0 1l-1 0l-2-3l-1-1l0 2l-1-1l-2-2l1 4l-2-2l0 1l1 2l0 1l1 4l-2-3l-2-2l1 1l-1 0l0 1l1 4l-2-3l1 2l-1 0l-2-3l1 3l0 2l1 2l0 1l0 1l1 3l-4-6l1 2l1 4l-1-1l-1 0l-1-1l-1-1l-1-3l2 7l-1-1l0 1l-1 0l-2-3l2 4l-1 0l0 1l-1 0l0 1l-1 0l-1-1l0 3l-3-5l2 6l-1-2l0 1l-2-3l0 1l-1 0l1 2l-1 0l-2-3l2 4l-1 0l0 1l-2-3l-1-2l0 3l-1-3l0 3l-1-1l1 2l-1 0l-2-2l0 2l0 2l-1-2l-1 0l0 1l2 6l-2-2l-1-3l0 2l-1-2l0 2l-1 0l-1-1l0 1l-1-1l1 3l-2-1l0 1l-1 0l-1-1l-1-2l0 2l0 1l0 1l-1 1l-2-5l0 2l-2-3l0 1l2 7l-1-2l1 3l-2-3l-1-2l0 2l-1-1l-2-3l0 2l1 2l0 2l-2-3l1 2l0 3l0 2l1 2l-1 0l-1 0l0 1l-1-1l-1-1l1 2l-1-1l-1-1l0 1l-1 1l-4-10l1 4l-1-2l1 3l-1 1l1 3l-1-1l-3-6l3 9l-3-6l1 4l0 2l-2-3l-2-5l0 3l-1-1l-1-2l-2-3l1 3l-3-6l2 7l-2-5l1 4l-1-2l-1-1l-1-1l-1-1l0 2l0-1l-1 0l-1-1l1 3l-1-1l1 6l-2-4l0 1l0 1l-2-1l-1 0l0-1l-1 0l0 1" stroke="#33be63"/><path d="M816 1148l1 4l-3-6l1 5l-1-2l1 5l-1-1l0 1l-1 0l-1 0l0 2l-1 1l0 2l0-1l2 9l-1-1l-2-6l-1 0l-3-8l2 6l-1 1l-1-4l-1 1l1 2l-1-1l-1-2l-1-1l-1-2l-1-3l0 5l-1-1l0 1l0-1l-1 1l0-1l-1-1l0 1l-1-1l-1 1l-1-3l1 5l-1-4l0 3l-1-1l-1 0l0 1l-1 1l0-1l-1 0l-1-1l-1 0l-1-3l0 2l1 4l-1 1l-1-5l0 3l0 2l-1 1l0 1l-1-3l-1 1l0 1l-1-2l0 3l-1-4l0 1l0 5l-1-5l-1-1l1 6l-2-5l1 5l-1-2l0 3l-1-2l0 4l0-1l-1-1l0 3l-1-2l-1-2l-1-1l0-2l0 3l-2-5l0 1l0 7l0-1l-3-11l1 5l0 3l0 2l-1 0l-1-3l-1 1l0-1l-1-1l-1-1l1 6l-1-2l-1-3l-1 0l1 6l0 4l0 2l-1 0l-1-6l0 6l0-2l-1-1l0 4l0 4l-3-12l0-1l-1-3l0 7l-1-3l-1-3l0 1l-1-3l0 2l-1-1l0-1l-1 2l0-1l-1 1l0 2l0 2l-1-4l-1 1l0-1l-1 2l-1-6l0 5l0-1l-1 3l0 1l0 7l1 7l-1 0l-1 1l-1-2l-1-4l-1-4l1 11l0 3l-1-1l-1 0l-1-1l0 1l-1-2l0-1l0 5l-1-4l-1-4l0 2l-1 0l-1-2l0-1l-1 0l0 4l0 7l-1-11l0 7l-1 0l0 3l-1-3l0 1l-1-5l0 3l-1-5l0 3l-1-5l0 8l-2-12l1 19l-1-9l0 4l-1 0l-1-7l-1-4l-1-3l0-3l-1-3l0 3l-1-4l0 1l-1 3l0 1l-1 2l0 7l-1-9" stroke="#36be5e"/><path d="M717 1168l-1 2l0 2l0 5l-1-6l-1-1l0 4l-1-8l0 4l-1 0l0-3l-1-3l0 2l-1-4l0 1l-1 4l0 5l0 2l-1-4l-1-2l0-1l0 8l-1-3l-1-6l0 1l0 1l-1-3l-1 0l0 4l0-1l-1 1l0 2l-1-2l0 3l-1-2l0-6l-1 9l0-6l-1-2l0 2l-1-3l0 3l-1 4l0 1l-1-5l0 2l-1 0l0-3l-1-4l0 3l-1 2l0-6l-1 5l0-2l-1 0l0 6l-1-2l0-7l-1 7l0-1l-1 1l0-1l-1 3l0 3l-1-2l0-2l-1 6l0-4l-1-3l-1 0l0-3l-1 6l0-8l-1 9l0-7l-1 0l-1 2l0-3l-1-2l0 2l-1-5l0 5l-1-1l-1 1l-1-4l0 3l0-3l-1 4l-1 1l0-7l0 2l-1 3l-1 0l0-2l0-1l-1 3l-1 4l0-2l0-3l-1-1l-1 0l0-2l-1 0l-1 1l0-2l-1 1l0-4l-1 2l0 2l-1-2l0 1l-1 2l0-1l-1 2l-1 6l0-10l0 2l-1 1l-1 2l0 1l0-5l-1 5l-1 0l0 1l-1 3l0-6l-1 2l-1 2l-1 3l0-3l0 1l-1 0l-1 1l-1 2l0 1l-1 1l-1 2l0 4l0-5l-1-1l-1 2l0-1l0-2l-1 6l0-5l-2 7l0-1l0-6l0 1l-1 1l-1 0l0-3l-1 4l0 1l-1-1l0-2l-1 1l0 1l-1 0l0-1l-1 2l0-2l-1 3l0-7l-1 5l-1 5l1-10l-1 2l-1 5l1-8l0-3l-2 10l0-5l0-2l-3 10l1-4l0-4l0-6l-1 2l0 2l0-4l-1-1l0-2l0-2l-1 5l-1 1l0-4l0 1l-1-1l-1 1l0-2l-1 2l-2 8l1-8l-1 4l-1 0l-1 6l-1 2" stroke="#39be59"/><path d="M613 1174l1-7l-1-1l0-3l-1 5l1-6l-2 6l0-1l-3 11l1-6l-1 0l-1 3l-1 0l2-11l-1 2l0-3l-1 0l0-1l0-1l-2 5l-1 4l0-4l1-8l-1 5l-2 7l0-3l-1 1l-1 5l1-7l0-1l-2 3l-3 11l3-15l-3 12l1-7l1-8l0-1l-1 3l-5 17l2-9l1-7l-1 3l-2 6l-2 5l2-10l-3 9l2-9l-1 2l-1 0l0 1l-1 1l1-5l0-2l-2 5l1-5l-1 2l0-3l-1 1l-1 4l0-5l0-2l0-2l-1 3l0-1l-2 4l-1 5l-1-1l-1 1l1-4l-2 6l-2 4l1-3l0-2l-1-1l0-2l0-1l0-2l-1 2l0-1l-1 0l-1 1l0 1l-1 0l0-1l-1-1l1-2l-2 2l1-5l0 1l0-3l-2 5l-1 0l1-6l-1 2l0-5l-3 12l-1-2l0-1l-2 2l4-12l-3 9l-1 0l0-2l0-2l-1 2l-1 3l-1 1l-1 0l0-2l-1 2l1-6l-1 3l-2 4l1-5l0-3l-3 7l2-7l-1 0l1-2l-2 3l-1 0l0 1l0-2l0-1l0-3l-1 2l0-2l-2 4l1-3l-1 0l-2 5l1-5l-1 3l-2 3l2-6l-1 1l-1 2l-2 1l1-3l0-1l1-4l-4 9l0-2l-1 2l-1 2l0-1l-2 2l1-5l-2 6l-2 4l1-5l1-3l-3 5l2-7l-2 5l2-8l-1 2l-3 8l2-8l-1 0l-2 4l-1 1l-3 8l1-6l-3 7l0-1l2-6l-1 1l-2 4l0-1l-3 5l5-14l1-5l-2 3l-3 6l-4 10l1-5l2-5l0-2l0-1l-2 2l-3 7l-2 2l4-10l-4 7l1-4l-1 3l2-6l-1 0l-1 2l-1 0l-1 1l-2 3l-2 4l6-15l-3 6l-1 0l1-3l-2 2l1-2l-2 3l3-9l-2 3l-2 5" stroke="#3dbe54"/><path d="M505 1162l-3 4l2-6l2-4l2-8l-4 9l0-1l1-3l2-7l-3 5l0-1l-3 6l2-7l-1 2l2-4l-2 2l1-4l-2 3l3-8l-1 1l-1 1l-3 6l2-6l1-3l-1 1l3-6l-2 2l-1 1l1-4l-5 9l-5 10l1-2l-1-1l5-10l-3 4l-2 3l-3 6l1-5l-1 1l-2 4l1-3l1-4l-3 4l2-4l1-3l0-1l0-2l2-5l2-5l-4 5l-1 1l-2 4l2-5l-4 6l2-4l4-10l-5 8l3-6l0-2l-3 5l-3 4l5-11l2-4l-2 3l-4 6l0-1l-1 1l-1 0l4-8l0-1l-1 1l1-3l0-1l0-1l-6 10l-1 0l-5 8l-3 4l3-7l-5 8l4-8l3-6l1-3l-1 0l0 1l-1-1l7-12l-7 10l3-5l1-4l2-3l-13 20l8-13l3-7l0-2l2-3l-1 0l0-1l-3 4l-5 9l0-2l-3 4l-4 5l-1 1l-2 3l-4 6l6-11l4-8l4-8l-2 2l3-5l1-3l-6 8l-11 18l0-2l-4 6l4-7l8-14l-7 10l-4 5l1-1l11-20l-9 15l2-5l-4 6l7-13l3-6l-5 7l-5 8l10-17l-7 9l-7 10l13-22l-8 12l-5 8l-5 6l3-5l0-1l6-10l-1 0l-1 1l0-2l5-7l-14 20l10-16l-8 10l1-2l9-14l-4 4l0-1l-5 6l-2 3l5-9l1-2l-6 8l8-12l-3 3l7-11l-6 8l0-1l-6 8l3-5l2-4l-5 6l7-11l-2 2l-3 4l0-2l3-6l2-3l-6 8l1-2l-7 8l7-10l-2 2l-1 1l-2 2l-3 3l2-3l2-4l-2 2l6-10l-11 14l-5 7l9-13l-3 3l-4 4l4-6l-8 11l4-6l5-8l-4 4l7-10l-3 4l-4 4l-10 12l10-14l-1 1l2-4l-8 11l5-8l-6 6l-5 6l-1 1" stroke="#40be4f"/><path d="M419 1095l10-14l1-3l-7 9l5-7l-5 5l-2 1l-7 10l-7 7l5-6l0-2l-5 6l4-6l0-1l-3 3l-5 6l10-14l-9 11l-6 7l6-9l-1 1l6-9l1-2l-1 0l-9 11l-7 7l-3 4l3-5l-1 0l8-11l-2 2l1-2l3-4l-1 0l1-2l1-1l-1 0l0-1l-1 1l-3 2l-2 2l6-9l-3 4l0-1l1-2l4-7l-5 6l1-2l0-1l1-1l-1-1l-4 5l5-7l-1 0l-2 2l-1 0l1-2l-6 6l7-9l-2 1l1-1l-2 1l1-3l-2 3l2-4l0-1l-3 3l2-3l0-1l-1 1l-1 0l-2 1l1-2l-1 0l3-4l-5 6l0-2l0-1l-4 4l3-4l-1-1l-2 3l-1 0l7-9l-12 13l4-6l2-2l6-7l-10 9l3-3l-3 2l0-1l-6 6l5-7l-7 7l5-6l1-2l3-3l0-1l0-1l-4 4l7-8l1-2l-1-1l-2 2l-8 8l-3 2l3-4l6-6l1-3l-4 3l-1 1l-2 1l-1 0l5-5l-5 4l1-2l-7 6l3-5l11-11l-4 3l-3 3l-2 1l-4 4l3-4l-4 2l4-4l2-3l4-4l-3 2l-2 1l7-7l-1 0l1-1l-4 3l-4 3l-3 2l8-8l-5 4l-2 2l1-2l2-3l-2 0l2-2l-5 4l3-3l-2 1l0-1l0-1l-3 2l-1 1l-1 0l0-1l-8 7l1-1l3-4l1-2l4-4l-5 4l1-2l-5 4l2-3l-3 3l1-3l0-1l-5 3l1-1l-3 2l1-2l1-1l0-1l-1 0l0-1l0-1l1-1l-4 2l1-2l1-2l-2 2l-2 0l-4 3l-3 2l-1 0l1-1l0-1l-2 1l1-1l-1 0l-1 0l-4 3l2-3l4-4l4-4l-2 1l-2 1l-4 2l4-3" stroke="#43be4a"/><path d="M338 1026l-5 3l1-1l-1 0l-1 0l1-2l1-1l1-2l0-1l-1 0l1-1l-1 0l1-1l0-1l0-1l-1 0l0-1l0-1l0-1l1-1l-1 0l0-1l0-1l1-1l0-1l0-1l1 0l0-1l-1 0l0-1l0-1l0-1l-1 0l0-1l-1 0l0-1l0-1l-1 0l-1 0l1-1l0-1l-1 0l0-1l0-1l0-1l-1 0l-1-1l1-1l-1-1l0 1l-1-1l0-1l-1 0l0-1l-1-1l0-1l1-1l-2 0l-2 1l2-2l0-1l1-1l0-1l-1 1l0-1l0-1l0-1l0-1l0-1l0-1l1-1l-1 0l-1 0l1-2l-2 1l-1 0l0-1l-1 0l-2 1l0-1l-1 0l2-2l-3 2l2-2l-2 1l1-2l-1 0l1-1l-2 0l-2 1l1-1l0-1l-1 0l0-1l3-2l-4 2l-1 0l0-1l-1 0l1-1l-1 0l-1 0l2-2l2-2l-4 2l-1 0l2-2l1-1l-3 1l0-1l-2 1l1-1l1-1l0-1l-1-1l-2 0l2-1l-1 0l0-1l0-1l0-1l-1 0l0-1l0-1l2-2l2-1l-4 2l-1 0l1-2l-4 2l3-2l0-1l4-3l-4 1l-1 0l3-2l-1 0l-1 1l-1 0l-2 0l1-1l-1 0l1-1l1-1l4-3l-3 1l-4 2l2-2l1-1l-3 1l-1 0l1-1l-2 0l4-3l-2 0l-3 2l-1 0l3-3l-2 0l-1 0l-3 1l3-2l-1-1l-1 1l2-2l2-1l-1 0l-1 0l2-2l-2 0l-1 0l-1 0l-1 0l-1 0l3-2l-2 0l2-1l-2 0" stroke="#47be45"/><path d="M294 929l1-2l-6 2l5-3l4-3l-4 2l-1-1l2-1l-3 0l-2 1l-1 0l5-3l-1 0l-1 0l-6 2l-2 1l-2 0l-3 1l2-2l-1 0l-1-1l6-3l-8 3l0-1l-2 1l4-3l-1 0l-4 1l-2 1l6-3l-7 2l2-2l-1 1l-3 0l-1 0l0-1l2-1l-6 2l9-5l-1 0l-9 4l8-4l-3 0l3-2l-5 2l11-6l-7 3l-3 0l10-4l-5 1l-1 0l-1 0l-1 0l-4 1l12-6l-9 4l-5 1l-10 4l16-8l5-2l-2 0l-10 4l1-1l2-2l-7 3l-1 0l0-1l-2 0l1-1l6-3l3-1l-10 3l10-4l-6 2l6-3l8-4l-16 5l-5 2l1-1l1-1l0-1l8-3l3-2l-1 0l-3 1l1-1l-2 0l9-4l-7 2l-2 0l-5 2l3-2l-1 0l6-3l2-1l15-6l-2 0l-2 0l-10 3l1-1l5-2l2-1l-2 0l-8 3l5-3l3-1l-17 5l10-4l2-1l3-2l-10 3l-3 1l3-2l1-1l-5 1l-16 5l18-7l-2 0l-2 0l-1 0l-2 0l-1 0l-1 0l2-1l-5 1l3-2l-2 0l-2 0l4-2l3-1l-5 1l3-2l2-1l2-1l2-1l-4 1l1-1l-2 0l-4 1l-4 0l-7 2l-1 0l8-3l6-3l-8 2l1-1l-6 1l2-1l3-1l1-1l-2 0l11-4l-3 0l-6 1l-2 0l2-1l-1 0l1-1l1-1l-2 0l9-4l4-1l-9 2l0-1l-6 1l3-1l9-3l-9 2l3-1l-6 1l1-1l9-3l2-1l-4 1l-5 0l3-1l-4 1l-1-1l3-1l-4 0l4-1l-5 1l5-2l1-1l-3 0l6-2l-7 2l0-1l-1 0l1-1l-1 0l0-1l2-1l1 0l-2-1l-1 0l-1 0l-2 0l-4 0l3-1l3-1l0-1" stroke="#4cbe42"/><path d="M238 836l2-1l0-1l-1 0l0-1l-3 0l5-2l-5 1l-1-1l2-1l-2 0l2-1l-6 0l4-1l2-1l-1 0l5-2l-2 0l-3 0l4-1l3-1l-2 0l2-1l7-2l2-1l-4 0l-2 0l1-1l3-1l-2 0l0-1l2-1l-2 0l-10 1l3-1l-1 0l-1 0l-1 0l3-2l-1 0l5-1l-4 0l-3 0l7-2l-5 1l8-2l2-1l1-1l5-1l-2 0l-3 0l-1-1l-2 0l2-1l-4 1l4-2l1-1l-5 1l-2-1l5-1l-3 0l-4 0l2-1l2-1l6-1l-8 0l1 0l-1-1l3-1l2 0l4-1l-2-1l-3 0l-4 0l1 0l2-1l-1 0l3-1l-2-1l0-1l-1 0l2-1l-4 0l1-1l1 0l1-1l1-1l-3 0l-1-1l-4 0l-2 0l-2 0l-7 0l1 0l3-1l-1-1l2 0l-1-1l2 0l0-1l6-1l-3 0l-2-1l-1 0l-6 0l1 0l-1-1l0-1l1 0l0-1l-1-1l1-1l4-1l-3 0l3-1l2-1l3 0l-3-1l-1 0l2-1l-2 0l1-1l-1 0l-2-1l1 0l-1-1l2-1l-1 0l0-1l-2-1l3-1l-3 0l-2-1l1 0l2-1l-2 0l-1-1l-1 0l1-1l-1-1l1 0l-2-1l1 0l-4 0l-1-1l4-1l-1 0l1-1l-1 0l-2 0l2-1l0-1l-1 0l-1 0l4-1l-5 0l-1-1l3-1l-2 0l4-1l-1-1l-1 0l2-1l2-1l-4 0l-1-1l-1 0l1-1l-2 0l-5 0l10-1l0-1l1 0l-1-1l-1 0l0-1l1 0l-3-1l2-1l-3 0l1-1l1 0l0-1l-2 0l0-1l5 0l-5-1l3-1l-2-1l-4 0l6-1l-3 0l-3-1" stroke="#51be3f"/><path d="M221 728l2 0l-3-1l4 0l-1-1l-2 0l0-1l1-1l-3 0l-2-1l-1 0l4-1l1 0l-5-1l2 0l-1-1l2-1l-2 0l3-1l3 0l1 0l-4-1l2-1l2 0l1 0l0-1l-1 0l0-1l-3-1l3 0l1 0l0-1l0-1l1-1l1 0l1-1l-3-1l1 0l-2-1l-1-1l-4 0l1-1l1-1l1 0l3-1l-2 0l1-1l0-1l1 0l0-1l-1 0l0-1l2-1l0-1l-1 0l-1-1l2 0l-1-1l1 0l1-1l0-1l-1 0l0-1l4 0l-1 0l-3-1l1-1l1 0l-2-1l2 0l1 0l0-1l0-1l2-1l-1 0l-1-1l-2-1l2 0l-2-1l4 0l-2-1l0-1l0-1l-3 0l-1-1l-1-1l3 0l-2-1l1 0l0-1l-2-1l4 0l-1 0l-1-1l3 0l-3-1l3 0l1-1l1 0l-2-1l3 0l2 0l-2-1l-3-1l2 0l2-1l-1 0l0-1l-2-1l1 0l4 0l-3-1l-2-1l-1-1l1 0l-1-1l-2-1l2 0l2-1l1 0l3 0l2 0l-1-1l-2-1l-2-1l2 0l0-1l2 0l4 0l-1 0l-5-2l-1-1l-2-1l5 0l1 0l-2-1l1 0l0-1l1 0l-3-1l1-1l2 0l-1-1l-2 0l2 0l2-1l-2-1l-3-1l2 0l2 0l-1-1l2 0l1 0l2-1l-2-1l1 0l2 0l1 0l0-1l-3-1l-4-2l4 1l-1-1l0-1l1 0l-3-1l-2-1l-2-1l-1-1l2 0l-1-1l-4-1l4 0l-1-1l2 0l-1-1l1 0l1 0l0-1l3 0l2 0l-5-1l-3-2l-1 0l-3-1l5 0l0-1l1 0l0-1l1 0l-1-1l2 0l-3-1" stroke="#56be3b"/><path d="M233 619l5 1l0-1l3 0l-2-1l5 1l-2-1l2 0l1-1l-4-1l-2-1l0-1l3 0l-2-1l-2-1l9 2l0-1l-1 0l-6-3l4 1l-4-2l-2-1l5 0l-8-2l8 2l2 0l1-1l-1 0l-5-2l3 0l1 0l5 1l-3-2l2 0l-3-1l2 0l1-1l2 0l-4-1l3 0l1 0l0-1l-2-1l-2-1l-6-2l6 1l-1-1l-1-1l1 0l-3-1l2 0l-7-3l8 2l1 0l6 1l-3-1l-3-2l4 1l-1-1l-1-1l1 0l-3-1l5 1l-3-2l1 0l-4-2l2 0l1 0l-3-1l0-1l3 1l0-1l-4-2l0-1l3 1l-3-2l-3-1l2 0l2 0l0-1l-1 0l-1-1l2 0l2 0l-4-2l1 0l2 0l-1-1l4 1l1 0l-2-1l2 0l-1-1l2 0l-4-2l3 1l-1-1l-2-1l1-1l1 0l-2-1l2 0l0-1l3 1l2 0l2 0l-6-3l5 2l1 0l-1-1l4 1l1-1l-3-1l0-1l0-1l1 0l-1-1l-1-1l1 0l1 0l-3-2l1-1l-2-1l2 0l-1-1l1 0l2 1l-3-2l7 2l-2-1l-4-2l1-1l-4-2l7 2l2 1l1 0l3 0l-5-2l0-1l0-1l2 1l-2-1l3 0l2 1l1 0l3 0l-5-2l3 0l-2-1l-4-2l5 1l1 0l2 0l-4-2l4 1l1 0l0-1l2 0l-6-3l2 0l2 1l-3-2l-3-2l4 1l-1-1l1 0l0-1l-2-1l-2-1l6 1l1 0l1 1l1 0l-6-4l5 2l3 1l-1-1l-2-2l-5-3l4 2l9 3l2 1l-3-2l-1-1l4 1l7 3l-15-8l0-1l-8-4l1 0l10 4l0-1l1 0l-2-1l0-1l-6-3l9 4l7 2l-5-3l1 0l-4-2l0-1l2 1l0-1l3 1l-2-1l2 0l3 1" stroke="#5bbe38"/><path d="M287 524l7 3l-5-3l4 1l3 1l2 1l0-1l-4-3l1 0l-2-2l1 0l-4-2l2 0l0-1l-3-2l-2-1l-2-2l9 4l-6-3l0-1l-11-7l9 5l2 0l-3-2l5 2l5 2l7 3l-12-6l1 0l-1-1l-3-3l-2-1l7 3l1 0l-1-1l6 2l-13-8l2 1l2 1l-3-2l-2-2l0-1l7 4l-7-5l-2-2l4 2l3 1l2 1l-9-6l-2-2l2 0l-2-1l-7-5l8 4l-7-5l6 3l10 5l-5-3l1-1l-6-4l-7-5l22 13l-5-3l3 1l9 5l-10-7l3 1l3 2l1-1l-12-8l-5-3l5 3l3 1l-10-7l10 5l1 0l6 3l-5-4l-1-1l-10-7l13 8l-9-7l5 3l3 1l-6-4l4 2l-10-7l4 2l7 3l-3-2l-2-2l5 3l-5-4l-2-2l8 4l-3-2l1 0l2 1l15 9l-7-5l8 5l-1-1l-10-8l7 4l1 0l-3-3l-6-4l9 5l-4-3l-2-2l-4-3l-2-2l3 1l2 1l-5-4l3 1l5 3l2 0l-13-9l6 3l7 5l-3-3l2 1l-5-5l-4-3l3 1l-1-1l1 0l3 1l-1 0l6 3l-2-2l1 0l-2-2l-3-2l-2-3l8 6l2 0l-6-5l5 3l5 3l-3-3l-1-1l3 1l-4-3l6 4l-3-3l-1-1l5 3l5 2l-3-2l-3-3l5 3l-5-4l5 3l-7-6l1 0l3 1l2 1l5 4l8 5l-3-3l-2-2l3 2l7 5l-5-5l-6-5l-3-3l6 4l-6-6l13 9l-6-5l11 8l-5-5l4 3l-1-1l-3-3l3 1l-7-5l14 10l-16-13l13 9l-4-4l-8-7l6 5l-3-4l8 7l1-1l-1-1l-2-2l-5-5l12 9l-10-9l-13-11l7 5l7 6l-4-5l-6-5l0-1l7 5l10 8l-15-13l5 3l-11-10l4 3l-7-6l15 12l-7-7l12 9l-12-10l2 1l-4-4l1 0" stroke="#60be35"/><path d="M325 418l3 2l-4-4l13 11l-6-6l3 1l-7-6l1 0l4 3l3 2l-3-4l3 2l0-1l1 1l0-1l-4-4l1 0l-1-2l1 1l-8-8l10 9l-4-5l5 3l7 6l-4-4l-2-3l3 3l-4-5l-1-1l7 6l-11-11l10 8l17 15l-18-17l8 6l-4-4l10 9l-1-2l3 2l-1-2l3 2l-7-6l7 6l11 9l-4-5l-6-6l15 13l-28-26l-5-5l12 10l12 11l5 4l-2-3l-13-13l12 11l2 2l-2-4l-13-13l16 15l-9-9l2 1l-4-4l9 8l-22-23l11 11l11 10l0-1l-1-2l2 1l6 6l-3-4l-19-20l17 17l-6-7l6 6l-8-10l-2-2l15 14l9 9l-6-7l-8-8l-12-13l8 6l1 1l-7-7l2 0l11 11l-7-8l-5-5l10 9l-4-5l-1-2l3 3l-9-10l4 3l8 8l1 0l5 5l-2-3l2 1l6 6l-1-2l6 6l1 0l-11-12l7 7l-1-2l-7-8l4 3l2 2l-3-5l4 5l-4-6l-3-4l-2-3l3 3l-12-14l10 10l-4-4l1 0l5 4l2 2l3 2l-2-3l-1-2l5 5l-3-4l1 1l1 0l-4-5l5 5l-1-2l-3-5l1 1l2 2l4 3l-3-4l-3-4l-2-3l2 2l-1-3l3 4l0-2l3 2l-1-2l3 3l1 1l-4-5l0-2l2 2l3 3l-3-6l3 4l-7-10l-4-5l-2-3l5 5l-1-2l6 7l3 2l-3-5l-2-2l3 3l-1-2l1 0l-4-6l1 0l2 3l0-1l-1-2l2 2l-2-4l1 1l2 1l-2-3l2 1l-2-3l1 0l-1-2l0-1l0-1l-2-2l4 4l1 0l-2-3l-1-3l1 1l3 2l0-1l-1-1l4 3l-1-1l4 4l1 1l0-2l-4-6l1 1l-1-3l2 2l3 3l-6-8l0-1l2 2l2 1l-3-4l-1-3l4 5l4 4l-5-7l4 4l1 0l1 1l2 2l0-2l-1-2l2 1" stroke="#65be32"/><path d="M407 341l-1-2l1 1l1 0l5 7l-6-9l0-1l3 3l1 1l1 0l-2-3l3 3l1 0l-2-3l3 3l2 2l2 2l0-1l1 1l2 1l-2-4l4 6l0-2l-2-4l0-1l1 0l1 2l1 0l0-2l1 2l1 1l-2-4l2 2l1 0l-2-3l3 2l-2-2l3 2l-1-1l1 0l0-1l2 2l0-1l1 0l1 0l0-1l0-1l2 2l-1-2l0-1l1-1l1 1l0-2l0 1l-2-5l3 3l-3-5l2 2l0-1l1 0l0 1l1-1l0-1l1 2l-1-4l1 1l1 2l1-1l0-1l1 1l2 3l-3-6l2 3l-1-3l1 1l-1-3l1 0l0-1l1 1l-1-3l3 3l-3-5l2 1l1 2l1 0l-1-2l2 2l3 3l-1-2l-2-4l1 0l1 1l2 2l-2-4l1 0l3 5l-1-3l-1-2l1 0l1 1l1 0l-3-5l4 6l0-2l0-1l2 2l3 5l-3-6l3 4l2 3l0-2l-1-3l2 2l-1-4l-2-3l0-2l1 1l3 5l-1-3l-4-9l3 4l4 7l-1-4l-1-1l2 2l-1-3l0-1l5 8l-4-7l0-2l0-1l2 1l-1-1l0-1l2 2l0-2l2 3l2 1l-5-9l1 0l2 2l2 3l-1-4l0-1l1 2l-2-6l3 5l2 3l1 2l-1-3l1 0l0-3l2 3l-3-7l3 3l-1-1l3 3l-1-3l-2-4l1-1l1 1l3 5l1 1l-1-3l0-2l2 4l0-2l3 6l0-1l0-1l0-1l2 1l-3-7l2 4l0-2l1 1l0-2l5 11l-4-9l-1-4l2 3l1 1l1 1l-1-3l-1-4l4 7l-3-6l4 6l2 4l-2-5l0-3l0-1l2 4l-1-3l0-1l0-2l1 0l1 3l1 0l1 1l2 3l-3-7l4 6l-2-5l1 2l-1-5l1 2l4 9l-4-12l1 0" stroke="#68be30"/><path d="M507 291l-1-2l-1-4l4 8l-2-5l2 2l0-2l0-1l4 8l1 2l-3-8l2 2l-2-5l-1-4l3 4l4 9l-3-8l5 12l-4-12l1 0l2 6l-1-5l-2-7l4 9l-2-6l3 6l-1-4l0-1l2 3l-2-6l2 3l1 2l2 5l0-3l1 2l-1-4l2 2l0-1l1 3l-1-4l3 7l2 3l0-1l1 0l-1-3l0-2l1 1l1 0l-1-4l2 5l-2-7l1 1l3 6l-2-6l2 3l-1-4l1 3l-1-5l4 9l-1-4l-1-6l-2-7l1 2l1 1l2 4l-1-3l2 3l0-2l2 3l0-3l-1-3l2 5l2 4l1 0l-2-6l2 4l1 2l-1-5l2 4l-2-8l2 5l1 3l2 3l-1-4l2 3l0-2l1 2l-1-7l-2-5l5 12l-3-9l-2-9l0-2l1 1l-1-5l0-2l1 2l4 12l-1-7l-1-5l2 5l1 3l0-1l2 4l4 11l-3-11l0-1l1-1l2 5l-3-10l2 4l0-1l-1-6l0-1l2 4l0-1l2 4l0-2l0 1l-1-7l0-3l1 3l1 2l-1-7l0-1l3 8l2 5l-1-3l3 9l1 1l-3-11l3 9l-1-8l3 9l-2-10l0 1l3 7l0-1l2 4l1 2l1 2l-2-10l1 1l1 1l0 1l1 1l0-3l0-1l0-3l0-1l2 5l-2-10l2 8l1 1l0-1l1 1l0-2l1 2l1 3l2 5l-1-7l1 2l0-2l1 2l1 1l0-2l0-2l0 1l2 4l-1-5l0-5l-1-7l1 5l0-3l0-1l1 0l1 1l2 5l1 2l-2-9l1 0l0-3l0-1l1 1l-1-4l2 6l0-1l0-4l1-1l1 2l1 4l0-1l2 5l0 1l1-1l0 2l0-7l0 1l1 0l0 1l1-1l1 2l0-2l0-2l0-5l0-2l1 2l1 3l0-2l1 2l0 1l1-2l2 7l0-4l0-1" stroke="#6bbe2e"/><path d="M612 255l1 2l0 1l1 1l0-3l1 1l0-1l0-2l1 0l0-1l1 0l1 3l1 1l1 5l0 1l0-4l0-5l1 2l1 2l0-1l0-1l0-8l1 6l0-2l1 3l0-5l0-1l2 5l1 0l0 2l0-6l1 3l1 2l0-2l2 9l0-2l0-1l1 4l1-1l-1-8l1 3l1 3l0-2l0-3l1-1l0-3l1 1l0-2l0-1l1 2l1 2l0-2l1 4l0-4l1 9l1 4l0-8l0-7l1 5l0 2l2 8l0-1l1 1l0-5l0-4l1-3l0-1l1 1l0-1l1 3l0 2l1 3l0-4l1 1l0-1l1 2l1 2l0-1l0-3l1 1l1 6l0-10l0 1l1 0l0 3l1-4l0 3l1 0l0-6l1 8l1 2l0-3l0-1l1-1l0-2l1 2l1 6l0-7l0 4l1-2l0-4l1 2l1 2l0 1l1-5l0 3l1-2l0 3l1-2l0 1l1 0l1-1l0 1l1 2l1-1l0-1l1 0l0 3l1 0l0-3l1 6l0-7l1-1l0 1l1 1l0 1l1 0l0 1l1 1l0-1l1-5l0 6l1 2l0 2l1-4l0-1l1 5l0-3l1 0l0-2l1 2l0-13l1 14l0 5l1-3l0-5l1 1l0 4l1-2l1 1l0-2l1-3l0 7l1-5l0 1l1 5l0 2l1-4l0 2l1 2l0-1l1-1l0 2l1 2l0-3l0 7l1-6l1-3l0-3l1 2l1-5l0 3l1-3l0 2l0 10l1-3l0-1l1-1l0 5l1-1l0 1l1-11l0 2l1 8l0-2l1 1l0-4l1 8l0-4l0 5l1-5l1-4l0-3l0 15l1-4l0-2l1 1l1 0l0-1l1 1l1-8l0 8l1-6l1-4l0-4l0 12l1 0l0-1l1-10l1 6l-1 14l1-12l1 0l1-7l1-5" stroke="#6fbe2d"/><path d="M724 252l0 3l0 9l0 6l0 1l1 0l0-2l1-7l0 8l1-2l1-5l-1 13l1 2l0-4l1-3l2-13l0 2l1-10l0 8l0 5l0 12l2-17l0 3l0 2l1-2l1-12l-1 24l1-6l0 7l1-8l0 8l1-6l1-12l1-4l1-2l0 2l1-5l0 11l-1 6l0 7l1-7l-1 16l2-13l-1 16l3-26l1-2l-1 12l0 5l1-3l0 1l0 4l1-2l0 7l1-5l1-10l1-2l-1 9l3-17l1-2l-1 9l1-5l2-8l0 9l0-2l-3 29l2-12l0 3l1-3l1-1l0 2l1-8l0 9l1-3l0-2l0 7l3-17l2-9l1-3l-2 14l-1 8l1-1l1-6l-2 18l6-37l0 8l-1 9l1-3l1-6l3-13l-1 7l1 0l1-8l-1 10l2-6l0 3l-2 14l-1 9l2-6l0 1l-1 10l5-26l1-6l-1 8l-2 14l2-4l-1 5l1-4l-1 10l-1 6l1 1l3-14l-1 5l2-6l-1 6l5-19l-1 7l-2 9l4-15l-2 12l-1 10l2-9l1-2l-2 10l1 1l2-8l-1 7l2-8l3-15l-2 13l0 3l0 5l-1 7l2-7l1-5l-1 8l1-3l0 1l0 4l-1 6l3-11l1 0l1-2l1-5l1 0l1-1l-1 5l2-7l-1 7l1-3l-2 10l0 3l5-19l-1 7l-1 4l1-2l1-1l0 3l0 4l1-4l0 3l2-7l1-2l0 3l1-1l0 3l-1 5l2-5l-1 4l1 1l1-3l0 3l0-1l1 0l1-3l0 1l2-4l1-1l2-5l1 0l-1 3l0 3l1-3l0 2l0 2l0 4l0 1l3-8l-2 6l0 3l1 0l1-1l0 4l0-1l1-1l2-5l-1 5l1-1l1-1l1-2l0 1l1 0l1 2l0-1l1-2l1 0l0 2l0 1l1-2l0 3l1-1l0 1l0 1l1 1l1-1l0 2l1 0l2-4" stroke="#72be2b"/><path d="M834 271l0 2l1 0l1 0l0 1l1 0l1 0l0 1l1-1l0 1l1-1l0 1l1 0l0 1l1 0l0 1l1 0l1 1l2-3l0 1l1-1l-1 2l1 1l1-3l1-1l0 3l1-1l1-2l0 2l1-2l1 0l0 1l0 1l1-1l0 1l1 0l0 1l1-1l-1 2l2-2l1-1l-1 2l1-1l1 1l0 1l1-1l1 0l0 1l1-1l1 1l-1 1l1 0l1 0l0 1l1 1l-1 2l2-3l1 0l1-2l1-1l1-2l0 2l-1 2l2-1l1-1l1 0l0 1l1-1l0 3l-1 1l1-1l2-2l0 2l1-1l0 1l0 1l-1 4l2-3l0 1l1 0l2-2l0 2l1-1l0 1l2-4l3-5l0 2l0 1l1 0l0 1l0 2l1-2l1 1l0 1l1 0l1 0l-1 2l1-1l0 2l1 1l1-1l0 2l-1 2l0 2l1 0l0 1l1-3l2-1l1-1l0 1l3-5l-2 5l1 0l0 2l1-1l1-1l0 1l1-2l0 2l1 0l-4 8l4-6l-1 2l2-2l-1 3l-1 3l0 1l2-2l3-5l0 2l-1 1l0 2l1 0l1 0l-1 2l2-2l0 1l-1 4l2-2l0 2l1-1l2-3l-1 2l3-3l0 1l0 1l-1 2l3-5l1 0l-1 3l0 1l1-1l0 2l-1 2l0 1l1 0l1-1l-1 3l1 0l-1 2l1 0l1 0l-1 2l1-1l1 0l0 1l1 0l2-4l-1 4l1-1l1-1l0 2l1-1l1-1l0 1l-1 3l1-1l-1 2l3-4l2-2l-1 3l-1 3l1-1l2-1l2-3l-1 3l1-1l1 1l-1 2l2-2l0 2l0 1l0 1l-1 3" stroke="#75be29"/><path d="M936 315l3-3l0 1l1 0l-1 2l1-1l2-1l1-1l1-1l0 2l1-1l2-1l0 1l1 0l0 1l0 1l1 0l0 1l0 1l1-2l1 0l3-3l-2 3l0 1l1 1l-1 2l1 1l1-1l0 1l1-1l1-1l1 0l1-1l0 2l-1 3l0-1l1 0l1-1l1 1l3-5l-1 3l1 0l2-2l1 0l1-1l1 0l1-1l-2 3l2-1l-1 3l2-2l2-2l-1 2l1-1l0 1l1 0l0 1l-2 4l3-4l1 0l0 1l-3 5l4-5l1 0l0 1l-1 3l-1 2l4-5l0 2l0 1l1 1l-2 3l-2 3l1 0l0 1l3-3l2-2l1 0l1 0l-2 3l0 1l2-1l1-1l-2 3l3-2l1-1l1 0l0 1l-1 2l1-1l0 1l0 1l0 1l1-1l1 0l-3 6l3-4l1-1l0 1l0 2l1 0l1-1l1 0l-1 2l-1 1l3-2l-1 1l3-2l-2 3l-1 2l2-1l1 0l0 1l1 0l0 1l-1 2l2-1l0 1l0 2l-1 1l0 1l3-3l1 0l0 2l1 0l2-2l1 0l-1 1l-1 3l1 0l-2 3l5-5l-5 7l0 1l3-3l-4 6l4-4l0 1l-5 7l5-6l2-1l-2 3l5-5l-1 2l5-5l-7 9l3-3l3-2l-4 5l1 0l-2 2l5-4l1 0l-1 1l2 0l1-1l2-1l1 0l0 1l-4 5l2-2l4-3l0 1l1 0l-1 2l1 0l2 0l3-4l-2 4l-2 3l1-1l0 1l1 0l1-1l1 0l3-3l-1 2l-3 4l2-1l1 0l0 1l-2 2l-2 3l2-1l-8 10l6-7l0 1l-1 2l1 0l-1 2l0 1l1-1l-3 5l5-5l-2 3l2-2l0 1l-1 2l0 1" stroke="#79be28"/><path d="M1027 381l1-1l-1 3l-1 1l-1 3l4-4l0 2l2-1l1 0l1 0l-1 1l1 0l-1 2l1 0l2-1l2-1l-1 1l0 1l0 1l-1 2l3-2l1-1l0 1l0 1l-3 3l1 0l2-1l-1 2l0 1l4-4l0 1l-3 4l2-2l2-1l2-1l-3 3l4-3l-1 2l1 0l-4 4l5-4l2-1l0 1l3-3l-10 10l6-5l1 0l3-1l-4 3l1 1l1-1l4-3l2-1l-5 5l-3 4l4-3l-2 2l8-7l-6 6l-1 2l1 0l2-1l3-2l2-1l2-2l-2 3l-3 4l1-1l2-1l-3 4l1-1l3-2l-2 3l-1 1l3-2l3-1l2-1l-3 3l2-1l2-1l2-1l2-1l-2 3l-1 1l1 0l1 0l-1 2l0 1l-1 2l2-2l1 0l-2 3l-3 3l4-3l2-1l-3 3l-3 4l1-1l0 1l1 0l-1 2l1 0l3-2l-2 2l1-1l0 2l1-1l-4 4l9-6l3-3l-1 3l3-2l1 0l-1 2l1-1l1 0l-1 2l-5 4l4-3l3-1l-1 2l-10 8l-1 1l1 0l-2 2l1 1l-1 0l4-2l-1 2l-4 3l3-1l-1 1l3-1l2-1l2-1l-1 1l2-1l-2 2l1 0l6-3l-3 3l2-1l2-1l3-2l-1 1l1 1l-3 2l-1 2l2-1l-9 7l5-3l5-3l-3 2l1 1l5-4l3-1l4-3l-6 5l1 1l-1 1l-8 6l5-3l4-2l-2 2l2-1l-1 2l-2 2l5-3l-7 5l-3 3l2-1l0 1l3-2l-1 2l-5 4l1 0l5-3l0 1l-2 2l2-1l-2 2l0 1l2-1l2-1l2-1l4-1l-2 2l-6 4l4-2l3-2l-2 2l0 1l1 0l3-2l-1 2l-4 3l3-1l3-2l-2 2l1 0l3-1l3-2l-1 1l3-1l4-2l-6 5l-2 1l12-7l-7 6l-3 2l0 1l-1 1l-4 3l-4 4l1-1l5-3" stroke="#7bbc28"/><path d="M1101 465l0 1l7-4l5-2l3-1l-3 2l4-2l-4 3l1 0l-5 4l-2 2l5-3l1 0l4-2l-4 3l-4 4l4-2l-1 1l5-2l-2 2l9-5l2 0l-11 7l2 0l4-2l2 0l0 1l-2 2l-1 1l1 0l1 0l-2 2l-3 2l4-1l4-2l-5 4l-3 1l4-1l1 0l0 1l-1 1l2-1l-8 5l11-5l-1 1l2-1l-13 9l8-4l5-2l8-4l-3 2l3-1l0 1l0 1l1 0l-3 2l5-2l-1 1l0 1l1 0l-2 2l-7 4l9-4l-3 2l-4 3l1 0l-4 2l-2 2l0 1l2-1l-4 3l2-1l6-2l10-5l-9 5l0 1l3-1l1 0l-4 3l1 0l-3 2l3-1l1 0l1 0l-4 3l1-1l-4 3l-1 1l7-2l-8 4l5-2l-4 3l2-1l-8 5l2 0l4-2l5-2l-2 2l-8 4l2 0l1 0l3-1l1 0l2-1l5-2l1 0l5-1l4-1l-3 2l-1 1l1 0l-1 1l2-1l0 1l-2 2l1 0l1 0l-1 2l-3 2l4-1l1 0l4-2l0 1l-4 2l0 1l-8 4l2 0l4-2l4-1l-1 1l0 1l0 1l3-1l-5 2l0 1l-1 1l4-1l-4 2l-6 4l-1 0l0 1l3-1l4-1l-1 1l-3 2l1 0l5-2l1 0l-3 2l1 0l4-1l-3 2l-4 2l-5 3l2-1l1 1l-1 1l15-6l-10 5l-4 2l2-1l1 1l3-1l-6 3l2 0l-1 0l3 0l-1 1l-1 1l1 0l1 0l0 1l-1 1l3-1l8-3l3-1l-2 2l-1 1l-2 1l-1 1l6-1l1 0l-4 2l3-1l-1 1l2 0l0 1l-2 1l-1 1l-5 3l-6 3l2-1l3 0l4-1l-6 3l4-1l1 0l-1 1l0 1l-2 1l0 1l5-1l-1 1l-1 1l-4 1l7-2l-2 2l4-1l-3 1l3 0l3-1l3 0l-4 2l3-1l3 0" stroke="#7ebb28"/><path d="M1165 562l-1 1l-5 3l-6 2l6-1l4-1l-2 1l3-1l1 1l-1 0l-9 4l8-2l-4 2l-3 1l13-3l-8 3l3-1l0 1l-5 2l3-1l0 1l5-1l-5 2l0 1l-3 2l12-4l-10 4l-2 1l2 0l1 0l4 0l3-1l-2 1l-3 2l3 0l-4 2l-6 2l7-1l-3 1l4-1l1 1l5-1l2 0l-3 1l-5 2l1 0l-1 1l2 0l2 0l3 0l3-1l-6 3l4-1l0 1l5-2l-5 3l-3 1l5-1l1 0l-1 1l-3 2l1 0l2 0l-4 1l1 1l-3 1l3 0l-1 1l3 0l-6 2l3-1l-1 1l3 0l3 0l1 0l0 1l1 0l-4 2l2 0l6-1l-2 1l-4 1l1 1l-1 1l3 0l-1 1l1 0l-1 1l-1 0l-3 2l8-2l-2 1l-3 1l-4 2l1 0l7-1l-1 1l-2 1l-3 1l3 0l2 0l3 0l-2 1l-3 1l0 1l1 0l0 1l2 0l-2 1l4-1l-2 1l-3 2l4-1l-5 2l2 0l-1 1l-3 1l3 0l-2 1l2 0l3 0l-1 1l1 0l-6 2l-3 2l-4 1l2 0l4 0l3 0l-4 1l-1 0l1 1l-1 1l1 0l2 0l-2 1l-1 1l2 0l-2 1l0 1l2 0l-1 0l2 0l-1 1l1 1l-2 0l1 1l2 0l-1 0l-1 1l2 0l-1 1l-1 1l-1 0l-2 1l2 0l4 0l-6 2l3 0l5-1l-1 1l-2 1l-2 1l0 1l1 0l5 0l-5 2l-2 1l4 0l-1 0l-1 1l3 0l-5 1l4 0l3 0l-5 1l5 0l0 1l-2 1l1 0l-1 0l6 0l-5 1l1 1l-1 1l2 0l0 1l-1 0l0 1l4 0l-8 1l0 1l4 0l-2 0l3 1l1 0l-1 1l1 0l1 1l-2 1l-3 0l2 1l1 0l-2 1l2 0l-1 1l-1 0l-3 1l6 0l-2 1l0 1l4 0l1 1" stroke="#80ba28"/><path d="M1185 676l-3 0l-1 1l2 0l4 0l-2 1l-4 1l2 0l1 1l-2 0l-3 1l2 1l2 0l-3 1l-1 0l0 1l3 0l3 0l-3 1l-1 0l0 1l-4 1l4 0l0 1l2 0l-3 1l1 0l0 1l0 1l-1 1l1 0l-3 1l3 0l5 1l-3 0l0 1l-2 0l2 1l-1 0l-1 1l-2 0l2 1l2 0l0 1l-1 0l-2 1l1 1l3 0l6 0l-5 1l-8 1l7 0l-3 1l3 1l-1 0l-1 1l8 0l-4 0l0 1l-1 1l3 0l-2 0l-4 1l-1 1l3 0l-6 1l2 0l7 0l-6 1l2 1l-2 0l0 1l2 0l3 0l1 1l-1 0l-2 1l-3 1l1 0l-2 1l4 0l-2 0l-4 1l7 0l-5 1l2 0l0 1l0 1l6 0l-5 1l4 1l-4 0l0 1l-4 0l4 1l-4 1l-1 0l3 1l3 0l-2 1l2 0l1 1l-2 0l-1 1l1 1l-1 0l4 1l-6 0l3 1l-5 0l3 1l4 0l-5 1l2 0l2 1l-3 0l7 1l-6 0l1 1l-2 1l7 0l0 1l-4 0l-3 1l1 0l-1 1l3 0l-6 0l7 1l-1 1l3 0l-4 1l4 1l4 0l-5 1l0 1l-3 0l5 1l1 0l-5 1l-2 0l10 1l-8 1l2 1l3 1l-4 0l4 1l3 0l1 1l-6 0l3 1l1 0l-3 1l3 0l-2 1l-4 0l9 2l11 1l-6 0l1 0l-1 1l-3 0l4 1l-1 0l1 1l-1 0l3 1l0 1l-1 0l-4 0l3 1l1 1l1 0l-3 1l2 0l0 1l-1 0l-2 0l1 1l6 1l-11 0l7 1l-3 0l-4 0l1 1l5 1l1 0l-6 0l-2 1l-10-1l1 1l12 1l-11 0l-1 0l-2 1l4 0l-1 1l-7 0l-1 0l8 1l-1 1l2 0l5 1l-6 0l-4 0l-2 1l-1 0l1 1l9 2l-9-1l4 1l-8 0l7 1l10 2l-10-1" stroke="#82b927"/><path d="M1182 790l5 1l8 2l-1 0l2 1l-8-1l3 1l8 2l8 1l-13-1l-7 0l5 1l-1 0l-6 0l6 1l-9-1l-3 0l11 2l-10 0l-7-1l7 2l-2 0l2 1l4 1l-9-1l12 2l-11-1l2 1l2 1l3 1l-2 0l-1 0l-4 0l-5 0l7 1l-2 0l4 2l4 1l-3 0l1 0l-4 0l2 1l9 2l6 2l-3 0l-1 1l-5-1l1 1l-1 0l-5 0l7 2l6 1l4 1l4 2l-15-3l1 1l1 1l1 0l-2 1l2 0l4 2l5 1l-1 1l-1 0l-16-3l13 3l-7 0l-4-1l-2 0l-2 0l-10-1l8 2l2 1l15 3l-8 0l6 1l0 1l3 1l-5-1l-5 0l-4 0l-2 0l-1 0l-2 0l4 1l-15-2l12 3l8 2l-8-1l18 4l-8-1l-3 0l-10-2l11 3l5 2l1 0l-1 1l1 0l3 2l-3-1l3 2l-7-1l-5-1l11 3l-3 0l-3 0l4 1l-2 0l1 1l-7-1l10 3l-1 0l-2 0l2 1l-11-2l4 1l1 1l-4 0l-5-1l3 2l-3 0l-3 0l5 2l-2-1l2 2l4 1l-1 0l-6-1l-3 0l2 1l-4 0l1 1l-3 0l4 2l1 0l-9-1l8 2l-2 0l6 2l-4 0l1 1l3 1l-2 0l-5-1l-2 0l-7-1l5 2l1 1l-6-1l2 1l0 1l-1 0l4 1l-2 1l-4-1l-3 0l-2-1l2 2l-3-1l2 1l-1 0l3 2l-3-1l5 2l2 1l-2 1l8 2l3 2l0 1l1 1l1 0l-1 1l0 1l-1 0l-4-1l-1 1l4 1l0 1l-5-1l6 2l-2 0l2 1l-1 0l0 1l-6-1l2 1l2 1l0 1l1 1l1 0l-6-1l2 1l2 1l-1 1l1 0l-3 0l-4-1l8 3l-4 0l1 1l-3-1l-1 0l0 1l6 2l-2 0l-4-1l2 2l6 2l-2 0l-4-1l0 1l-1 0l0 1l-1 0l5 2l-5-1l-3 0l2 1l0 1l1 1l-4-1l1 1" stroke="#84b923"/><path d="M1159 903l3 1l0 1l1 1l0 1l-1 0l-1 0l1 1l0 1l5 2l-3-1l0 1l-1 0l-1 0l-4-1l4 2l1 1l-1 1l-1 0l2 1l-3-1l2 1l-1 1l-2 0l1 1l0 1l0 1l-3-1l-1 0l0 1l2 1l1 1l0 1l-2 0l1 1l-2 0l-1 0l1 1l1 1l6 3l-2 0l-3-1l-1 0l0 1l-1 0l3 2l-2-1l-1 1l1 0l0 1l-1 0l0 1l2 1l-2 0l-4-1l1 0l4 3l0 1l-5-2l2 1l-1 1l-1 0l1 1l-1 1l-6-2l-4-2l-2 0l-1 0l2 2l2 1l0 1l7 4l1 1l-1 0l-6-3l6 4l-6-3l5 3l-4-1l-9-4l1 1l6 4l0 1l-1 0l-2 0l3 2l6 3l-9-4l1 1l-4-1l2 2l3 1l-3 0l-1 0l1 1l-2 0l-1 0l-5-2l7 5l1 0l-1 0l-4-1l-1 0l3 2l-2-1l2 2l-2 0l0 1l1 0l1 1l-2 0l4 2l2 2l-3-1l0 1l4 2l-9-4l3 2l4 3l-4-1l-1 0l7 5l-7-4l1 1l2 2l2 1l-1 1l-2-1l0 1l-7-3l7 4l1 1l2 1l2 2l0 1l-3 0l-5-3l11 7l-7-3l-2-1l-3-1l-3-1l0 1l-1 0l-1 0l-1 0l7 4l-7-3l-2 0l-1 0l3 2l-5-2l3 3l1 0l0 1l5 4l-4-2l0 1l1 1l-1 0l2 2l-5-2l1 1l2 1l1 1l-2 0l-3-1l6 4l-2 0l-1 0l1 1l3 2l-5-2l7 5l-3-1l2 1l3 3l-2-1l-3-1l-3-1l2 1l-1 1l4 3l-3-1l8 5l-6-3l-1 1l-1-1l-5-2l-1 0l1 2l-2-1l-1 0l1 1l0 1l-6-4l-2 0l1 1l3 2l-2 0l2 2l0 1l1 1l-5-2l4 3l2 1l-1 1l-2-1l0 1l5 3l-3-1l5 4l3 2l-4-2l-2 0" stroke="#86b91f"/><path d="M1119 1014l-4-3l6 5l-2-1l4 4l3 3l-2 0l-2-1l3 2l-1 0l-1 0l-1 0l-2 0l2 2l-5-3l3 3l-1 0l-3-1l-3-2l-8-4l2 1l3 4l-3-2l1 2l-1 0l3 3l2 2l-3-1l-3-2l2 2l-3-1l-4-3l4 4l3 2l-1 0l-2-1l-3-1l1 1l1 1l-5-2l0 1l3 2l2 2l-3-1l2 2l0 1l3 3l-2-1l-2 0l-5-3l2 2l3 3l-6-4l-1-1l4 4l9 8l-5-3l5 4l-5-3l9 8l-5-3l-2-2l2 2l6 5l-12-7l-1-1l-4-2l1 1l-5-3l0 1l2 1l3 3l-3-1l1 1l15 12l-7-4l-4-3l-9-6l2 3l-2-1l1 1l4 4l2 2l1 1l-6-4l-2-1l-7-5l3 4l2 2l4 4l-3-1l7 6l-4-3l-11-7l5 4l4 4l0 1l3 3l-3-2l2 2l-11-8l9 8l-1 0l-1 0l-5-4l-2-1l4 5l-2-2l-14-12l-2 0l16 14l1 2l1 1l0 1l6 5l1 2l-5-4l3 4l-3-2l4 4l3 3l-2-1l-2 0l-15-13l7 6l9 9l-14-11l8 8l-4-4l0 1l-3-2l7 7l-7-5l-6-6l-4-2l-9-7l11 10l-1 0l-1 0l2 2l6 6l-16-13l12 11l0 1l0 1l6 6l5 5l-4-2l-4-3l1 2l-7-6l3 4l-6-5l3 3l-8-7l-4-3l1 2l-3-2l0 1l-10-10l11 12l1 1l4 5l-1 0l3 3l1 2l0 1l-2-2l1 2l-4-3l-6-5l-2-2l0 2l10 10l19 19l-7-6l-12-11l-6-6l-4-3l4 5l-2-1l1 2l-5-5l6 7l5 5l-4-3l-3-2l-10-10l-2 0l7 7l9 9l4 5l-12-11l12 13l7 8l-5-5l-4-2l6 6l-3-2l3 4l0 1l-1-1l3 5l-4-4l-16-15l17 18l-4-3l1 1l5 6l-7-7l1 2l-12-12l-1 0l8 9l-3-2l12 13l-6-5l-5-4l-3-4l3 4l0 2l-4-4l-1 0l-2-2" stroke="#88b91b"/><path d="M1046 1108l6 7l-12-11l3 3l9 10l-2 0l-3-4l5 7l-7-7l-7-7l2 4l6 6l2 4l-4-4l13 15l-5-4l-5-5l-4-4l1 2l-3-3l-1 0l1 2l2 2l1 2l-8-8l-7-7l13 16l-1 0l-1 0l1 1l-1 0l0 1l-14-15l9 11l4 5l0 2l-1 0l-4-4l6 8l-2-2l-5-5l1 2l-2-2l1 2l-25-28l19 22l-2-1l-4-3l4 5l5 7l12 14l-5-4l-8-9l3 4l-8-9l-26-30l26 32l0 1l2 3l2 3l-6-6l4 6l1 1l1 2l-4-3l1 2l1 2l-13-16l-1 0l12 15l1 2l-2-1l2 3l-13-15l9 12l1 2l0 1l-1-1l-1 0l0 1l4 6l-11-13l17 22l-19-24l8 11l-4-3l1 2l-6-7l-2-1l7 9l-8-10l-1 0l9 13l-2-2l2 3l-5-5l7 10l-5-6l-1-1l1 2l-36-46l20 26l1 3l-8-10l7 10l-1 0l14 20l-5-5l0 1l-8-10l-11-15l-11-13l9 12l9 14l-13-17l17 24l2 3l5 7l-3-2l14 20l-6-7l-9-12l-11-15l8 12l12 18l5 8l-18-25l-12-15l2 4l-12-16l8 11l-8-10l0 1l10 15l2 4l-8-11l-4-5l5 8l2 4l4 6l-3-3l1 3l-7-10l4 7l9 14l1 1l-7-9l-3-2l2 3l-5-7l6 11l8 12l-4-5l2 4l-7-10l1 3l0 1l-2-2l8 13l-1-1l-5-7l-3-3l4 7l-9-12l7 11l-8-11l1 1l-2-2l-10-13l2 4l5 7l-3-3l2 4l-4-5l3 5l-3-4l-3-4l0 1l5 9l-1 0l-6-9l-1-1l2 5l-4-5l-2-3l4 8l4 6l-1 0l1 2l-1 0l2 4l-9-14l3 6l-1-1l2 5l-1-1l0 1l2 4l6 10l-4-4l-4-6l0 1l3 6l3 5l-2-3l-4-5l1 4l2 3l-5-7l11 19l-5-7l-4-6l2 4l-2-2l3 7l-1-2l-2-2l-4-6l2 4l-4-5l-5-7l6 11l-2-3l-2-3l-1-1l0 2l1 2l1 4l4 7l-2-2l-1-1l-3-4l0 1l-3-4" stroke="#8ab917"/><path d="M944 1170l5 10l-8-13l3 6l-3-4l-1-1l4 8l-2-2l0 1l-2-4l-1-1l-3-3l4 8l-1 0l-2-2l-1-1l-2-3l2 4l0 2l2 5l-1-1l1 2l-2-3l0 2l-1 0l-3-5l0 1l-1-2l0 2l-1-1l-1 0l1 3l1 3l1 3l-6-10l0 1l2 4l1 3l-3-5l2 5l3 7l-1-2l3 7l-1-1l-4-5l-1 0l-3-6l4 9l1 4l0 1l2 5l-3-4l-1-2l-2-2l0 2l-1-1l-1-1l0 1l-1-1l3 6l-1 1l-2-5l1 4l-3-3l-1-2l3 7l-4-7l-2-3l1 4l2 4l-3-5l-3-4l-1 0l1 3l-1-2l1 3l-2-2l0 1l-2-1l1 3l1 4l0 1l0 2l-1-2l0 1l0 2l-1-2l-1 0l0 2l-1-2l-1-1l-3-4l1 4l1 3l0 1l0 1l-1 0l0 1l-1-2l0 3l0 1l0-1l1 4l-1 0l-1-1l0 2l0-1l-1 1l-1 1l0-1l-1 0l-1 1l-1-1l0 1l0 2l-1-1l-1-1l-1 0l0 1l0 1l-1 1l-1-1l-1-1l1 3l-1-1l-1-1l-1-1l-1 0l-1-2l0 2l-1 0l0 1l-1-1l-1 0l0 1l-1-2l0 1l0 1l-1 0l0 1l-1 0l0 3l-1-2l-1 0l-1 0l0 1l-1 0l0 1l-1 0l0 1l-1 0l0 1l-1-1l0 1l-1 0l0 1l-1 0l0 2l-1-1l0 1l-1 0l-1 0l-1 0l0-1l-1 1l-1-1l0 1l-1 0l0 1l-1-1l0 1l-1 0l-1 0l-1-1l0 1l0 2l0 1l-1-2l0 1l-1 0l0 1l-1 0l-2-3l1 3l-1 0l0 1l-1-1l0 2l-1-1l0-1l-1 1l-1-2l-1 0l-1-2l0 1l0 1l-2-4l0 2l0 2l0 2l-1-1l0 2l0 2l-1-3l0 1l0 2l-1 0l-1 0l-2-2l0 1l0 2l-1-1l-1-2" stroke="#8db814"/><path d="M840 1230l-1 0l-1-1l1 3l1 5l-1-1l-1-3l-1 1l0 1l-1 0l-1 0l0 2l-1-2l0-1l-5-13l3 11l0 1l-1 0l-1-1l-1-1l0 2l-1-3l0 2l-1 0l-1-2l-1-2l-1-2l-1-3l0 3l0 1l0 2l-2-3l0 1l-1 1l1 3l-1 0l-1-3l-1-3l-1-1l-3-8l-1-3l1 5l-1-1l0 1l-1 0l2 8l-2-4l-1-2l1 4l0 3l-1-3l-2-3l0-2l-1 0l1 5l-2-4l-1-2l1 5l-1-2l0 2l-1-1l2 10l-1-3l-1-1l0 3l1 5l-4-14l-2-5l-1-6l0 4l-1 2l0 1l-1-1l-1-6l1 9l2 13l0-1l-1 0l0 4l0-1l-3-10l1 6l-3-9l0-2l-2-7l-1-2l3 17l-1-1l-1-1l0 2l-1-6l-1 0l-1-3l0 2l-1 0l1 6l0 3l-3-16l-1-2l0 2l-1-2l-1 1l0 2l-1 0l2 10l0 4l-2-7l2 16l-1-5l-3-10l0-1l0 6l-1-3l3 17l1 9l-3-15l-3-12l0 3l-2-4l0 2l0 1l-1 0l-1-3l0-1l-1-5l-1-2l0 8l0 2l2 17l-1-5l-1-4l0 4l0-1l-1-3l-2-5l0 2l0 2l0 3l0 2l-1-2l-1-5l-1-2l-1-3l0 7l1 7l-1-6l-1 1l0 4l1 6l-2-4l0 2l-1-2l0-3l-2-6l-2-12l1 10l0 2l0 4l1 11l0 9l-1-4l-1-8l-1-4l0 4l0 6l-2-9l1 11l0 1l-1 0l-2-11l1 6l0 5l-1 0l-2-7l0-2l-1-3l-1-2l1 13l0 6l-1-10l-1 0l0 6l0 8l-1-14l0 9l-1-2l-1-3l-1 0l-1-13l-1-1l0 3l0 5l-1-5l-2-11l-1 1l1 9l-2-9l0-2l0 4l-2-9l0 6l0 6l1 8l-1-6l-1-2l0 6l-1-2l-1-5l0-1l-1 2l0-2l-1-4l0-1l-1 5l0 6l-1-5l0 1l0 5l-1-6l0 5l-1 1l0 1l-1-7l-1-4l0 4l-1-3l0 1l-1-7l0 9" stroke="#91b615"/><path d="M720 1234l-1-4l0 1l-1-3l0-5l-1 5l0 3l0 6l-1-3l0 1l-1 1l-1-7l0 1l0 3l-1-4l-1 0l0 4l-1 5l0-4l-1-1l0 2l-1 2l0 4l0 1l-1-5l-1 3l0 3l-1 0l-1-3l0-1l-1-2l-1-3l0-3l-1 1l0-4l-1 5l0 5l0 1l-1 0l-1 2l0-6l-1-6l-1 1l0 1l0 4l-1 0l0-1l-1-3l0 1l-1 2l-1 3l0 1l-1-1l0-1l-1 0l0 2l-1-4l0-3l-1-2l0 4l-1 3l0-1l-1-4l0-2l-1 4l0 2l-1 0l-1 0l0 1l-1-2l0 3l-1-3l0 2l-1 1l0-3l-1 2l-1 0l-1 0l0 1l-1-1l-1 4l0 1l-1-5l0 2l-1 0l-1 1l0-1l-1-3l0 3l-1 2l0 1l-1-3l0 3l-1 0l0-1l-1-1l0 1l0-4l-1 0l-1 2l0 4l-1 2l0 1l-1 1l-1 4l0-2l-1 0l0 2l-1-2l0-1l-1 0l-1 1l-1 0l0-2l-1 1l0 1l-1-1l0-1l-1-1l-1 2l-1 1l-1-1l-1-1l0 1l-1 0l-1 1l0 1l-1 0l0-1l-1-1l0 1l-1 0l0 2l-1-1l-1-3l0-1l-1 1l0-1l-1 1l-1-1l-1 1l0 2l-1 1l0-4l-1 1l0-3l-1 3l-1-1l0 1l-1 3l-1 0l0-3l0-3l-1 2l-1 0l0 3l-1-4l0-1l-1 2l0-3l0 2l-1 0l0-3l-1 1l0-1l-1 1l0 1l-1-3l-1 0l0-4l0 3l-1 2l-1 1l0 1l-1-1l-1 0l-1 6l0-3l-1 0l-1 1l0-2l0 1l-1-1l-1 2l-1 0l0-2l-1 2l0-2l-1 2l0-1l-1-3l0 1l-1 1l0 1l-1-1l0 1l0-4l-1 1l0-1l0-4l0-1l-1 1l-1 1l-1 1l-2 9l0-2l1-8l-1 1l0-1l-1 1l0 1l-2 9l0-7l-1 3l0-3" stroke="#95b316"/><path d="M600 1242l0-2l-1 2l0-1l-1 3l-1 1l-1 2l0-2l0-2l0-2l0-2l0-5l-1 6l0-4l-1 3l0-2l0-6l0-3l-1 3l-1 3l0-2l-1 1l-1 5l-1 0l1-7l0-1l-1 0l-1 0l0-3l0-2l-1 3l0-1l-1 2l0-1l-1-1l-1 6l0-4l-1 1l0-2l-1 4l-2 7l-2 6l1-8l0-1l-1 2l0-3l-1 3l1-6l-2 5l3-12l-3 6l0 2l0-3l0-3l-2 5l-2 9l1-8l-1 1l0-2l-1 4l-1 0l-1 3l1-5l-1 1l-1 2l0-1l-1 1l-1 2l-1 0l0-1l1-7l-1 3l-2 5l-1 1l0-2l0 1l0-3l-2 4l0-2l0-3l2-10l1-4l-1 3l-1-1l1-3l-1 0l-2 5l-1 3l-2 4l0-1l0-3l0-4l-3 11l2-9l-1-1l-1 3l0-3l0-2l2-7l-1 3l-2 3l1-3l-1-1l0-1l-2 3l-2 5l0-1l-1 2l-1 2l1-7l-1 4l-3 7l1-6l-1 2l-3 6l-1 2l1-4l-1 0l0 1l-1 0l0-3l-1 2l0-1l1-3l0-3l0-1l1-5l-2 4l2-7l-2 4l-1 1l-1-2l0-1l1-6l-1 0l0 1l-1-1l-2 6l1-5l-1 0l-2 4l1-2l1-5l-3 7l-1 0l1-3l-1 1l0-2l-1 2l-1 1l0-2l-1 3l-1 1l0-1l1-6l1-3l-3 7l-2 3l2-5l-2 3l-1 0l-1 2l-4 8l2-8l0-1l-1 1l-1 3l-1 1l-1 0l0-1l-2 6l1-5l0-1l-1-1l-1 0l1-2l-2 4l-1 0l0-1l-1-1l0-1l0-1l-1 2l-1 0l0 1l-1-1l1-4l-1 2l-2 4l1-4l1-4l0-2l1-3l-2 5l-1 0l0-1l0-3l0-1l0-1l-2 4l-1 2l1-4l-1-1l-1 3l1-4l-1 0l1-2l-3 6l-1 1l0-3l-1 1l-1 1l1-2l0-3l-1 2l1-3l-1 0l-1 1l-1 2l-1 0l0-1l-3 4l0-2l1-3l-1 1l-1 0l2-4l-2 2l-1 1" stroke="#99b117"/><path d="M485 1207l-2 5l1-4l-1-1l1-3l0-1l-1 1l1-4l-1 1l0-1l0-1l0-2l-2 1l0 1l0-1l-1 1l1-5l-1 1l-2 3l-1 1l-2 3l0-1l-1 3l1-4l-1-1l1-1l-1 0l0-1l0-1l-1 0l0-2l-1 2l1-2l-1 1l0-3l-1 1l-1 2l0-2l-1 1l-2 4l0-1l0-1l-1 1l-2 2l2-4l-1 0l-1 1l0-2l-1 1l1-2l0-1l1-4l-1 1l-1 1l-1 0l-1 1l-1 0l1-2l-2 3l1-3l0-1l-2 2l0-1l-1 0l-1 0l-1 1l0-1l0-2l1-1l-1 1l0-1l-1-1l-1 3l1-4l-2 2l-1 0l0 1l-1 0l-1 1l-1 0l-2 1l-1 1l-1 0l0-2l0-2l0-1l-1 1l0-1l-1 1l-1 0l-2 2l0-1l0-1l0-1l-1 1l1-3l-2 2l1-2l0-2l1-2l-1 0l-1 0l-1 0l-1 0l-1 1l-1 0l1-1l-1-1l0-1l0-1l-1 1l-2 1l0-1l0 1l0-2l-1 0l-1 1l0-1l-1 0l0-2l-1 1l-1 1l0-1l-1 1l0-1l-1 1l0-2l-1 1l-1 1l1-2l-1 1l-1 0l0-1l0-1l0-1l-1 1l0-1l-1 1l0-2l-1 0l-1-1l-2 3l1-2l1-3l0-1l-1 0l0-1l-1 0l-1 1l-1 0l-2 2l0-1l1-2l-1 0l1-3l-1 1l0-1l0-1l-1 0l-1 2l-1-1l2-4l-1 1l-1 1l0-1l-1 1l1-3l-1 1l-3 3l3-5l0-1l1-3l-2 3l-2 2l3-5l-3 4l1-3l-1 1l-1 1l-2 2l2-5l1-2l-2 1l-1 0l1-2l1-1l0-1l-2 1l-2 2l0-1l0-1l-1 0l-1 2l0-2l0-1l0-1l0-1l-2 1l-1 0l-1 1l-2 1l2-3l-2 1l-1 2l0-2l1-2l-1 1l-1 0l0-1l-1 0l0-1l-1 1l0-2l-1 2l-3 2l-1 1l-2 2l0-2l-3 4" stroke="#9eae18"/><path d="M376 1152l-2 2l-5 5l1-2l-2 2l3-4l3-5l1-2l-3 2l8-10l-11 13l1-2l2-4l-5 5l-2 3l4-7l-2 3l3-6l-1 1l2-3l-2 2l0-2l-1 1l-4 4l-3 4l-3 2l4-5l1-2l4-6l-5 6l-2 1l0-1l2-3l0-2l2-2l0-1l-3 3l0-1l3-4l-1 0l-2 1l-4 4l4-5l-2 1l1-2l-6 6l-1 0l-1 0l2-2l0-1l2-4l-1 1l1-2l-2 2l1-3l-4 5l3-5l0-1l-2 2l0-1l-1 1l-1 0l-1 1l-1 0l3-4l-2 1l-3 3l1-2l0-1l-1 1l0-1l-1 0l1-1l0-1l-2 1l1-2l-1 0l-2 2l1-2l-3 2l1-2l-3 2l-1 0l1-2l0-1l-1 1l-1 0l1-2l-2 2l1-2l4-5l-2 1l2-4l-1 0l1-2l-1 1l-2 1l-1-1l0 1l-1-1l3-3l-2 1l-2 1l-1 0l1-1l-2 1l-2 1l1-1l-1 0l2-3l3-3l0-2l-2 2l-5 4l3-3l-1 0l1-2l-4 4l3-4l-1 0l-1 1l-2 1l0-1l0-1l-3 2l0-1l-1 0l1-1l-1 0l-2 1l-3 2l0-1l2-3l1-2l1-2l-2 2l1-2l0-1l-3 3l0-2l-1 1l-1 1l0-2l1-1l-1 0l-1 1l2-3l-4 3l2-3l3-4l-3 3l2-3l-1 0l-5 4l2-2l3-3l0-1l-1-1l-3 3l0-1l-4 4l0-1l3-4l0-1l-2 1l3-2l-4 2l2-2l-1-1l-3 2l-1-1l2-2l-1 1l4-5l-3 2l0-1l0-1l4-4l-1 0l-2 1l0-1l-1 0l-1 1l2-2l-1 0l0-1l-3 2l1-1l-3 1l3-3l-4 3l4-4l-1 0l1-1l-1 0l0-1l-3 2l5-5l-1 0l2-2l-2 1l-5 4l-4 2l6-5l2-3l2-2l-2 1l-1 0l0-1l-2 2l0-1l-10 8l5-5l1-2l2-2l-2 1l0-1l2-2l-10 8l4-4l-2 0l-6 5l-3 2l6-6l-1 0l1-1l-1 0l2-2l3-3l1-2l2-2l-4 2" stroke="#a2ac18"/><path d="M290 1065l1-1l-2 1l3-3l-5 3l1-2l-1 1l-1 0l-6 4l-1 0l4-4l-1 0l0-1l2-1l3-4l8-7l-12 9l-3 2l2-3l3-2l1-2l-7 5l-2 1l-3 2l6-6l1-1l-6 4l-1 0l0-1l-1 0l5-4l2-3l-10 7l4-4l4-3l0-1l0-1l4-4l4-3l-4 2l-1 1l-2 0l-6 4l-2 1l9-7l-1 0l-3 1l0-1l-3 2l3-2l-1-1l-7 5l8-6l1-2l0-1l1-2l-3 2l2-2l1-1l-3 1l5-4l-3 1l-2 2l-6 3l4-3l-1 0l5-4l-4 2l1-1l0-1l-1 0l-4 2l2-2l-4 2l-4 2l0-1l-1 0l-3 1l-7 5l1-2l4-3l-3 2l1-2l2-2l3-3l4-3l-2 1l0-1l-1 0l3-2l-6 3l2-2l1-1l-6 3l-2 1l-3 1l-5 3l3-3l6-5l-3 1l-3 2l1-1l-1 0l-1-1l1-1l4-3l-5 3l0-1l0-1l-1 1l-1-1l2-2l-2 1l4-3l-1 0l-3 1l6-4l-2 1l0-1l-7 4l3-2l4-4l-5 3l-2 0l1-1l3-2l-4 2l2-2l-7 4l6-5l1-1l-2 1l-1 0l1-1l0-1l-2 1l2-2l2-2l0-1l-7 4l3-2l-2 0l1-1l2-2l-3 2l2-2l12-8l-13 7l6-4l-1 0l-1 0l-3 1l-1 0l-2 1l5-4l6-4l-2 1l2-2l-15 8l4-2l-1-1l-1 0l1-1l-3 1l2-1l-2 0l-5 2l11-7l-4 2l1-1l-6 3l1-1l-3 1l2-2l0-1l0-1l10-6l-7 4l5-4l-4 1l-7 3l4-2l1-1l2-2l-6 3l8-5l-5 2l8-5l-3 1l-4 2l-5 2l7-5l3-2l3-2l4-3l5-3l-2 1l3-3l-7 4l-1 0l1-1l-4 1l-5 2l11-6l-1 0l-11 5l3-2l-2 0l5-3l-2 0l-1 0l-8 4l-1 0l-4 2l5-3l-7 3l4-3l-2 1l-1-1l7-4l-3 1l3-2l0-1l-1 0l8-4l-1 0l0-1l3-2l-5 2l1-1l1-1l-1 0l-7 3l6-4" stroke="#a5a919"/><path d="M233 959l0-1l-4 2l-2 0l2-2l-8 3l3-2l-4 2l4-2l-6 2l-5 2l3-2l7-4l-5 1l-2 1l-4 2l-2 0l2-2l0-1l-2 1l0-1l0-1l1-1l0-1l1-1l-4 1l1-1l1-1l-5 1l5-3l-1 0l1-1l-2 0l1-2l-4 2l2-2l0-1l2-1l-1 0l-2 0l2-1l0-1l-2 0l-2 0l1-1l-1 0l0-1l-1 0l0-1l0-1l-1 0l-3 1l2-2l0-1l0-1l1-1l-1 0l-2 0l-2 0l2-1l3-2l-1 0l1-1l4-3l-2 1l-3 1l0-1l-2 0l1-1l-2 0l1 0l-5 1l2-1l2-2l1-1l-2 0l1-1l3-2l1 0l-3 0l1-1l-3 1l0-1l-2 0l5-2l-2 0l-1 0l4-3l4-1l-4 0l-6 2l2-1l0-1l3-1l4-2l2-2l-5 2l-1-1l-2 0l0-1l-1 0l1-1l-2 0l1-1l1 0l0-1l-2 0l2-1l3-2l-3 1l0-1l-1 0l-6 1l-1 0l2-1l1-1l1-1l1-1l7-3l-2 1l-2 0l-2 0l3-2l-4 1l0-1l0-1l5-2l-3 1l-5 1l0-1l-2 0l-1 0l0-1l6-2l-3 0l-2 0l-1-1l-3 1l1-1l4-2l-2 0l-1 0l-6 1l2-1l4-2l2-1l-1 0l0-1l4-2l-5 2l3-2l5-2l-6 1l2-1l1 0l-1-1l-3 0l-1 0l2-1l1-1l0-1l1 0l2-2l-1 0l-3 0l-2 0l4-2l-4 1l-4 0l1-1l-2 0l1 0l1-1l2-1l-1 0l0-1l2-1l0-1l-1 0l1-1l4-2l-2 0l-3 1l-1-1l3-2l-5 1l-2 0l1 0l0-1l-2 0l1-1l-3 1l-2 0l0-1l3-1l8-3l-4 1l-3 0l1-1l1-1l-2 0l-1 0l-1 0l-2 0l0-1l2-1l-2 0l5-1l-6 0l2-1l-2 0l1 0l5-2l-2 0l-4 0l-6 1l5-2l1-1" stroke="#a7a717"/><path d="M176 850l-3 1l-2-1l3-1l2-1l4-2l-1 0l-1 0l3-1l-4 0l1-1l2-1l0-1l-1 0l-1 0l1-1l0-1l1 0l0-1l-3 0l1 0l1-1l2-1l-3 0l-1-1l1 0l-1-1l1 0l0-1l-2-1l1 0l1-1l-2 0l0-1l0-1l4-1l-3 0l-1-1l1 0l-4 0l1-1l2-1l3-1l-2 0l-2 0l-3 0l0-1l1-1l3-1l-4 0l-5 1l3-1l-8 1l5-2l-1 0l1-1l1 0l2-1l-3 0l-1-1l1 0l-1-1l2-1l8-2l-3 0l-6 1l-2 0l0-1l3-1l-5 0l7-1l3-1l-4 0l0-1l4-1l1 0l4-1l-5 0l0-1l-4 0l-2 0l6-2l-2 0l-1 0l-5 0l3-1l-6 0l-2 0l-1 0l-1-1l8-1l-1-1l-6 1l2-1l-1-1l1 0l2-1l-2 0l-1-1l-3 0l2-1l0-1l3 0l2-1l0-1l-1 0l4-1l-8 0l2 0l2-1l0-1l-1 0l-2 0l-5 0l6-1l1-1l2-1l4-1l-5 0l0-1l1 0l-5 0l3-1l-1 0l-3-1l0-1l1 0l4-1l-4 0l2-1l2-1l-1-1l-7 1l-1-1l7-1l4-1l4-1l1-1l-8 0l7-1l2 0l-1-1l1 0l0-1l1 0l-1-1l-2-1l1-1l-1 0l-10 0l3-1l3-1l-2 0l0-1l3 0l-1-1l2-1l1-1l-4 0l-1-1l2 0l-6-1l6 0l4-1l0-1l-1 0l3-1l-1 0l-2-1l1-1l-1 0l-1 0l-1-1l6-1l-4 0l-4 0l0-1l4-1l1 0l-1-1l-1 0l1-1l-7 0l7-1l0-1l-3 0l2-1l-3 0l7-1l-4 0l-1-1l-6-1l4 0l0-1l-1 0l-3-1l2-1l2 0l-3-1l-2 0l1-1l-2 0l2-1l9-1l-6 0l0-1l2 0l0-1l-2 0l-4-1l-1 0l4-1l-5 0l5-1l-2 0l2-1l1 0l2-1l4 0l-7-1l5 0l0-1l-2 0" stroke="#a8a416"/><path d="M165 728l-1-1l2 0l-3-1l-1 0l1-1l-3 0l-1-1l4 0l0-1l-3 0l2-1l-4 0l2-1l-2 0l2-1l-2-1l-6 0l6-1l2 0l0-1l-2 0l4-1l-1 0l-2-1l1 0l-5-1l4 0l2-1l3-1l-2-1l2 0l-2-1l2 0l1-1l-4-1l-4 0l0-1l4 0l-2-1l3 0l-2-1l-2 0l0-1l1 0l2-1l5 0l0-1l-1 0l0-1l0-1l0-1l2 0l-3-1l1 0l-1-1l1 0l0-1l-1-1l1 0l0-1l0-1l-2-1l-1 0l1-1l-1 0l0-1l-2-1l1 0l-1-1l1 0l0-1l1 0l-1-1l-1-1l0-1l1 0l1 0l-2-1l-1-1l1 0l-1-1l1 0l-1-1l0-1l0-1l0-1l1 0l-1-1l1 0l0-1l1-1l1 0l-1-1l-1-1l1 0l-1-1l1-1l1 0l1 0l0-1l1 0l-3-1l0-1l1 0l-1-1l0-1l3 0l-1-1l1 0l0-1l1 0l0-1l0-1l0-1l1-1l1 0l-1-1l-2 0l1-1l-1 0l0-1l2 0l3 0l-3-1l0-1l1 0l1 0l-2-1l2 0l-2-1l-1-1l1 0l-1-1l-1 0l2-1l-2 0l1-1l0-1l-1-1l-1 0l-1-1l3 0l1 0l-2-1l-3-1l2 0l1-1l-2 0l2-1l-2-1l1 0l0-1l1 0l-1-1l1 0l0-1l-2 0l-1-1l2 0l1-1l1 0l-1-1l1 0l3 0l-2-1l-1-1l1 0l0-1l0-1l3-1l-2 0l0-1l1 0l0-1l-3-1l4 0l0-1l0-1l0-1l0-1l-2 0l1-1l2 0l1-1l-1 0l0-1l1 0l0-1l3 0l-2-1l-1-1l0-1l1-1l1 0l1-1l1 0l2-1l-3-1l1-1l-3-1l2 0l3 0l-1 0l1-1l1 0l1 0l-3-1l-1-1l0-1l-1 0" stroke="#a9a215"/><path d="M174 605l3 0l1 0l-1-1l-2-1l-1-1l2 0l-4-1l2 0l1-1l3 0l1 0l0-1l-2-1l5 1l-1-1l-3-1l2 0l2 0l1-1l-3-1l-3-1l1 0l0-1l-1-1l-1 0l1-1l-2-1l2 0l2 0l5 1l-6-3l1-1l1 0l-1-1l1 0l0-1l-1-1l0-1l1-1l-1 0l0-1l1-1l1 0l-1-1l2 0l0-1l1 0l2 0l2 0l-4-2l-1-1l3 0l-2-1l-2-1l-1-1l-1 0l1-1l0-1l1 0l1-1l-1-1l-1-1l-1-1l-2-1l2 0l1 0l2 0l1-1l0-1l-6-2l1 0l6 1l-2-1l5 1l-1-1l0-1l-1-1l1 0l1 0l2 0l-1-1l2 0l2 0l-4-2l-2-1l4 1l3 0l-1-1l1 0l0-1l1 0l0-1l-4-1l3 0l-1-1l1-1l1 0l-4-2l-1-1l6 2l4 1l-3-2l1 0l0-1l-2-2l1 0l0-1l1 0l0-1l-2-1l-2-1l2 0l1 0l-1-1l1 0l0-1l2 0l1 0l1 0l-2-1l1-1l1 0l-6-3l5 2l2 0l-2-2l-3-2l3 1l7 2l-5-2l0-1l1 0l-1-1l1-1l-3-1l6 2l5 1l-4-2l0-1l-6-2l3 0l1 0l-6-3l0-1l3 1l-3-1l1-1l2 0l-3-1l1 0l-8-4l3 0l2 1l0-1l5 2l-3-2l0-1l10 4l-5-3l6 2l2 1l-5-4l-3-1l2 0l-3-2l-4-2l10 4l6 2l-8-4l-8-4l11 4l-1-2l-7-3l9 3l-8-4l-1-1l4 1l2 1l6 2l-2-1l5 1l-6-3l1 0l1 0l2 0l-5-3l4 1l-6-3l9 4l-2-2l-10-5l7 3l-5-3l-4-3l17 8l-18-9l0-1l0-1l-1-1l3 1l-3-3l1 1l1-1l2 1l1-1l-1 0l3 1l2 0l1 0l-4-3l-1-1l-5-3l-1-1l7 3l-1-1l7 3l-1-2l-4-2l0-1" stroke="#aa9f14"/><path d="M207 483l2 1l0-1l2 1l-2-2l4 1l-4-3l5 1l3 2l4 1l-1-1l2 1l0-1l-2-1l-2-2l5 2l1 0l1 0l0-1l1 0l-3-2l-3-2l5 2l-1-1l0-1l5 3l-6-4l-5-3l4 1l9 4l-2-1l1 0l0-1l-5-4l3 1l-1-1l5 2l-5-3l-3-2l1 0l4 1l5 2l-5-3l-4-3l0-1l7 4l3 1l-4-3l-5-3l-1-1l7 3l-3-2l0-1l1 0l1 0l-2-2l-6-4l6 3l-6-4l8 4l-3-2l2 0l1 0l0-1l3 2l1-1l-2-1l2 1l-3-3l-3-2l-3-3l4 2l5 2l1 1l-3-3l-3-3l3 2l4 2l5 2l-9-6l3 1l-3-2l4 2l-1-2l-1-1l-4-3l4 2l-3-2l8 4l-2-2l3 2l4 1l-5-3l-5-5l5 3l3 1l3 2l-6-5l-2-1l2 0l4 2l4 2l-7-5l6 3l-2-2l-1-1l3 1l-4-2l-3-3l-6-5l4 2l2 1l6 3l-3-3l-4-2l2 0l-1-1l-5-4l1 0l-1-1l1 0l1 0l0-1l10 6l0-1l-4-3l-3-3l2 1l5 3l-6-5l0-1l1 0l-2-1l3 1l-1-2l1 1l-5-4l8 4l4 2l2 1l-1-1l-1-1l0-1l1 0l-1-1l2 0l-9-6l5 2l-9-8l8 5l-3-2l1 0l0-1l2 1l1 0l1 0l1 0l-6-4l3 1l-3-3l12 8l-8-6l1 0l1 0l5 3l-1-1l-2-2l-3-3l4 2l1 0l5 3l-6-5l-1-1l-2-2l7 5l-3-4l-6-5l1 0l14 9l-10-8l-6-5l5 3l4 3l-3-3l0-1l8 5l11 9l-6-6l-5-4l4 2l-4-4l3 2l-2-3l7 5l3 1l-1-2l-2-1l3 1l-6-5l1 0l0-1l-8-6l2 0l-7-6l9 7l-4-4l-2-3l6 5l9 6l-8-7l4 3l4 2l8 6l-5-5l3 2l-6-6l-1-2l6 5l-7-7l12 10l-4-5l-4-3l7 5l-7-6l-6-6l6 4l-1-1l0-1l8 6l-8-7l3 1l-5-4l-5-5l1 0l-5-5l8 6l-2-2l8 6l7 5" stroke="#ac9c15"/><path d="M283 382l-7-6l-2-2l10 7l-4-4l1 0l5 4l3 2l-9-8l7 5l3 2l2 1l-1-1l6 4l-2-3l4 4l-9-9l-1-2l11 10l-17-16l-2-3l6 5l3 2l-2-3l-6-6l5 4l8 6l-2-2l8 7l-4-5l0-1l-4-4l1 0l4 4l-4-5l8 7l-8-8l5 4l-3-3l-1-2l-4-4l10 8l-1-2l-6-5l5 3l-2-2l16 14l-8-8l-7-8l5 5l1 0l-8-8l5 4l-2-3l-9-9l5 4l-1-1l-5-6l13 11l8 7l-5-6l8 8l-3-4l-6-6l7 6l-17-17l-1-2l11 10l6 5l1 0l-1-2l4 4l-4-4l6 5l7 6l-5-6l-8-8l-3-4l11 10l-6-7l3 3l-5-6l4 4l-19-20l5 4l11 10l-8-9l1 1l-5-7l-4-4l0-1l4 3l-3-3l9 8l-2-3l3 2l0-1l4 4l18 17l-20-20l3 2l3 2l4 3l-6-6l7 6l8 8l-9-10l-9-11l10 10l3 3l0-1l-5-6l-17-18l15 14l-4-4l-4-5l9 9l7 6l4 3l8 8l-14-15l5 5l5 4l-8-10l10 10l-8-9l-9-10l4 3l11 11l0-1l11 11l-8-9l11 11l-9-11l12 13l-5-6l0-1l0-1l-4-4l4 3l-1-1l-7-9l0-1l8 8l-2-2l5 5l4 3l-4-5l0-1l2 1l-1-2l-4-5l9 10l-3-5l5 5l-6-8l-8-10l4 5l6 6l2 1l-1-2l-1-2l5 5l-8-10l4 5l0-1l2 1l1 1l2 1l-4-5l0-1l-8-10l1 0l10 11l-4-5l7 7l-2-2l1 0l-7-10l5 6l-1-3l-9-11l3 3l-6-8l0-1l1 1l-1-2l0-1l7 8l-4-6l14 17l1 0l-20-26l5 6l0-1l-11-14l5 5l13 16l-3-5l-11-15l12 14l-7-9l11 12l-6-8l-1-2l-2-3l-3-5l8 9l-1-1l-3-5l0-1l0-1l3 3l7 8l-7-10l-4-6l6 7l-3-5l0-1l4 5l-3-5l-2-4l4 4l1 1l7 8l-8-11l6 7l0-1l0-1l2 2l9 11l-10-14l1 1l-3-6l1 2l0-2l4 4l2 3l0-1l1 1l-1-3l3 3l0-1l2 2l4 4l-1-2l1 2l2 1" stroke="#ae9916"/><path d="M374 297l-3-5l-3-5l-1-4l3 4l2 3l-5-8l3 2l4 5l-2-3l0-2l1 2l0-1l1 0l-4-7l4 4l2 3l-5-8l7 9l-2-5l1 1l2 2l-1-2l7 8l-1-2l-2-3l-2-3l2 1l5 6l-4-6l0-1l0-1l2 3l2 1l-2-4l3 4l-2-3l2 2l0-2l-1-3l2 3l3 4l6 7l-3-5l2 2l-6-9l3 3l0-1l-1-3l0-1l0 1l-2-5l-2-4l7 9l-1-1l-2-5l2 2l1 1l1 1l-1-3l1 0l-1-2l8 12l-4-8l-1-1l1 1l2 0l1 3l-4-8l3 4l-2-5l4 6l-1-4l3 5l-2-4l1 1l1 0l2 2l-1-3l-1-2l2 2l0-1l1 1l0-2l1 1l1 1l-1-3l0-1l1-1l0-1l-1-2l1 0l1 2l0-2l0-2l2 3l0-1l-1-2l0-1l1 0l1 1l-1-2l1-1l0-1l0-1l0-1l1 1l1 1l-1-2l1-1l0-1l1 1l1-1l0 1l1 0l0-1l1 0l0-1l1 1l0-2l0 1l1-1l1 1l1 0l0-1l1 1l1 0l-1-2l2 1l-1-2l2 1l-1-1l1 1l0-1l-1-3l2 2l0-1l1 1l0-1l1 1l0-2l0-2l2 2l-1-2l2 1l0-1l1 1l1 1l-1-2l1-1l2 3l0-2l-1-2l0-1l2 3l-1-3l2 1l0 1l0-3l1 1l1 0l4 6l-2-4l3 5l-4-9l4 6l-2-5l1 1l-1-2l0-1l2 1l-1-2l-1-3l4 7l0-2l-2-4l1 1l0-1l0-1l2 1l0 1l-1-4l2 3l2 2l0-1l-1-3l2 4l0-2l0-1l1 1l-1-3l2 2l-3-6l6 10l0-1l-2-6l2 4l0-1l-1-4l2 4l2 2l0-2l0-1l2 3l-2-5l-1-4l3 5l2 4l-1-3l0-2l3 3l-1-3l1 0l2 3l1 1l1 1l1 3l1 1l1 0l0-1l-5-13l-3-8l4 8l-1-3l1 1l3 6l3 4l-2-5l1 1l0-1l-1-3l3 5l-1-4l1 2l2 4l1-1l0-3" stroke="#b09617"/><path d="M482 232l-1-3l2 5l2 2l3 5l-2-6l-3-6l5 9l-2-5l3 5l-2-6l4 9l1 2l-1-6l-2-4l3 4l-1-4l1 2l0-2l0 1l0-2l2 3l1 1l-1-3l1 1l2 4l-2-6l-1-4l1 1l0-1l0-1l0-2l2 3l-1-3l4 7l0-1l-3-9l3 5l1 2l1 1l3 6l-2-7l2 6l-2-7l2 2l0-1l0-1l1 1l0-3l-2-7l0-1l3 8l-3-10l2 3l1 1l2 5l-5-16l3 6l0-2l1 2l0-2l1 3l-1-5l1 1l0-3l-1-6l3 8l0-2l-1-4l-2-7l4 10l-1-4l1 0l-1-3l3 5l-1-3l4 9l-4-13l1 3l2 3l-1-4l0-1l2 3l1 2l-1-3l1 0l-1-3l3 4l1 1l-1-5l1 2l1 2l-2-8l1 1l1 2l0-2l2 5l1 1l-1-5l2 4l-3-10l2 5l2 5l-1-6l3 7l0-1l0-2l1 0l0-2l1 2l1 0l-1-2l1 0l0-1l0-1l1-1l0-1l1 2l-1-4l2 2l0-2l4 12l-4-14l2 4l2 5l3 9l1 2l-1-6l-2-7l1 0l5 17l-4-15l2 3l1 4l1 0l0-2l1 2l1 3l0-2l0-2l-2-11l2 5l-1-2l3 7l-1-6l-1-5l0-2l0-2l4 13l-3-12l4 10l-1-4l0-2l2 4l-3-12l3 8l1 4l-1-6l0-4l-1-3l2 4l0-3l0 1l3 6l0-1l0-2l0-5l1 4l2 5l1 3l0-1l-1-7l3 11l2 4l-4-19l1 4l0-3l3 8l1 5l-2-12l2 5l2 6l-2-8l2 4l-1-5l0-2l1 3l1 0l2 5l-1-7l-1-3l3 8l1 2l-1-4l0-2l1 1l1 3l0-3l2 5l0-2l0-2l1 0l0 3l0-4l3 9l1 1l0-4l1 3l-1-4l2 4l-1-5l0-4l1 5l1 1l-1-6l2 7l0-2l1 0l2 6l0-2l0-4l0-4l1 5l1 2l0-3l1 0l2 8l-1-11l2 9l0-2l0-3l2 8l-1-11l1 4l1 1l1 2l0-2l1-1l0 2l1-1l1 0" stroke="#b29318"/><path d="M602 197l0-3l1 2l1 1l1 3l-1-6l1 2l1 2l1 1l0-2l0-5l1 2l-1-7l1 1l0-1l1 5l2 7l0-5l0-4l-1-5l1 2l1 0l1 3l-1-6l0-3l1 4l2 6l0-4l1 4l-1-7l0-3l1 1l1 4l1 2l0-2l1 1l1 3l1-1l0-3l1 5l-1-7l1-1l2 9l0-7l1 8l0-4l1 2l0-3l1 6l1-1l0 3l1-3l1 7l-1-10l1 2l1 1l0 2l0-5l1-1l0-5l1 6l0-1l1 4l0-4l1 1l1 4l-1-9l1 4l1-1l0 2l1 3l0-5l0-5l1 6l0-4l1 1l0-3l1 8l0-9l1 8l0-3l1-2l0-4l0-4l1 3l0-2l1 0l0 2l1-3l0 1l0-5l2 10l0-5l0-1l0-4l1 3l1 4l0 1l1-4l1 6l0-6l1 7l1-3l0-3l1 1l0-1l1 0l0 1l1 0l0-1l1 4l1 2l0 1l1 0l0-6l0-3l1 2l0 1l1-5l0 2l1 0l0 1l1-1l0 3l1 2l1 4l0-6l1 1l0 1l1 1l0 5l1-5l0 4l1-4l0 1l1 1l1-5l0 6l1 0l1 3l0-3l1 3l0-2l1 2l0-2l1-2l0 1l1-4l0 4l1 1l0-9l1 8l0-7l1 4l0-3l1 7l0-2l1-3l1 1l0-1l1 2l1-2l0 2l1-3l0 2l1-1l0 1l1-3l0-3l1 4l0 2l1-1l0-2l1 1l0-2l1 0l1 1l0-1l1 2l0 1l1 0l0-1l1-1l0 1l1 3l0 1l1 1l0-1l1 0l0-1l1 0l0 1l1 0l0-2l1-2l1-1l0-1l1 1l0 2l1-1l0-2l1 3l0-1l1 2l1 0l0 1l1 2l0-1l1-3l0-1l1 4l0 2l1-4l1 1l1-1l0 1l1 0l0-1l1-1l0-1l1 0l0-1l1 1l0 1l1 1l0-1l1-3l0 5l1-1l0-4l1 1l0-3l1-2l0 6l1 0l1-4l0 1l1-2l1-1l0 2l0 1" stroke="#b49019"/><path d="M728 177l1-4l0 4l1 0l0 1l1-2l0 6l1-4l1-1l0 1l1-1l1-3l0 1l0 4l1-1l1-1l0 2l0 1l1-1l1-2l0 1l1-1l1-3l0 3l1-1l0 2l1 0l0 1l1 1l1-2l0 2l0 1l1-3l0 4l1 2l1-7l0 3l1-4l0 4l1 1l1-2l0 2l0-1l1-1l0 2l1 0l1-3l0 5l1-6l0 6l1 1l1 0l0 3l1-5l0 6l0 3l1 1l0-1l1-1l1-5l0 3l0 2l2-5l-1 7l1-1l0 3l1-3l0 1l1-2l1-3l-1 6l1-2l1-5l0 9l1-5l1-4l0 5l1-4l0 3l1 2l1-5l1-1l1-2l0 4l0 2l0 1l1-1l1-5l0 2l2-5l0 3l0 1l1-1l0 1l0 2l0 5l2-8l-1 4l2-3l0 5l1-5l0 1l1-3l1 1l0 3l0 2l1-5l0 4l1-2l0 6l1-4l1-2l0 1l1-1l1 2l0-2l0 3l2-5l0 3l0 3l1-2l1-2l0 2l1 0l1 1l0 1l1 0l1-1l0 1l0 6l1-5l1 0l0-1l1-2l1 0l0 2l1 0l0 1l1-1l1 0l0 3l0 1l1-2l1 0l1-3l1 1l0 1l0 1l1 0l0 1l2-2l0 1l1-3l0 3l1-1l1-1l0 1l1 0l1-1l0 3l1-2l0 1l1-1l1 0l1 0l0 1l0 1l1 1l1-3l0 3l1 0l0-1l1 1l0 2l1-1l0 1l1-1l1 0l0 1l1-1l1-1l0 2l1-4l0 3l0 2l1-1l1 0l0-1l0 1l1 0l1-1l1 1l0 1l1-1l0 1l1-1l0 1l1-1l0 1l1 0l0 1l1 0l0-1l1-1l0 2l1 0l0 2l1-4l1 0l0 2l1 0l1 0l1 0l1 1l0 1l2-2l-1 2l1-1l1 0l0 1l1 0l0-1l0 2" stroke="#b68b19"/><path d="M854 202l0 4l0 1l1-2l0 1l1 0l1 1l1-2l-1 2l1-1l2-3l0 3l1 0l1-3l0 2l1 0l2-4l-1 5l1-2l1-1l0 2l0 2l1-1l2-3l0 1l0 2l1 1l1-3l1 0l0 1l0 1l1-3l0 3l0 2l0 1l1-2l1 0l1 0l0 1l0 3l1-2l0 2l1-3l0 1l0 1l1 0l0 1l2-2l0 2l1-2l-1 3l1-1l1-1l0 2l-1 2l1 0l1 0l1-1l1 0l0 2l1-1l0 2l0-1l0 2l1-2l1 1l1 0l-1 2l2-4l1 1l0 2l1-1l0 2l1-1l1-1l-1 1l1 0l1-1l0 1l0 2l1 0l1-2l0 1l0 2l1-2l1 0l0 1l1 0l1 0l1-3l0 2l1-1l0 2l0-1l0 2l1 0l0 1l1-1l0 1l1 0l0 2l1-1l1-1l1 0l1-1l-1 2l1-1l1 0l1-1l1 1l1-2l0 2l0 1l0 2l0 1l0-1l0 1l2-1l0 1l1 1l1-3l0 2l0 1l0 1l1 0l0 1l1-1l1 0l2-1l0 1l1 0l-1 2l1 0l1-1l1 0l0-1l0 1l2-1l-1 1l1 0l0 1l0 1l0 1l1-1l3-4l-1 3l2-1l-1 2l0 1l1-1l1-1l0 1l1 0l0 1l2-1l-1 3l1-2l0 1l1 1l1 0l0 1l2-2l-1 1l1 1l0 1l0 2l1-2l1 0l0 1l1 0l-1 2l1-1l2-2l-1 3l2-1l1-1l-1 2l1 0l1 0l2-1l0 1l1-1l2-2l-1 3l1 1l1-3l0 2l-2 5l3-4l1-2l1 0l-1 3l-2 4l2-2l0 1l0 1l1-1l2-2l2-3l-2 5l2-4l0 2l-2 4l3-3l2-2l0-1l1 0l-1 3l0 1l0 1l1-1l0 1l0 2l-1 3l3-5l-1 2l-1 4l1-2l2-2l-1 3l2-2l0 1l1 0l1 0l0 2l1-1l0 1l2-4" stroke="#b88619"/><path d="M976 246l2-2l1 0l-1 3l2-2l-1 3l-1 1l2-1l-1 2l2-3l0 2l1 0l1-1l0 1l0 1l-2 5l-2 4l3-4l0 2l1-1l-1 2l1 0l0 1l1-1l0 1l-1 2l2-3l-1 3l3-3l0 1l-1 2l1-1l1-1l0 1l1 1l-1 2l4-5l-2 4l2-3l0 1l-2 4l2-2l-1 2l1 1l0-1l1 0l1 0l0 1l0 1l0 1l1-1l2-2l0 1l-1 2l1 0l1-2l-1 3l-1 2l3-3l2-1l0 1l1-1l-1 2l1 0l0 1l1 0l2-2l-1 2l0 1l1 0l1-1l0 1l0 1l1 0l0 1l-1 1l2-1l1-1l0 1l0 2l0 1l0 1l2-3l-1 3l1-1l-1 2l1 0l3-3l-2 3l-2 4l3-3l-1 1l1 1l2-2l-1 2l1 0l0 1l2-2l2-1l1-1l2-2l-3 5l2-1l1-1l-2 4l1-1l2-1l3-3l1-1l0 2l-4 5l4-5l-2 5l5-7l-2 4l0 1l4-5l-2 4l-2 4l-1 1l2-1l2-2l4-5l-2 4l1 0l2-2l-1 2l1 0l0 2l-1 1l1 0l-1 2l2-3l-4 7l3-3l0 1l1-1l2-2l-2 4l-1 1l1 1l2-3l-1 3l0 1l0 1l2-2l-1 2l1-1l-1 2l0 2l2-3l5-5l-3 4l1 0l-1 2l0 1l4-4l-1 3l-2 3l4-4l0 2l3-3l-2 2l3-2l2 0l1-2l-2 4l2-2l1 0l1-1l-1 3l-2 3l1-1l1 0l1-1l-2 4l3-3l1-1l0 1l0 1l1-1l-1 2l2-1l1 0l-1 1l1 0l-3 4l4-4l2 0l-2 2l2-1l3-3l-4 5l-2 3l2-1l1 0l-5 6l-2 3l1-1l4-3l1-1l-7 10l1-1l2-2l-2 3l7-7l0 1l-4 5l4-3l7-7l1-1l-3 4l-4 5l3-2l0 1l-7 8l7-6l-2 2l1-1l3-2l-9 11l3-3l5-4l-4 4l3-2l11-11l-10 12l-2 3l3-3l-2 3l0 1l-1 2l-1 1l-4 6l3-3l-1 2l3-3l5-4l5-4l-4 4l2-1l3-3l2-1l-5 6l0 1l1 0l-2 2" stroke="#b98118"/><path d="M1075 330l2-1l-4 5l1 0l1 0l-2 2l7-7l9-8l-1 2l-4 5l-1 1l1 0l-4 5l0 1l3-2l3-2l-1 1l3-2l1 0l0 1l1-1l3-3l-2 3l-2 3l-1 2l-1 2l3-2l-2 2l0 1l1 0l-1 2l3-2l-1 1l4-3l4-3l-2 3l0 1l0 1l1-1l-1 2l-1 1l3-1l2-1l-1 2l-1 2l3-2l-2 3l1-1l2-1l-2 3l3-3l0 2l-2 2l2-1l-1 1l1 0l2-1l-1 1l0 1l2-1l-1 2l-1 1l1 0l0 1l1 0l0 1l1-1l-2 3l4-3l1 0l-1 2l0 1l2-1l1 0l-1 1l1 1l1-1l0 1l-1 2l3-3l0 1l-2 2l1 0l-1 2l1 0l-1 2l1-1l1 1l-3 3l2 0l1 0l1 0l1 0l0 1l1 0l-2 2l3-2l-2 3l-1 1l2-1l1 0l1-1l0 1l0 1l1-1l-1 2l1 0l2-1l1 0l-3 3l-1 1l2-1l2 0l-1 1l0 1l-2 2l3-2l2-1l3-2l0 1l-1 1l2-1l0 1l1 0l-2 2l-1 2l1-1l3-1l-1 1l2-1l0 1l-1 1l-1 2l2-1l0 1l-1 1l-2 2l1 0l2-1l-4 4l1 0l2-2l-3 4l6-4l0 1l-1 1l2-1l-3 3l2-1l-2 2l2-1l-2 2l2-1l2-1l0 1l0 1l-4 3l4-2l3-1l-3 2l2-1l1 0l1 0l1 0l0 1l0 1l1 0l3-2l1 0l-1 1l-1 2l1 0l1-1l-2 2l1 0l-1 2l-1 1l1 0l2-1l-1 2l-3 3l2-1l1-1l1 1l-1 1l-2 2l2-1l4-2l-3 3l-2 2l1 0l1 0l1 0l0 1l-2 1l3-1l0 1l-1 1l0 1l-2 2l1 0l-1 1l5-2l2 0l-1 1l1 0l0 1l1 0l1 0l-1 1l1 0l1 0l1 0l-1 1l0 1l1 0l1 0l2 0l2-1l-2 1l0 1l-1 1l3-1l-1 1l1 0l1 0l-2 2l1 0l2 0l1 0l-1 1l0 1l2-1l-1 2l-1 1l1 1l-1 1l1 0l0 1" stroke="#b97c15"/><path d="M1165 424l1 0l-2 2l1 0l-6 4l6-3l4-2l-4 3l2 0l-1 1l3-2l2 0l-1 1l2 0l-3 2l2-1l2 0l-1 1l-1 1l4-2l1 0l-1 1l1 0l-1 1l2 0l-4 3l4-2l0 1l1 0l-6 4l3-1l-3 2l6-3l-7 5l0 1l1 0l-1 1l1 0l-1 1l1 0l-2 2l-1 1l8-4l-4 3l5-2l2-1l1 0l-1 1l-5 3l3-1l2 0l-2 2l-3 2l-3 3l8-5l1 0l3-1l0 1l4-2l-9 5l-5 4l6-3l1 0l-7 5l12-7l-5 4l0 1l6-3l2 0l-16 9l15-8l-6 4l-4 3l-3 2l2 0l3-1l7-4l-1 2l-5 3l-3 2l-1 1l-3 3l1 0l-1 1l5-2l8-4l-5 4l-2 1l-1 1l0 1l12-6l0 1l-2 2l-1 1l3-1l-2 2l-3 2l2 0l1 0l2 0l8-4l-6 4l-7 3l-4 3l-2 2l-5 3l3-1l2-1l3 0l-4 2l2 0l4-2l-3 2l4-1l-1 1l-7 4l5-2l3-1l-2 1l2 0l2 0l5-3l2 0l3-1l4-1l-5 3l2-1l-9 5l3-1l-2 2l-6 3l3 0l4-2l1 0l6-2l-4 3l12-6l-7 4l-2 2l5-2l-1 1l1 0l2 0l2-1l-8 5l-5 3l2-1l-2 2l1 0l0 1l3-1l-5 3l-2 1l4-1l2 0l4-1l-3 1l0 1l6-2l7-3l-5 3l-3 2l1 0l-4 2l1 0l3 0l1 0l0 1l-2 1l-6 3l1 0l12-4l-2 1l1 1l1 0l1 0l7-3l-7 4l-2 1l-3 2l0 1l0 1l3-1l-2 2l5-2l1 0l-4 2l5-1l3-1l-1 1l-8 4l4-1l1 0l2 0l-2 1l-5 3l-6 3l3-1l8-2l-2 1l-2 1l7-2l1 0l-4 2l7-2l3-1l-6 3l3 0l2-1l-1 1l-1 1l-6 3l4-1l-6 3l-1 1l-1 1l5-2l-14 7l4-2l-2 1l0 1l1 0l2 0l-2 1l2 0l3 0l-2 1l1 0l2 0l-1 1l1 0l1 0l-2 2l2-1l0 1l1 0l0 1l1 0l0 1l1 0l1 1l1 0l0 1l-1 1l1 0l-1 1l-2 2" stroke="#ba7812"/><path d="M1213 545l2-1l3 0l-1 1l-2 1l0 1l2-1l1 1l-2 1l2 0l0 1l1 0l-3 1l-1 1l7-2l1 1l-2 1l-5 2l-3 2l2 0l5-1l4-1l2 0l1 0l1 0l0 1l-1 1l-2 1l-9 3l7-1l-3 1l-3 2l-1 1l-3 1l4-1l0 1l3-1l-2 2l3-1l-6 2l0 1l4-1l-2 1l-5 3l4-1l10-3l0 1l6-2l-3 2l-1 1l2-1l-4 2l1 1l-8 2l6-1l1 0l3 0l10-2l-2 1l-8 3l2 0l0 1l3-1l-9 3l0 1l-2 1l-3 1l7-1l11-3l-6 2l1 1l7-2l1 0l-3 2l-3 1l3 0l7-2l-10 4l0 1l-3 1l5-1l1 0l1 1l-1 1l4-1l-5 2l0 1l-3 1l2 0l3 0l3 0l-3 1l-4 1l1 1l-1 0l6-1l-8 3l1 0l-4 2l2 0l0 1l-1 1l-5 2l7-2l2 1l-6 2l3 0l9-2l-1 1l3 0l7-1l-2 1l-4 1l1 0l-2 1l1 0l0 1l-1 1l-4 1l-2 1l7-1l1 0l0 1l0 1l1 0l1 0l0 1l1 0l0 1l1 0l0 1l2 0l-1 1l-1 0l-1 1l3 0l-2 1l-1 0l1 1l1 0l1 0l0 1l1 1l-1 1l-3 1l5 0l-3 1l0 1l-3 1l3 0l4 0l-3 1l-2 1l-2 1l-1 1l2 0l-2 1l5 0l1 0l1 0l0 1l1 0l-2 1l-8 2l2 0l-7 2l0 1l-2 0l-2 1l-1 1l1 0l1 1l1 0l4 0l4 0l-7 1l-1 1l5 0l5-1l2 0l-1 1l-1 1l6-1l4 0l-1 1l-4 1l-2 1l1 0l0 1l2 0l-7 1l-1 1l-2 1l-5 1l3 0l-2 1l0 1l3 0l-1 1l3 0l2 0l-4 1l0 1l-4 1l7-1l0 1l2 0l-4 1l-1 1l2 0l-8 1l12-1l-2 1l-3 1l-1 1l-1 0l3 0l0 1l-1 0l1 1l-4 1l2 0l8-1l7 0l3 0l-5 1l4 0l-8 2l7-1l-1 1l0 1l-3 0l-1 1l3 0l4 0l-4 1l-7 2l1 0l-3 1l-3 1l1 0l2 0l-2 1l-2 1l1 0l3 0l-1 1" stroke="#ba730f"/><path d="M1246 669l-3 1l4 0l1 0l-4 1l2 0l-2 1l2 0l0 1l1 0l-4 1l-4 1l5 0l5 0l-5 1l1 0l0 1l3 1l1 0l-2 1l1 0l-1 1l1 0l-2 1l0 1l-5 1l3 0l1 0l2 1l-1 0l-1 1l7 0l-3 0l-2 1l-1 1l-2 1l1 0l2 1l-2 0l1 1l0 1l1 0l-3 1l1 0l1 1l1 0l1 1l-1 1l-1 0l0 1l3 0l4 0l-6 1l1 1l-5 1l1 0l11 0l1 1l1 0l-2 1l-2 1l-2 1l-2 1l3 0l-2 1l1 1l-4 0l0 1l4 0l-1 1l-4 0l7 0l3 1l8 0l-1 1l-8 0l1 1l4 0l-4 1l-3 0l-3 1l2 1l-4 1l3 0l4 0l-6 1l-2 0l4 1l5 0l-3 1l2 0l-2 1l-2 0l0 1l0 1l-1 0l1 1l2 0l-1 1l-1 0l-6 1l6 0l-2 1l4 0l-2 1l1 1l12 0l-3 1l1 0l-3 1l4 0l-4 1l1 0l-2 1l-2 0l0 1l-1 0l2 1l4 0l-5 1l4 0l-7 1l7 0l2 1l2 0l-2 1l-9 0l3 1l3 0l2 1l-2 0l2 1l-2 0l4 1l-5 0l10 1l-2 0l-5 1l-3 0l2 1l-3 0l-4 1l-8 0l6 0l4 1l8 1l-2 0l-4 1l1 0l-11 0l7 1l-2 1l-3 0l-4 1l6 1l-4 0l3 1l-2 0l2 1l3 0l7 1l10 1l-8 0l-3 1l3 0l-6 1l1 0l2 1l-5 0l2 1l1 0l-6 0l2 1l2 0l-4 1l0 1l4 0l1 1l-7 0l0 1l1 0l12 1l7 1l1 1l-9 0l-4 0l-3 0l-5 1l2 1l-5 0l4 1l6 1l1 1l-1 0l1 1l2 0l-2 1l6 1l10 1l-8 0l-9 0l3 0l5 1l0 1l6 1l-4 0l-1 1l-2 0l-3 0l-4 1l4 0l7 1l1 1l1 1l-13-1l-9 0l4 1l5 1l4 0l-11 0l10 1l4 1l8 1l-18-1l12 2l-6 0l-4 0l7 1l-1 1l-7-1l5 1l3 1l0 1l-8-1l2 1l7 1l3 1l-19-2l5 2l-6-1l2 1l0 1l1 0l5 1l4 1" stroke="#ba6f0c"/><path d="M1258 799l2 1l0 1l-1 0l-2 1l2 0l-5 0l-1 1l-1 1l1 0l0 1l4 1l4 1l-1 1l6 1l0 1l-2 0l-3 0l12 3l-8-1l-1 0l0 1l-6-1l1 1l2 1l-1 0l7 2l-3 0l-5 0l1 1l-8-1l4 1l-3 0l5 1l-4 0l0 1l13 2l-12-1l-4 0l-3 0l2 1l2 1l2 0l-1 1l-2 0l-1 0l5 2l-3 0l2 0l3 2l-2 0l-1 0l0 1l-5-1l3 1l-1 1l1 0l0 1l1 1l-6 0l7 2l-3 0l2 1l-1 0l-5 0l5 1l3 1l1 1l-4 0l-5-1l0 1l5 1l1 1l3 1l0 1l-4-1l2 1l0 1l-3 0l4 1l-1 0l6 2l-12-2l4 2l5 1l2 1l0 1l-6-1l1 1l5 1l-1 0l-4 0l5 2l-5-1l-7-1l5 2l-3-1l-2 1l-1 0l1 1l-1 0l-1 0l-3 0l3 1l-2 0l5 2l-3 0l-1 0l0 1l-1 0l-5-1l5 2l0 1l-1 1l1 0l0 1l-3 0l1 1l0 1l2 0l-2 1l-1 0l1 1l1 1l-3 0l-4-1l2 1l5 2l-2 0l-1 0l2 1l-1 0l-4 0l-4-1l4 2l1 1l2 1l-1 0l0 1l9 3l4 2l-8-2l-2 0l-5-1l3 2l-3-1l1 1l-1 1l1 0l-6-1l0 1l4 1l-1 1l-2-1l7 3l2 1l-6-1l4 2l-8-2l7 2l-2 0l-7-1l4 1l5 2l-2 0l-5-1l2 2l5 1l-3 0l1 1l-8-2l1 1l-1 0l9 3l0 1l2 1l-1 0l-3 0l2 1l8 3l-2 0l-11-3l-2 0l-1 0l-4-1l17 6l-1 0l-5-1l-1 0l-1 1l5 2l5 2l-1 0l-8-2l-2 0l3 1l9 4l-6-2l1 1l5 2l-8-2l1 1l-3 0l3 1l7 3l1 1l-6-2l-5-1l0 1l-3-1l-3 0l0 1l11 4l-9-2l-3-1l-1 0l5 3l-9-3l1 2l-4-1l-1 0l-1 0l2 1l1 1l1 1l2 1l0 1l-1 0l-2 0l-2 0l5 2l-2 0l12 5l-4-1l-3 0l6 2l0 1l2 1l3 2l-8-3l-3 0l-2 0l1 0l6 3l-2 0l5 2l0 1l-3-1l0 1" stroke="#ba690b"/><path d="M1232 930l-1 0l5 3l1 1l-5-2l-4-1l-2 0l0 1l0 1l-2 0l-1 0l-2-1l0 1l0 1l5 3l-4-1l2 1l3 2l-7-2l9 4l2 1l-2 0l1 1l0 1l-1 0l-5-2l-4-1l0 1l2 1l-3 0l-1 0l4 2l-2 0l10 5l-6-3l-1 1l-2-1l2 2l1 1l-1 0l1 1l-1 0l1 1l3 2l-3-1l-1 0l0 1l1 1l-1 0l2 1l-3 0l-3-1l-4-1l1 1l3 2l-5-2l1 1l3 2l0 1l4 2l-1 0l-6-1l-1 0l3 2l3 2l-1 0l-1 1l-2-1l-1 0l1 1l1 2l-2 0l2 1l-1 0l-1 0l0 1l0 1l-1 0l1 1l-2 0l1 2l3 2l-1 0l-3-1l0 1l-1 0l4 3l-7-3l1 1l2 2l0 1l-1 0l0 1l-1 0l-1 0l-2-1l1 2l3 2l0 1l-1 0l-2-1l0 1l-2 0l-2-1l-4-1l4 2l-3-1l-1 0l0 1l-1 0l-3-1l-2-1l-2 0l1 1l-1 0l-2 0l1 1l0 1l1 1l1 0l0 1l-1 0l-3-1l3 2l-1 0l1 1l-2 0l-3-1l3 2l-2-1l0 1l2 2l5 3l-6-3l0 1l-1 0l-1 0l2 2l-3-2l0 1l-1 0l1 1l-1 0l-2 0l2 1l4 3l1 1l-5-2l12 7l-6-3l2 2l2 1l0 1l-6-3l-2 0l8 5l-4-2l-1 0l-2 0l2 1l1 1l3 3l3 2l-6-3l-1 0l0 1l3 2l-8-4l3 2l1 2l5 3l-5-2l-1 0l-3-1l-2-1l4 3l8 5l-11-5l3 2l3 3l-5-3l-6-3l2 2l1 1l3 2l-4-1l5 3l4 3l-5-2l3 2l-2 0l-1 0l-2-1l1 1l3 2l3 3l-1-1l-2 0l0 1l-3-1l1 1l1 1l3 2l-3-1l-3-1l1 1l2 2l-1 0l-1 0l-1 0l1 1l-1 0l2 2l-1 0l-2-1l-1 0l3 3l-2-1l3 2l-7-4l3 3l1 1l-1 0l-3-1l0 1l1 1l-6-4l-1 1l3 2l2 2l-7-4l3 2l-5-2l0 1l2 1l-1 0l3 3l5 4l-4-2l-4-3l1 2l-10-6l-2-1l6 5l-3-2l-1 0l1 1l-3-1l3 3" stroke="#b9630b"/><path d="M1161 1042l-2-1l10 8l0 1l-6-4l-1 0l4 3l-1 0l-7-4l-1 0l-3-2l0 1l2 2l2 2l8 6l-4-2l2 2l8 6l-3-1l-6-3l3 2l-5-3l-9-5l9 6l1 2l-4-2l4 3l0 1l5 4l1 1l-1 0l-4-2l6 5l-2-1l-2-1l-10-6l0 1l-1 0l-8-5l-1 0l4 3l3 3l-7-5l2 2l-2-1l-1 1l6 4l1 2l-2-1l-2-1l-3-2l-1 0l1 2l7 6l3 2l5 5l-8-6l-1 0l-2-1l0 1l2 2l2 2l-5-3l-3-2l1 1l-1 0l7 7l-3-2l0 1l10 8l-10-7l2 3l-1-1l3 4l1 1l0 1l4 4l0 1l-5-4l-1 0l-2-1l1 1l2 3l-4-2l-1-1l3 3l-2-1l1 2l-2-1l3 3l-4-3l-1 0l1 1l-2-1l-2 0l-2-1l1 1l-2-1l4 4l1 1l5 5l2 2l-5-3l-1-1l-2 0l-1-1l-3-1l-7-6l5 6l2 2l-2-1l-1 0l-3-2l-2-1l-1 0l3 3l-2-1l-2-1l7 6l-3-2l-2-1l-1 0l-2-1l2 2l0 1l-1 0l2 2l3 3l-5-3l-2-1l-4-3l2 2l-2-1l2 3l-2-2l-3-1l3 3l5 5l-10-8l-2-1l3 3l0 1l-1-1l2 3l-3-2l1 2l6 5l-4-2l7 6l0 1l-3-2l3 3l-5-3l3 3l2 2l2 3l-4-3l0 1l-5-4l6 6l-11-10l2 3l2 2l-4-2l9 8l-4-3l12 12l-3-2l-10-9l-7-5l3 4l-9-8l2 2l8 8l11 11l-15-13l0 1l5 4l2 3l2 3l5 5l-2 0l4 4l-8-7l1 1l-6-4l-4-4l-8-6l3 3l-1 0l-1-1l2 3l-2-2l4 5l2 3l-7-6l2 3l-1-1l-7-6l12 13l3 3l-5-4l-7-6l10 10l-1 0l-8-7l6 7l3 4l6 6l2 3l5 6l-13-12l3 3l4 4l-1 1l-2-2l3 4l3 4l-8-8l-9-8l-2-1l-3-3l0 1l2 3l-2-1l5 5l-1 0l-5-4l10 11l-2-2l-5-4l-4-3l2 4l-1-1l-1 0l10 11l1 2l1 1l-15-14l8 9l7 8l-2-2l-1-1l1 2l0 1l-6-5l7 8l-4-3l-2-1l-1-2l-2 0l-4-4l4 5l-3-3l0 1l0 1l1 2l0 1l1 2l-4-3" stroke="#b95e0a"/><path d="M1093 1159l2 3l-7-7l5 6l1 2l1 2l5 6l-10-11l3 4l1 3l5 6l-7-7l-1-1l-1 0l-2-1l0 1l-2-2l-1-1l1 3l1 1l-5-4l5 6l1 1l4 6l-4-4l-2-1l-1-1l-1 0l-1 0l0 1l2 2l-3-2l0 1l0 1l-2-2l-4-4l8 10l-2-2l3 5l-1-1l-3-2l2 3l1 2l-4-4l-3-2l-1-1l0 1l-4-5l3 5l-1-1l-5-5l-1 0l4 6l-4-4l0 1l0 1l0 1l-4-4l-5-5l6 8l3 4l-3-2l3 3l-2-1l2 3l-1-1l-2 0l3 5l-2-1l2 2l-5-4l1 1l2 4l-5-5l-1-2l-3-2l-2-2l2 4l-7-8l1 2l-5-5l5 6l1 3l2 3l-2-1l4 5l-1-1l0 1l0 1l-1 0l-1 0l3 4l-4-4l-1-1l-4-4l4 5l-2-1l0 1l1 1l-2 0l-2-2l-1 0l1 2l0 1l1 2l0 1l-5-6l4 6l-2-2l-3-4l0 2l0 1l-2-2l1 2l2 4l-3-3l2 3l-1-1l-6-6l1 2l-1-1l-3-3l1 1l2 4l1 3l-3-2l3 3l0 1l-6-6l1 2l0 1l-3-4l-3-3l2 4l3 5l-2-2l-2-3l-1 0l-2-2l2 3l-1 0l-1 0l-2-2l1 2l1 3l0 2l2 3l-1-1l-1-1l-2-1l2 3l2 4l-3-4l-2-1l2 4l-3-3l-2-2l1 2l1 2l-1-1l-2-2l-1-1l0 2l0 1l-1-1l-3-4l-1 0l0 1l-1 1l1 2l-1-2l-2-1l0 1l2 3l-6-7l4 6l1 2l-2-2l-1 1l2 3l0 1l-1-1l-1-1l-1-1l0 2l2 3l-3-3l-1-1l0 2l-1-1l-1 0l0 1l0 1l-2-3l0 1l1 3l-2-2l3 5l1 2l-2-1l-1-1l0 1l-2-1l1 1l-3-3l0 1l-1-1l-1 0l1 3l1 2l-1-1l1 2l-1-1l-1 0l0 1l-1-1l1 3l0 1l1 3l1 2l-1 0l0 2l-1 0l1 1l-2-1l2 4l1 3l-1-1l-1-1l1 3l2 4l3 5l-4-6l-3-3l1 3l-2-3l4 9l2 3l-2-3l-1 1l-1 0l-2-3l-1 0l-4-7l0 2l-1-1l3 6l-5-7l-2-4l0 2l-1 0l-2-2l1 2l-2-1l2 4" stroke="#ba5809"/><path d="M977 1228l-3-4l2 5l-1-2l0 1l0 2l-1-1l-1-1l1 3l3 5l-3-4l-1-1l1 3l2 4l-5-6l0 1l-5-9l-1 0l5 9l1 3l1 3l-1 0l1 2l0 1l2 5l-2-3l0 1l-1 0l-1-1l0 1l0 1l1 3l-1-1l-2-2l-2-4l0 2l1 4l-2-5l0 2l1 3l2 5l-5-8l0 1l0 2l-3-6l-3-4l-1-2l0 1l-5-7l3 7l2 3l-5-8l3 7l2 5l0 2l-1-1l-3-5l-3-4l4 8l-1-2l-2-1l-3-5l0 1l3 6l-4-7l-1-1l1 3l0 1l-2-1l3 6l-5-9l-1-1l6 13l2 6l1 2l-6-11l2 7l-4-8l-1-1l3 8l-3-6l-1 0l0 2l-4-8l-1-2l3 9l1 4l2 5l-3-5l1 3l-1-2l-2-2l-2-4l-2-2l1 1l-1 1l-1-1l-1-1l1 3l-2-3l1 3l0 2l1 3l-2-4l-2-3l4 10l-1 0l1 2l-1 1l-2-6l2 7l-3-6l1 4l-5-11l2 6l0 1l-3-4l1 3l2 4l-1 0l-1-1l-4-7l-1-2l1 3l-1 0l1 4l-1-1l1 2l-3-6l3 9l1 5l0 1l-1-3l-1 0l1 4l-3-7l1 5l-2-3l1 2l0 1l-1-1l-1 0l1 2l-1-1l1 4l0 3l-2-5l-1-1l1 4l2 5l-3-5l4 11l0 2l-5-10l1 3l-4-8l2 8l0-1l-3-4l0 1l-2-5l2 6l2 8l0 1l-2-3l0 2l-4-9l-1-2l0 2l-1-1l-1-1l-1-2l-3-7l4 14l-1-2l5 13l-5-10l-1-1l-2-4l0 1l2 7l-3-7l2 7l-2-4l1 3l-2-4l2 7l2 7l-2-3l-1-1l-1-1l2 5l-3-6l0 2l-1-1l-2-3l3 7l-2-3l1 3l-3-6l-1 1l2 7l-2-6l-4-9l-1-1l-1-3l-1 1l1 2l1 5l1 4l-2-4l-1 0l-1-2l3 9l-3-7l-2-5l0 3l-2-5l1 6l-2-5l1 5l1 3l-3-5l3 8l-1 0l-2-5l0 2l1 5l-1-3l-1-2l1 4l-1-1l-3-6l-2-3l1 2l1 5l1 5l1 6l-1-1l1 2l1 6l-6-16l0 2l2 6l-2-5l1 6l-1-2l-2-4l2 8l0 3l-1-2l-1-2l0 4l0-1l-1-1l-2-3l1 3l-3-6l-1-2l1 6l-3-12l3 15l1 5l-3-9l2 7l-1-2" stroke="#bb5208"/><path d="M859 1292l-1-2l0 4l-2-5l-1-3l0 4l1 3l-2-4l-2-7l1 6l0 3l-3-10l3 13l-1 0l2 6l-1-1l-2-3l-1-2l2 7l-3-8l-2-4l1 5l-2-4l-1-4l-1 0l-1-2l0 2l1 5l-2-7l0 4l0-1l-1-2l1 8l-2-5l1 3l-2-3l0 2l1 4l-1 1l-1-3l-1-3l0 3l0-1l0 2l-4-12l-1 0l0 1l-2-7l2 10l-2-4l-1-3l3 13l-3-8l1 4l-1-1l-2-5l0 2l-1-2l-2-6l2 9l-1-2l0 3l-1-2l0 1l-1-1l1 4l-1-3l0 5l1 5l-2-5l0 1l-2-2l0 1l0 5l0 1l0 2l0 1l-1-2l0 5l1 5l-2-5l-1-2l-2-7l1 4l-1 1l0 1l-1-3l-1 0l-2-10l1 6l1 8l0 2l-1 2l-1-3l-4-20l1 9l2 12l-1-3l-1-3l1 6l0 4l0 4l-1-2l-1-2l0 2l0 2l-1-4l-1 0l1 6l-2-7l1 8l-2-9l0 4l0 3l-2-6l1 5l-2-5l1 7l-1-4l-1-3l0 5l-1-5l0 4l-1-1l0 3l-1-4l-1-3l-1-2l0 4l1 5l-2-9l-1-2l-2-7l1 10l-1 0l0-2l-2-8l1 10l0 5l-2-12l0 7l1 9l-3-18l1 9l-3-14l3 19l-3-11l1 4l-1-2l-1 0l-2-9l0-1l2 17l-2-6l-1-2l0 6l-1-5l0 3l-2-8l2 14l-1-2l0 4l-3-13l0 3l-1-8l0 8l0 4l1 7l0 2l-1 0l-1-3l0-1l-1 0l0 5l-1-4l0 1l0 6l-2-9l-1-8l-1-5l-1 1l0 1l0 7l-1-4l0 2l0-1l0 7l0 5l-2-14l-1-2l1 9l-1-4l0 3l-2-6l0 4l-1-1l-1 0l0 2l0 6l0 4l-1-8l0 6l-1 2l0 1l0 6l-1-2l-1-9l0 5l-1 3l0-1l-1-1l0-1l-1-4l0 5l-1-1l-1 3l0-3l-1-1l-1-2l0 5l0-1l-1-4l-1 1l0-2l-1 3l-1-7l0 7l-1-7l0 1l0 7l-1 0l-1-7l0 2l-1 3l-1-5l0 4l0 4l-1-2l0 5l-1-8l0 6l-1-3l-1 1l-1-6l0 1l0-1l-1 0l0 6l0 3l-1 1l-1-5l0-1l-1 0l-1 1l0 4l-1-4l-1-2l-1 1" stroke="#bc4c07"/><path d="M724 1312l0 1l-1 0l0 1l0 5l-1-1l-1-5l0 1l0 6l-1-4l-1 0l-1 0l0 1l0 3l-1-4l-1-1l-1-4l0-1l-1 4l-1-2l0 1l-1 2l0 1l-1-1l0 1l-1-2l0 1l-1-4l0 2l-1 3l0-2l-1 2l-1-1l0 1l-1-1l-1 4l0-4l-1-1l0-1l-1-1l0 5l-1 1l0-1l-1-4l0 1l-1 0l0 4l-1 1l0-4l-1-2l0-1l-1 1l-1-1l-1 4l-1-4l0-2l-1 3l0-1l-1 1l0-1l-1 0l0 1l-1-1l0-1l-1-3l-1 1l-1 0l0 4l-1-4l0 2l-1 3l0 3l-1-2l0 1l-1 0l0-4l-1 1l0 3l-1-1l-1 0l-1 1l-1-1l0-1l-1 1l-1-2l-1-2l0-1l-1 0l0-1l-1 0l-1 0l0-1l-1 2l0-1l-1 0l0-2l-1 2l-1 0l-1 0l0 1l-1-1l-1 4l-1-1l0 1l-1 1l0-1l-1 0l-1 0l0 1l-1-2l0 2l-1 0l-1 0l0 1l-1 0l0-1l-1 1l-1 0l0 1l-1 0l0-1l-1 2l-1 2l0-1l-1-1l-1 0l-1 0l0 1l-1 1l0-1l-1-1l0 1l-1-1l-1 1l-1-1l0 1l-1-1l-1-1l-1 0l0 1l-1 1l0-2l0-1l-1-2l-1 3l0-1l0-2l-1 0l-1-1l-1 1l-1 4l0-2l-1 0l0-2l0-1l-1 3l-1 1l0-4l-1 4l0 1l-1-1l0-2l-1 2l0 2l-1-3l0 3l-1 1l0-2l-1 1l0-4l0-1l-1 2l-1-1l0 1l0-5l-1 3l0-2l0-1l-1-2l0 1l0-5l-1 4l-1 1l0-1l-1-2l-1 5l0-2l-1 0l-1 8l1-8l-1 1l0-2l-1 0l-1 2l0-6l-1 4l-1 4l-1 0l-1 0l0-2l-1 3l0-2l-1-1l0-1l-1 1l0-1l-1 6l-1 1l0-2l-1-2l0-1l-1 2l0 1l-1 0l0-5l-1 4l-1 1l0-2l-1 0l0 1l-1 0l0-2l-1 0l-1 3l0-2l0-3l-1-1l0-1l0-2l0-2l0-3l-1 1l-1 2l-1 2l0-1l0-1l0-2" stroke="#bd4606"/><path d="M590 1301l-1 1l-1 1l0 1l-1-1l0 1l-1-1l-1 3l-1 0l0 1l-1-1l0-2l0-1l-1 1l0-3l-1 0l0 2l0-4l-1 3l-1 0l0-1l-1 1l0-1l-1 1l0-2l-1 0l0 1l-1 0l-1 0l0-1l-2 3l0-2l0-1l-1-1l-1 2l-1 2l1-3l-2 3l1-5l-3 7l0-1l0-2l-1-1l0-2l-1 1l0-3l-1 2l-1 1l-1 1l0-1l-1 1l-1 1l-1 0l0-2l-1 2l-1 0l0-1l-1-1l0 1l-1 2l-1-2l-1 1l0-3l-1 0l1-3l-1 0l-1 2l-1 0l0-1l-1 0l-1 1l0-1l-1 0l-1 0l0 1l-1-2l0-1l-1 1l-1 0l0-1l-1 0l-1 1l0-1l-1 1l0-1l-1 2l0-5l-1 2l-2 2l-1 0l0 1l-1-1l-1-2l-2 4l1-3l-1 2l-1 1l-1 0l-1 1l0 1l0-4l0-3l-2 7l1-4l-2 2l1-5l-2 5l0-3l-2 6l0-3l1-3l0-4l0 1l0-4l0-2l-2 3l-1 3l-1 2l0-1l-2 3l-1 2l-1-1l0-2l-1 0l1-5l-2 5l0-2l1-4l-1 0l-1 0l0-1l0-1l-1 3l1-7l-1 3l0-1l0-3l-3 7l0-1l0-2l1-5l-1 2l1-3l-2 4l-1 0l-1 2l0-1l0-3l-1 2l-2 5l0-3l1-4l-1 0l-1 3l0-2l-3 8l1-5l0-2l1-6l-3 9l-1 2l-2 2l-1 2l-1 0l-1 2l-1 1l-1 2l2-7l2-7l-2 6l1-5l1-5l0-2l0-1l-2 3l-1 1l-1 0l-2 3l1-4l-1 1l2-5l-2 2l1-2l-2 1l-2 5l1-5l-1 1l-1 1l1-4l-2 4l-2 5l1-6l-3 8l-3 5l1-4l-1 1l0 1l-4 6l4-10l0-1l-1 1l1-5l1-3l-2 3l1-4l-4 7l3-8l-1 2l0-1l1-5l-1 0l4-9l-3 4l-3 6l2-5l-1-1l-3 7l0-3l1-2l-4 7l-2 5l0-3l-2 4l7-18l-1 2l-1 0l0-1l1-4l-3 7l0-2l-1 0l-2 3l2-6l3-8l-1 2l-2 2l2-5l-1 2" stroke="#be4005"/><path d="M464 1255l0-2l0-2l-1 2l-3 6l1-4l-3 7l-4 7l5-12l2-6l-3 5l-3 5l-3 5l2-5l-1 1l-2 4l-2 4l0-3l-2 4l1-3l-1-1l-2 5l-2 2l0-2l0-1l-1 3l-1-1l-1 1l0 1l-1-1l1-2l-1 1l-1 1l-1-1l-1 0l0 1l-1-1l1-3l-1-1l0-2l0-1l0-1l-1 0l0-1l-1 0l0-1l-1 0l0-1l-1 1l0-1l0-1l-1 0l-1 0l-1 0l-1 0l-1 1l0-1l0-1l0-1l-2 2l-1-1l0-1l-1 0l-1 0l-1 0l0-1l0-1l0-1l0-1l-2 2l-1 1l0-3l0 1l-1 0l0-1l-1 1l0-2l0-1l-1 1l-1 0l-1 0l-1 1l0-1l0-2l-1 1l0-1l0-1l0-1l-1 0l1-2l0-1l0-1l-1 0l1-2l-1 0l-1 1l-1 0l-1 0l-1 1l-2 2l0-1l-1-1l-1 1l-1 0l0-2l-1 1l-1 1l0-2l1-2l-1 1l-1 0l0-1l0-2l-1 1l-1 0l-4 6l1-2l0-2l1-2l-1 1l-1 0l1-1l-1-1l0-1l0-1l-1 0l-2 2l0 1l-2 1l-2 2l0-1l1-2l0-2l-1 1l1-1l0-1l-1 0l0-2l1-2l1-3l-1 0l1-2l0-1l-3 4l2-3l-1 0l-1 1l2-5l-1 1l0-1l-1 2l-2 2l-2 1l-1 1l1-2l2-4l-1 0l-1 0l-1 1l-1 2l1-4l0-1l2-4l-3 4l-1 1l-1 1l0-2l-3 4l1-2l0-1l0-2l-5 6l-1 1l2-3l0-2l-2 3l-1 0l0-1l1-2l6-10l-5 6l-2 2l-2 2l1-3l6-10l-2 2l1-1l-1 0l-3 3l-1 0l1-2l-4 6l0-2l2-3l-4 5l0-2l4-6l-5 6l-1 0l-2 3l-2 2l0-1l1-3l-2 2l2-4l-3 4l0-1l1-2l-3 3l-2 2l3-4l-1-1l1-1l0-2l-2 3l1-2l-2 1l0-1l0-2l-1 1l0-1l-2 2l-2 2l2-5l-1 1l0-1l0-1l0-1l-1 1l0-1l-4 4l1-1l-1 0l2-3l5-8l-1 0l2-4l3-4l-3 3l-2 1l-2 2l-3 4l3-5l-2 3l-2 1l1-2l1-3l-3 3" stroke="#be3b05"/><path d="M338 1202l2-2l0-1l-4 4l-2 1l1-3l-1 1l2-4l-6 7l4-5l-3 2l2-2l-2 2l-1 0l-2 1l1-2l-3 3l0-1l1-2l0-1l0-1l1-2l1-2l3-4l-2 1l2-3l-1 0l1-2l-2 1l1-1l1-2l1-2l-3 2l-1 0l-1 1l0-1l-2 1l1-2l-1 1l0-1l-1 1l-1 0l-1 1l1-3l-1 0l-2 1l4-5l-4 4l-1 0l1-2l0-1l-1 0l0-1l1-1l-2 1l1-2l2-3l-5 6l1-2l0-1l-2 1l-2 1l3-4l-1 1l-2 0l1-1l-2 2l0-1l1-2l-1 1l-2 0l-1 1l0-1l-2 1l-4 4l2-4l2-2l-1 1l-1 0l0-1l0-1l0-1l-3 3l2-3l-1 1l-1-1l-3 3l2-3l-1 1l0-1l-2 1l2-3l-1 1l-2 2l-2 1l0-1l5-6l0-1l-3 3l-1-1l-1 2l-4 3l1-1l0-1l-1 0l-3 2l-2 1l4-4l-1 0l0-1l3-3l-2 1l-1 0l1-2l0-1l-1 1l-2 1l-1 1l2-3l-3 2l0-1l-1 1l1-2l-2 1l-1 1l1-2l-4 4l2-3l0-1l-1 0l1-2l-2 1l1-1l0-2l-2 1l2-2l-1 0l1-2l2-3l1-1l0-1l0-2l-1 1l-1 0l2-3l1-1l-1 0l-2 2l-3 2l3-4l-3 3l1-2l-1 0l-3 3l1-3l-2 2l-1 0l2-2l-1 0l1-2l-4 3l-1 0l4-4l-2 1l-1 0l-4 3l2-2l-2 0l-3 3l-2 2l1-3l-1 1l2-3l-2 1l2-2l-1 0l0-1l2-3l-1 1l-2 0l-1 0l-1 0l2-2l-1 0l1-2l1-1l4-4l-2 1l3-4l-3 2l-2 2l0-1l0-1l-2 1l5-5l-4 3l-1 0l0-1l1-1l-3 2l1-2l2-2l-2 1l-2 1l-1 1l0-1l0-1l2-3l-2 1l2-2l-1 0l-1 1l-5 4l0-2l2-2l-1 1l1-2l-5 4l2-2l1-2l-1-1l-1 0l1-1l-1 0l1-2l-3 3l1-2l-1 0l-2 2l2-3l-2 1l-1 0l-3 1l1-1l0-1l1-2l1-2l0-1l-2 2l1-2l1-2l1-1l-1 0l-1 0l0-1l-1 0l-2 1l0-1l-1 0l-5 3l2-2l-1 0l1-1l-1-1l1-1l-1 0l-1 1" stroke="#be3705"/><path d="M236 1111l-1-1l2-1l-3 1l-1-1l1-1l0-1l1-1l0-1l-1 0l-1 0l0-1l-1 1l-2 0l1-1l-1-1l1 0l-1 0l-2 0l1-1l-1 0l0-1l-1 1l1-2l-1 0l0-1l-1-1l0-1l-1 0l1-1l-1-1l0-1l-1 0l0-1l-1 0l-1 0l-1 0l0-1l0-1l-1 0l0-1l0-1l-1 0l0-1l-1 0l1-1l0-1l0-1l-1 1l0-1l-1 0l-1 0l0-1l-1 0l0-1l-1 0l0-1l-1 1l-1-1l1 0l-1-1l-2 0l1-1l-1 0l-1-1l1 0l-1 0l0-1l-1 0l-1 0l-1 0l1-1l-1 0l-1-1l-1 0l1-1l-1 0l-1 0l0-1l0-1l0-1l-1 0l-1 0l-1 1l0-1l1-1l0-1l-1 0l-1 0l1-1l1-2l-2 1l0-1l1-1l-3 1l-2 1l3-2l-1 0l-1 0l-1 0l0-1l-1 0l-2 1l2-2l1-1l2-2l0-1l2-2l-4 2l-4 2l-1 0l-1 0l3-2l-2 1l-1-1l-1 0l-1 0l4-3l0-1l-2 1l0-1l-1-1l3-2l-6 3l-1 0l-1 0l4-3l-4 2l4-3l-1-1l1-1l-1 0l2-2l-1 0l1-1l-5 3l1-2l-3 1l5-3l-3 1l-2 0l1 0l-5 2l3-2l0-1l-4 2l2-2l6-5l-2 1l1-1l0-1l2-1l-2 0l1-1l-3 1l-1 0l-1 0l3-2l-7 4l2-2l5-4l-3 1l1-1l1-1l-1-1l-7 4l3-2l2-2l3-3l-4 2l2-2l1-1l-1 0l-2 1l0-1l5-3l-9 4l9-5l-8 4l1-2l5-3l1-2l-1 0l-5 2l9-5l-1 0l-3 1l-1 0l-2 1l-5 2l-3 1l3-2l1-1l1-1l3-3l-1 0l-4 2l4-3l2-2l-5 3l-2 0l-1 0l2-1l2-2l-2 0l2-1l2-2l2-2l2-2l-2 1l-7 3l-2 1l-2 0l6-4l-4 2l0-1l2-2l2-2l1-1l2-1l-1 0l-1 0l-4 1l3-2l0-1l-3 2l-5 2l6-4l2-2l-7 3l2-2l6-3l-3 1l-2 1l-1 0l6-4l-8 3l8-4l2-2l-11 5l-5 2l-1 0l9-6l-1 0l-2 1l-8 3l1-1l2-1" stroke="#be3205"/><path d="M160 995l-2 0l-4 1l5-2l7-4l-4 1l8-4l-10 4l-8 3l-3 1l7-4l-4 2l5-3l-2 0l1-1l3-2l-11 5l0-1l3-2l11-6l0-1l-12 5l-4 1l8-4l8-5l3-1l-4 1l5-3l-5 2l-4 1l3-2l-9 4l2-2l-7 3l5-3l0-1l6-3l3-1l-7 2l-7 2l-5 2l1-1l1-1l2-2l4-2l4-2l-11 4l3-2l-1 0l-9 3l1-1l5-3l6-3l-4 1l2-1l-9 4l10-5l-5 1l-4 1l11-5l-2 0l-1 0l-4 1l3-1l1-1l4-2l-5 1l-5 2l5-3l3-2l1-1l-12 4l8-4l-3 1l14-6l0-1l-2 0l-5 1l-3 1l-4 1l-1 0l-5 1l6-2l1-1l0-1l-3 1l6-3l-11 4l2-2l1-1l3-1l0-1l-9 3l3-2l5-2l-1 0l4-2l-1 0l-12 4l10-5l5-2l-10 3l1-1l4-2l-3 1l-3 0l3-1l6-3l6-3l-5 1l-3 1l-1 0l-1 0l-3 0l-3 1l3-2l1-1l12-5l-6 2l-3 1l-1-1l-2 1l4-2l-7 2l4-2l0-1l-4 1l4-2l3-2l1-1l-3 1l1-1l1-1l0-1l3-2l-13 4l3-1l2-2l-1 0l4-2l-3 0l-7 2l-3 1l-4 1l8-4l-1 0l-2 0l-5 1l-1 0l3-2l8-3l-3 0l-7 2l9-4l2-1l3-1l5-3l-9 3l-1 0l2-2l-1 0l6-2l-3 0l-1 0l-1 0l0-1l-1 0l2-1l-3 0l-5 1l5-2l3-1l-3 0l1-1l3-1l-3 0l-5 1l0-1l1 0l10-4l-5 1l-1 0l-2 0l2-1l-2 0l-2 0l2-1l0-1l-1-1l1 0l1-1l-2 0l-2 0l4-2l-7 2l0-1l-6 1l4-2l5-3l-4 1l-3 1l-2-1l4-1l-1 0l-2 0l9-3l-5 0l3-1l-2 0l-2 0l1-1l1 0l-2 0l-1-1l-1 0l5-2l-5 1l2-1l-2 0l1-1l-1 0l-1-1l-1 0l3-1l-2 0l-1 0l-1-1l1 0l-2 0l-4 0l0-1l1 0l2-1l-1-1l-2 0l2 0l0-1l2-1l-4 0l-1 0l-1 0l-5 1l5-2l-3 0l2-1l-1-1l-3 0l0-1l2-1l-1 0l-1 0l1-1l2-1l2-1l-2 0l-1 0l-2 0l1-1l1-1" stroke="#be2d05"/><path d="M106 867l-2 0l0-1l-1 0l-1 0l-1-1l-4 0l1-1l2-1l-1 0l2-2l5-1l-4 0l-2 0l2-1l6-2l-4 0l0-1l3-1l1-1l-2 0l-4 0l-1 0l1-1l1-1l-1 0l3-1l-1 0l2-1l-1-1l-1 0l-2 0l0-1l1 0l0-1l2-1l-2 0l-1-1l-1 0l-1 0l-1-1l0-1l1 0l-2 0l0-1l1-1l-2 0l3-1l-4 0l1-1l-3 0l2-1l2-1l1-1l-3 0l-2-1l2 0l0-1l1-1l-1 0l0-1l-1 0l2-1l-2 0l-1-1l1-1l-3 0l1 0l1-1l0-1l-1 0l1-1l-1 0l0-1l1 0l-1-1l1 0l-1-1l5-1l-2 0l-1 0l0-1l0-1l2 0l-2-1l1 0l-2 0l1-1l0-1l-1 0l2-1l-1-1l3-1l1 0l-2 0l3-1l-4 0l1-1l-3 0l4-1l-2 0l2-1l-1-1l1-1l-3 0l-1 0l1-1l1 0l-1-1l3-1l-2 0l-3 0l-1 0l1-1l1-1l-1 0l2-1l-2 0l3-1l1-1l-2 0l-2-1l2 0l1-1l2-1l-3 0l4-1l-2 0l-3 0l-2-1l1 0l-2 0l2-1l-1-1l4-1l-1 0l0-1l-3 0l-2-1l-1 0l-1 0l2-1l0-1l-1-1l1-1l1 0l-1-1l-2 0l-1 0l3-1l0-1l-1-1l1-1l0-1l-1 0l0-1l-1 0l2-1l-1 0l1-1l-1 0l2-1l-2 0l3-1l-4 0l2-1l2 0l-2-1l-2 0l-1-1l1 0l0-1l1 0l1-1l-1 0l0-1l1-1l-2 0l4-1l-2 0l-1-1l2 0l-1-1l0-1l2 0l-3-1l1 0l4-1l1-1l-2 0l1-1l4 0l4-1l-7 0l-5 0l4-1l1-1l2 0l-4 0l2-1l-3 0l2-1l0-1l-2 0l0-1l-1 0l-4-1l3 0l5-1l0-1l-2 0l-1 0l4-1l-1-1l1 0l-2-1l1 0l4-1l-6 0l-3 0l8-1l-1-1l3-1l-2 0l1-1l-2 0l0-1l4-1l-1 0l0-1l1 0l-5-1l-3 0l1-1l2 0l-2-1l-5 0l3-1l2 0l0-1l7 0l3-1l-3 0l3-1l-3 0l-1-1l2 0l-1-1l-2 0l-4-1l-3 0l7-1l3 0l1 0" stroke="#be2905"/><path d="M103 728l-1-1l-1-1l-1 0l-4-1l2 0l1-1l-2 0l-1-1l-3-1l2 0l1 0l-3-1l-4-1l-6-1l4 0l-2-1l6 0l-1-1l-3-1l4 0l-2-1l-3 0l-2-1l5 0l0-1l-2 0l-3-1l2 0l3-1l-1 0l3-1l5 0l-2-1l1 0l-6-1l-2-1l-1 0l2-1l-1 0l0-1l3-1l-2 0l6 0l-7-1l2-1l-3 0l4-1l-3 0l-3-1l2 0l3-1l-2 0l4-1l-5 0l3-1l-5-1l-2 0l6 0l-6-1l0-1l2 0l0-1l-4 0l3-1l1 0l-2-1l6 0l-3-1l-2 0l-2-1l-1 0l3-1l-2 0l-2-1l0-1l7 0l2 0l2-1l-4-1l-2 0l-3-1l2 0l-1-1l-5-1l2 0l3 0l2-1l-4-1l-1-1l-1 0l10 0l-4-1l-4-1l9 1l-2-1l-7-1l3-1l1 0l4 0l2 0l4-1l-2-1l11 1l-6-1l-3-1l8 0l4 0l-10-1l0-1l3 0l-3-1l-2-1l2 0l-1-1l7 1l1-1l5 0l-6-1l-10-1l-4-1l10 0l-11-1l1-1l2 0l-1-1l5 0l-5-1l-6-1l10 1l1-1l4 0l-5-1l7 1l-1-1l-7-1l-3-1l0-1l4 0l4 0l1 0l-1-1l-5-1l9 1l-4-1l5 0l5 0l-10-2l-2-1l4 0l-1-1l-5-1l1 0l6 0l-8-2l6 1l-5-1l-2-1l2 0l1-1l10 1l-3-1l-13-2l6 0l-2-1l-3-1l1 0l0-1l1 0l-8-2l-2-1l8 1l1 0l3 0l0-1l-3-1l1 0l-5-1l-4-1l15 1l-7-1l2 0l5 0l-7-2l0-1l7 1l-4-1l0-1l9 1l5 1l1-1l-6-1l-4-2l4 1l-2-1l0-1l-1 0l-2-1l3 0l3 0l-6-2l-2-1l7 1l-1-1l4 1l-13-3l0-1l17 3l-15-3l-5-2l9 1l-5-1l6 0l6 1l-4-1l-7-2l1 0l-8-2l19 3l-6-2l2 0l5 1l-10-3l-3-1l6 0l-1 0l0-1l1 0l1 0l7 1l-1-1l-2-1l-8-2l4 0l-8-2l8 1l2 0l5 0l-6-1l3 0l-7-2l0-1l14 3l-4-2l2 0l7 2l-6-2l-4-2l1 0l5 0l-12-3l5 1l1 0l-6-2l-3-1l4 0l4 0l-11-3l4 1l-3-1l13 2l-2-1l4 1l0-1l-6-2l1 0l7 1l-5-2l-3-1l-6-2l-4-2" stroke="#be2405"/><path d="M95 585l14 4l-3-2l-5-2l-6-2l8 2l-2-1l8 1l2 0l10 2l-16-4l-3-1l14 3l-19-6l3 0l-10-3l13 3l-1-1l-5-1l12 2l-5-2l-5-2l-2-1l-1 0l7 1l7 1l-4-1l-2-1l0-1l14 3l-15-4l6 1l1 0l-1-1l-5-2l5 1l1 0l-1-1l7 1l1 0l-4-2l1 0l-9-4l-8-2l7 1l-1-1l2 0l-2-1l7 2l-3-1l-2-2l5 1l3 0l-1-1l-8-3l1 0l2 0l-5-2l5 1l1 0l1 0l0-1l3 0l-8-3l4 1l-1-1l0-1l-2-1l4 1l0-1l1 0l-2-1l-3-1l-1-1l4 0l-2-1l2 0l-2-1l4 1l1 0l-3-2l2 0l-3-2l1 0l1 0l1 0l2 0l-1-1l-2-1l0-1l4 1l-5-2l5 1l-3-1l2-1l-1 0l-1-1l1 0l-1-1l3 0l-2-1l0-1l1 0l3 1l0-1l-2-1l-1-1l3 1l-2-2l-2-1l3 1l-1-1l-1-1l3 0l-4-1l0-1l0-1l5 2l-3-2l-3-2l2 1l1 0l0-1l-1-1l-2-1l6 1l-5-2l5 1l2 0l1 0l-2-2l3 1l-3-2l-2-1l2 0l-2-1l-2-1l0-1l5 1l1 0l-2-1l-5-2l4 1l3 0l6 2l-5-3l-2-1l6 2l0-1l1 0l1 0l1 0l4 1l-6-3l2 0l2 0l-2-1l3 0l-7-3l2-1l2 1l4 1l0-1l4 1l1 0l-5-2l1 0l-4-2l3 0l2 0l1 0l7 3l4 1l-9-4l3 0l2 0l2 1l0-1l-1-1l3 0l-1-1l-6-3l-8-4l25 10l-1-1l-8-4l-6-3l-5-3l14 5l-6-3l-6-3l-5-3l-3-1l12 4l-11-5l-8-4l4 1l7 3l-4-3l-10-5l10 4l10 4l4 1l-9-5l1 1l-9-5l2 0l-3-1l-3-3l-4-2l4 1l3 1l3 1l-5-3l4 1l-3-2l1 0l2 0l6 3l-5-4l-6-3l11 5l2 0l15 6l-19-9l-2-1l3 1l-2-2l-5-3l5 2l-5-3l3 1l3 0l-8-4l9 4l3 1l12 5l-10-5l-7-4l-5-3l27 12l-6-3l11 4l-2-1l-7-4l2 0l-11-6l2 1l-1-1l-4-3l-2-1l-1-1l5 2l10 4l-4-3l-4-2l4 1l4 2l-7-5l13 6l3 1l7 3l8 4l-3-2l-2-2l1 0l-2-1l6 2l3 1l-5-4" stroke="#be2004"/><path d="M170 464l-3-2l3 1l-1-1l-3-2l-2-1l-4-3l13 6l3 1l2 1l4 1l-10-6l6 3l6 3l-8-5l-4-3l16 8l-4-2l-9-6l-4-2l6 2l6 3l-8-5l3 1l1 0l9 4l-2-1l-2-2l-5-3l-6-4l7 3l-13-7l-2-2l-5-3l5 2l4 2l5 2l-13-8l18 9l-4-2l7 3l-4-3l2 1l-3-2l-4-3l-1-1l3 1l-8-5l9 4l-2-2l9 5l2 0l-16-9l-2-2l10 5l1 0l-6-4l-5-4l10 5l4 2l1 0l-7-4l2 0l-15-9l10 5l4 2l-2-2l6 3l-3-3l-11-7l7 4l1 0l3 1l3 1l-6-4l-6-4l0-1l2 1l0-1l6 3l1 0l-4-2l4 2l0-1l4 1l5 3l-12-8l-10-7l-1-1l2 1l1 0l8 4l5 3l-15-10l13 7l-2-2l4 2l3 2l-7-5l9 5l-10-7l5 2l5 3l-6-4l4 2l3 1l0-1l-10-7l-4-3l-2-1l10 5l3 1l-13-9l2 1l-1-1l8 4l-1-1l-2-2l-3-2l-1-1l0-1l3 1l1 1l8 4l-7-5l1 0l3 1l-3-2l3 1l2 1l-2-2l2 1l-1-2l-1-1l1 0l1 0l-1-1l1 0l3 1l1 0l1 0l-1-1l1 0l-3-3l6 4l5 2l-2-2l-1-1l-3-2l0-2l-1-1l-1-1l1 0l3 1l-5-3l3 1l1 0l0-1l1 0l-2-2l-1-2l4 2l-2-2l6 3l0-1l1 0l-1 0l0-1l-1-1l1-1l3 2l2 1l0-1l-2-2l1-1l1 1l2 0l2 2l2 0l-1-1l1 0l1 0l0-1l-2-1l0-1l0-1" stroke="#be1c03"/><path d="M238 342l1 0l1 0l0-1l1 0l-1-1l0-1l0-1l0-1l0-1l2 1l-1-1l-1-2l1 0l-1-1l2 1l0-1l1 1l3 1l-2-1l3 1l-1-2l-1-2l2 1l-1-1l1 0l0-1l4 2l-1-1l0-1l2 1l-1-1l-2-2l-6-7l0-1l1 0l1 1l1 0l0-1l-1-1l2 1l-1-1l-2-3l0-1l3 2l1 0l3 2l1 1l-3-4l0-1l2 1l0-1l-2-2l4 3l2 1l-3-3l5 4l-4-5l6 5l-2-3l2 2l0-1l-1-1l3 2l0-1l3 2l-1-1l-4-5l-1-2l-6-6l1 1l0-2l5 5l-3-4l-1-2l-1-1l3 2l0-1l-2-2l0-1l-4-5l7 6l-2-3l6 5l-2-3l5 4l-1-1l4 3l-9-9l0-1l9 8l1 1l4 2l-4-3l4 2l-5-5l1 0l6 5l-10-10l3 2l-1-2l3 3l2 1l2 1l-9-10l5 5l-8-9l4 3l2 2l-6-8l13 13l-7-8l10 10l6 6l-3-4l6 5l-4-5l3 3l-1-2l-2-3l3 3l2 2l-1-2l-1-2l-2-3l2 1l2 2l-5-6l0-1l-4-5l12 12l-5-6l2 1l-4-5l1 0l-2-3l6 6l-6-7l12 13l2 1l-2-3l-1-1l-2-4l6 6l-3-3l-8-10l-2-3l7 7l4 4l0-1l2 1l-3-4l-9-11l4 4l0-1l4 4l-4-5l10 10l-14-16l7 7l3 3l2 1l2 1l-1-2l1 1l2 2l-1-2l2 1l-1-1l-2-3l3 3l-1-3l5 5l-3-4l4 4l-3-4l-2-4l2 2l-3-3l0-2l2 2l-6-8l1 1l7 6l3 4l0-1l0-1l2 2l4 4l-8-11l-2-3l-2-2l2 1l3 3l0-1l4 4l-1-3l2 3l-1-3l-1-1l-1-2l2 1l2 2l-4-5l5 4l-5-6l1 0l-7-9l-5-7l4 4l-3-4l5 5l7 8l-4-6l2 2l-8-11l-2-3l8 8l-2-3l1 1l-1-3l-5-7l5 5l1 0l-3-3l8 8l-5-7l7 8l-2-3l2 2l5 5l-2-2l1 0l3 2l1 1l3 3l2 2l3 2l-2-2l-8-12l6 8l2 2l6 6l-5-8l2 2l-2-3l0-2l-2-2l8 8l-1-1l4 4l-3-5l-4-6l5 6l4 5l-5-7l1 0l-1-2l0-1l-3-5l1 1l3 3l-2-4l-5-7l2 2l3 3l0-1l4 5l-6-9l8 10l-4-6l3 3" stroke="#be1701"/><path d="M338 248l5 5l-3-5l3 4l3 3l2 2l-1-2l-3-5l2 2l-1-3l1 2l1 0l0-1l0-1l1 1l1 0l-3-5l4 5l-3-5l0-1l2 1l1 1l0-1l3 4l-2-4l-1-3l2 1l-1-2l0-1l1 1l-1-2l1 0l-1-2l1 1l0-1l-1-3l2 2l0-1l-3-5l9 13l-3-5l-3-6l2 2l2 2l-3-5l1 0l0-1l-2-3l1 0l-1-2l2 2l1 1l-1-3l-1-2l1 0l-1-2l-1-3l1 2l1 1l2 0l-1-2l1 1l1 1l1 0l3 3l1 2l-1-3l2 3l-1-2l4 3l0 1l0-1l3 3l-2-4l0-1l0-1l0-1l-1-2l0-1l-1-2l1 0l-2-4l3 4l2 2l3 4l1 0l-3-4l2 1l-1-2l-1-2l2 2l-1-4l1 2l2 1l0-1l0-1l-2-5l3 4l-2-4l3 3l-3-5l1 0l0-1l1 1l1 1l2 2l-3-6l-2-4l5 8l2 2l1-1l2 1l1 1l1 1l-3-7l2 3l-4-7l4 6l-2-5l-1-3l1 2l0-2l1 1l-1-2l1 0l2 3l2 1l-1-2l4 6l-7-13l0-1l1 0l1 1l0-1l3 4l2 3l-2-4l0-1l2 3l0-2l-1-2l2 2l0-2l1 1l-2-5l2 3l1 0l-1-3l-2-4l1 1l4 6l0-2l1 2l-1-4l-1-1l0-2l0-2l0-1l-3-6l4 6l2 4l-2-6l2 3l-1-3l3 4l-2-4l0-2l4 6l0 1l2 2l1-1l-2-3l2 1l2 5l0-3l1 2l1 1l1 0l-1-3l1 1l0-2l-1-2l0-1l3 5l1 0l1 1l1 0l2 4l-1-3l-1-3l1 1l1 1l-1-3l1 1l4 6l-1-2l-1-4l0-1l1 1l-1-4l0-1l2 3l2 3l0-1l0-1l1 0l0-2l1 3l0-2l0-2l-1-2l2 2l0-1l2 4l0-3l-2-5l2 2l1 2l0-2l1 1l2 4l-1-5l-1-1l1 0l4 6l1 1l-1-3l-2-5l0-2l0-2l2 4l-1-3l-1-3l3 4l-1-3l-1-4l1 1l1 1l0-1l2 4l2 3l1 1l-1-3l-1-4l0-1l2 2l-1-2l2 2l1 2l2 2l-2-5l-1-3l0-1l0-2l0-1l0-2l2 3l1 1l-2-5l0-1l1 1l0-2l1 0l1 0l1 0l0-1l1 2l1 1l1 0l0-1l1 0l1 3" stroke="#be1300"/><path d="M452 164l2 2l0-1l4 7l-1-3l-1-3l2 3l1 0l-1-3l-2-5l3 5l1 2l1-1l1 2l0-2l-2-6l4 9l1 0l-1-2l0-1l2 2l-1-3l1 2l-2-7l0-1l2 2l-1-2l0-3l1 1l-2-5l1 1l0-1l-1-3l4 7l-3-8l2 4l-1-6l4 9l1 2l0-1l0-2l1 1l-2-6l0-1l3 5l1 2l2 4l1 2l-1-6l-1-4l-1-4l2 5l-2-6l4 8l-1-5l1 4l0-2l3 5l1 2l-1-3l1-1l0-2l0-3l0-1l-1-4l3 6l-2-7l1 1l1 0l0-2l1 2l0-4l0 1l2 4l0-2l1 0l0-1l2 4l0-2l1 3l0-2l0-1l1-1l-1-5l1 1l2 4l1 1l1 1l-1-2l0-2l1 2l2 3l1 1l0-1l1 1l1 1l-1-6l2 5l-1-4l1 0l-1-4l2 3l0-2l0-2l1 3l1 0l0-2l1 2l1 0l1 1l-1-2l1-1l0-1l1 1l0-3l0-3l0 1l1 0l1 2l-1-4l1 0l1 2l2 3l0-2l0-3l1 2l1 1l1 1l0-2l0-2l1 1l1 2l1 2l0-3l1 1l2 4l-1-5l1 1l0-3l0-3l0-1l2 5l1 1l0 1l2 4l0-1l1 0l1 1l-1-5l0-3l2 6l0-2l0-1l1 2l-1-4l1 1l1 0l-1-3l3 6l1 3l-1-6l1 3l1 1l2 5l-1-4l1 2l0-2l1 0l-1-4l1 2l1-1l0-1l1 3l1 0l0-1l2 6l0-3l1 2l-1-5l1 1l2 6l-1-4l1 0l0 1l0-3l1 1l0-1l1 1l1 0l0-1l1 2l0-3l1 2l1 1l1 0l0-3l1 5l0-5l1 4l0-1l1-1l0-1l0-2l2 3l0 1l1 0l1-2l0-1l1 2l0 1l1-1l1 0l0-1l1 0l1 3l0-2l-1-7l1-1l1 3l0-1l1-1l1 1l1 3l0-2l-1-6l1 1l1 2l1 2l0-5l0-3l1 4l1 3l1 0l1 3l1 2l0-3l1 3l0-4l0-2l1 2l1 0l-1-4l2 6l0-6l1 3l0-3l0-2l2 8l0-3l1-2l0-2l0-3l0-2l1-1l1 3l-1-5l1 1l1 4l0-1" stroke="#be0f00"/><path d="M589 124l1 0l0-1l1 0l1 0l1 3l1 2l0-3l0-3l1-1l0 2l0-7l2 8l0-1l1 2l1 2l-1-11l2 10l1 1l0 1l1 2l1 1l0-1l1 2l0-4l1 4l0-3l1-1l1-1l0-1l0-4l0-3l0-4l1 2l1-1l0-3l2 11l0-7l0-1l0-3l1 0l0-4l1 3l1 2l0-3l1 2l1 3l0-1l1 2l0-7l1 5l1 2l0-2l1-1l-1-7l1 5l1 1l1 2l1 8l1 0l-1-6l0-7l1 7l1 3l0-4l1-1l-1-11l1 8l0-7l1 1l1 3l0-4l1-2l0 1l0-2l2 10l0-3l1-2l1 3l0-1l1 0l1 2l1 3l0-2l1 2l0-5l0-5l1 7l1 6l1 3l0-7l1 6l0-4l1-1l-1-13l1 7l0-6l1-4l1 15l0-8l2 18l0-9l0-7l1-3l0 2l1 4l1 6l0-10l0 2l1 6l1 7l0-5l1 5l0-12l1 5l1 8l0-9l0-3l1 9l1 0l0-2l0-2l1 3l1 0l0-5l0 2l0-9l1-4l0 3l1 12l1-2l0-11l0-3l1 1l0 4l1 1l1 3l0-13l0 10l1-3l0-5l1 5l0-4l1-2l1 0l0-2l1 8l0-2l1 2l1 6l0-4l1-1l0 7l1-3l1-1l0-3l1 9l0-8l0-7l1-1l1 12l0-14l1 10l1 5l0 1l1 2l0 6l1-9l0-5l1 6l0-1l1 0l0 4l1-7l0-13l1 12l1-1l0 1l1-4l0 6l1 0l0-7l1 0l0 2l1 0l0 2l1-2l1 4l0 3l1 0l0-3l0-1" stroke="#be0b00"/></g>
<g stroke="#acacac" stroke-width="1.6">
<line x1="605.2" y1="480.2" x2="601.9" y2="470.8"/>
<line x1="665" y1="464.1" x2="664" y2="454.1"/>
<line x1="727.6" y1="462.2" x2="728.8" y2="452.3"/>
<line x1="789.4" y1="474.9" x2="792.9" y2="465.5"/>
<line x1="847.2" y1="501.8" x2="852.8" y2="493.5"/>
<line x1="897.6" y1="541.7" x2="905" y2="534.9"/>
<line x1="937.9" y1="592.7" x2="946.6" y2="587.7"/>
<line x1="965.5" y1="652.1" x2="975.2" y2="649.3"/>
<line x1="978.8" y1="716.8" x2="988.8" y2="716.3"/>
<line x1="976.8" y1="783.5" x2="986.6" y2="785.3"/>
<line x1="959.3" y1="848.4" x2="968.4" y2="852.5"/>
<line x1="927" y1="908.1" x2="934.9" y2="914.2"/>
<line x1="881.3" y1="959.2" x2="887.7" y2="966.9"/>
<line x1="824.6" y1="998.6" x2="829" y2="1007.6"/>
<line x1="759.8" y1="1024.1" x2="762" y2="1033.9"/>
<line x1="690.3" y1="1034.1" x2="690.2" y2="1044.1"/>
<line x1="619.7" y1="1027.7" x2="617.3" y2="1037.4"/>
<line x1="552" y1="1004.9" x2="547.5" y2="1013.8"/>
<line x1="490.9" y1="966.9" x2="484.4" y2="974.5"/>
<line x1="439.8" y1="915.3" x2="431.7" y2="921.2"/>
<line x1="401.7" y1="852.8" x2="392.4" y2="856.7"/>
<line x1="378.8" y1="782.7" x2="368.9" y2="784.3"/>
<line x1="372.7" y1="708.5" x2="362.7" y2="707.8"/>
<line x1="384" y1="634.4" x2="374.4" y2="631.4"/>
<line x1="412.3" y1="564.3" x2="403.7" y2="559.3"/>
<line x1="456.4" y1="502.2" x2="449.1" y2="495.3"/>
<line x1="514" y1="451.6" x2="508.6" y2="443.2"/>
<line x1="582.3" y1="415.3" x2="579" y2="405.9"/>
<line x1="657.7" y1="395.7" x2="656.7" y2="385.7"/>
<line x1="736.2" y1="393.9" x2="737.5" y2="384"/>
<line x1="813.6" y1="410.5" x2="817.1" y2="401.1"/>
<line x1="885.6" y1="444.7" x2="891.2" y2="436.4"/>
<line x1="948.2" y1="495" x2="955.5" y2="488.2"/>
<line x1="997.8" y1="558.9" x2="1006.5" y2="554"/>
<line x1="1031.7" y1="633" x2="1041.3" y2="630.2"/>
<line x1="1047.6" y1="713.5" x2="1057.6" y2="713"/>
<line x1="1044.4" y1="796.1" x2="1054.3" y2="797.9"/>
<line x1="1022.2" y1="876.3" x2="1031.3" y2="880.4"/>
<line x1="981.7" y1="949.8" x2="989.7" y2="955.8"/>
<line x1="925" y1="1012.3" x2="931.3" y2="1020"/>
<line x1="854.9" y1="1060.4" x2="859.3" y2="1069.4"/>
<line x1="775" y1="1091.2" x2="777.2" y2="1101"/>
<line x1="689.6" y1="1102.9" x2="689.5" y2="1112.9"/>
<line x1="603.2" y1="1094.4" x2="600.8" y2="1104.2"/>
<line x1="520.5" y1="1066.1" x2="515.9" y2="1075"/>
<line x1="446.1" y1="1019.1" x2="439.6" y2="1026.7"/>
<line x1="384.2" y1="955.8" x2="376.1" y2="961.7"/>
<line x1="338.2" y1="879.4" x2="329" y2="883.3"/>
<line x1="310.9" y1="793.9" x2="301.1" y2="795.5"/>
<line x1="304.1" y1="703.8" x2="294.1" y2="703.1"/>
<line x1="318.3" y1="614" x2="308.7" y2="611"/>
<line x1="353.1" y1="529.3" x2="344.5" y2="524.2"/>
<line x1="406.8" y1="454.5" x2="399.6" y2="447.6"/>
<line x1="476.8" y1="393.7" x2="471.4" y2="385.3"/>
<line x1="559.5" y1="350.4" x2="556.1" y2="341"/>
<line x1="650.4" y1="327.2" x2="649.4" y2="317.3"/>
<line x1="744.9" y1="325.7" x2="746.2" y2="315.8"/>
<line x1="837.8" y1="346.1" x2="841.3" y2="336.7"/>
<line x1="924" y1="387.6" x2="929.6" y2="379.3"/>
<line x1="998.7" y1="448.3" x2="1006" y2="441.5"/>
<line x1="1057.8" y1="525.1" x2="1066.5" y2="520.2"/>
<line x1="1097.8" y1="613.9" x2="1107.4" y2="611.2"/>
<line x1="1116.3" y1="710.2" x2="1126.3" y2="709.7"/>
<line x1="1112.1" y1="808.8" x2="1121.9" y2="810.6"/>
<line x1="1085.1" y1="904.2" x2="1094.2" y2="908.3"/>
<line x1="1036.5" y1="991.4" x2="1044.4" y2="997.5"/>
<line x1="968.7" y1="1065.5" x2="975" y2="1073.2"/>
<line x1="885.1" y1="1122.2" x2="889.5" y2="1131.2"/>
<line x1="790.2" y1="1158.4" x2="792.4" y2="1168.1"/>
<line x1="688.9" y1="1171.7" x2="688.8" y2="1181.7"/>
<line x1="586.6" y1="1161.2" x2="584.2" y2="1170.9"/>
<line x1="489" y1="1127.3" x2="484.4" y2="1136.2"/>
<line x1="401.4" y1="1071.4" x2="394.9" y2="1079"/>
<line x1="328.6" y1="996.3" x2="320.5" y2="1002.2"/>
<line x1="274.8" y1="906" x2="265.5" y2="909.9"/>
<line x1="243" y1="805.2" x2="233.2" y2="806.8"/>
<line x1="235.4" y1="699.1" x2="225.4" y2="698.4"/>
<line x1="252.6" y1="593.6" x2="243" y2="590.6"/>
<line x1="293.8" y1="494.3" x2="285.2" y2="489.2"/>
<line x1="357.2" y1="406.8" x2="350" y2="399.8"/>
<line x1="439.6" y1="335.8" x2="434.2" y2="327.4"/>
<line x1="536.6" y1="285.5" x2="533.3" y2="276.1"/>
<line x1="643.2" y1="258.8" x2="642.1" y2="248.9"/>
<line x1="753.6" y1="257.4" x2="754.9" y2="247.5"/>
<line x1="862" y1="281.7" x2="865.5" y2="272.3"/>
<line x1="962.4" y1="330.5" x2="967.9" y2="322.2"/>
<line x1="1049.2" y1="401.6" x2="1056.6" y2="394.8"/>
<line x1="1117.7" y1="491.3" x2="1126.4" y2="486.4"/>
<line x1="1163.9" y1="594.9" x2="1173.5" y2="592.1"/>
<line x1="1185" y1="706.9" x2="1195" y2="706.4"/>
<line x1="1179.7" y1="821.4" x2="1189.5" y2="823.2"/>
<line x1="1148" y1="932.1" x2="1157.1" y2="936.2"/>
<line x1="1091.2" y1="1033.1" x2="1099.2" y2="1039.1"/>
<line x1="1012.4" y1="1118.6" x2="1018.7" y2="1126.3"/>
<line x1="915.4" y1="1184" x2="919.8" y2="1193"/>
<line x1="805.4" y1="1225.5" x2="807.6" y2="1235.2"/>
<line x1="688.2" y1="1240.5" x2="688.1" y2="1250.5"/>
<line x1="570.1" y1="1228" x2="567.7" y2="1237.7"/>
<line x1="457.5" y1="1188.4" x2="452.9" y2="1197.3"/>
<line x1="356.6" y1="1123.6" x2="350.1" y2="1131.2"/>
<line x1="273" y1="1036.9" x2="264.9" y2="1042.7"/>
<line x1="211.3" y1="932.6" x2="202.1" y2="936.5"/>
<line x1="175.2" y1="816.4" x2="165.3" y2="818.1"/>
<line x1="166.8" y1="694.4" x2="156.8" y2="693.7"/>
<line x1="186.9" y1="573.2" x2="177.3" y2="570.2"/>
<line x1="234.6" y1="459.3" x2="226" y2="454.2"/>
<line x1="307.7" y1="359.1" x2="300.5" y2="352.1"/>
<line x1="402.4" y1="278" x2="397" y2="269.6"/>
<line x1="513.7" y1="220.6" x2="510.4" y2="211.2"/>
<line x1="635.9" y1="190.4" x2="634.8" y2="180.5"/>
<line x1="762.3" y1="189.2" x2="763.6" y2="179.3"/>
<line x1="886.2" y1="217.3" x2="889.7" y2="207.9"/>
<line x1="1000.8" y1="273.5" x2="1006.3" y2="265.2"/>
<line x1="1099.7" y1="354.9" x2="1107.1" y2="348.1"/>
<line x1="1177.6" y1="457.5" x2="1186.3" y2="452.6"/>
<line x1="1230" y1="575.8" x2="1239.6" y2="573.1"/>
<line x1="1253.7" y1="703.6" x2="1263.7" y2="703.1"/>
<line x1="1247.3" y1="834" x2="1257.2" y2="835.9"/>
<line x1="1210.9" y1="960" x2="1220" y2="964.1"/>
<line x1="1146" y1="1074.7" x2="1154" y2="1080.8"/>
<line x1="1056" y1="1171.8" x2="1062.4" y2="1179.5"/>
<line x1="945.6" y1="1245.8" x2="950" y2="1254.8"/>
<line x1="820.5" y1="1292.6" x2="822.8" y2="1302.3"/>
<line x1="687.5" y1="1309.3" x2="687.4" y2="1319.3"/>
<line x1="553.5" y1="1294.8" x2="551.1" y2="1304.5"/>
<line x1="426" y1="1249.6" x2="421.4" y2="1258.5"/>
<line x1="311.9" y1="1175.9" x2="305.3" y2="1183.5"/>
<line x1="217.4" y1="1077.4" x2="209.3" y2="1083.3"/>
<line x1="147.9" y1="959.2" x2="138.6" y2="963.1"/>
<line x1="107.3" y1="827.7" x2="97.4" y2="829.3"/>
<line x1="98.1" y1="689.7" x2="88.2" y2="689"/>
<line x1="121.2" y1="552.8" x2="111.6" y2="549.8"/>
<line x1="175.4" y1="424.3" x2="166.8" y2="419.2"/>
<line x1="258.1" y1="311.3" x2="250.9" y2="304.4"/>
<line x1="365.1" y1="220.1" x2="359.7" y2="211.7"/>
<line x1="490.9" y1="155.8" x2="487.5" y2="146.3"/>
<line x1="628.6" y1="122" x2="627.5" y2="112.1"/>
</g>
<path d="M535.9 515.3l7.4 -5.7l7.6 -5.4l7.8 -5.2l7.9 -4.9l8.2 -4.6l8.3 -4.3l8.5 -4.1l8.6 -3.7l8.8 -3.5l8.8 -3.1l9.1 -2.9l9.1 -2.5l9.2 -2.2l9.3 -1.9l9.3 -1.6l9.5 -1.2l9.5 -1l9.5 -0.6l9.5 -0.2l9.6 0.1l9.6 0.4l9.5 0.7l9.6 1.1l9.5 1.4l9.5 1.8l9.4 2.1l9.3 2.4l9.3 2.7l9.2 3.1l9.1 3.4l9 3.7l8.8 4l8.7 4.4l8.6 4.6l8.4 5l8.3 5.3l8 5.5l7.9 5.8l7.7 6.1l7.5 6.4l7.2 6.7l7.1 6.9l6.8 7.2l6.5 7.4l6.3 7.6l6 7.9l5.8 8l5.5 8.3l5.2 8.5l4.9 8.7l4.6 8.8l4.3 9.1l4 9.1l3.7 9.4l3.3 9.4l3 9.6l2.7 9.7l2.4 9.8l2 9.9l1.6 9.9l1.4 10.1l0.9 10l0.6 10.2l0.3 10.1l-0.1 10.2l-0.4 10.1l-0.8 10.2l-1.2 10.1l-1.5 10.1l-1.9 10.1l-2.2 10l-2.6 9.9l-2.9 9.9l-3.3 9.7l-3.6 9.7l-3.9 9.5l-4.3 9.4l-4.6 9.2l-5 9.1l-5.3 9l-5.5 8.7l-5.9 8.6l-6.2 8.3l-6.5 8.2l-6.8 7.9l-7.1 7.7l-7.3 7.5l-7.6 7.2l-7.8 6.9l-8.2 6.7l-8.3 6.4l-8.6 6.1l-8.8 5.8l-9 5.5l-9.2 5.2l-9.3 4.9l-9.6 4.5l-9.7 4.2l-9.9 3.9l-10 3.6l-10.2 3.2l-10.3 2.8l-10.3 2.5l-10.5 2.1l-10.6 1.8l-10.6 1.3l-10.7 1.1l-10.7 0.6l-10.7 0.3l-10.8 -0.1l-10.8 -0.5l-10.7 -0.9l-10.8 -1.2l-10.7 -1.6l-10.6 -2l-10.6 -2.3l-10.5 -2.8l-10.4 -3.1l-10.3 -3.4l-10.2 -3.9l-10.1 -4.1l-9.9 -4.6l-9.8 -4.9l-9.6 -5.2l-9.5 -5.6l-9.2 -5.9l-9.1 -6.2l-8.8 -6.6l-8.6 -6.8l-8.4 -7.2l-8.2 -7.5l-7.8 -7.7l-7.6 -8.1l-7.4 -8.3l-7 -8.6l-6.8 -8.8l-6.4 -9.1l-6.2 -9.2l-5.8 -9.6l-5.5 -9.7l-5.1 -9.9l-4.8 -10.1l-4.5 -10.3l-4.1 -10.4l-3.7 -10.6l-3.4 -10.7l-3 -10.9l-2.6 -11l-2.2 -11l-1.9 -11.2l-1.4 -11.2l-1.1 -11.2l-0.7 -11.4l-0.3 -11.3l0.1 -11.4l0.5 -11.3l1 -11.4l1.3 -11.3l1.7 -11.3l2.1 -11.2l2.5 -11.2l2.8 -11.1l3.3 -11l3.7 -10.9l4 -10.7l4.4 -10.7l4.8 -10.4l5.2 -10.4l5.5 -10.1l5.9 -10l6.2 -9.7l6.6 -9.6l6.9 -9.3l7.2 -9.1l7.6 -8.8l7.9 -8.6l8.2 -8.3l8.4 -8l8.8 -7.7l9 -7.4l9.3 -7.2l9.6 -6.8l9.8 -6.4l10 -6.1l10.3 -5.8l10.4 -5.4l10.7 -5.1l10.8 -4.7l11 -4.3l11.1 -3.9l11.3 -3.6l11.5 -3.1l11.5 -2.8l11.7 -2.3l11.7 -2l11.8 -1.5l11.9 -1.2l11.9 -0.7l11.9 -0.3l12 0.2l12 0.5l11.9 1l11.9 1.3l11.9 1.8l11.8 2.2l11.8 2.7l11.7 3l11.5 3.4l11.5 3.9l11.3 4.2l11.2 4.7l11 5l10.9 5.5l10.6 5.8l10.5 6.2l10.2 6.5l10.1 6.9l9.8 7.3l9.5 7.6l9.3 8l9 8.3l8.8 8.6l8.4 8.9l8.1 9.2l7.8 9.5l7.5 9.7l7.1 10.1l6.8 10.3l6.5 10.5l6 10.8l5.7 11l5.4 11.2l4.9 11.3l4.5 11.6l4.2 11.7l3.7 11.9l3.3 12l2.9 12.1l2.5 12.3l2 12.3l1.6 12.4l1.2 12.4l0.7 12.6l0.4 12.5l-0.2 12.6l-0.5 12.5l-1 12.6l-1.5 12.5l-1.9 12.5l-2.3 12.4l-2.7 12.3l-3.2 12.3l-3.6 12.1l-4.1 12l-4.4 11.9l-4.9 11.7l-5.3 11.6l-5.7 11.4l-6.1 11.2l-6.5 11l-6.9 10.7l-7.2 10.6l-7.7 10.2l-7.9 10.1l-8.4 9.7l-8.7 9.5l-9 9.1l-9.3 8.9l-9.7 8.5l-10 8.2l-10.2 7.8l-10.5 7.5l-10.8 7.1l-11.1 6.8l-11.3 6.3l-11.5 6l-11.7 5.6l-11.9 5.2l-12.2 4.7l-12.2 4.4l-12.5 3.9l-12.6 3.4l-12.7 3.1l-12.8 2.6l-12.9 2.1l-13 1.7l-13.1 1.2l-13.1 0.8l-13.1 0.3l-13.2 -0.1l-13.1 -0.6l-13.2 -1l-13.1 -1.5l-13.1 -2l-13 -2.4l-12.9 -2.9l-12.8 -3.3l-12.7 -3.8l-12.6 -4.3l-12.5 -4.6l-12.2 -5.1l-12.2 -5.6l-11.9 -5.9l-11.7 -6.4l-11.5 -6.8l-11.3 -7.2l-11 -7.6l-10.8 -8l-10.5 -8.3l-10.2 -8.8l-9.9 -9.1l-9.5 -9.4l-9.3 -9.8l-8.9 -10.1l-8.6 -10.4l-8.2 -10.7l-7.8 -11l-7.5 -11.3l-7.1 -11.6l-6.6 -11.8l-6.3 -12l-5.8 -12.3l-5.4 -12.5l-5 -12.7l-4.5 -12.8l-4.1 -13l-3.7 -13.2l-3.1 -13.3l-2.7 -13.4l-2.3 -13.5l-1.8 -13.6l-1.3 -13.6l-0.8 -13.7l-0.3 -13.8l0.1 -13.7l0.6 -13.8l1.1 -13.7l1.6 -13.7l2 -13.7l2.6 -13.6l3 -13.5l3.5 -13.4l3.9 -13.3l4.4 -13.2l4.9 -13l5.3 -12.8l5.8 -12.7l6.2 -12.4l6.7 -12.3l7.1 -12l7.5 -11.8l7.9 -11.5l8.4 -11.2l8.7 -11l9.1 -10.7l9.5 -10.3l9.9 -10l10.2 -9.7l10.5 -9.3l10.9 -9l11.2 -8.5l11.5 -8.2l11.8 -7.8l12.1 -7.4l12.3 -7l12.6 -6.5l12.8 -6.1l13 -5.7l13.2 -5.2l13.4 -4.7l13.6 -4.3l13.8 -3.8l13.8 -3.3l14 -2.8l14.1 -2.4l14.2 -1.8l14.2 -1.4l14.4 -0.9l14.3 -0.3l14.4 0.1l14.3 0.6l14.3 1.2l14.4 1.6l14.2 2.1l14.2 2.7l14.1 3.1l14 3.6l13.8 4.2l13.8 4.6l13.5 5l13.4 5.6l13.2 6l13 6.5l12.8 7l12.6 7.3l12.2 7.9l12.1 8.2l11.7 8.7l11.4 9.1l11.1 9.5l10.8 9.9l10.5 10.3l10.1 10.6l9.7 11l9.3 11.4l9 11.6l8.5 12l8.1 12.3l7.7 12.6l7.3 12.8l6.8 13.1l6.4 13.4l5.9 13.6l5.4 13.7l4.9 14l4.5 14.2l4 14.3l3.4 14.4l3 14.6l2.5 14.7l1.9 14.8l1.4 14.8l0.9 14.9l0.4 15l-0.1 14.9l-0.7 15l-1.1 14.9l-1.7 14.9l-2.3 14.8l-2.7 14.8l-3.3 14.7l-3.7 14.6l-4.3 14.4l-4.8 14.3l-5.3 14.1l-5.7 14l-6.3 13.8l-6.8 13.5l-7.2 13.3l-7.7 13.1l-8.1 12.8l-8.6 12.5l-9.1 12.2l-9.4 11.9l-9.9 11.6l-10.3 11.2l-10.7 10.9l-11.1 10.5l-11.4 10.1l-11.8 9.7l-12.1 9.4l-12.5 8.9l-12.8 8.4l-13.1 8l-13.3 7.6l-13.7 7.1l-13.8 6.6l-14.2 6.2l-14.3 5.6l-14.5 5.2l-14.7 4.6l-14.9 4.2l-15.1 3.6l-15.1 3.1l-15.3 2.5l-15.4 2.1l-15.4 1.4l-15.5 1l-15.6 0.4l-15.5 -0.1l-15.6 -0.7l-15.5 -1.2l-15.5 -1.8l-15.4 -2.3l-15.4 -2.8l-15.3 -3.4l-15.1 -3.9l-15 -4.4l-14.9 -5l-14.7 -5.5l-14.5 -6l-14.3 -6.5l-14.1 -7l-13.8 -7.5l-13.6 -8l-13.3 -8.4l-13 -9l-12.7 -9.4l-12.4 -9.8l-12.1 -10.3l-11.6 -10.6l-11.4 -11.1l-10.9 -11.5l-10.5 -11.9l-10.1 -12.3l-9.7 -12.6l-9.3 -12.9l-8.8 -13.3l-8.3 -13.6l-7.9 -13.9l-7.4 -14.1l-6.9 -14.5l-6.3 -14.6l-5.9 -14.9l-5.4 -15.1l-4.8 -15.3l-4.3 -15.4l-3.8 -15.7l-3.2 -15.7l-2.7 -15.9l-2.1 -15.9l-1.6 -16.1l-1 -16.1l-0.4 -16.1l0.1 -16.2l0.7 -16.1l1.3 -16.1l1.8 -16.1l2.3 -16.1l3 -15.9l3.5 -15.9l4 -15.7l4.6 -15.6l5.2 -15.5l5.7 -15.2l6.2 -15.1l6.7 -14.8l7.3 -14.7l7.8 -14.3l8.3 -14.1l8.7 -13.8l9.3 -13.6l9.7 -13.2l10.2 -12.8l10.7 -12.5l11.1 -12.1l11.5 -11.8l11.9 -11.3l12.3 -11l12.7 -10.5l13.1 -10l13.4 -9.6l13.8 -9.2l14.1 -8.7l14.4 -8.1l14.7 -7.7l14.9 -7.2l15.2 -6.6l15.5 -6.1l15.6 -5.6l15.9 -5l16 -4.5l16.2 -3.9l16.3 -3.4l16.5 -2.7l16.5 -2.2l16.7 -1.7l16.7 -1l16.7 -0.5l16.8 0.1l16.7 0.7l16.7 1.3l16.7 1.9l16.7 2.4l16.5 3.1l16.4 3.6l16.4 4.2l16.1 4.7l16.1 5.3l15.8 5.9l15.6 6.5l15.4 6.9l15.2 7.6l14.9 8l14.6 8.6l14.3 9.1l14 9.6l13.7 10.1l13.4 10.5l12.9 11l12.6 11.5l12.2 11.9l11.8 12.4l11.3 12.8l10.9 13.1l10.4 13.6l10 13.9l9.5 14.2l9 14.6l8.5 14.9l7.9 15.2l7.4 15.5l6.9 15.8l6.4 16l5.8 16.2l5.2 16.4l4.6 16.6l4.1 16.8l3.5 16.9l2.9 17.1l2.3 17.1l1.7 17.2l1.1 17.3l0.5 17.4l-0.1 17.3l-0.7 17.4l-1.4 17.3l-1.9 17.3l-2.5 17.2l-3.1 17.1l-3.8 17.1l-4.3 16.9l-4.9 16.7l-5.5 16.6l-6.1 16.4l-6.6 16.2l-7.2 15.9l-7.8 15.7l-8.4 15.5l-8.8 15.1l-9.4 14.9l-9.9 14.5l-10.5 14.2l-10.9 13.8l-11.4 13.4l-11.9 13l-12.3 12.6l-12.8 12.2l-13.2 11.8l-13.6 11.3l-14 10.8l-14.4 10.3l-14.7 9.9l-15.1 9.3l-15.4 8.8l-15.8 8.2l-16 7.7l-16.3 7.2l-16.5 6.5l-16.8 6l-17 5.5l-17.2 4.8l-17.3 4.2l-17.5 3.6l-17.7 3l-17.7 2.4l-17.8 1.8l-17.9 1.2l-17.9 0.5l-18 -0.1l-18 -0.7l-17.9 -1.4l-17.9 -2l-17.8 -2.6l-17.7 -3.2l-17.6 -3.8l-17.5 -4.5l-17.3 -5.1l-17.2 -5.6l-17 -6.3l-16.7 -6.9l-16.5 -7.4l-16.3 -8.1l-15.9 -8.6l-15.7 -9.1l-15.4 -9.7l-15 -10.3l-14.6 -10.7l-14.3 -11.3l-13.9 -11.8l-13.5 -12.2l-13.1 -12.8l-12.6 -13.2l-12.2 -13.6l-11.6 -14.1l-11.2 -14.5l-10.7 -14.8l-10.2 -15.3l-9.6 -15.6l-9.1 -15.9l-8.6 -16.3l-8 -16.5l-7.4 -16.9l-6.8 -17l-6.2 -17.4l-5.6 -17.5l-5 -17.8l-4.4 -17.9l-3.7 -18.1l-3.2 -18.2l-2.4 -18.4l-1.9 -18.4l-1.2 -18.5l-0.6 -18.5l0.1 -18.5l0.7 -18.6l1.4 -18.5l2.1 -18.5l2.6 -18.4l3.3 -18.3l4 -18.2l4.6 -18.1l5.2 -17.9l5.9 -17.7l6.4 -17.6l7.1 -17.3l7.7 -17l8.3 -16.8l8.8 -16.5l9.5 -16.2l10 -15.9l10.5 -15.5l11.2 -15.2l11.6 -14.8l12.2 -14.3l12.6 -14l13.2 -13.5l13.6 -13l14 -12.6l14.6 -12.1l14.9 -11.5l15.3 -11.1l15.8 -10.5l16.1 -10l16.4 -9.4l16.8 -8.8l17.1 -8.3l17.4 -7.6l17.6 -7.1l17.9 -6.4l18.1 -5.8l18.4 -5.2l18.5 -4.5l18.6 -3.9l18.8 -3.3l19 -2.6l19 -1.9l19.1 -1.3l19.1 -0.6l19.1 0.1l19.2 0.8l19.1 1.4l19.1 2l19 2.8l18.9 3.4l18.8 4l18.6 4.8l18.5 5.3l18.3 6.1l18.1 6.6l17.9 7.3l17.6 7.9l17.4 8.5l17 9.2l16.7 9.7l16.4 10.3l16 10.9l15.7 11.5l15.2 12l14.9 12.5l14.4 13l13.9 13.6l13.5 14l13 14.5l12.4 15l12 15.4l11.4 15.8l10.9 16.2l10.3 16.6l9.7 17l9.1 17.3l8.6 17.6l7.9 17.9l7.3 18.2l6.6 18.5l6 18.7l5.4 18.9l4.7 19l4 19.3l3.4 19.4l2.7 19.5l2 19.6l1.3 19.7l0.6 19.7l0 19.8l-0.8 19.7l-1.4 19.7l-2.1 19.7l-2.8 19.6l-3.5 19.5l-4.2 19.4l-4.8 19.2l-5.5 19.1l-6.2 18.9l-6.9 18.7l-7.5 18.4l-8.1 18.2l-8.8 17.8l-9.4 17.6l-10 17.3l-10.6 16.9l-11.2 16.5l-11.8 16.2l-12.4 15.7l-12.9 15.3l-13.4 14.8l-14 14.4l-14.4 13.9l-15 13.4l-15.4 12.9l-15.8 12.3l-16.3 11.8l-16.7 11.2l-17.1 10.7l-17.5 10l-17.8 9.4l-18.2 8.8l-18.4 8.2l-18.8 7.5l-19 6.9l-19.3 6.2l-19.4 5.6l-19.7 4.8l-19.8 4.2l-20 3.5l-20.1 2.8l-20.2 2.1l-20.3 1.4l-20.3 0.6l-20.3 0l-20.4 -0.8l-20.3 -1.4l-20.3 -2.2l-20.2 -2.8l-20.1 -3.6l-20 -4.3l-19.8 -5l-19.6 -5.6l-19.5 -6.4l-19.2 -7l-19 -7.7l-18.7 -8.4l-18.5 -9l-18.1 -9.7l-17.8 -10.3l-17.4 -10.9l-17 -11.5l-16.7 -12.2l-16.2 -12.7l-15.8 -13.2l-15.3 -13.9l-14.8 -14.3l-14.3 -14.9l-13.8 -15.4l-13.3 -15.8l-12.7 -16.4l-12.2 -16.7l-11.6 -17.2l-10.9 -17.6l-10.4 -18l-9.7 -18.3l-9.1 -18.7l-8.4 -19l-7.8 -19.3l-7.1 -19.6l-6.4 -19.8l-5.7 -20l-5.1 -20.3l-4.3 -20.4l-3.6 -20.5l-2.9 -20.7l-2.2 -20.8l-1.4 -20.9l-0.7 -20.9l0 -21l0.7 -20.9l1.5 -20.9l2.2 -20.9l3 -20.8l3.6 -20.7l4.4 -20.6l5.1 -20.4l5.8 -20.2l6.6 -20l7.2 -19.8l7.9 -19.6l8.6 -19.3l9.2 -19l10 -18.6l10.6 -18.3l11.2 -18l11.8 -17.5l12.5 -17.1l13 -16.7l13.7 -16.3l14.2 -15.8l14.7 -15.2l15.3 -14.8l15.8 -14.2l16.3 -13.7l16.8 -13.1l17.3 -12.5l17.6 -12l18.1 -11.3l18.5 -10.6l18.9 -10.1l19.2 -9.3l19.5 -8.7l19.9 -8l20.1 -7.4l20.4 -6.6l20.6 -5.9l20.8 -5.2l21 -4.5l21.1 -3.7l21.3 -3l21.4 -2.2l21.5 -1.5l21.5 -0.8" fill="none" stroke="#000" stroke-width="1"/>
<g font-size="18" fill="#000" stroke="#fff" stroke-width="0.3">
<text x="0" y="6.45" text-anchor="middle" textLength="67.2" lengthAdjust="spacingAndGlyphs" transform="translate(710.8 471.2) rotate(3.8)">05-May</text>
<text x="0" y="6.45" text-anchor="middle" textLength="67.2" lengthAdjust="spacingAndGlyphs" transform="translate(877.6 536.7) rotate(43.5)">08-May</text>
<text x="0" y="6.45" text-anchor="middle" textLength="65.7" lengthAdjust="spacingAndGlyphs" transform="translate(966.4 697.5) rotate(83.1)">11-May</text>
<text x="0" y="6.45" text-anchor="middle" textLength="67.2" lengthAdjust="spacingAndGlyphs" transform="translate(930.4 884.5) rotate(-57)">14-May</text>
<text x="0" y="6.45" text-anchor="middle" textLength="67.2" lengthAdjust="spacingAndGlyphs" transform="translate(779.3 1007.7) rotate(-17.2)">17-May</text>
<text x="0" y="6.45" text-anchor="middle" textLength="67.2" lengthAdjust="spacingAndGlyphs" transform="translate(579.2 1005.5) rotate(22.6)">20-May</text>
<text x="0" y="6.45" text-anchor="middle" textLength="67.2" lengthAdjust="spacingAndGlyphs" transform="translate(422.9 872.3) rotate(62.3)">23-May</text>
<text x="0" y="6.45" text-anchor="middle" textLength="67.2" lengthAdjust="spacingAndGlyphs" transform="translate(387.4 664.7) rotate(-77.9)">26-May</text>
<text x="0" y="6.45" text-anchor="middle" textLength="67.2" lengthAdjust="spacingAndGlyphs" transform="translate(495.7 478.1) rotate(-38.1)">29-May</text>
<text x="0" y="6.45" text-anchor="middle" textLength="61.6" lengthAdjust="spacingAndGlyphs" transform="translate(700.6 402.4) rotate(1.3)">01-Jun</text>
<text x="0" y="6.45" text-anchor="middle" textLength="61.6" lengthAdjust="spacingAndGlyphs" transform="translate(914.1 477.4) rotate(41.1)">04-Jun</text>
<text x="0" y="6.45" text-anchor="middle" textLength="61.6" lengthAdjust="spacingAndGlyphs" transform="translate(1032.5 676.3) rotate(80.9)">07-Jun</text>
<text x="0" y="6.45" text-anchor="middle" textLength="61.6" lengthAdjust="spacingAndGlyphs" transform="translate(995 910.1) rotate(-59.2)">10-Jun</text>
<text x="0" y="6.45" text-anchor="middle" textLength="61.6" lengthAdjust="spacingAndGlyphs" transform="translate(812.4 1068.8) rotate(-19.4)">13-Jun</text>
<text x="0" y="6.45" text-anchor="middle" textLength="61.6" lengthAdjust="spacingAndGlyphs" transform="translate(565.2 1073.6) rotate(20.5)">16-Jun</text>
<text x="0" y="6.45" text-anchor="middle" textLength="61.6" lengthAdjust="spacingAndGlyphs" transform="translate(368.5 915.4) rotate(60.4)">19-Jun</text>
<text x="0" y="6.45" text-anchor="middle" textLength="61.6" lengthAdjust="spacingAndGlyphs" transform="translate(318 662.8) rotate(-79.8)">22-Jun</text>
<text x="0" y="6.45" text-anchor="middle" textLength="61.6" lengthAdjust="spacingAndGlyphs" transform="translate(443.8 432) rotate(-39.9)">25-Jun</text>
<text x="0" y="6.45" text-anchor="middle" textLength="61.6" lengthAdjust="spacingAndGlyphs" transform="translate(693.2 333.8) rotate(0)">28-Jun</text>
<text x="0" y="6.45" text-anchor="middle" textLength="54.9" lengthAdjust="spacingAndGlyphs" transform="translate(949.9 418.1) rotate(39.4)">01-Jul</text>
<text x="0" y="6.45" text-anchor="middle" textLength="54.9" lengthAdjust="spacingAndGlyphs" transform="translate(1098.1 653.9) rotate(79.3)">04-Jul</text>
<text x="0" y="6.45" text-anchor="middle" textLength="54.9" lengthAdjust="spacingAndGlyphs" transform="translate(1059.6 935) rotate(-60.8)">07-Jul</text>
<text x="0" y="6.45" text-anchor="middle" textLength="54.9" lengthAdjust="spacingAndGlyphs" transform="translate(845.8 1129.5) rotate(-20.9)">10-Jul</text>
<text x="0" y="6.45" text-anchor="middle" textLength="54.9" lengthAdjust="spacingAndGlyphs" transform="translate(551.9 1141.5) rotate(19)">13-Jul</text>
<text x="0" y="6.45" text-anchor="middle" textLength="54.9" lengthAdjust="spacingAndGlyphs" transform="translate(314.6 958.9) rotate(58.9)">16-Jul</text>
<text x="0" y="6.45" text-anchor="middle" textLength="54.9" lengthAdjust="spacingAndGlyphs" transform="translate(248.7 661.5) rotate(-81.2)">19-Jul</text>
<text x="0" y="6.45" text-anchor="middle" textLength="54.9" lengthAdjust="spacingAndGlyphs" transform="translate(391.6 386.5) rotate(-41.3)">22-Jul</text>
<text x="0" y="6.45" text-anchor="middle" textLength="54.9" lengthAdjust="spacingAndGlyphs" transform="translate(682.6 265.4) rotate(-1.3)">25-Jul</text>
<text x="0" y="6.45" text-anchor="middle" textLength="54.9" lengthAdjust="spacingAndGlyphs" transform="translate(988.3 360.9) rotate(38.6)">28-Jul</text>
<text x="0" y="6.45" text-anchor="middle" textLength="54.9" lengthAdjust="spacingAndGlyphs" transform="translate(1164.3 634.8) rotate(78.5)">31-Jul</text>
<text x="0" y="6.45" text-anchor="middle" textLength="65" lengthAdjust="spacingAndGlyphs" transform="translate(1120.3 967.5) rotate(-61)">03-Aug</text>
<text x="0" y="6.45" text-anchor="middle" textLength="65" lengthAdjust="spacingAndGlyphs" transform="translate(871.5 1193.3) rotate(-21)">06-Aug</text>
<text x="0" y="6.45" text-anchor="middle" textLength="65" lengthAdjust="spacingAndGlyphs" transform="translate(530.5 1206.9) rotate(18.9)">09-Aug</text>
<text x="0" y="6.45" text-anchor="middle" textLength="65" lengthAdjust="spacingAndGlyphs" transform="translate(256.2 995.2) rotate(58.8)">12-Aug</text>
<text x="0" y="6.45" text-anchor="middle" textLength="65" lengthAdjust="spacingAndGlyphs" transform="translate(180.6 651.7) rotate(-81.3)">15-Aug</text>
<text x="0" y="6.45" text-anchor="middle" textLength="65" lengthAdjust="spacingAndGlyphs" transform="translate(345.7 335.3) rotate(-41.3)">18-Aug</text>
<text x="0" y="6.45" text-anchor="middle" textLength="65" lengthAdjust="spacingAndGlyphs" transform="translate(680.3 196.6) rotate(-1.4)">21-Aug</text>
<text x="0" y="6.45" text-anchor="middle" textLength="65" lengthAdjust="spacingAndGlyphs" transform="translate(1030.8 306.8) rotate(38.5)">24-Aug</text>
<text x="0" y="6.45" text-anchor="middle" textLength="65" lengthAdjust="spacingAndGlyphs" transform="translate(1231.6 620.7) rotate(78.5)">27-Aug</text>
<text x="0" y="6.45" text-anchor="middle" textLength="65" lengthAdjust="spacingAndGlyphs" transform="translate(1183.3 995.4) rotate(-61.6)">30-Aug</text>
<text x="0" y="6.45" text-anchor="middle" textLength="65" lengthAdjust="spacingAndGlyphs" transform="translate(901.8 1255.2) rotate(-21.7)">02-Sep</text>
<text x="0" y="6.45" text-anchor="middle" textLength="65" lengthAdjust="spacingAndGlyphs" transform="translate(513.9 1273.8) rotate(18.3)">05-Sep</text>
<text x="0" y="6.45" text-anchor="middle" textLength="65" lengthAdjust="spacingAndGlyphs" transform="translate(200.5 1035.8) rotate(58.2)">08-Sep</text>
<text x="0" y="6.45" text-anchor="middle" textLength="63.5" lengthAdjust="spacingAndGlyphs" transform="translate(111.8 647.8) rotate(-81.9)">11-Sep</text>
</g>
<circle cx="41.9" cy="28.3" r="15" fill="#afafaf"/>
<circle cx="41.9" cy="84.3" r="14.2" fill="none" stroke="#afafaf" stroke-width="1.4"/>
<text x="71.4" y="27.9" font-size="16" fill="#000" textLength="78" lengthAdjust="spacingAndGlyphs" stroke="#fff" stroke-width="0.25">New Moon</text>
<text x="71.4" y="83.6" font-size="16" fill="#000" textLength="73" lengthAdjust="spacingAndGlyphs" stroke="#fff" stroke-width="0.25">Full Moon</text>
<text x="1267.7" y="38.1" font-size="16.8" fill="#000" textLength="125.4" lengthAdjust="spacingAndGlyphs" stroke="#fff" stroke-width="0.25">Period: 27 days</text>
<text x="5.7" y="1394.6" font-size="16" fill="#000" textLength="104.3" lengthAdjust="spacingAndGlyphs" stroke="#fff" stroke-width="0.25">GI-UAF 2023</text>
<text x="1072.6" y="1395.5" font-size="16" fill="#000" textLength="318.9" lengthAdjust="spacingAndGlyphs" stroke="#fff" stroke-width="0.25">Condegram plotted Sep 17 at 11:01 UT</text>
<text x="701.4" y="61.4" font-size="14" fill="#000" textLength="51.5" lengthAdjust="spacingAndGlyphs" font-weight="bold">+20 nT</text>
<text x="701.4" y="89.1" font-size="14" fill="#000" textLength="51.5" lengthAdjust="spacingAndGlyphs" font-weight="bold">+10 nT</text>
<g stroke="#000"><line x1="671" y1="573.5" x2="707" y2="573.5" stroke-width="1"/><line x1="671" y1="642.4" x2="707" y2="642.4" stroke-width="1"/><line x1="688" y1="573.5" x2="688" y2="642.4" stroke-width="2"/></g>
<text x="719" y="579.7" font-size="19" fill="#000" textLength="55.8" lengthAdjust="spacingAndGlyphs" stroke="#fff" stroke-width="0.25">25 nT</text>
<text x="719" y="647.8" font-size="19" fill="#000" textLength="43" lengthAdjust="spacingAndGlyphs" stroke="#fff" stroke-width="0.25">0 nT</text>
<text x="629.4" y="758.6" style="font-family:&quot;Liberation Serif&quot;,serif;font-style:italic" font-size="35" fill="#f22a2a" textLength="113" lengthAdjust="spacingAndGlyphs">IMF B</text>
<text x="744" y="767.3" style="font-family:&quot;Liberation Serif&quot;,serif;font-style:italic" font-size="23" fill="#f22a2a">z</text>
<text x="639" y="803.9" font-size="33" fill="#f22a2a" textLength="107" lengthAdjust="spacingAndGlyphs" stroke="#fff" stroke-width="0.45">5.0 nT</text>
<text x="572" y="884.9" font-size="28" fill="#f22a2a" textLength="242.6" lengthAdjust="spacingAndGlyphs" stroke="#fff" stroke-width="0.45">Latest: 10:57 UT</text>
<text x="588.5" y="910.9" font-size="27.4" fill="#f22a2a" textLength="207.8" lengthAdjust="spacingAndGlyphs" stroke="#fff" stroke-width="0.45">2023-Sep-17</text>
</svg></body></html>
